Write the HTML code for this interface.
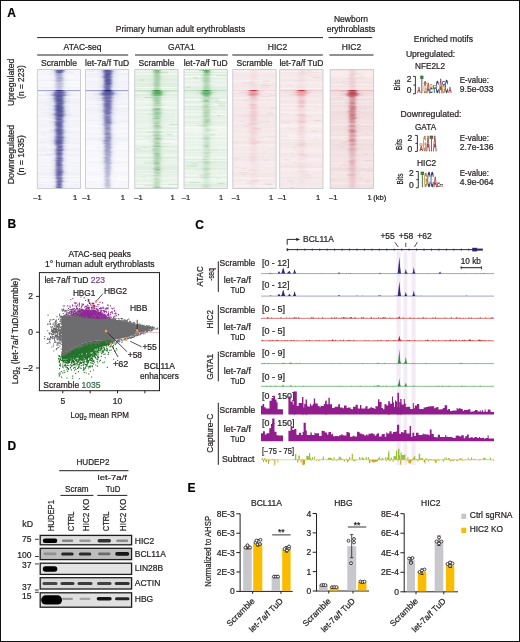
<!DOCTYPE html><html><head><meta charset="utf-8"><style>html,body{margin:0;padding:0;background:#fff;}body{width:520px;height:642px;overflow:hidden;font-family:"Liberation Sans",sans-serif;}svg{display:block;will-change:transform;}text{stroke:#231f20;stroke-width:0.22px;}</style></head><body><svg width="520" height="642" viewBox="0 0 520 642" font-family="Liberation Sans, sans-serif" fill="#231f20"><defs><linearGradient id="a0"><stop offset="0.375" stop-color="rgb(32,32,125)" stop-opacity="0.03"/><stop offset="0.391" stop-color="rgb(32,32,125)" stop-opacity="0.04"/><stop offset="0.406" stop-color="rgb(32,32,125)" stop-opacity="0.06"/><stop offset="0.422" stop-color="rgb(32,32,125)" stop-opacity="0.08"/><stop offset="0.438" stop-color="rgb(32,32,125)" stop-opacity="0.14"/><stop offset="0.453" stop-color="rgb(32,32,125)" stop-opacity="0.36"/><stop offset="0.469" stop-color="rgb(32,32,125)" stop-opacity="0.72"/><stop offset="0.484" stop-color="rgb(32,32,125)" stop-opacity="0.96"/><stop offset="0.500" stop-color="rgb(32,32,125)" stop-opacity="1.00"/><stop offset="0.516" stop-color="rgb(32,32,125)" stop-opacity="0.96"/><stop offset="0.531" stop-color="rgb(32,32,125)" stop-opacity="0.72"/><stop offset="0.547" stop-color="rgb(32,32,125)" stop-opacity="0.36"/><stop offset="0.562" stop-color="rgb(32,32,125)" stop-opacity="0.14"/><stop offset="0.578" stop-color="rgb(32,32,125)" stop-opacity="0.08"/><stop offset="0.594" stop-color="rgb(32,32,125)" stop-opacity="0.06"/><stop offset="0.609" stop-color="rgb(32,32,125)" stop-opacity="0.04"/><stop offset="0.625" stop-color="rgb(32,32,125)" stop-opacity="0.03"/></linearGradient><linearGradient id="a1"><stop offset="0.334" stop-color="rgb(32,32,125)" stop-opacity="0.03"/><stop offset="0.355" stop-color="rgb(32,32,125)" stop-opacity="0.04"/><stop offset="0.375" stop-color="rgb(32,32,125)" stop-opacity="0.06"/><stop offset="0.396" stop-color="rgb(32,32,125)" stop-opacity="0.08"/><stop offset="0.417" stop-color="rgb(32,32,125)" stop-opacity="0.14"/><stop offset="0.438" stop-color="rgb(32,32,125)" stop-opacity="0.36"/><stop offset="0.458" stop-color="rgb(32,32,125)" stop-opacity="0.72"/><stop offset="0.479" stop-color="rgb(32,32,125)" stop-opacity="0.96"/><stop offset="0.500" stop-color="rgb(32,32,125)" stop-opacity="1.00"/><stop offset="0.521" stop-color="rgb(32,32,125)" stop-opacity="0.96"/><stop offset="0.542" stop-color="rgb(32,32,125)" stop-opacity="0.72"/><stop offset="0.562" stop-color="rgb(32,32,125)" stop-opacity="0.36"/><stop offset="0.583" stop-color="rgb(32,32,125)" stop-opacity="0.14"/><stop offset="0.604" stop-color="rgb(32,32,125)" stop-opacity="0.08"/><stop offset="0.625" stop-color="rgb(32,32,125)" stop-opacity="0.06"/><stop offset="0.645" stop-color="rgb(32,32,125)" stop-opacity="0.04"/><stop offset="0.666" stop-color="rgb(32,32,125)" stop-opacity="0.03"/></linearGradient><linearGradient id="a2"><stop offset="0.292" stop-color="rgb(32,32,125)" stop-opacity="0.03"/><stop offset="0.318" stop-color="rgb(32,32,125)" stop-opacity="0.04"/><stop offset="0.344" stop-color="rgb(32,32,125)" stop-opacity="0.06"/><stop offset="0.370" stop-color="rgb(32,32,125)" stop-opacity="0.08"/><stop offset="0.396" stop-color="rgb(32,32,125)" stop-opacity="0.14"/><stop offset="0.422" stop-color="rgb(32,32,125)" stop-opacity="0.36"/><stop offset="0.448" stop-color="rgb(32,32,125)" stop-opacity="0.72"/><stop offset="0.474" stop-color="rgb(32,32,125)" stop-opacity="0.96"/><stop offset="0.500" stop-color="rgb(32,32,125)" stop-opacity="1.00"/><stop offset="0.526" stop-color="rgb(32,32,125)" stop-opacity="0.96"/><stop offset="0.552" stop-color="rgb(32,32,125)" stop-opacity="0.72"/><stop offset="0.578" stop-color="rgb(32,32,125)" stop-opacity="0.36"/><stop offset="0.604" stop-color="rgb(32,32,125)" stop-opacity="0.14"/><stop offset="0.630" stop-color="rgb(32,32,125)" stop-opacity="0.08"/><stop offset="0.656" stop-color="rgb(32,32,125)" stop-opacity="0.06"/><stop offset="0.682" stop-color="rgb(32,32,125)" stop-opacity="0.04"/><stop offset="0.708" stop-color="rgb(32,32,125)" stop-opacity="0.03"/></linearGradient><linearGradient id="a3"><stop offset="0.251" stop-color="rgb(32,32,125)" stop-opacity="0.03"/><stop offset="0.282" stop-color="rgb(32,32,125)" stop-opacity="0.04"/><stop offset="0.313" stop-color="rgb(32,32,125)" stop-opacity="0.06"/><stop offset="0.344" stop-color="rgb(32,32,125)" stop-opacity="0.08"/><stop offset="0.375" stop-color="rgb(32,32,125)" stop-opacity="0.14"/><stop offset="0.406" stop-color="rgb(32,32,125)" stop-opacity="0.36"/><stop offset="0.438" stop-color="rgb(32,32,125)" stop-opacity="0.72"/><stop offset="0.469" stop-color="rgb(32,32,125)" stop-opacity="0.96"/><stop offset="0.500" stop-color="rgb(32,32,125)" stop-opacity="1.00"/><stop offset="0.531" stop-color="rgb(32,32,125)" stop-opacity="0.96"/><stop offset="0.562" stop-color="rgb(32,32,125)" stop-opacity="0.72"/><stop offset="0.594" stop-color="rgb(32,32,125)" stop-opacity="0.36"/><stop offset="0.625" stop-color="rgb(32,32,125)" stop-opacity="0.14"/><stop offset="0.656" stop-color="rgb(32,32,125)" stop-opacity="0.08"/><stop offset="0.687" stop-color="rgb(32,32,125)" stop-opacity="0.06"/><stop offset="0.718" stop-color="rgb(32,32,125)" stop-opacity="0.04"/><stop offset="0.749" stop-color="rgb(32,32,125)" stop-opacity="0.03"/></linearGradient><linearGradient id="a4"><stop offset="0.209" stop-color="rgb(32,32,125)" stop-opacity="0.03"/><stop offset="0.245" stop-color="rgb(32,32,125)" stop-opacity="0.04"/><stop offset="0.282" stop-color="rgb(32,32,125)" stop-opacity="0.06"/><stop offset="0.318" stop-color="rgb(32,32,125)" stop-opacity="0.08"/><stop offset="0.355" stop-color="rgb(32,32,125)" stop-opacity="0.14"/><stop offset="0.391" stop-color="rgb(32,32,125)" stop-opacity="0.36"/><stop offset="0.427" stop-color="rgb(32,32,125)" stop-opacity="0.72"/><stop offset="0.464" stop-color="rgb(32,32,125)" stop-opacity="0.96"/><stop offset="0.500" stop-color="rgb(32,32,125)" stop-opacity="1.00"/><stop offset="0.536" stop-color="rgb(32,32,125)" stop-opacity="0.96"/><stop offset="0.573" stop-color="rgb(32,32,125)" stop-opacity="0.72"/><stop offset="0.609" stop-color="rgb(32,32,125)" stop-opacity="0.36"/><stop offset="0.645" stop-color="rgb(32,32,125)" stop-opacity="0.14"/><stop offset="0.682" stop-color="rgb(32,32,125)" stop-opacity="0.08"/><stop offset="0.718" stop-color="rgb(32,32,125)" stop-opacity="0.06"/><stop offset="0.755" stop-color="rgb(32,32,125)" stop-opacity="0.04"/><stop offset="0.791" stop-color="rgb(32,32,125)" stop-opacity="0.03"/></linearGradient><linearGradient id="a5"><stop offset="0.167" stop-color="rgb(32,32,125)" stop-opacity="0.03"/><stop offset="0.209" stop-color="rgb(32,32,125)" stop-opacity="0.04"/><stop offset="0.251" stop-color="rgb(32,32,125)" stop-opacity="0.06"/><stop offset="0.292" stop-color="rgb(32,32,125)" stop-opacity="0.08"/><stop offset="0.334" stop-color="rgb(32,32,125)" stop-opacity="0.14"/><stop offset="0.375" stop-color="rgb(32,32,125)" stop-opacity="0.36"/><stop offset="0.417" stop-color="rgb(32,32,125)" stop-opacity="0.72"/><stop offset="0.458" stop-color="rgb(32,32,125)" stop-opacity="0.96"/><stop offset="0.500" stop-color="rgb(32,32,125)" stop-opacity="1.00"/><stop offset="0.542" stop-color="rgb(32,32,125)" stop-opacity="0.96"/><stop offset="0.583" stop-color="rgb(32,32,125)" stop-opacity="0.72"/><stop offset="0.625" stop-color="rgb(32,32,125)" stop-opacity="0.36"/><stop offset="0.666" stop-color="rgb(32,32,125)" stop-opacity="0.14"/><stop offset="0.708" stop-color="rgb(32,32,125)" stop-opacity="0.08"/><stop offset="0.749" stop-color="rgb(32,32,125)" stop-opacity="0.06"/><stop offset="0.791" stop-color="rgb(32,32,125)" stop-opacity="0.04"/><stop offset="0.833" stop-color="rgb(32,32,125)" stop-opacity="0.03"/></linearGradient><linearGradient id="a6"><stop offset="0.118" stop-color="rgb(32,32,125)" stop-opacity="0.03"/><stop offset="0.165" stop-color="rgb(32,32,125)" stop-opacity="0.04"/><stop offset="0.213" stop-color="rgb(32,32,125)" stop-opacity="0.06"/><stop offset="0.261" stop-color="rgb(32,32,125)" stop-opacity="0.08"/><stop offset="0.309" stop-color="rgb(32,32,125)" stop-opacity="0.14"/><stop offset="0.357" stop-color="rgb(32,32,125)" stop-opacity="0.36"/><stop offset="0.404" stop-color="rgb(32,32,125)" stop-opacity="0.72"/><stop offset="0.452" stop-color="rgb(32,32,125)" stop-opacity="0.96"/><stop offset="0.500" stop-color="rgb(32,32,125)" stop-opacity="1.00"/><stop offset="0.548" stop-color="rgb(32,32,125)" stop-opacity="0.96"/><stop offset="0.596" stop-color="rgb(32,32,125)" stop-opacity="0.72"/><stop offset="0.643" stop-color="rgb(32,32,125)" stop-opacity="0.36"/><stop offset="0.691" stop-color="rgb(32,32,125)" stop-opacity="0.14"/><stop offset="0.739" stop-color="rgb(32,32,125)" stop-opacity="0.08"/><stop offset="0.787" stop-color="rgb(32,32,125)" stop-opacity="0.06"/><stop offset="0.835" stop-color="rgb(32,32,125)" stop-opacity="0.04"/><stop offset="0.882" stop-color="rgb(32,32,125)" stop-opacity="0.03"/></linearGradient><linearGradient id="a7"><stop offset="0.051" stop-color="rgb(32,32,125)" stop-opacity="0.03"/><stop offset="0.107" stop-color="rgb(32,32,125)" stop-opacity="0.04"/><stop offset="0.163" stop-color="rgb(32,32,125)" stop-opacity="0.06"/><stop offset="0.219" stop-color="rgb(32,32,125)" stop-opacity="0.08"/><stop offset="0.276" stop-color="rgb(32,32,125)" stop-opacity="0.14"/><stop offset="0.332" stop-color="rgb(32,32,125)" stop-opacity="0.36"/><stop offset="0.388" stop-color="rgb(32,32,125)" stop-opacity="0.72"/><stop offset="0.444" stop-color="rgb(32,32,125)" stop-opacity="0.96"/><stop offset="0.500" stop-color="rgb(32,32,125)" stop-opacity="1.00"/><stop offset="0.556" stop-color="rgb(32,32,125)" stop-opacity="0.96"/><stop offset="0.612" stop-color="rgb(32,32,125)" stop-opacity="0.72"/><stop offset="0.668" stop-color="rgb(32,32,125)" stop-opacity="0.36"/><stop offset="0.724" stop-color="rgb(32,32,125)" stop-opacity="0.14"/><stop offset="0.781" stop-color="rgb(32,32,125)" stop-opacity="0.08"/><stop offset="0.837" stop-color="rgb(32,32,125)" stop-opacity="0.06"/><stop offset="0.893" stop-color="rgb(32,32,125)" stop-opacity="0.04"/><stop offset="0.949" stop-color="rgb(32,32,125)" stop-opacity="0.03"/></linearGradient><linearGradient id="a8"><stop offset="0.000" stop-color="rgb(32,32,125)" stop-opacity="0.03"/><stop offset="0.062" stop-color="rgb(32,32,125)" stop-opacity="0.05"/><stop offset="0.125" stop-color="rgb(32,32,125)" stop-opacity="0.06"/><stop offset="0.188" stop-color="rgb(32,32,125)" stop-opacity="0.09"/><stop offset="0.250" stop-color="rgb(32,32,125)" stop-opacity="0.18"/><stop offset="0.312" stop-color="rgb(32,32,125)" stop-opacity="0.44"/><stop offset="0.375" stop-color="rgb(32,32,125)" stop-opacity="0.77"/><stop offset="0.438" stop-color="rgb(32,32,125)" stop-opacity="0.97"/><stop offset="0.500" stop-color="rgb(32,32,125)" stop-opacity="1.00"/><stop offset="0.562" stop-color="rgb(32,32,125)" stop-opacity="0.97"/><stop offset="0.625" stop-color="rgb(32,32,125)" stop-opacity="0.77"/><stop offset="0.688" stop-color="rgb(32,32,125)" stop-opacity="0.44"/><stop offset="0.750" stop-color="rgb(32,32,125)" stop-opacity="0.18"/><stop offset="0.812" stop-color="rgb(32,32,125)" stop-opacity="0.09"/><stop offset="0.875" stop-color="rgb(32,32,125)" stop-opacity="0.06"/><stop offset="0.938" stop-color="rgb(32,32,125)" stop-opacity="0.05"/><stop offset="1.000" stop-color="rgb(32,32,125)" stop-opacity="0.03"/></linearGradient><linearGradient id="g0"><stop offset="0.375" stop-color="rgb(38,140,45)" stop-opacity="0.03"/><stop offset="0.391" stop-color="rgb(38,140,45)" stop-opacity="0.04"/><stop offset="0.406" stop-color="rgb(38,140,45)" stop-opacity="0.06"/><stop offset="0.422" stop-color="rgb(38,140,45)" stop-opacity="0.08"/><stop offset="0.438" stop-color="rgb(38,140,45)" stop-opacity="0.14"/><stop offset="0.453" stop-color="rgb(38,140,45)" stop-opacity="0.36"/><stop offset="0.469" stop-color="rgb(38,140,45)" stop-opacity="0.72"/><stop offset="0.484" stop-color="rgb(38,140,45)" stop-opacity="0.96"/><stop offset="0.500" stop-color="rgb(38,140,45)" stop-opacity="1.00"/><stop offset="0.516" stop-color="rgb(38,140,45)" stop-opacity="0.96"/><stop offset="0.531" stop-color="rgb(38,140,45)" stop-opacity="0.72"/><stop offset="0.547" stop-color="rgb(38,140,45)" stop-opacity="0.36"/><stop offset="0.562" stop-color="rgb(38,140,45)" stop-opacity="0.14"/><stop offset="0.578" stop-color="rgb(38,140,45)" stop-opacity="0.08"/><stop offset="0.594" stop-color="rgb(38,140,45)" stop-opacity="0.06"/><stop offset="0.609" stop-color="rgb(38,140,45)" stop-opacity="0.04"/><stop offset="0.625" stop-color="rgb(38,140,45)" stop-opacity="0.03"/></linearGradient><linearGradient id="g1"><stop offset="0.334" stop-color="rgb(38,140,45)" stop-opacity="0.03"/><stop offset="0.355" stop-color="rgb(38,140,45)" stop-opacity="0.04"/><stop offset="0.375" stop-color="rgb(38,140,45)" stop-opacity="0.06"/><stop offset="0.396" stop-color="rgb(38,140,45)" stop-opacity="0.08"/><stop offset="0.417" stop-color="rgb(38,140,45)" stop-opacity="0.14"/><stop offset="0.438" stop-color="rgb(38,140,45)" stop-opacity="0.36"/><stop offset="0.458" stop-color="rgb(38,140,45)" stop-opacity="0.72"/><stop offset="0.479" stop-color="rgb(38,140,45)" stop-opacity="0.96"/><stop offset="0.500" stop-color="rgb(38,140,45)" stop-opacity="1.00"/><stop offset="0.521" stop-color="rgb(38,140,45)" stop-opacity="0.96"/><stop offset="0.542" stop-color="rgb(38,140,45)" stop-opacity="0.72"/><stop offset="0.562" stop-color="rgb(38,140,45)" stop-opacity="0.36"/><stop offset="0.583" stop-color="rgb(38,140,45)" stop-opacity="0.14"/><stop offset="0.604" stop-color="rgb(38,140,45)" stop-opacity="0.08"/><stop offset="0.625" stop-color="rgb(38,140,45)" stop-opacity="0.06"/><stop offset="0.645" stop-color="rgb(38,140,45)" stop-opacity="0.04"/><stop offset="0.666" stop-color="rgb(38,140,45)" stop-opacity="0.03"/></linearGradient><linearGradient id="g2"><stop offset="0.292" stop-color="rgb(38,140,45)" stop-opacity="0.03"/><stop offset="0.318" stop-color="rgb(38,140,45)" stop-opacity="0.04"/><stop offset="0.344" stop-color="rgb(38,140,45)" stop-opacity="0.06"/><stop offset="0.370" stop-color="rgb(38,140,45)" stop-opacity="0.08"/><stop offset="0.396" stop-color="rgb(38,140,45)" stop-opacity="0.14"/><stop offset="0.422" stop-color="rgb(38,140,45)" stop-opacity="0.36"/><stop offset="0.448" stop-color="rgb(38,140,45)" stop-opacity="0.72"/><stop offset="0.474" stop-color="rgb(38,140,45)" stop-opacity="0.96"/><stop offset="0.500" stop-color="rgb(38,140,45)" stop-opacity="1.00"/><stop offset="0.526" stop-color="rgb(38,140,45)" stop-opacity="0.96"/><stop offset="0.552" stop-color="rgb(38,140,45)" stop-opacity="0.72"/><stop offset="0.578" stop-color="rgb(38,140,45)" stop-opacity="0.36"/><stop offset="0.604" stop-color="rgb(38,140,45)" stop-opacity="0.14"/><stop offset="0.630" stop-color="rgb(38,140,45)" stop-opacity="0.08"/><stop offset="0.656" stop-color="rgb(38,140,45)" stop-opacity="0.06"/><stop offset="0.682" stop-color="rgb(38,140,45)" stop-opacity="0.04"/><stop offset="0.708" stop-color="rgb(38,140,45)" stop-opacity="0.03"/></linearGradient><linearGradient id="g3"><stop offset="0.251" stop-color="rgb(38,140,45)" stop-opacity="0.03"/><stop offset="0.282" stop-color="rgb(38,140,45)" stop-opacity="0.04"/><stop offset="0.313" stop-color="rgb(38,140,45)" stop-opacity="0.06"/><stop offset="0.344" stop-color="rgb(38,140,45)" stop-opacity="0.08"/><stop offset="0.375" stop-color="rgb(38,140,45)" stop-opacity="0.14"/><stop offset="0.406" stop-color="rgb(38,140,45)" stop-opacity="0.36"/><stop offset="0.438" stop-color="rgb(38,140,45)" stop-opacity="0.72"/><stop offset="0.469" stop-color="rgb(38,140,45)" stop-opacity="0.96"/><stop offset="0.500" stop-color="rgb(38,140,45)" stop-opacity="1.00"/><stop offset="0.531" stop-color="rgb(38,140,45)" stop-opacity="0.96"/><stop offset="0.562" stop-color="rgb(38,140,45)" stop-opacity="0.72"/><stop offset="0.594" stop-color="rgb(38,140,45)" stop-opacity="0.36"/><stop offset="0.625" stop-color="rgb(38,140,45)" stop-opacity="0.14"/><stop offset="0.656" stop-color="rgb(38,140,45)" stop-opacity="0.08"/><stop offset="0.687" stop-color="rgb(38,140,45)" stop-opacity="0.06"/><stop offset="0.718" stop-color="rgb(38,140,45)" stop-opacity="0.04"/><stop offset="0.749" stop-color="rgb(38,140,45)" stop-opacity="0.03"/></linearGradient><linearGradient id="g4"><stop offset="0.209" stop-color="rgb(38,140,45)" stop-opacity="0.03"/><stop offset="0.245" stop-color="rgb(38,140,45)" stop-opacity="0.04"/><stop offset="0.282" stop-color="rgb(38,140,45)" stop-opacity="0.06"/><stop offset="0.318" stop-color="rgb(38,140,45)" stop-opacity="0.08"/><stop offset="0.355" stop-color="rgb(38,140,45)" stop-opacity="0.14"/><stop offset="0.391" stop-color="rgb(38,140,45)" stop-opacity="0.36"/><stop offset="0.427" stop-color="rgb(38,140,45)" stop-opacity="0.72"/><stop offset="0.464" stop-color="rgb(38,140,45)" stop-opacity="0.96"/><stop offset="0.500" stop-color="rgb(38,140,45)" stop-opacity="1.00"/><stop offset="0.536" stop-color="rgb(38,140,45)" stop-opacity="0.96"/><stop offset="0.573" stop-color="rgb(38,140,45)" stop-opacity="0.72"/><stop offset="0.609" stop-color="rgb(38,140,45)" stop-opacity="0.36"/><stop offset="0.645" stop-color="rgb(38,140,45)" stop-opacity="0.14"/><stop offset="0.682" stop-color="rgb(38,140,45)" stop-opacity="0.08"/><stop offset="0.718" stop-color="rgb(38,140,45)" stop-opacity="0.06"/><stop offset="0.755" stop-color="rgb(38,140,45)" stop-opacity="0.04"/><stop offset="0.791" stop-color="rgb(38,140,45)" stop-opacity="0.03"/></linearGradient><linearGradient id="g5"><stop offset="0.167" stop-color="rgb(38,140,45)" stop-opacity="0.03"/><stop offset="0.209" stop-color="rgb(38,140,45)" stop-opacity="0.04"/><stop offset="0.251" stop-color="rgb(38,140,45)" stop-opacity="0.06"/><stop offset="0.292" stop-color="rgb(38,140,45)" stop-opacity="0.08"/><stop offset="0.334" stop-color="rgb(38,140,45)" stop-opacity="0.14"/><stop offset="0.375" stop-color="rgb(38,140,45)" stop-opacity="0.36"/><stop offset="0.417" stop-color="rgb(38,140,45)" stop-opacity="0.72"/><stop offset="0.458" stop-color="rgb(38,140,45)" stop-opacity="0.96"/><stop offset="0.500" stop-color="rgb(38,140,45)" stop-opacity="1.00"/><stop offset="0.542" stop-color="rgb(38,140,45)" stop-opacity="0.96"/><stop offset="0.583" stop-color="rgb(38,140,45)" stop-opacity="0.72"/><stop offset="0.625" stop-color="rgb(38,140,45)" stop-opacity="0.36"/><stop offset="0.666" stop-color="rgb(38,140,45)" stop-opacity="0.14"/><stop offset="0.708" stop-color="rgb(38,140,45)" stop-opacity="0.08"/><stop offset="0.749" stop-color="rgb(38,140,45)" stop-opacity="0.06"/><stop offset="0.791" stop-color="rgb(38,140,45)" stop-opacity="0.04"/><stop offset="0.833" stop-color="rgb(38,140,45)" stop-opacity="0.03"/></linearGradient><linearGradient id="g6"><stop offset="0.118" stop-color="rgb(38,140,45)" stop-opacity="0.03"/><stop offset="0.165" stop-color="rgb(38,140,45)" stop-opacity="0.04"/><stop offset="0.213" stop-color="rgb(38,140,45)" stop-opacity="0.06"/><stop offset="0.261" stop-color="rgb(38,140,45)" stop-opacity="0.08"/><stop offset="0.309" stop-color="rgb(38,140,45)" stop-opacity="0.14"/><stop offset="0.357" stop-color="rgb(38,140,45)" stop-opacity="0.36"/><stop offset="0.404" stop-color="rgb(38,140,45)" stop-opacity="0.72"/><stop offset="0.452" stop-color="rgb(38,140,45)" stop-opacity="0.96"/><stop offset="0.500" stop-color="rgb(38,140,45)" stop-opacity="1.00"/><stop offset="0.548" stop-color="rgb(38,140,45)" stop-opacity="0.96"/><stop offset="0.596" stop-color="rgb(38,140,45)" stop-opacity="0.72"/><stop offset="0.643" stop-color="rgb(38,140,45)" stop-opacity="0.36"/><stop offset="0.691" stop-color="rgb(38,140,45)" stop-opacity="0.14"/><stop offset="0.739" stop-color="rgb(38,140,45)" stop-opacity="0.08"/><stop offset="0.787" stop-color="rgb(38,140,45)" stop-opacity="0.06"/><stop offset="0.835" stop-color="rgb(38,140,45)" stop-opacity="0.04"/><stop offset="0.882" stop-color="rgb(38,140,45)" stop-opacity="0.03"/></linearGradient><linearGradient id="g7"><stop offset="0.051" stop-color="rgb(38,140,45)" stop-opacity="0.03"/><stop offset="0.107" stop-color="rgb(38,140,45)" stop-opacity="0.04"/><stop offset="0.163" stop-color="rgb(38,140,45)" stop-opacity="0.06"/><stop offset="0.219" stop-color="rgb(38,140,45)" stop-opacity="0.08"/><stop offset="0.276" stop-color="rgb(38,140,45)" stop-opacity="0.14"/><stop offset="0.332" stop-color="rgb(38,140,45)" stop-opacity="0.36"/><stop offset="0.388" stop-color="rgb(38,140,45)" stop-opacity="0.72"/><stop offset="0.444" stop-color="rgb(38,140,45)" stop-opacity="0.96"/><stop offset="0.500" stop-color="rgb(38,140,45)" stop-opacity="1.00"/><stop offset="0.556" stop-color="rgb(38,140,45)" stop-opacity="0.96"/><stop offset="0.612" stop-color="rgb(38,140,45)" stop-opacity="0.72"/><stop offset="0.668" stop-color="rgb(38,140,45)" stop-opacity="0.36"/><stop offset="0.724" stop-color="rgb(38,140,45)" stop-opacity="0.14"/><stop offset="0.781" stop-color="rgb(38,140,45)" stop-opacity="0.08"/><stop offset="0.837" stop-color="rgb(38,140,45)" stop-opacity="0.06"/><stop offset="0.893" stop-color="rgb(38,140,45)" stop-opacity="0.04"/><stop offset="0.949" stop-color="rgb(38,140,45)" stop-opacity="0.03"/></linearGradient><linearGradient id="g8"><stop offset="0.000" stop-color="rgb(38,140,45)" stop-opacity="0.03"/><stop offset="0.062" stop-color="rgb(38,140,45)" stop-opacity="0.05"/><stop offset="0.125" stop-color="rgb(38,140,45)" stop-opacity="0.06"/><stop offset="0.188" stop-color="rgb(38,140,45)" stop-opacity="0.09"/><stop offset="0.250" stop-color="rgb(38,140,45)" stop-opacity="0.18"/><stop offset="0.312" stop-color="rgb(38,140,45)" stop-opacity="0.44"/><stop offset="0.375" stop-color="rgb(38,140,45)" stop-opacity="0.77"/><stop offset="0.438" stop-color="rgb(38,140,45)" stop-opacity="0.97"/><stop offset="0.500" stop-color="rgb(38,140,45)" stop-opacity="1.00"/><stop offset="0.562" stop-color="rgb(38,140,45)" stop-opacity="0.97"/><stop offset="0.625" stop-color="rgb(38,140,45)" stop-opacity="0.77"/><stop offset="0.688" stop-color="rgb(38,140,45)" stop-opacity="0.44"/><stop offset="0.750" stop-color="rgb(38,140,45)" stop-opacity="0.18"/><stop offset="0.812" stop-color="rgb(38,140,45)" stop-opacity="0.09"/><stop offset="0.875" stop-color="rgb(38,140,45)" stop-opacity="0.06"/><stop offset="0.938" stop-color="rgb(38,140,45)" stop-opacity="0.05"/><stop offset="1.000" stop-color="rgb(38,140,45)" stop-opacity="0.03"/></linearGradient><linearGradient id="h0"><stop offset="0.375" stop-color="rgb(200,35,50)" stop-opacity="0.03"/><stop offset="0.391" stop-color="rgb(200,35,50)" stop-opacity="0.04"/><stop offset="0.406" stop-color="rgb(200,35,50)" stop-opacity="0.06"/><stop offset="0.422" stop-color="rgb(200,35,50)" stop-opacity="0.08"/><stop offset="0.438" stop-color="rgb(200,35,50)" stop-opacity="0.14"/><stop offset="0.453" stop-color="rgb(200,35,50)" stop-opacity="0.36"/><stop offset="0.469" stop-color="rgb(200,35,50)" stop-opacity="0.72"/><stop offset="0.484" stop-color="rgb(200,35,50)" stop-opacity="0.96"/><stop offset="0.500" stop-color="rgb(200,35,50)" stop-opacity="1.00"/><stop offset="0.516" stop-color="rgb(200,35,50)" stop-opacity="0.96"/><stop offset="0.531" stop-color="rgb(200,35,50)" stop-opacity="0.72"/><stop offset="0.547" stop-color="rgb(200,35,50)" stop-opacity="0.36"/><stop offset="0.562" stop-color="rgb(200,35,50)" stop-opacity="0.14"/><stop offset="0.578" stop-color="rgb(200,35,50)" stop-opacity="0.08"/><stop offset="0.594" stop-color="rgb(200,35,50)" stop-opacity="0.06"/><stop offset="0.609" stop-color="rgb(200,35,50)" stop-opacity="0.04"/><stop offset="0.625" stop-color="rgb(200,35,50)" stop-opacity="0.03"/></linearGradient><linearGradient id="h1"><stop offset="0.334" stop-color="rgb(200,35,50)" stop-opacity="0.03"/><stop offset="0.355" stop-color="rgb(200,35,50)" stop-opacity="0.04"/><stop offset="0.375" stop-color="rgb(200,35,50)" stop-opacity="0.06"/><stop offset="0.396" stop-color="rgb(200,35,50)" stop-opacity="0.08"/><stop offset="0.417" stop-color="rgb(200,35,50)" stop-opacity="0.14"/><stop offset="0.438" stop-color="rgb(200,35,50)" stop-opacity="0.36"/><stop offset="0.458" stop-color="rgb(200,35,50)" stop-opacity="0.72"/><stop offset="0.479" stop-color="rgb(200,35,50)" stop-opacity="0.96"/><stop offset="0.500" stop-color="rgb(200,35,50)" stop-opacity="1.00"/><stop offset="0.521" stop-color="rgb(200,35,50)" stop-opacity="0.96"/><stop offset="0.542" stop-color="rgb(200,35,50)" stop-opacity="0.72"/><stop offset="0.562" stop-color="rgb(200,35,50)" stop-opacity="0.36"/><stop offset="0.583" stop-color="rgb(200,35,50)" stop-opacity="0.14"/><stop offset="0.604" stop-color="rgb(200,35,50)" stop-opacity="0.08"/><stop offset="0.625" stop-color="rgb(200,35,50)" stop-opacity="0.06"/><stop offset="0.645" stop-color="rgb(200,35,50)" stop-opacity="0.04"/><stop offset="0.666" stop-color="rgb(200,35,50)" stop-opacity="0.03"/></linearGradient><linearGradient id="h2"><stop offset="0.292" stop-color="rgb(200,35,50)" stop-opacity="0.03"/><stop offset="0.318" stop-color="rgb(200,35,50)" stop-opacity="0.04"/><stop offset="0.344" stop-color="rgb(200,35,50)" stop-opacity="0.06"/><stop offset="0.370" stop-color="rgb(200,35,50)" stop-opacity="0.08"/><stop offset="0.396" stop-color="rgb(200,35,50)" stop-opacity="0.14"/><stop offset="0.422" stop-color="rgb(200,35,50)" stop-opacity="0.36"/><stop offset="0.448" stop-color="rgb(200,35,50)" stop-opacity="0.72"/><stop offset="0.474" stop-color="rgb(200,35,50)" stop-opacity="0.96"/><stop offset="0.500" stop-color="rgb(200,35,50)" stop-opacity="1.00"/><stop offset="0.526" stop-color="rgb(200,35,50)" stop-opacity="0.96"/><stop offset="0.552" stop-color="rgb(200,35,50)" stop-opacity="0.72"/><stop offset="0.578" stop-color="rgb(200,35,50)" stop-opacity="0.36"/><stop offset="0.604" stop-color="rgb(200,35,50)" stop-opacity="0.14"/><stop offset="0.630" stop-color="rgb(200,35,50)" stop-opacity="0.08"/><stop offset="0.656" stop-color="rgb(200,35,50)" stop-opacity="0.06"/><stop offset="0.682" stop-color="rgb(200,35,50)" stop-opacity="0.04"/><stop offset="0.708" stop-color="rgb(200,35,50)" stop-opacity="0.03"/></linearGradient><linearGradient id="h3"><stop offset="0.251" stop-color="rgb(200,35,50)" stop-opacity="0.03"/><stop offset="0.282" stop-color="rgb(200,35,50)" stop-opacity="0.04"/><stop offset="0.313" stop-color="rgb(200,35,50)" stop-opacity="0.06"/><stop offset="0.344" stop-color="rgb(200,35,50)" stop-opacity="0.08"/><stop offset="0.375" stop-color="rgb(200,35,50)" stop-opacity="0.14"/><stop offset="0.406" stop-color="rgb(200,35,50)" stop-opacity="0.36"/><stop offset="0.438" stop-color="rgb(200,35,50)" stop-opacity="0.72"/><stop offset="0.469" stop-color="rgb(200,35,50)" stop-opacity="0.96"/><stop offset="0.500" stop-color="rgb(200,35,50)" stop-opacity="1.00"/><stop offset="0.531" stop-color="rgb(200,35,50)" stop-opacity="0.96"/><stop offset="0.562" stop-color="rgb(200,35,50)" stop-opacity="0.72"/><stop offset="0.594" stop-color="rgb(200,35,50)" stop-opacity="0.36"/><stop offset="0.625" stop-color="rgb(200,35,50)" stop-opacity="0.14"/><stop offset="0.656" stop-color="rgb(200,35,50)" stop-opacity="0.08"/><stop offset="0.687" stop-color="rgb(200,35,50)" stop-opacity="0.06"/><stop offset="0.718" stop-color="rgb(200,35,50)" stop-opacity="0.04"/><stop offset="0.749" stop-color="rgb(200,35,50)" stop-opacity="0.03"/></linearGradient><linearGradient id="h4"><stop offset="0.209" stop-color="rgb(200,35,50)" stop-opacity="0.03"/><stop offset="0.245" stop-color="rgb(200,35,50)" stop-opacity="0.04"/><stop offset="0.282" stop-color="rgb(200,35,50)" stop-opacity="0.06"/><stop offset="0.318" stop-color="rgb(200,35,50)" stop-opacity="0.08"/><stop offset="0.355" stop-color="rgb(200,35,50)" stop-opacity="0.14"/><stop offset="0.391" stop-color="rgb(200,35,50)" stop-opacity="0.36"/><stop offset="0.427" stop-color="rgb(200,35,50)" stop-opacity="0.72"/><stop offset="0.464" stop-color="rgb(200,35,50)" stop-opacity="0.96"/><stop offset="0.500" stop-color="rgb(200,35,50)" stop-opacity="1.00"/><stop offset="0.536" stop-color="rgb(200,35,50)" stop-opacity="0.96"/><stop offset="0.573" stop-color="rgb(200,35,50)" stop-opacity="0.72"/><stop offset="0.609" stop-color="rgb(200,35,50)" stop-opacity="0.36"/><stop offset="0.645" stop-color="rgb(200,35,50)" stop-opacity="0.14"/><stop offset="0.682" stop-color="rgb(200,35,50)" stop-opacity="0.08"/><stop offset="0.718" stop-color="rgb(200,35,50)" stop-opacity="0.06"/><stop offset="0.755" stop-color="rgb(200,35,50)" stop-opacity="0.04"/><stop offset="0.791" stop-color="rgb(200,35,50)" stop-opacity="0.03"/></linearGradient><linearGradient id="h5"><stop offset="0.167" stop-color="rgb(200,35,50)" stop-opacity="0.03"/><stop offset="0.209" stop-color="rgb(200,35,50)" stop-opacity="0.04"/><stop offset="0.251" stop-color="rgb(200,35,50)" stop-opacity="0.06"/><stop offset="0.292" stop-color="rgb(200,35,50)" stop-opacity="0.08"/><stop offset="0.334" stop-color="rgb(200,35,50)" stop-opacity="0.14"/><stop offset="0.375" stop-color="rgb(200,35,50)" stop-opacity="0.36"/><stop offset="0.417" stop-color="rgb(200,35,50)" stop-opacity="0.72"/><stop offset="0.458" stop-color="rgb(200,35,50)" stop-opacity="0.96"/><stop offset="0.500" stop-color="rgb(200,35,50)" stop-opacity="1.00"/><stop offset="0.542" stop-color="rgb(200,35,50)" stop-opacity="0.96"/><stop offset="0.583" stop-color="rgb(200,35,50)" stop-opacity="0.72"/><stop offset="0.625" stop-color="rgb(200,35,50)" stop-opacity="0.36"/><stop offset="0.666" stop-color="rgb(200,35,50)" stop-opacity="0.14"/><stop offset="0.708" stop-color="rgb(200,35,50)" stop-opacity="0.08"/><stop offset="0.749" stop-color="rgb(200,35,50)" stop-opacity="0.06"/><stop offset="0.791" stop-color="rgb(200,35,50)" stop-opacity="0.04"/><stop offset="0.833" stop-color="rgb(200,35,50)" stop-opacity="0.03"/></linearGradient><linearGradient id="h6"><stop offset="0.118" stop-color="rgb(200,35,50)" stop-opacity="0.03"/><stop offset="0.165" stop-color="rgb(200,35,50)" stop-opacity="0.04"/><stop offset="0.213" stop-color="rgb(200,35,50)" stop-opacity="0.06"/><stop offset="0.261" stop-color="rgb(200,35,50)" stop-opacity="0.08"/><stop offset="0.309" stop-color="rgb(200,35,50)" stop-opacity="0.14"/><stop offset="0.357" stop-color="rgb(200,35,50)" stop-opacity="0.36"/><stop offset="0.404" stop-color="rgb(200,35,50)" stop-opacity="0.72"/><stop offset="0.452" stop-color="rgb(200,35,50)" stop-opacity="0.96"/><stop offset="0.500" stop-color="rgb(200,35,50)" stop-opacity="1.00"/><stop offset="0.548" stop-color="rgb(200,35,50)" stop-opacity="0.96"/><stop offset="0.596" stop-color="rgb(200,35,50)" stop-opacity="0.72"/><stop offset="0.643" stop-color="rgb(200,35,50)" stop-opacity="0.36"/><stop offset="0.691" stop-color="rgb(200,35,50)" stop-opacity="0.14"/><stop offset="0.739" stop-color="rgb(200,35,50)" stop-opacity="0.08"/><stop offset="0.787" stop-color="rgb(200,35,50)" stop-opacity="0.06"/><stop offset="0.835" stop-color="rgb(200,35,50)" stop-opacity="0.04"/><stop offset="0.882" stop-color="rgb(200,35,50)" stop-opacity="0.03"/></linearGradient><linearGradient id="h7"><stop offset="0.051" stop-color="rgb(200,35,50)" stop-opacity="0.03"/><stop offset="0.107" stop-color="rgb(200,35,50)" stop-opacity="0.04"/><stop offset="0.163" stop-color="rgb(200,35,50)" stop-opacity="0.06"/><stop offset="0.219" stop-color="rgb(200,35,50)" stop-opacity="0.08"/><stop offset="0.276" stop-color="rgb(200,35,50)" stop-opacity="0.14"/><stop offset="0.332" stop-color="rgb(200,35,50)" stop-opacity="0.36"/><stop offset="0.388" stop-color="rgb(200,35,50)" stop-opacity="0.72"/><stop offset="0.444" stop-color="rgb(200,35,50)" stop-opacity="0.96"/><stop offset="0.500" stop-color="rgb(200,35,50)" stop-opacity="1.00"/><stop offset="0.556" stop-color="rgb(200,35,50)" stop-opacity="0.96"/><stop offset="0.612" stop-color="rgb(200,35,50)" stop-opacity="0.72"/><stop offset="0.668" stop-color="rgb(200,35,50)" stop-opacity="0.36"/><stop offset="0.724" stop-color="rgb(200,35,50)" stop-opacity="0.14"/><stop offset="0.781" stop-color="rgb(200,35,50)" stop-opacity="0.08"/><stop offset="0.837" stop-color="rgb(200,35,50)" stop-opacity="0.06"/><stop offset="0.893" stop-color="rgb(200,35,50)" stop-opacity="0.04"/><stop offset="0.949" stop-color="rgb(200,35,50)" stop-opacity="0.03"/></linearGradient><linearGradient id="h8"><stop offset="0.000" stop-color="rgb(200,35,50)" stop-opacity="0.03"/><stop offset="0.062" stop-color="rgb(200,35,50)" stop-opacity="0.05"/><stop offset="0.125" stop-color="rgb(200,35,50)" stop-opacity="0.06"/><stop offset="0.188" stop-color="rgb(200,35,50)" stop-opacity="0.09"/><stop offset="0.250" stop-color="rgb(200,35,50)" stop-opacity="0.18"/><stop offset="0.312" stop-color="rgb(200,35,50)" stop-opacity="0.44"/><stop offset="0.375" stop-color="rgb(200,35,50)" stop-opacity="0.77"/><stop offset="0.438" stop-color="rgb(200,35,50)" stop-opacity="0.97"/><stop offset="0.500" stop-color="rgb(200,35,50)" stop-opacity="1.00"/><stop offset="0.562" stop-color="rgb(200,35,50)" stop-opacity="0.97"/><stop offset="0.625" stop-color="rgb(200,35,50)" stop-opacity="0.77"/><stop offset="0.688" stop-color="rgb(200,35,50)" stop-opacity="0.44"/><stop offset="0.750" stop-color="rgb(200,35,50)" stop-opacity="0.18"/><stop offset="0.812" stop-color="rgb(200,35,50)" stop-opacity="0.09"/><stop offset="0.875" stop-color="rgb(200,35,50)" stop-opacity="0.06"/><stop offset="0.938" stop-color="rgb(200,35,50)" stop-opacity="0.05"/><stop offset="1.000" stop-color="rgb(200,35,50)" stop-opacity="0.03"/></linearGradient><linearGradient id="n0"><stop offset="0.375" stop-color="rgb(165,25,40)" stop-opacity="0.03"/><stop offset="0.391" stop-color="rgb(165,25,40)" stop-opacity="0.04"/><stop offset="0.406" stop-color="rgb(165,25,40)" stop-opacity="0.06"/><stop offset="0.422" stop-color="rgb(165,25,40)" stop-opacity="0.08"/><stop offset="0.438" stop-color="rgb(165,25,40)" stop-opacity="0.14"/><stop offset="0.453" stop-color="rgb(165,25,40)" stop-opacity="0.36"/><stop offset="0.469" stop-color="rgb(165,25,40)" stop-opacity="0.72"/><stop offset="0.484" stop-color="rgb(165,25,40)" stop-opacity="0.96"/><stop offset="0.500" stop-color="rgb(165,25,40)" stop-opacity="1.00"/><stop offset="0.516" stop-color="rgb(165,25,40)" stop-opacity="0.96"/><stop offset="0.531" stop-color="rgb(165,25,40)" stop-opacity="0.72"/><stop offset="0.547" stop-color="rgb(165,25,40)" stop-opacity="0.36"/><stop offset="0.562" stop-color="rgb(165,25,40)" stop-opacity="0.14"/><stop offset="0.578" stop-color="rgb(165,25,40)" stop-opacity="0.08"/><stop offset="0.594" stop-color="rgb(165,25,40)" stop-opacity="0.06"/><stop offset="0.609" stop-color="rgb(165,25,40)" stop-opacity="0.04"/><stop offset="0.625" stop-color="rgb(165,25,40)" stop-opacity="0.03"/></linearGradient><linearGradient id="n1"><stop offset="0.334" stop-color="rgb(165,25,40)" stop-opacity="0.03"/><stop offset="0.355" stop-color="rgb(165,25,40)" stop-opacity="0.04"/><stop offset="0.375" stop-color="rgb(165,25,40)" stop-opacity="0.06"/><stop offset="0.396" stop-color="rgb(165,25,40)" stop-opacity="0.08"/><stop offset="0.417" stop-color="rgb(165,25,40)" stop-opacity="0.14"/><stop offset="0.438" stop-color="rgb(165,25,40)" stop-opacity="0.36"/><stop offset="0.458" stop-color="rgb(165,25,40)" stop-opacity="0.72"/><stop offset="0.479" stop-color="rgb(165,25,40)" stop-opacity="0.96"/><stop offset="0.500" stop-color="rgb(165,25,40)" stop-opacity="1.00"/><stop offset="0.521" stop-color="rgb(165,25,40)" stop-opacity="0.96"/><stop offset="0.542" stop-color="rgb(165,25,40)" stop-opacity="0.72"/><stop offset="0.562" stop-color="rgb(165,25,40)" stop-opacity="0.36"/><stop offset="0.583" stop-color="rgb(165,25,40)" stop-opacity="0.14"/><stop offset="0.604" stop-color="rgb(165,25,40)" stop-opacity="0.08"/><stop offset="0.625" stop-color="rgb(165,25,40)" stop-opacity="0.06"/><stop offset="0.645" stop-color="rgb(165,25,40)" stop-opacity="0.04"/><stop offset="0.666" stop-color="rgb(165,25,40)" stop-opacity="0.03"/></linearGradient><linearGradient id="n2"><stop offset="0.292" stop-color="rgb(165,25,40)" stop-opacity="0.03"/><stop offset="0.318" stop-color="rgb(165,25,40)" stop-opacity="0.04"/><stop offset="0.344" stop-color="rgb(165,25,40)" stop-opacity="0.06"/><stop offset="0.370" stop-color="rgb(165,25,40)" stop-opacity="0.08"/><stop offset="0.396" stop-color="rgb(165,25,40)" stop-opacity="0.14"/><stop offset="0.422" stop-color="rgb(165,25,40)" stop-opacity="0.36"/><stop offset="0.448" stop-color="rgb(165,25,40)" stop-opacity="0.72"/><stop offset="0.474" stop-color="rgb(165,25,40)" stop-opacity="0.96"/><stop offset="0.500" stop-color="rgb(165,25,40)" stop-opacity="1.00"/><stop offset="0.526" stop-color="rgb(165,25,40)" stop-opacity="0.96"/><stop offset="0.552" stop-color="rgb(165,25,40)" stop-opacity="0.72"/><stop offset="0.578" stop-color="rgb(165,25,40)" stop-opacity="0.36"/><stop offset="0.604" stop-color="rgb(165,25,40)" stop-opacity="0.14"/><stop offset="0.630" stop-color="rgb(165,25,40)" stop-opacity="0.08"/><stop offset="0.656" stop-color="rgb(165,25,40)" stop-opacity="0.06"/><stop offset="0.682" stop-color="rgb(165,25,40)" stop-opacity="0.04"/><stop offset="0.708" stop-color="rgb(165,25,40)" stop-opacity="0.03"/></linearGradient><linearGradient id="n3"><stop offset="0.251" stop-color="rgb(165,25,40)" stop-opacity="0.03"/><stop offset="0.282" stop-color="rgb(165,25,40)" stop-opacity="0.04"/><stop offset="0.313" stop-color="rgb(165,25,40)" stop-opacity="0.06"/><stop offset="0.344" stop-color="rgb(165,25,40)" stop-opacity="0.08"/><stop offset="0.375" stop-color="rgb(165,25,40)" stop-opacity="0.14"/><stop offset="0.406" stop-color="rgb(165,25,40)" stop-opacity="0.36"/><stop offset="0.438" stop-color="rgb(165,25,40)" stop-opacity="0.72"/><stop offset="0.469" stop-color="rgb(165,25,40)" stop-opacity="0.96"/><stop offset="0.500" stop-color="rgb(165,25,40)" stop-opacity="1.00"/><stop offset="0.531" stop-color="rgb(165,25,40)" stop-opacity="0.96"/><stop offset="0.562" stop-color="rgb(165,25,40)" stop-opacity="0.72"/><stop offset="0.594" stop-color="rgb(165,25,40)" stop-opacity="0.36"/><stop offset="0.625" stop-color="rgb(165,25,40)" stop-opacity="0.14"/><stop offset="0.656" stop-color="rgb(165,25,40)" stop-opacity="0.08"/><stop offset="0.687" stop-color="rgb(165,25,40)" stop-opacity="0.06"/><stop offset="0.718" stop-color="rgb(165,25,40)" stop-opacity="0.04"/><stop offset="0.749" stop-color="rgb(165,25,40)" stop-opacity="0.03"/></linearGradient><linearGradient id="n4"><stop offset="0.209" stop-color="rgb(165,25,40)" stop-opacity="0.03"/><stop offset="0.245" stop-color="rgb(165,25,40)" stop-opacity="0.04"/><stop offset="0.282" stop-color="rgb(165,25,40)" stop-opacity="0.06"/><stop offset="0.318" stop-color="rgb(165,25,40)" stop-opacity="0.08"/><stop offset="0.355" stop-color="rgb(165,25,40)" stop-opacity="0.14"/><stop offset="0.391" stop-color="rgb(165,25,40)" stop-opacity="0.36"/><stop offset="0.427" stop-color="rgb(165,25,40)" stop-opacity="0.72"/><stop offset="0.464" stop-color="rgb(165,25,40)" stop-opacity="0.96"/><stop offset="0.500" stop-color="rgb(165,25,40)" stop-opacity="1.00"/><stop offset="0.536" stop-color="rgb(165,25,40)" stop-opacity="0.96"/><stop offset="0.573" stop-color="rgb(165,25,40)" stop-opacity="0.72"/><stop offset="0.609" stop-color="rgb(165,25,40)" stop-opacity="0.36"/><stop offset="0.645" stop-color="rgb(165,25,40)" stop-opacity="0.14"/><stop offset="0.682" stop-color="rgb(165,25,40)" stop-opacity="0.08"/><stop offset="0.718" stop-color="rgb(165,25,40)" stop-opacity="0.06"/><stop offset="0.755" stop-color="rgb(165,25,40)" stop-opacity="0.04"/><stop offset="0.791" stop-color="rgb(165,25,40)" stop-opacity="0.03"/></linearGradient><linearGradient id="n5"><stop offset="0.167" stop-color="rgb(165,25,40)" stop-opacity="0.03"/><stop offset="0.209" stop-color="rgb(165,25,40)" stop-opacity="0.04"/><stop offset="0.251" stop-color="rgb(165,25,40)" stop-opacity="0.06"/><stop offset="0.292" stop-color="rgb(165,25,40)" stop-opacity="0.08"/><stop offset="0.334" stop-color="rgb(165,25,40)" stop-opacity="0.14"/><stop offset="0.375" stop-color="rgb(165,25,40)" stop-opacity="0.36"/><stop offset="0.417" stop-color="rgb(165,25,40)" stop-opacity="0.72"/><stop offset="0.458" stop-color="rgb(165,25,40)" stop-opacity="0.96"/><stop offset="0.500" stop-color="rgb(165,25,40)" stop-opacity="1.00"/><stop offset="0.542" stop-color="rgb(165,25,40)" stop-opacity="0.96"/><stop offset="0.583" stop-color="rgb(165,25,40)" stop-opacity="0.72"/><stop offset="0.625" stop-color="rgb(165,25,40)" stop-opacity="0.36"/><stop offset="0.666" stop-color="rgb(165,25,40)" stop-opacity="0.14"/><stop offset="0.708" stop-color="rgb(165,25,40)" stop-opacity="0.08"/><stop offset="0.749" stop-color="rgb(165,25,40)" stop-opacity="0.06"/><stop offset="0.791" stop-color="rgb(165,25,40)" stop-opacity="0.04"/><stop offset="0.833" stop-color="rgb(165,25,40)" stop-opacity="0.03"/></linearGradient><linearGradient id="n6"><stop offset="0.118" stop-color="rgb(165,25,40)" stop-opacity="0.03"/><stop offset="0.165" stop-color="rgb(165,25,40)" stop-opacity="0.04"/><stop offset="0.213" stop-color="rgb(165,25,40)" stop-opacity="0.06"/><stop offset="0.261" stop-color="rgb(165,25,40)" stop-opacity="0.08"/><stop offset="0.309" stop-color="rgb(165,25,40)" stop-opacity="0.14"/><stop offset="0.357" stop-color="rgb(165,25,40)" stop-opacity="0.36"/><stop offset="0.404" stop-color="rgb(165,25,40)" stop-opacity="0.72"/><stop offset="0.452" stop-color="rgb(165,25,40)" stop-opacity="0.96"/><stop offset="0.500" stop-color="rgb(165,25,40)" stop-opacity="1.00"/><stop offset="0.548" stop-color="rgb(165,25,40)" stop-opacity="0.96"/><stop offset="0.596" stop-color="rgb(165,25,40)" stop-opacity="0.72"/><stop offset="0.643" stop-color="rgb(165,25,40)" stop-opacity="0.36"/><stop offset="0.691" stop-color="rgb(165,25,40)" stop-opacity="0.14"/><stop offset="0.739" stop-color="rgb(165,25,40)" stop-opacity="0.08"/><stop offset="0.787" stop-color="rgb(165,25,40)" stop-opacity="0.06"/><stop offset="0.835" stop-color="rgb(165,25,40)" stop-opacity="0.04"/><stop offset="0.882" stop-color="rgb(165,25,40)" stop-opacity="0.03"/></linearGradient><linearGradient id="n7"><stop offset="0.051" stop-color="rgb(165,25,40)" stop-opacity="0.03"/><stop offset="0.107" stop-color="rgb(165,25,40)" stop-opacity="0.04"/><stop offset="0.163" stop-color="rgb(165,25,40)" stop-opacity="0.06"/><stop offset="0.219" stop-color="rgb(165,25,40)" stop-opacity="0.08"/><stop offset="0.276" stop-color="rgb(165,25,40)" stop-opacity="0.14"/><stop offset="0.332" stop-color="rgb(165,25,40)" stop-opacity="0.36"/><stop offset="0.388" stop-color="rgb(165,25,40)" stop-opacity="0.72"/><stop offset="0.444" stop-color="rgb(165,25,40)" stop-opacity="0.96"/><stop offset="0.500" stop-color="rgb(165,25,40)" stop-opacity="1.00"/><stop offset="0.556" stop-color="rgb(165,25,40)" stop-opacity="0.96"/><stop offset="0.612" stop-color="rgb(165,25,40)" stop-opacity="0.72"/><stop offset="0.668" stop-color="rgb(165,25,40)" stop-opacity="0.36"/><stop offset="0.724" stop-color="rgb(165,25,40)" stop-opacity="0.14"/><stop offset="0.781" stop-color="rgb(165,25,40)" stop-opacity="0.08"/><stop offset="0.837" stop-color="rgb(165,25,40)" stop-opacity="0.06"/><stop offset="0.893" stop-color="rgb(165,25,40)" stop-opacity="0.04"/><stop offset="0.949" stop-color="rgb(165,25,40)" stop-opacity="0.03"/></linearGradient><linearGradient id="n8"><stop offset="0.000" stop-color="rgb(165,25,40)" stop-opacity="0.03"/><stop offset="0.062" stop-color="rgb(165,25,40)" stop-opacity="0.05"/><stop offset="0.125" stop-color="rgb(165,25,40)" stop-opacity="0.06"/><stop offset="0.188" stop-color="rgb(165,25,40)" stop-opacity="0.09"/><stop offset="0.250" stop-color="rgb(165,25,40)" stop-opacity="0.18"/><stop offset="0.312" stop-color="rgb(165,25,40)" stop-opacity="0.44"/><stop offset="0.375" stop-color="rgb(165,25,40)" stop-opacity="0.77"/><stop offset="0.438" stop-color="rgb(165,25,40)" stop-opacity="0.97"/><stop offset="0.500" stop-color="rgb(165,25,40)" stop-opacity="1.00"/><stop offset="0.562" stop-color="rgb(165,25,40)" stop-opacity="0.97"/><stop offset="0.625" stop-color="rgb(165,25,40)" stop-opacity="0.77"/><stop offset="0.688" stop-color="rgb(165,25,40)" stop-opacity="0.44"/><stop offset="0.750" stop-color="rgb(165,25,40)" stop-opacity="0.18"/><stop offset="0.812" stop-color="rgb(165,25,40)" stop-opacity="0.09"/><stop offset="0.875" stop-color="rgb(165,25,40)" stop-opacity="0.06"/><stop offset="0.938" stop-color="rgb(165,25,40)" stop-opacity="0.05"/><stop offset="1.000" stop-color="rgb(165,25,40)" stop-opacity="0.03"/></linearGradient></defs><rect width="520" height="642" fill="#fff"/><text x="7.30" y="16.90" font-size="12.0" fill="#000" font-weight="bold" stroke="#000" stroke-width="0.1">A</text>
<text x="7.60" y="228.30" font-size="12.0" fill="#000" font-weight="bold" stroke="#000" stroke-width="0.1">B</text>
<text x="195.20" y="229.00" font-size="12.0" fill="#000" font-weight="bold" stroke="#000" stroke-width="0.1">C</text>
<text x="7.60" y="449.80" font-size="12.0" fill="#000" font-weight="bold" stroke="#000" stroke-width="0.1">D</text>
<text x="187.60" y="492.10" font-size="12.0" fill="#000" font-weight="bold" stroke="#000" stroke-width="0.1">E</text>
<text x="180.50" y="32.10" font-size="8.5" text-anchor="middle">Primary human adult erythroblasts</text>
<line x1="37.20" y1="37.60" x2="323.00" y2="37.60" stroke="#231f20" stroke-width="1.0"/>
<text x="351.00" y="22.00" font-size="8.5" text-anchor="middle">Newborn</text>
<text x="351.00" y="31.80" font-size="8.5" text-anchor="middle">erythroblasts</text>
<line x1="328.50" y1="37.60" x2="372.20" y2="37.60" stroke="#231f20" stroke-width="1.0"/>
<text x="82.60" y="49.80" font-size="8.5" text-anchor="middle">ATAC-seq</text>
<text x="181.40" y="49.80" font-size="8.5" text-anchor="middle">GATA1</text>
<text x="277.50" y="49.80" font-size="8.5" text-anchor="middle">HIC2</text>
<text x="351.50" y="49.80" font-size="8.5" text-anchor="middle">HIC2</text>
<line x1="37.20" y1="55.00" x2="128.20" y2="55.00" stroke="#231f20" stroke-width="1.0"/>
<line x1="135.00" y1="55.00" x2="227.80" y2="55.00" stroke="#231f20" stroke-width="1.0"/>
<line x1="232.30" y1="55.00" x2="322.90" y2="55.00" stroke="#231f20" stroke-width="1.0"/>
<line x1="329.50" y1="55.00" x2="373.50" y2="55.00" stroke="#231f20" stroke-width="1.0"/>
<text x="58.95" y="65.80" font-size="8.5" text-anchor="middle">Scramble</text>
<text x="107.05" y="65.80" font-size="8.5" text-anchor="middle">let-7a/f TuD</text>
<text x="156.45" y="65.80" font-size="8.5" text-anchor="middle">Scramble</text>
<text x="205.65" y="65.80" font-size="8.5" text-anchor="middle">let-7a/f TuD</text>
<text x="254.45" y="65.80" font-size="8.5" text-anchor="middle">Scramble</text>
<text x="301.35" y="65.80" font-size="8.5" text-anchor="middle">let-7a/f TuD</text>
<g transform="translate(37.30 0)">
<rect x="0.00" y="69.60" width="43.30" height="118.90" fill="rgb(252,252,255)"/>
<rect y="69.6" width="43.3" height="0.7" fill="rgb(32,32,125)" opacity="0.02"/>
<rect y="71.0" width="43.3" height="1.0" fill="rgb(32,32,125)" opacity="0.01"/>
<rect x="30.8" y="72.0" width="5.9" height=".8" fill="rgb(32,32,125)" opacity="0.05"/>
<rect y="72.7" width="43.3" height="0.7" fill="rgb(32,32,125)" opacity="0.02"/>
<rect y="73.4" width="43.3" height="0.7" fill="rgb(32,32,125)" opacity="0.02"/>
<rect x="11.7" y="73.4" width="2.2" height=".8" fill="rgb(32,32,125)" opacity="0.04"/>
<rect y="74.1" width="43.3" height="0.7" fill="rgb(32,32,125)" opacity="0.03"/>
<rect y="74.8" width="43.3" height="0.7" fill="rgb(32,32,125)" opacity="0.03"/>
<rect y="76.8" width="43.3" height="1.0" fill="rgb(32,32,125)" opacity="0.02"/>
<rect y="79.1" width="43.3" height="1.0" fill="rgb(32,32,125)" opacity="0.03"/>
<rect y="80.1" width="43.3" height="1.3" fill="rgb(32,32,125)" opacity="0.03"/>
<rect x="23.2" y="80.1" width="8.5" height=".8" fill="rgb(32,32,125)" opacity="0.02"/>
<rect y="82.7" width="43.3" height="1.3" fill="rgb(32,32,125)" opacity="0.02"/>
<rect y="84.0" width="43.3" height="1.3" fill="rgb(32,32,125)" opacity="0.02"/>
<rect y="86.3" width="43.3" height="1.0" fill="rgb(32,32,125)" opacity="0.03"/>
<rect y="87.3" width="43.3" height="1.3" fill="rgb(32,32,125)" opacity="0.03"/>
<rect y="88.6" width="43.3" height="1.3" fill="rgb(32,32,125)" opacity="0.02"/>
<rect y="90.6" width="43.3" height="1.3" fill="rgb(32,32,125)" opacity="0.02"/>
<rect x="24.4" y="90.6" width="3.0" height=".8" fill="rgb(32,32,125)" opacity="0.01"/>
<rect y="93.9" width="43.3" height="1.3" fill="rgb(32,32,125)" opacity="0.02"/>
<rect x="0.5" y="95.2" width="3.8" height=".8" fill="rgb(32,32,125)" opacity="0.06"/>
<rect y="98.5" width="43.3" height="1.3" fill="rgb(32,32,125)" opacity="0.02"/>
<rect y="100.5" width="43.3" height="1.3" fill="rgb(32,32,125)" opacity="0.02"/>
<rect x="28.6" y="100.5" width="3.8" height=".8" fill="rgb(32,32,125)" opacity="0.06"/>
<rect y="101.8" width="43.3" height="1.0" fill="rgb(32,32,125)" opacity="0.03"/>
<rect y="102.8" width="43.3" height="0.7" fill="rgb(32,32,125)" opacity="0.03"/>
<rect y="103.5" width="43.3" height="1.0" fill="rgb(32,32,125)" opacity="0.01"/>
<rect x="19.9" y="103.5" width="9.1" height=".8" fill="rgb(32,32,125)" opacity="0.02"/>
<rect x="6.5" y="104.5" width="7.3" height=".8" fill="rgb(32,32,125)" opacity="0.05"/>
<rect y="105.8" width="43.3" height="1.3" fill="rgb(32,32,125)" opacity="0.02"/>
<rect x="0.5" y="108.1" width="8.8" height=".8" fill="rgb(32,32,125)" opacity="0.01"/>
<rect y="108.8" width="43.3" height="0.7" fill="rgb(32,32,125)" opacity="0.02"/>
<rect x="10.7" y="108.8" width="3.5" height=".8" fill="rgb(32,32,125)" opacity="0.02"/>
<rect y="109.5" width="43.3" height="0.7" fill="rgb(32,32,125)" opacity="0.02"/>
<rect y="110.2" width="43.3" height="1.0" fill="rgb(32,32,125)" opacity="0.01"/>
<rect y="112.2" width="43.3" height="1.0" fill="rgb(32,32,125)" opacity="0.01"/>
<rect x="4.0" y="112.2" width="10.1" height=".8" fill="rgb(32,32,125)" opacity="0.03"/>
<rect y="113.2" width="43.3" height="0.7" fill="rgb(32,32,125)" opacity="0.03"/>
<rect y="114.6" width="43.3" height="0.7" fill="rgb(32,32,125)" opacity="0.02"/>
<rect x="25.9" y="114.6" width="8.1" height=".8" fill="rgb(32,32,125)" opacity="0.03"/>
<rect y="115.3" width="43.3" height="0.7" fill="rgb(32,32,125)" opacity="0.03"/>
<rect y="116.0" width="43.3" height="1.3" fill="rgb(32,32,125)" opacity="0.02"/>
<rect x="23.9" y="116.0" width="5.6" height=".8" fill="rgb(32,32,125)" opacity="0.03"/>
<rect y="117.3" width="43.3" height="1.0" fill="rgb(32,32,125)" opacity="0.02"/>
<rect y="120.3" width="43.3" height="1.0" fill="rgb(32,32,125)" opacity="0.03"/>
<rect y="121.3" width="43.3" height="0.7" fill="rgb(32,32,125)" opacity="0.01"/>
<rect y="122.0" width="43.3" height="0.7" fill="rgb(32,32,125)" opacity="0.02"/>
<rect y="122.7" width="43.3" height="1.3" fill="rgb(32,32,125)" opacity="0.02"/>
<rect y="124.0" width="43.3" height="1.3" fill="rgb(32,32,125)" opacity="0.01"/>
<rect y="125.3" width="43.3" height="1.3" fill="rgb(32,32,125)" opacity="0.02"/>
<rect x="7.4" y="125.3" width="2.9" height=".8" fill="rgb(32,32,125)" opacity="0.03"/>
<rect y="126.6" width="43.3" height="1.0" fill="rgb(32,32,125)" opacity="0.02"/>
<rect x="12.1" y="129.6" width="10.9" height=".8" fill="rgb(32,32,125)" opacity="0.05"/>
<rect y="130.6" width="43.3" height="1.0" fill="rgb(32,32,125)" opacity="0.01"/>
<rect y="131.6" width="43.3" height="0.7" fill="rgb(32,32,125)" opacity="0.03"/>
<rect y="132.3" width="43.3" height="1.0" fill="rgb(32,32,125)" opacity="0.03"/>
<rect y="133.3" width="43.3" height="1.3" fill="rgb(32,32,125)" opacity="0.01"/>
<rect x="4.9" y="134.6" width="3.5" height=".8" fill="rgb(32,32,125)" opacity="0.03"/>
<rect y="135.3" width="43.3" height="1.0" fill="rgb(32,32,125)" opacity="0.02"/>
<rect y="138.3" width="43.3" height="1.3" fill="rgb(32,32,125)" opacity="0.03"/>
<rect x="20.3" y="138.3" width="2.9" height=".8" fill="rgb(32,32,125)" opacity="0.00"/>
<rect y="140.3" width="43.3" height="0.7" fill="rgb(32,32,125)" opacity="0.02"/>
<rect y="141.0" width="43.3" height="1.3" fill="rgb(32,32,125)" opacity="0.02"/>
<rect y="142.3" width="43.3" height="0.7" fill="rgb(32,32,125)" opacity="0.02"/>
<rect x="3.0" y="142.3" width="4.4" height=".8" fill="rgb(32,32,125)" opacity="0.05"/>
<rect y="143.0" width="43.3" height="1.3" fill="rgb(32,32,125)" opacity="0.02"/>
<rect x="33.0" y="143.0" width="3.0" height=".8" fill="rgb(32,32,125)" opacity="0.00"/>
<rect y="145.3" width="43.3" height="0.7" fill="rgb(32,32,125)" opacity="0.01"/>
<rect y="146.7" width="43.3" height="1.3" fill="rgb(32,32,125)" opacity="0.01"/>
<rect x="6.2" y="146.7" width="4.2" height=".8" fill="rgb(32,32,125)" opacity="0.04"/>
<rect y="148.0" width="43.3" height="0.7" fill="rgb(32,32,125)" opacity="0.01"/>
<rect y="148.7" width="43.3" height="1.3" fill="rgb(32,32,125)" opacity="0.03"/>
<rect y="150.0" width="43.3" height="1.0" fill="rgb(32,32,125)" opacity="0.02"/>
<rect y="151.0" width="43.3" height="0.7" fill="rgb(32,32,125)" opacity="0.02"/>
<rect x="0.4" y="151.0" width="10.8" height=".8" fill="rgb(32,32,125)" opacity="0.02"/>
<rect y="154.0" width="43.3" height="1.3" fill="rgb(32,32,125)" opacity="0.03"/>
<rect x="7.9" y="154.0" width="7.6" height=".8" fill="rgb(32,32,125)" opacity="0.06"/>
<rect y="155.3" width="43.3" height="1.3" fill="rgb(32,32,125)" opacity="0.03"/>
<rect y="159.6" width="43.3" height="0.7" fill="rgb(32,32,125)" opacity="0.02"/>
<rect y="162.0" width="43.3" height="1.3" fill="rgb(32,32,125)" opacity="0.03"/>
<rect x="29.7" y="164.3" width="5.6" height=".8" fill="rgb(32,32,125)" opacity="0.02"/>
<rect y="165.6" width="43.3" height="0.7" fill="rgb(32,32,125)" opacity="0.02"/>
<rect x="0.4" y="165.6" width="8.8" height=".8" fill="rgb(32,32,125)" opacity="0.02"/>
<rect y="166.3" width="43.3" height="1.0" fill="rgb(32,32,125)" opacity="0.03"/>
<rect x="18.5" y="166.3" width="9.2" height=".8" fill="rgb(32,32,125)" opacity="0.00"/>
<rect y="168.6" width="43.3" height="0.7" fill="rgb(32,32,125)" opacity="0.02"/>
<rect y="169.3" width="43.3" height="0.7" fill="rgb(32,32,125)" opacity="0.02"/>
<rect y="171.3" width="43.3" height="0.7" fill="rgb(32,32,125)" opacity="0.02"/>
<rect y="172.0" width="43.3" height="1.0" fill="rgb(32,32,125)" opacity="0.02"/>
<rect y="173.0" width="43.3" height="1.3" fill="rgb(32,32,125)" opacity="0.03"/>
<rect y="174.3" width="43.3" height="1.3" fill="rgb(32,32,125)" opacity="0.03"/>
<rect x="11.0" y="174.3" width="6.8" height=".8" fill="rgb(32,32,125)" opacity="0.00"/>
<rect y="176.9" width="43.3" height="1.3" fill="rgb(32,32,125)" opacity="0.03"/>
<rect y="179.5" width="43.3" height="1.3" fill="rgb(32,32,125)" opacity="0.01"/>
<rect y="181.8" width="43.3" height="1.3" fill="rgb(32,32,125)" opacity="0.03"/>
<rect y="183.8" width="43.3" height="0.7" fill="rgb(32,32,125)" opacity="0.02"/>
<rect x="36.2" y="183.8" width="4.5" height=".8" fill="rgb(32,32,125)" opacity="0.03"/>
<rect y="184.5" width="43.3" height="0.7" fill="rgb(32,32,125)" opacity="0.02"/>
<rect x="0.3" y="184.5" width="6.8" height=".8" fill="rgb(32,32,125)" opacity="0.03"/>
<rect y="185.2" width="43.3" height="1.3" fill="rgb(32,32,125)" opacity="0.03"/>
<rect y="186.5" width="43.3" height="1.3" fill="rgb(32,32,125)" opacity="0.02"/>
<rect x="18.2" y="186.5" width="6.3" height=".8" fill="rgb(32,32,125)" opacity="0.01"/>
<rect x="0.9" y="69.6" width="43.3" height="1.0" fill="url(#a4)" opacity="1.00"/>
<rect x="0.7" y="70.6" width="43.3" height="1.0" fill="url(#a4)" opacity="0.84"/>
<rect x="0.4" y="71.6" width="43.3" height="1.0" fill="url(#a3)" opacity="1.00"/>
<rect x="0.2" y="72.6" width="43.3" height="1.0" fill="url(#a3)" opacity="0.53"/>
<rect x="0.1" y="73.6" width="43.3" height="1.0" fill="url(#a3)" opacity="0.41"/>
<rect y="74.6" width="43.3" height="1.0" fill="url(#a3)" opacity="0.48"/>
<rect x="0.4" y="75.6" width="43.3" height="1.0" fill="url(#a3)" opacity="0.35"/>
<rect x="0.3" y="76.6" width="43.3" height="1.0" fill="url(#a3)" opacity="0.39"/>
<rect x="0.7" y="77.6" width="43.3" height="1.0" fill="url(#a3)" opacity="0.47"/>
<rect x="0.5" y="78.6" width="43.3" height="1.0" fill="url(#a3)" opacity="0.38"/>
<rect x="0.4" y="79.6" width="43.3" height="1.0" fill="url(#a4)" opacity="0.35"/>
<rect y="80.6" width="43.3" height="1.0" fill="url(#a3)" opacity="0.43"/>
<rect x="0.6" y="81.6" width="43.3" height="1.0" fill="url(#a2)" opacity="0.30"/>
<rect x="0.9" y="82.6" width="43.3" height="1.0" fill="url(#a4)" opacity="0.26"/>
<rect x="0.6" y="83.6" width="43.3" height="1.0" fill="url(#a4)" opacity="0.32"/>
<rect x="0.1" y="84.6" width="43.3" height="1.0" fill="url(#a3)" opacity="0.24"/>
<rect x="0.8" y="85.6" width="43.3" height="1.0" fill="url(#a4)" opacity="0.32"/>
<rect x="0.3" y="86.6" width="43.3" height="1.0" fill="url(#a3)" opacity="0.25"/>
<rect x="0.1" y="87.6" width="43.3" height="1.0" fill="url(#a3)" opacity="0.26"/>
<rect x="0.8" y="88.6" width="43.3" height="1.0" fill="url(#a3)" opacity="0.23"/>
<rect x="0.3" y="89.6" width="43.3" height="1.0" fill="url(#a2)" opacity="0.24"/>
<rect x="0.4" y="90.6" width="43.3" height="1.0" fill="url(#a3)" opacity="0.21"/>
<rect x="0.9" y="91.6" width="43.3" height="1.0" fill="url(#a6)" opacity="1.00"/>
<rect x="0.1" y="92.6" width="43.3" height="1.0" fill="url(#a6)" opacity="0.91"/>
<rect x="0.2" y="93.6" width="43.3" height="1.0" fill="url(#a6)" opacity="0.87"/>
<rect x="0.3" y="94.6" width="43.3" height="1.0" fill="url(#a7)" opacity="1.00"/>
<rect x="0.1" y="95.6" width="43.3" height="1.0" fill="url(#a5)" opacity="1.00"/>
<rect y="96.6" width="43.3" height="1.0" fill="url(#a4)" opacity="0.94"/>
<rect x="0.1" y="97.6" width="43.3" height="1.0" fill="url(#a5)" opacity="0.88"/>
<rect x="-0.1" y="98.6" width="43.3" height="1.0" fill="url(#a5)" opacity="1.00"/>
<rect x="0.2" y="99.6" width="43.3" height="1.0" fill="url(#a3)" opacity="1.00"/>
<rect x="0.5" y="100.6" width="43.3" height="1.0" fill="url(#a5)" opacity="1.00"/>
<rect x="0.7" y="101.6" width="43.3" height="1.0" fill="url(#a4)" opacity="0.81"/>
<rect x="0.7" y="102.6" width="43.3" height="1.0" fill="url(#a4)" opacity="0.96"/>
<rect x="0.6" y="103.6" width="43.3" height="1.0" fill="url(#a3)" opacity="0.91"/>
<rect x="0.2" y="104.6" width="43.3" height="1.0" fill="url(#a4)" opacity="0.92"/>
<rect y="105.6" width="43.3" height="1.0" fill="url(#a4)" opacity="1.00"/>
<rect x="0.5" y="106.6" width="43.3" height="1.0" fill="url(#a4)" opacity="1.00"/>
<rect x="0.6" y="107.6" width="43.3" height="1.0" fill="url(#a4)" opacity="1.00"/>
<rect x="0.1" y="108.6" width="43.3" height="1.0" fill="url(#a4)" opacity="1.00"/>
<rect x="0.4" y="109.6" width="43.3" height="1.0" fill="url(#a4)" opacity="1.00"/>
<rect x="0.9" y="110.6" width="43.3" height="1.0" fill="url(#a4)" opacity="1.00"/>
<rect x="0.6" y="111.6" width="43.3" height="1.0" fill="url(#a4)" opacity="1.00"/>
<rect x="0.6" y="112.6" width="43.3" height="1.0" fill="url(#a4)" opacity="0.83"/>
<rect x="0.2" y="113.6" width="43.3" height="1.0" fill="url(#a5)" opacity="0.99"/>
<rect x="0.6" y="114.6" width="43.3" height="1.0" fill="url(#a5)" opacity="1.00"/>
<rect x="0.9" y="115.6" width="43.3" height="1.0" fill="url(#a3)" opacity="1.00"/>
<rect x="0.2" y="116.6" width="43.3" height="1.0" fill="url(#a4)" opacity="0.84"/>
<rect x="0.1" y="117.6" width="43.3" height="1.0" fill="url(#a4)" opacity="0.74"/>
<rect x="0.2" y="118.6" width="43.3" height="1.0" fill="url(#a3)" opacity="1.00"/>
<rect x="0.7" y="119.6" width="43.3" height="1.0" fill="url(#a3)" opacity="0.80"/>
<rect x="0.7" y="120.6" width="43.3" height="1.0" fill="url(#a4)" opacity="0.73"/>
<rect x="0.2" y="121.6" width="43.3" height="1.0" fill="url(#a4)" opacity="0.89"/>
<rect x="0.1" y="122.6" width="43.3" height="1.0" fill="url(#a3)" opacity="0.91"/>
<rect y="123.6" width="43.3" height="1.0" fill="url(#a3)" opacity="0.93"/>
<rect y="124.6" width="43.3" height="1.0" fill="url(#a3)" opacity="0.95"/>
<rect x="0.6" y="125.6" width="43.3" height="1.0" fill="url(#a3)" opacity="0.89"/>
<rect x="0.5" y="126.6" width="43.3" height="1.0" fill="url(#a3)" opacity="0.78"/>
<rect x="0.4" y="127.6" width="43.3" height="1.0" fill="url(#a3)" opacity="0.82"/>
<rect y="128.6" width="43.3" height="1.0" fill="url(#a3)" opacity="0.80"/>
<rect x="0.6" y="129.6" width="43.3" height="1.0" fill="url(#a4)" opacity="0.98"/>
<rect x="-0.1" y="130.6" width="43.3" height="1.0" fill="url(#a3)" opacity="0.89"/>
<rect x="0.9" y="131.6" width="43.3" height="1.0" fill="url(#a4)" opacity="0.82"/>
<rect x="0.6" y="132.6" width="43.3" height="1.0" fill="url(#a3)" opacity="0.92"/>
<rect x="0.4" y="133.6" width="43.3" height="1.0" fill="url(#a3)" opacity="0.85"/>
<rect x="0.6" y="134.6" width="43.3" height="1.0" fill="url(#a3)" opacity="0.79"/>
<rect x="0.1" y="135.6" width="43.3" height="1.0" fill="url(#a3)" opacity="0.79"/>
<rect x="0.8" y="136.6" width="43.3" height="1.0" fill="url(#a4)" opacity="0.94"/>
<rect x="0.8" y="137.6" width="43.3" height="1.0" fill="url(#a4)" opacity="0.84"/>
<rect y="138.6" width="43.3" height="1.0" fill="url(#a3)" opacity="0.78"/>
<rect x="0.5" y="139.6" width="43.3" height="1.0" fill="url(#a4)" opacity="0.96"/>
<rect y="140.6" width="43.3" height="1.0" fill="url(#a4)" opacity="0.90"/>
<rect x="0.1" y="141.6" width="43.3" height="1.0" fill="url(#a3)" opacity="1.00"/>
<rect x="0.3" y="142.6" width="43.3" height="1.0" fill="url(#a4)" opacity="0.97"/>
<rect y="143.6" width="43.3" height="1.0" fill="url(#a3)" opacity="0.79"/>
<rect y="144.6" width="43.3" height="1.0" fill="url(#a3)" opacity="0.75"/>
<rect x="0.8" y="145.6" width="43.3" height="1.0" fill="url(#a3)" opacity="0.75"/>
<rect x="0.7" y="146.6" width="43.3" height="1.0" fill="url(#a2)" opacity="1.00"/>
<rect x="0.6" y="147.6" width="43.3" height="1.0" fill="url(#a3)" opacity="0.67"/>
<rect x="0.6" y="148.6" width="43.3" height="1.0" fill="url(#a3)" opacity="0.84"/>
<rect x="0.6" y="149.6" width="43.3" height="1.0" fill="url(#a3)" opacity="0.98"/>
<rect x="0.1" y="150.6" width="43.3" height="1.0" fill="url(#a3)" opacity="0.75"/>
<rect x="0.3" y="151.6" width="43.3" height="1.0" fill="url(#a2)" opacity="0.73"/>
<rect x="0.1" y="152.6" width="43.3" height="1.0" fill="url(#a3)" opacity="0.92"/>
<rect x="0.3" y="153.6" width="43.3" height="1.0" fill="url(#a3)" opacity="0.75"/>
<rect x="0.4" y="154.6" width="43.3" height="1.0" fill="url(#a2)" opacity="0.81"/>
<rect y="155.6" width="43.3" height="1.0" fill="url(#a2)" opacity="0.68"/>
<rect x="0.4" y="156.6" width="43.3" height="1.0" fill="url(#a2)" opacity="0.64"/>
<rect x="0.2" y="157.6" width="43.3" height="1.0" fill="url(#a3)" opacity="0.95"/>
<rect x="0.7" y="158.6" width="43.3" height="1.0" fill="url(#a2)" opacity="0.70"/>
<rect x="-0.1" y="159.6" width="43.3" height="1.0" fill="url(#a3)" opacity="0.86"/>
<rect x="0.4" y="160.6" width="43.3" height="1.0" fill="url(#a3)" opacity="0.77"/>
<rect y="161.6" width="43.3" height="1.0" fill="url(#a2)" opacity="0.82"/>
<rect x="-0.1" y="162.6" width="43.3" height="1.0" fill="url(#a2)" opacity="0.85"/>
<rect y="163.6" width="43.3" height="1.0" fill="url(#a2)" opacity="0.81"/>
<rect x="0.3" y="164.6" width="43.3" height="1.0" fill="url(#a3)" opacity="0.94"/>
<rect y="165.6" width="43.3" height="1.0" fill="url(#a2)" opacity="0.68"/>
<rect x="0.1" y="166.6" width="43.3" height="1.0" fill="url(#a3)" opacity="0.71"/>
<rect x="0.2" y="167.6" width="43.3" height="1.0" fill="url(#a2)" opacity="0.77"/>
<rect x="0.1" y="168.6" width="43.3" height="1.0" fill="url(#a3)" opacity="0.70"/>
<rect x="0.1" y="169.6" width="43.3" height="1.0" fill="url(#a3)" opacity="0.81"/>
<rect x="0.5" y="170.6" width="43.3" height="1.0" fill="url(#a3)" opacity="0.75"/>
<rect x="0.4" y="171.6" width="43.3" height="1.0" fill="url(#a3)" opacity="0.93"/>
<rect x="0.4" y="172.6" width="43.3" height="1.0" fill="url(#a3)" opacity="0.78"/>
<rect x="0.2" y="173.6" width="43.3" height="1.0" fill="url(#a2)" opacity="0.91"/>
<rect y="174.6" width="43.3" height="1.0" fill="url(#a3)" opacity="0.80"/>
<rect y="175.6" width="43.3" height="1.0" fill="url(#a2)" opacity="0.65"/>
<rect x="-0.1" y="176.6" width="43.3" height="1.0" fill="url(#a2)" opacity="0.66"/>
<rect x="0.4" y="177.6" width="43.3" height="1.0" fill="url(#a3)" opacity="0.80"/>
<rect x="0.2" y="178.6" width="43.3" height="1.0" fill="url(#a2)" opacity="0.75"/>
<rect x="0.6" y="179.6" width="43.3" height="1.0" fill="url(#a1)" opacity="0.62"/>
<rect x="0.8" y="180.6" width="43.3" height="1.0" fill="url(#a3)" opacity="0.87"/>
<rect x="0.2" y="181.6" width="43.3" height="1.0" fill="url(#a2)" opacity="0.72"/>
<rect x="0.2" y="182.6" width="43.3" height="1.0" fill="url(#a2)" opacity="0.66"/>
<rect x="0.2" y="183.6" width="43.3" height="1.0" fill="url(#a1)" opacity="0.85"/>
<rect x="0.3" y="184.6" width="43.3" height="1.0" fill="url(#a2)" opacity="0.81"/>
<rect y="185.6" width="43.3" height="1.0" fill="url(#a2)" opacity="0.60"/>
<rect x="0.1" y="186.6" width="43.3" height="1.0" fill="url(#a2)" opacity="0.83"/>
<rect x="0.3" y="187.6" width="43.3" height="0.9" fill="url(#a2)" opacity="0.85"/>
<rect y="90.10" width="43.3" height="1" fill="rgb(32,32,125)" opacity="0.40"/>
<rect x="11.0" y="90.10" width="22" height="1.2" fill="url(#a8)" opacity="1"/>
<rect y="69.60" width="43.30" height="118.90" fill="none" stroke="#c4c4cc" stroke-width="0.8"/>
</g>
<g transform="translate(85.40 0)">
<rect x="0.00" y="69.60" width="43.30" height="118.90" fill="rgb(252,252,255)"/>
<rect y="70.3" width="43.3" height="0.7" fill="rgb(32,32,125)" opacity="0.02"/>
<rect x="1.3" y="71.0" width="8.1" height=".8" fill="rgb(32,32,125)" opacity="0.06"/>
<rect y="73.3" width="43.3" height="1.3" fill="rgb(32,32,125)" opacity="0.03"/>
<rect y="74.6" width="43.3" height="1.0" fill="rgb(32,32,125)" opacity="0.02"/>
<rect y="76.3" width="43.3" height="1.0" fill="rgb(32,32,125)" opacity="0.01"/>
<rect y="77.3" width="43.3" height="0.7" fill="rgb(32,32,125)" opacity="0.02"/>
<rect x="0.9" y="77.3" width="4.9" height=".8" fill="rgb(32,32,125)" opacity="0.01"/>
<rect y="80.6" width="43.3" height="1.0" fill="rgb(32,32,125)" opacity="0.02"/>
<rect y="81.6" width="43.3" height="1.0" fill="rgb(32,32,125)" opacity="0.02"/>
<rect y="83.6" width="43.3" height="1.3" fill="rgb(32,32,125)" opacity="0.02"/>
<rect y="84.9" width="43.3" height="0.7" fill="rgb(32,32,125)" opacity="0.01"/>
<rect y="85.6" width="43.3" height="1.3" fill="rgb(32,32,125)" opacity="0.02"/>
<rect y="86.9" width="43.3" height="1.3" fill="rgb(32,32,125)" opacity="0.03"/>
<rect y="89.2" width="43.3" height="1.3" fill="rgb(32,32,125)" opacity="0.02"/>
<rect y="90.5" width="43.3" height="0.7" fill="rgb(32,32,125)" opacity="0.03"/>
<rect y="91.2" width="43.3" height="0.7" fill="rgb(32,32,125)" opacity="0.03"/>
<rect y="92.9" width="43.3" height="1.3" fill="rgb(32,32,125)" opacity="0.02"/>
<rect y="94.2" width="43.3" height="1.3" fill="rgb(32,32,125)" opacity="0.02"/>
<rect y="95.5" width="43.3" height="1.0" fill="rgb(32,32,125)" opacity="0.02"/>
<rect y="96.5" width="43.3" height="1.0" fill="rgb(32,32,125)" opacity="0.03"/>
<rect y="97.5" width="43.3" height="0.7" fill="rgb(32,32,125)" opacity="0.02"/>
<rect y="98.2" width="43.3" height="0.7" fill="rgb(32,32,125)" opacity="0.03"/>
<rect x="27.4" y="98.2" width="2.5" height=".8" fill="rgb(32,32,125)" opacity="0.04"/>
<rect y="98.9" width="43.3" height="1.0" fill="rgb(32,32,125)" opacity="0.02"/>
<rect y="99.9" width="43.3" height="0.7" fill="rgb(32,32,125)" opacity="0.02"/>
<rect x="9.8" y="99.9" width="9.4" height=".8" fill="rgb(32,32,125)" opacity="0.06"/>
<rect y="100.6" width="43.3" height="0.7" fill="rgb(32,32,125)" opacity="0.01"/>
<rect y="102.0" width="43.3" height="0.7" fill="rgb(32,32,125)" opacity="0.02"/>
<rect x="35.1" y="102.0" width="2.2" height=".8" fill="rgb(32,32,125)" opacity="0.04"/>
<rect x="34.4" y="102.7" width="8.6" height=".8" fill="rgb(32,32,125)" opacity="0.03"/>
<rect x="36.4" y="103.4" width="3.4" height=".8" fill="rgb(32,32,125)" opacity="0.00"/>
<rect y="104.1" width="43.3" height="1.0" fill="rgb(32,32,125)" opacity="0.03"/>
<rect y="107.1" width="43.3" height="1.3" fill="rgb(32,32,125)" opacity="0.02"/>
<rect y="108.4" width="43.3" height="1.0" fill="rgb(32,32,125)" opacity="0.03"/>
<rect y="109.4" width="43.3" height="1.0" fill="rgb(32,32,125)" opacity="0.03"/>
<rect x="25.3" y="109.4" width="9.5" height=".8" fill="rgb(32,32,125)" opacity="0.00"/>
<rect y="110.4" width="43.3" height="0.7" fill="rgb(32,32,125)" opacity="0.02"/>
<rect y="111.1" width="43.3" height="1.0" fill="rgb(32,32,125)" opacity="0.02"/>
<rect x="35.3" y="111.1" width="4.3" height=".8" fill="rgb(32,32,125)" opacity="0.04"/>
<rect y="112.1" width="43.3" height="1.0" fill="rgb(32,32,125)" opacity="0.02"/>
<rect y="113.1" width="43.3" height="0.7" fill="rgb(32,32,125)" opacity="0.02"/>
<rect x="23.4" y="113.8" width="6.6" height=".8" fill="rgb(32,32,125)" opacity="0.06"/>
<rect y="114.5" width="43.3" height="0.7" fill="rgb(32,32,125)" opacity="0.03"/>
<rect x="16.4" y="114.5" width="4.3" height=".8" fill="rgb(32,32,125)" opacity="0.04"/>
<rect y="115.2" width="43.3" height="1.3" fill="rgb(32,32,125)" opacity="0.02"/>
<rect y="117.5" width="43.3" height="1.3" fill="rgb(32,32,125)" opacity="0.02"/>
<rect x="14.2" y="117.5" width="3.4" height=".8" fill="rgb(32,32,125)" opacity="0.03"/>
<rect x="6.7" y="118.8" width="4.1" height=".8" fill="rgb(32,32,125)" opacity="0.01"/>
<rect y="119.5" width="43.3" height="1.3" fill="rgb(32,32,125)" opacity="0.02"/>
<rect y="120.8" width="43.3" height="1.3" fill="rgb(32,32,125)" opacity="0.02"/>
<rect x="33.4" y="120.8" width="9.9" height=".8" fill="rgb(32,32,125)" opacity="0.04"/>
<rect y="122.1" width="43.3" height="1.0" fill="rgb(32,32,125)" opacity="0.01"/>
<rect x="21.8" y="122.1" width="9.9" height=".8" fill="rgb(32,32,125)" opacity="0.06"/>
<rect x="29.5" y="123.1" width="5.3" height=".8" fill="rgb(32,32,125)" opacity="0.03"/>
<rect y="124.4" width="43.3" height="0.7" fill="rgb(32,32,125)" opacity="0.02"/>
<rect y="127.1" width="43.3" height="1.3" fill="rgb(32,32,125)" opacity="0.02"/>
<rect y="128.4" width="43.3" height="0.7" fill="rgb(32,32,125)" opacity="0.01"/>
<rect y="129.1" width="43.3" height="0.7" fill="rgb(32,32,125)" opacity="0.03"/>
<rect y="132.5" width="43.3" height="1.3" fill="rgb(32,32,125)" opacity="0.01"/>
<rect y="133.8" width="43.3" height="1.0" fill="rgb(32,32,125)" opacity="0.03"/>
<rect x="3.9" y="135.5" width="7.6" height=".8" fill="rgb(32,32,125)" opacity="0.03"/>
<rect y="136.8" width="43.3" height="0.7" fill="rgb(32,32,125)" opacity="0.02"/>
<rect y="137.5" width="43.3" height="1.0" fill="rgb(32,32,125)" opacity="0.03"/>
<rect x="13.8" y="137.5" width="6.4" height=".8" fill="rgb(32,32,125)" opacity="0.05"/>
<rect y="138.5" width="43.3" height="1.3" fill="rgb(32,32,125)" opacity="0.03"/>
<rect y="139.8" width="43.3" height="1.0" fill="rgb(32,32,125)" opacity="0.03"/>
<rect y="141.5" width="43.3" height="1.3" fill="rgb(32,32,125)" opacity="0.01"/>
<rect y="142.8" width="43.3" height="0.7" fill="rgb(32,32,125)" opacity="0.02"/>
<rect x="20.1" y="143.5" width="9.3" height=".8" fill="rgb(32,32,125)" opacity="0.05"/>
<rect y="144.2" width="43.3" height="0.7" fill="rgb(32,32,125)" opacity="0.03"/>
<rect x="10.6" y="147.2" width="3.4" height=".8" fill="rgb(32,32,125)" opacity="0.06"/>
<rect y="149.5" width="43.3" height="1.3" fill="rgb(32,32,125)" opacity="0.02"/>
<rect x="5.8" y="149.5" width="10.5" height=".8" fill="rgb(32,32,125)" opacity="0.01"/>
<rect y="150.8" width="43.3" height="1.0" fill="rgb(32,32,125)" opacity="0.02"/>
<rect y="151.8" width="43.3" height="0.7" fill="rgb(32,32,125)" opacity="0.01"/>
<rect y="153.8" width="43.3" height="1.0" fill="rgb(32,32,125)" opacity="0.02"/>
<rect y="155.8" width="43.3" height="1.0" fill="rgb(32,32,125)" opacity="0.02"/>
<rect y="160.7" width="43.3" height="1.0" fill="rgb(32,32,125)" opacity="0.02"/>
<rect y="161.7" width="43.3" height="1.3" fill="rgb(32,32,125)" opacity="0.03"/>
<rect y="163.0" width="43.3" height="1.3" fill="rgb(32,32,125)" opacity="0.02"/>
<rect x="14.8" y="164.3" width="3.9" height=".8" fill="rgb(32,32,125)" opacity="0.03"/>
<rect y="165.6" width="43.3" height="1.0" fill="rgb(32,32,125)" opacity="0.03"/>
<rect y="171.0" width="43.3" height="1.0" fill="rgb(32,32,125)" opacity="0.02"/>
<rect y="172.7" width="43.3" height="1.3" fill="rgb(32,32,125)" opacity="0.03"/>
<rect y="174.0" width="43.3" height="1.3" fill="rgb(32,32,125)" opacity="0.01"/>
<rect y="175.3" width="43.3" height="1.0" fill="rgb(32,32,125)" opacity="0.01"/>
<rect x="27.7" y="176.3" width="3.6" height=".8" fill="rgb(32,32,125)" opacity="0.05"/>
<rect x="14.0" y="178.3" width="6.2" height=".8" fill="rgb(32,32,125)" opacity="0.02"/>
<rect y="181.0" width="43.3" height="1.0" fill="rgb(32,32,125)" opacity="0.02"/>
<rect x="24.9" y="181.0" width="6.5" height=".8" fill="rgb(32,32,125)" opacity="0.01"/>
<rect y="182.0" width="43.3" height="1.3" fill="rgb(32,32,125)" opacity="0.02"/>
<rect y="184.0" width="43.3" height="1.0" fill="rgb(32,32,125)" opacity="0.02"/>
<rect y="185.0" width="43.3" height="1.3" fill="rgb(32,32,125)" opacity="0.02"/>
<rect y="186.3" width="43.3" height="0.7" fill="rgb(32,32,125)" opacity="0.02"/>
<rect x="21.9" y="186.3" width="9.6" height=".8" fill="rgb(32,32,125)" opacity="0.01"/>
<rect y="187.0" width="43.3" height="1.3" fill="rgb(32,32,125)" opacity="0.02"/>
<rect y="188.3" width="43.3" height="0.7" fill="rgb(32,32,125)" opacity="0.03"/>
<rect x="0.2" y="69.6" width="43.3" height="1.0" fill="url(#a3)" opacity="1.00"/>
<rect x="1.0" y="70.6" width="43.3" height="1.0" fill="url(#a5)" opacity="1.00"/>
<rect x="0.4" y="71.6" width="43.3" height="1.0" fill="url(#a4)" opacity="0.88"/>
<rect x="1.0" y="72.6" width="43.3" height="1.0" fill="url(#a4)" opacity="0.94"/>
<rect x="0.8" y="73.6" width="43.3" height="1.0" fill="url(#a3)" opacity="0.98"/>
<rect x="0.4" y="74.6" width="43.3" height="1.0" fill="url(#a3)" opacity="1.00"/>
<rect x="0.6" y="75.6" width="43.3" height="1.0" fill="url(#a4)" opacity="0.83"/>
<rect x="0.3" y="76.6" width="43.3" height="1.0" fill="url(#a4)" opacity="1.00"/>
<rect x="0.4" y="77.6" width="43.3" height="1.0" fill="url(#a3)" opacity="0.81"/>
<rect x="0.9" y="78.6" width="43.3" height="1.0" fill="url(#a3)" opacity="0.98"/>
<rect x="0.8" y="79.6" width="43.3" height="1.0" fill="url(#a3)" opacity="1.00"/>
<rect x="0.8" y="80.6" width="43.3" height="1.0" fill="url(#a3)" opacity="0.98"/>
<rect x="0.8" y="81.6" width="43.3" height="1.0" fill="url(#a3)" opacity="0.86"/>
<rect x="1.1" y="82.6" width="43.3" height="1.0" fill="url(#a3)" opacity="1.00"/>
<rect x="0.7" y="83.6" width="43.3" height="1.0" fill="url(#a3)" opacity="1.00"/>
<rect x="0.6" y="84.6" width="43.3" height="1.0" fill="url(#a3)" opacity="0.74"/>
<rect x="0.5" y="85.6" width="43.3" height="1.0" fill="url(#a4)" opacity="0.81"/>
<rect x="0.4" y="86.6" width="43.3" height="1.0" fill="url(#a3)" opacity="0.74"/>
<rect x="0.2" y="87.6" width="43.3" height="1.0" fill="url(#a3)" opacity="0.85"/>
<rect x="1.0" y="88.6" width="43.3" height="1.0" fill="url(#a2)" opacity="0.76"/>
<rect x="0.1" y="89.6" width="43.3" height="1.0" fill="url(#a3)" opacity="0.97"/>
<rect x="0.7" y="90.6" width="43.3" height="1.0" fill="url(#a3)" opacity="0.80"/>
<rect x="1.0" y="91.6" width="43.3" height="1.0" fill="url(#a6)" opacity="1.00"/>
<rect x="0.6" y="92.6" width="43.3" height="1.0" fill="url(#a6)" opacity="0.96"/>
<rect x="0.4" y="93.6" width="43.3" height="1.0" fill="url(#a7)" opacity="1.00"/>
<rect x="0.2" y="94.6" width="43.3" height="1.0" fill="url(#a6)" opacity="0.86"/>
<rect x="0.8" y="95.6" width="43.3" height="1.0" fill="url(#a4)" opacity="0.76"/>
<rect x="0.7" y="96.6" width="43.3" height="1.0" fill="url(#a5)" opacity="0.70"/>
<rect x="0.3" y="97.6" width="43.3" height="1.0" fill="url(#a5)" opacity="0.90"/>
<rect x="0.4" y="98.6" width="43.3" height="1.0" fill="url(#a4)" opacity="0.68"/>
<rect x="0.2" y="99.6" width="43.3" height="1.0" fill="url(#a4)" opacity="0.77"/>
<rect x="1.1" y="100.6" width="43.3" height="1.0" fill="url(#a4)" opacity="0.88"/>
<rect x="0.9" y="101.6" width="43.3" height="1.0" fill="url(#a3)" opacity="0.72"/>
<rect x="0.6" y="102.6" width="43.3" height="1.0" fill="url(#a4)" opacity="0.80"/>
<rect x="0.6" y="103.6" width="43.3" height="1.0" fill="url(#a3)" opacity="0.84"/>
<rect x="0.5" y="104.6" width="43.3" height="1.0" fill="url(#a4)" opacity="0.84"/>
<rect x="0.5" y="105.6" width="43.3" height="1.0" fill="url(#a3)" opacity="0.84"/>
<rect x="0.6" y="106.6" width="43.3" height="1.0" fill="url(#a4)" opacity="0.75"/>
<rect x="1.0" y="107.6" width="43.3" height="1.0" fill="url(#a3)" opacity="0.79"/>
<rect x="0.5" y="108.6" width="43.3" height="1.0" fill="url(#a3)" opacity="0.75"/>
<rect x="0.4" y="109.6" width="43.3" height="1.0" fill="url(#a4)" opacity="0.73"/>
<rect x="0.1" y="110.6" width="43.3" height="1.0" fill="url(#a3)" opacity="0.79"/>
<rect x="0.4" y="111.6" width="43.3" height="1.0" fill="url(#a4)" opacity="0.70"/>
<rect x="1.0" y="112.6" width="43.3" height="1.0" fill="url(#a3)" opacity="0.82"/>
<rect x="0.2" y="113.6" width="43.3" height="1.0" fill="url(#a2)" opacity="0.70"/>
<rect x="0.6" y="114.6" width="43.3" height="1.0" fill="url(#a4)" opacity="0.55"/>
<rect x="0.1" y="115.6" width="43.3" height="1.0" fill="url(#a3)" opacity="0.55"/>
<rect x="0.6" y="116.6" width="43.3" height="1.0" fill="url(#a3)" opacity="0.78"/>
<rect x="0.1" y="117.6" width="43.3" height="1.0" fill="url(#a3)" opacity="0.60"/>
<rect x="0.6" y="118.6" width="43.3" height="1.0" fill="url(#a3)" opacity="0.68"/>
<rect x="0.7" y="119.6" width="43.3" height="1.0" fill="url(#a3)" opacity="0.75"/>
<rect x="0.5" y="120.6" width="43.3" height="1.0" fill="url(#a3)" opacity="0.61"/>
<rect x="0.9" y="121.6" width="43.3" height="1.0" fill="url(#a3)" opacity="0.77"/>
<rect x="0.9" y="122.6" width="43.3" height="1.0" fill="url(#a3)" opacity="0.69"/>
<rect x="0.3" y="123.6" width="43.3" height="1.0" fill="url(#a4)" opacity="0.53"/>
<rect x="0.2" y="124.6" width="43.3" height="1.0" fill="url(#a3)" opacity="0.54"/>
<rect x="0.4" y="125.6" width="43.3" height="1.0" fill="url(#a3)" opacity="0.52"/>
<rect x="0.4" y="126.6" width="43.3" height="1.0" fill="url(#a2)" opacity="0.50"/>
<rect x="0.4" y="127.6" width="43.3" height="1.0" fill="url(#a3)" opacity="0.61"/>
<rect x="0.6" y="128.6" width="43.3" height="1.0" fill="url(#a2)" opacity="0.57"/>
<rect x="0.9" y="129.6" width="43.3" height="1.0" fill="url(#a3)" opacity="0.48"/>
<rect x="0.1" y="130.6" width="43.3" height="1.0" fill="url(#a3)" opacity="0.51"/>
<rect x="0.4" y="131.6" width="43.3" height="1.0" fill="url(#a2)" opacity="0.48"/>
<rect x="0.8" y="132.6" width="43.3" height="1.0" fill="url(#a3)" opacity="0.62"/>
<rect x="0.2" y="133.6" width="43.3" height="1.0" fill="url(#a2)" opacity="0.65"/>
<rect x="1.1" y="134.6" width="43.3" height="1.0" fill="url(#a3)" opacity="0.51"/>
<rect x="1.0" y="135.6" width="43.3" height="1.0" fill="url(#a3)" opacity="0.46"/>
<rect x="0.8" y="136.6" width="43.3" height="1.0" fill="url(#a2)" opacity="0.60"/>
<rect x="1.1" y="137.6" width="43.3" height="1.0" fill="url(#a3)" opacity="0.62"/>
<rect x="0.9" y="138.6" width="43.3" height="1.0" fill="url(#a2)" opacity="0.45"/>
<rect x="0.2" y="139.6" width="43.3" height="1.0" fill="url(#a3)" opacity="0.60"/>
<rect x="0.1" y="140.6" width="43.3" height="1.0" fill="url(#a3)" opacity="0.60"/>
<rect x="0.7" y="141.6" width="43.3" height="1.0" fill="url(#a3)" opacity="0.46"/>
<rect x="0.1" y="142.6" width="43.3" height="1.0" fill="url(#a3)" opacity="0.55"/>
<rect x="0.8" y="143.6" width="43.3" height="1.0" fill="url(#a2)" opacity="0.48"/>
<rect x="1.0" y="144.6" width="43.3" height="1.0" fill="url(#a3)" opacity="0.51"/>
<rect x="0.3" y="145.6" width="43.3" height="1.0" fill="url(#a2)" opacity="0.47"/>
<rect x="1.1" y="146.6" width="43.3" height="1.0" fill="url(#a3)" opacity="0.55"/>
<rect x="0.7" y="147.6" width="43.3" height="1.0" fill="url(#a3)" opacity="0.44"/>
<rect x="0.9" y="148.6" width="43.3" height="1.0" fill="url(#a2)" opacity="0.48"/>
<rect x="0.2" y="149.6" width="43.3" height="1.0" fill="url(#a2)" opacity="0.53"/>
<rect x="0.6" y="150.6" width="43.3" height="1.0" fill="url(#a3)" opacity="0.42"/>
<rect x="0.7" y="151.6" width="43.3" height="1.0" fill="url(#a3)" opacity="0.50"/>
<rect x="1.0" y="152.6" width="43.3" height="1.0" fill="url(#a3)" opacity="0.37"/>
<rect x="0.2" y="153.6" width="43.3" height="1.0" fill="url(#a3)" opacity="0.44"/>
<rect x="1.1" y="154.6" width="43.3" height="1.0" fill="url(#a2)" opacity="0.48"/>
<rect x="0.9" y="155.6" width="43.3" height="1.0" fill="url(#a2)" opacity="0.34"/>
<rect x="0.2" y="156.6" width="43.3" height="1.0" fill="url(#a3)" opacity="0.44"/>
<rect x="0.4" y="157.6" width="43.3" height="1.0" fill="url(#a3)" opacity="0.40"/>
<rect x="0.3" y="158.6" width="43.3" height="1.0" fill="url(#a2)" opacity="0.42"/>
<rect x="0.7" y="159.6" width="43.3" height="1.0" fill="url(#a3)" opacity="0.44"/>
<rect x="0.2" y="160.6" width="43.3" height="1.0" fill="url(#a2)" opacity="0.38"/>
<rect x="0.3" y="161.6" width="43.3" height="1.0" fill="url(#a3)" opacity="0.38"/>
<rect x="1.0" y="162.6" width="43.3" height="1.0" fill="url(#a3)" opacity="0.39"/>
<rect x="1.0" y="163.6" width="43.3" height="1.0" fill="url(#a2)" opacity="0.33"/>
<rect x="0.5" y="164.6" width="43.3" height="1.0" fill="url(#a2)" opacity="0.34"/>
<rect x="0.7" y="165.6" width="43.3" height="1.0" fill="url(#a2)" opacity="0.35"/>
<rect x="1.0" y="166.6" width="43.3" height="1.0" fill="url(#a2)" opacity="0.32"/>
<rect x="0.2" y="167.6" width="43.3" height="1.0" fill="url(#a3)" opacity="0.39"/>
<rect x="1.1" y="168.6" width="43.3" height="1.0" fill="url(#a2)" opacity="0.34"/>
<rect x="0.2" y="169.6" width="43.3" height="1.0" fill="url(#a2)" opacity="0.31"/>
<rect x="0.7" y="170.6" width="43.3" height="1.0" fill="url(#a3)" opacity="0.34"/>
<rect x="0.5" y="171.6" width="43.3" height="1.0" fill="url(#a1)" opacity="0.33"/>
<rect x="0.4" y="172.6" width="43.3" height="1.0" fill="url(#a2)" opacity="0.31"/>
<rect x="1.0" y="173.6" width="43.3" height="1.0" fill="url(#a2)" opacity="0.30"/>
<rect x="0.6" y="174.6" width="43.3" height="1.0" fill="url(#a1)" opacity="0.31"/>
<rect x="0.1" y="175.6" width="43.3" height="1.0" fill="url(#a2)" opacity="0.33"/>
<rect x="0.3" y="176.6" width="43.3" height="1.0" fill="url(#a2)" opacity="0.24"/>
<rect x="0.2" y="177.6" width="43.3" height="1.0" fill="url(#a1)" opacity="0.26"/>
<rect x="0.7" y="178.6" width="43.3" height="1.0" fill="url(#a2)" opacity="0.26"/>
<rect x="0.2" y="179.6" width="43.3" height="1.0" fill="url(#a2)" opacity="0.29"/>
<rect x="0.6" y="180.6" width="43.3" height="1.0" fill="url(#a1)" opacity="0.30"/>
<rect x="0.7" y="181.6" width="43.3" height="1.0" fill="url(#a1)" opacity="0.24"/>
<rect x="0.2" y="182.6" width="43.3" height="1.0" fill="url(#a2)" opacity="0.30"/>
<rect x="0.4" y="183.6" width="43.3" height="1.0" fill="url(#a2)" opacity="0.25"/>
<rect x="0.4" y="184.6" width="43.3" height="1.0" fill="url(#a2)" opacity="0.29"/>
<rect x="0.7" y="185.6" width="43.3" height="1.0" fill="url(#a2)" opacity="0.25"/>
<rect x="0.5" y="186.6" width="43.3" height="1.0" fill="url(#a1)" opacity="0.21"/>
<rect x="1.1" y="187.6" width="43.3" height="0.9" fill="url(#a2)" opacity="0.25"/>
<rect y="90.10" width="43.3" height="1" fill="rgb(32,32,125)" opacity="0.40"/>
<rect x="11.2" y="90.10" width="22" height="1.2" fill="url(#a8)" opacity="1"/>
<rect y="69.60" width="43.30" height="118.90" fill="none" stroke="#c4c4cc" stroke-width="0.8"/>
</g>
<g transform="translate(134.80 0)">
<rect x="0.00" y="69.60" width="43.30" height="118.90" fill="rgb(246,250,246)"/>
<rect y="69.6" width="43.3" height="0.7" fill="rgb(38,140,45)" opacity="0.07"/>
<rect x="33.7" y="69.6" width="6.3" height=".8" fill="rgb(38,140,45)" opacity="0.13"/>
<rect y="71.6" width="43.3" height="1.0" fill="rgb(38,140,45)" opacity="0.06"/>
<rect x="26.4" y="71.6" width="6.9" height=".8" fill="rgb(38,140,45)" opacity="0.12"/>
<rect y="72.6" width="43.3" height="1.0" fill="rgb(38,140,45)" opacity="0.07"/>
<rect x="23.4" y="72.6" width="9.8" height=".8" fill="rgb(38,140,45)" opacity="0.12"/>
<rect y="74.9" width="43.3" height="0.7" fill="rgb(38,140,45)" opacity="0.08"/>
<rect y="75.6" width="43.3" height="1.0" fill="rgb(38,140,45)" opacity="0.09"/>
<rect y="76.6" width="43.3" height="1.0" fill="rgb(38,140,45)" opacity="0.05"/>
<rect y="77.6" width="43.3" height="1.0" fill="rgb(38,140,45)" opacity="0.08"/>
<rect y="78.6" width="43.3" height="1.0" fill="rgb(38,140,45)" opacity="0.08"/>
<rect y="79.6" width="43.3" height="0.7" fill="rgb(38,140,45)" opacity="0.10"/>
<rect x="5.0" y="79.6" width="4.0" height=".8" fill="rgb(38,140,45)" opacity="0.21"/>
<rect y="80.3" width="43.3" height="1.0" fill="rgb(38,140,45)" opacity="0.09"/>
<rect y="81.3" width="43.3" height="1.0" fill="rgb(38,140,45)" opacity="0.06"/>
<rect y="82.3" width="43.3" height="1.0" fill="rgb(38,140,45)" opacity="0.06"/>
<rect y="83.3" width="43.3" height="0.7" fill="rgb(38,140,45)" opacity="0.10"/>
<rect y="84.0" width="43.3" height="0.7" fill="rgb(38,140,45)" opacity="0.09"/>
<rect y="84.7" width="43.3" height="1.3" fill="rgb(38,140,45)" opacity="0.08"/>
<rect y="86.0" width="43.3" height="1.0" fill="rgb(38,140,45)" opacity="0.11"/>
<rect y="88.3" width="43.3" height="1.3" fill="rgb(38,140,45)" opacity="0.09"/>
<rect y="89.6" width="43.3" height="1.0" fill="rgb(38,140,45)" opacity="0.01"/>
<rect y="90.6" width="43.3" height="1.3" fill="rgb(38,140,45)" opacity="0.11"/>
<rect x="29.5" y="90.6" width="5.7" height=".8" fill="rgb(38,140,45)" opacity="0.03"/>
<rect y="91.9" width="43.3" height="1.0" fill="rgb(38,140,45)" opacity="0.05"/>
<rect y="93.6" width="43.3" height="0.7" fill="rgb(38,140,45)" opacity="0.04"/>
<rect y="94.3" width="43.3" height="1.3" fill="rgb(38,140,45)" opacity="0.10"/>
<rect y="95.6" width="43.3" height="1.3" fill="rgb(38,140,45)" opacity="0.03"/>
<rect x="0.3" y="95.6" width="3.0" height=".8" fill="rgb(38,140,45)" opacity="0.12"/>
<rect y="96.9" width="43.3" height="0.7" fill="rgb(38,140,45)" opacity="0.11"/>
<rect x="9.7" y="96.9" width="8.2" height=".8" fill="rgb(38,140,45)" opacity="0.22"/>
<rect y="97.6" width="43.3" height="1.0" fill="rgb(38,140,45)" opacity="0.03"/>
<rect y="98.6" width="43.3" height="1.0" fill="rgb(38,140,45)" opacity="0.04"/>
<rect y="99.6" width="43.3" height="1.0" fill="rgb(38,140,45)" opacity="0.07"/>
<rect y="101.9" width="43.3" height="1.3" fill="rgb(38,140,45)" opacity="0.03"/>
<rect y="103.2" width="43.3" height="1.3" fill="rgb(38,140,45)" opacity="0.03"/>
<rect y="104.5" width="43.3" height="1.0" fill="rgb(38,140,45)" opacity="0.06"/>
<rect y="105.5" width="43.3" height="0.7" fill="rgb(38,140,45)" opacity="0.09"/>
<rect y="107.2" width="43.3" height="1.3" fill="rgb(38,140,45)" opacity="0.01"/>
<rect y="108.5" width="43.3" height="1.0" fill="rgb(38,140,45)" opacity="0.05"/>
<rect y="109.5" width="43.3" height="1.0" fill="rgb(38,140,45)" opacity="0.07"/>
<rect x="18.0" y="109.5" width="7.3" height=".8" fill="rgb(38,140,45)" opacity="0.21"/>
<rect y="110.5" width="43.3" height="0.7" fill="rgb(38,140,45)" opacity="0.11"/>
<rect x="16.8" y="110.5" width="7.3" height=".8" fill="rgb(38,140,45)" opacity="0.07"/>
<rect y="111.2" width="43.3" height="1.0" fill="rgb(38,140,45)" opacity="0.02"/>
<rect y="112.2" width="43.3" height="1.3" fill="rgb(38,140,45)" opacity="0.03"/>
<rect y="113.5" width="43.3" height="0.7" fill="rgb(38,140,45)" opacity="0.08"/>
<rect x="21.0" y="113.5" width="8.6" height=".8" fill="rgb(38,140,45)" opacity="0.07"/>
<rect y="114.2" width="43.3" height="0.7" fill="rgb(38,140,45)" opacity="0.07"/>
<rect x="12.1" y="114.2" width="8.1" height=".8" fill="rgb(38,140,45)" opacity="0.14"/>
<rect y="115.6" width="43.3" height="1.0" fill="rgb(38,140,45)" opacity="0.07"/>
<rect x="29.8" y="115.6" width="10.6" height=".8" fill="rgb(38,140,45)" opacity="0.02"/>
<rect y="116.6" width="43.3" height="1.3" fill="rgb(38,140,45)" opacity="0.07"/>
<rect y="117.9" width="43.3" height="1.0" fill="rgb(38,140,45)" opacity="0.03"/>
<rect y="118.9" width="43.3" height="0.7" fill="rgb(38,140,45)" opacity="0.06"/>
<rect x="29.7" y="118.9" width="9.5" height=".8" fill="rgb(38,140,45)" opacity="0.04"/>
<rect y="119.6" width="43.3" height="1.0" fill="rgb(38,140,45)" opacity="0.04"/>
<rect y="120.6" width="43.3" height="0.7" fill="rgb(38,140,45)" opacity="0.09"/>
<rect y="121.3" width="43.3" height="0.7" fill="rgb(38,140,45)" opacity="0.05"/>
<rect y="122.0" width="43.3" height="1.0" fill="rgb(38,140,45)" opacity="0.05"/>
<rect y="123.0" width="43.3" height="1.0" fill="rgb(38,140,45)" opacity="0.05"/>
<rect y="124.0" width="43.3" height="1.0" fill="rgb(38,140,45)" opacity="0.02"/>
<rect x="34.7" y="124.0" width="8.6" height=".8" fill="rgb(38,140,45)" opacity="0.22"/>
<rect y="125.0" width="43.3" height="1.0" fill="rgb(38,140,45)" opacity="0.06"/>
<rect y="126.0" width="43.3" height="1.3" fill="rgb(38,140,45)" opacity="0.02"/>
<rect y="127.3" width="43.3" height="1.3" fill="rgb(38,140,45)" opacity="0.08"/>
<rect y="128.6" width="43.3" height="1.3" fill="rgb(38,140,45)" opacity="0.04"/>
<rect x="2.5" y="128.6" width="7.3" height=".8" fill="rgb(38,140,45)" opacity="0.06"/>
<rect y="130.6" width="43.3" height="1.3" fill="rgb(38,140,45)" opacity="0.06"/>
<rect x="32.5" y="130.6" width="5.9" height=".8" fill="rgb(38,140,45)" opacity="0.01"/>
<rect y="131.9" width="43.3" height="1.0" fill="rgb(38,140,45)" opacity="0.08"/>
<rect x="11.0" y="131.9" width="8.0" height=".8" fill="rgb(38,140,45)" opacity="0.12"/>
<rect y="133.9" width="43.3" height="0.7" fill="rgb(38,140,45)" opacity="0.04"/>
<rect x="31.7" y="133.9" width="6.3" height=".8" fill="rgb(38,140,45)" opacity="0.17"/>
<rect y="134.6" width="43.3" height="1.0" fill="rgb(38,140,45)" opacity="0.02"/>
<rect x="32.7" y="134.6" width="3.1" height=".8" fill="rgb(38,140,45)" opacity="0.05"/>
<rect y="135.6" width="43.3" height="1.0" fill="rgb(38,140,45)" opacity="0.10"/>
<rect y="136.6" width="43.3" height="0.7" fill="rgb(38,140,45)" opacity="0.05"/>
<rect x="9.9" y="137.3" width="6.7" height=".8" fill="rgb(38,140,45)" opacity="0.09"/>
<rect y="138.3" width="43.3" height="1.0" fill="rgb(38,140,45)" opacity="0.04"/>
<rect y="139.3" width="43.3" height="0.7" fill="rgb(38,140,45)" opacity="0.09"/>
<rect x="1.8" y="139.3" width="6.3" height=".8" fill="rgb(38,140,45)" opacity="0.01"/>
<rect y="141.3" width="43.3" height="1.0" fill="rgb(38,140,45)" opacity="0.02"/>
<rect x="14.2" y="141.3" width="5.5" height=".8" fill="rgb(38,140,45)" opacity="0.07"/>
<rect y="142.3" width="43.3" height="1.0" fill="rgb(38,140,45)" opacity="0.02"/>
<rect y="143.3" width="43.3" height="0.7" fill="rgb(38,140,45)" opacity="0.01"/>
<rect x="26.6" y="143.3" width="9.2" height=".8" fill="rgb(38,140,45)" opacity="0.12"/>
<rect y="144.0" width="43.3" height="0.7" fill="rgb(38,140,45)" opacity="0.04"/>
<rect y="144.7" width="43.3" height="1.3" fill="rgb(38,140,45)" opacity="0.04"/>
<rect y="146.0" width="43.3" height="1.3" fill="rgb(38,140,45)" opacity="0.10"/>
<rect x="23.1" y="146.0" width="8.8" height=".8" fill="rgb(38,140,45)" opacity="0.07"/>
<rect y="147.3" width="43.3" height="1.3" fill="rgb(38,140,45)" opacity="0.05"/>
<rect x="8.0" y="147.3" width="4.4" height=".8" fill="rgb(38,140,45)" opacity="0.13"/>
<rect y="148.6" width="43.3" height="1.0" fill="rgb(38,140,45)" opacity="0.02"/>
<rect x="1.0" y="148.6" width="4.9" height=".8" fill="rgb(38,140,45)" opacity="0.21"/>
<rect y="149.6" width="43.3" height="1.3" fill="rgb(38,140,45)" opacity="0.09"/>
<rect x="17.1" y="149.6" width="3.1" height=".8" fill="rgb(38,140,45)" opacity="0.18"/>
<rect y="150.9" width="43.3" height="1.3" fill="rgb(38,140,45)" opacity="0.09"/>
<rect y="152.2" width="43.3" height="1.0" fill="rgb(38,140,45)" opacity="0.07"/>
<rect y="153.2" width="43.3" height="1.3" fill="rgb(38,140,45)" opacity="0.06"/>
<rect x="28.5" y="154.5" width="2.4" height=".8" fill="rgb(38,140,45)" opacity="0.02"/>
<rect y="155.8" width="43.3" height="0.7" fill="rgb(38,140,45)" opacity="0.07"/>
<rect y="156.5" width="43.3" height="0.7" fill="rgb(38,140,45)" opacity="0.04"/>
<rect y="157.2" width="43.3" height="0.7" fill="rgb(38,140,45)" opacity="0.09"/>
<rect y="157.9" width="43.3" height="1.3" fill="rgb(38,140,45)" opacity="0.10"/>
<rect y="159.9" width="43.3" height="1.3" fill="rgb(38,140,45)" opacity="0.06"/>
<rect x="20.4" y="159.9" width="2.9" height=".8" fill="rgb(38,140,45)" opacity="0.12"/>
<rect y="161.2" width="43.3" height="1.3" fill="rgb(38,140,45)" opacity="0.04"/>
<rect y="162.5" width="43.3" height="0.7" fill="rgb(38,140,45)" opacity="0.03"/>
<rect x="9.2" y="162.5" width="7.5" height=".8" fill="rgb(38,140,45)" opacity="0.17"/>
<rect y="163.2" width="43.3" height="1.0" fill="rgb(38,140,45)" opacity="0.03"/>
<rect y="164.2" width="43.3" height="1.0" fill="rgb(38,140,45)" opacity="0.06"/>
<rect y="165.2" width="43.3" height="1.0" fill="rgb(38,140,45)" opacity="0.06"/>
<rect y="166.2" width="43.3" height="1.0" fill="rgb(38,140,45)" opacity="0.09"/>
<rect y="167.2" width="43.3" height="1.0" fill="rgb(38,140,45)" opacity="0.08"/>
<rect y="168.2" width="43.3" height="1.3" fill="rgb(38,140,45)" opacity="0.10"/>
<rect y="169.5" width="43.3" height="0.7" fill="rgb(38,140,45)" opacity="0.07"/>
<rect y="170.2" width="43.3" height="0.7" fill="rgb(38,140,45)" opacity="0.02"/>
<rect y="170.9" width="43.3" height="1.0" fill="rgb(38,140,45)" opacity="0.10"/>
<rect y="171.9" width="43.3" height="1.0" fill="rgb(38,140,45)" opacity="0.06"/>
<rect y="172.9" width="43.3" height="0.7" fill="rgb(38,140,45)" opacity="0.03"/>
<rect x="21.6" y="172.9" width="4.8" height=".8" fill="rgb(38,140,45)" opacity="0.05"/>
<rect y="173.6" width="43.3" height="1.3" fill="rgb(38,140,45)" opacity="0.06"/>
<rect y="174.9" width="43.3" height="1.3" fill="rgb(38,140,45)" opacity="0.08"/>
<rect y="176.2" width="43.3" height="1.3" fill="rgb(38,140,45)" opacity="0.06"/>
<rect x="8.0" y="176.2" width="2.2" height=".8" fill="rgb(38,140,45)" opacity="0.11"/>
<rect y="177.5" width="43.3" height="1.0" fill="rgb(38,140,45)" opacity="0.02"/>
<rect y="178.5" width="43.3" height="0.7" fill="rgb(38,140,45)" opacity="0.04"/>
<rect y="179.2" width="43.3" height="0.7" fill="rgb(38,140,45)" opacity="0.05"/>
<rect y="179.9" width="43.3" height="1.3" fill="rgb(38,140,45)" opacity="0.07"/>
<rect y="181.2" width="43.3" height="1.3" fill="rgb(38,140,45)" opacity="0.06"/>
<rect y="183.8" width="43.3" height="1.3" fill="rgb(38,140,45)" opacity="0.10"/>
<rect x="33.5" y="183.8" width="9.8" height=".8" fill="rgb(38,140,45)" opacity="0.14"/>
<rect x="9.4" y="185.1" width="10.0" height=".8" fill="rgb(38,140,45)" opacity="0.17"/>
<rect y="186.4" width="43.3" height="0.7" fill="rgb(38,140,45)" opacity="0.02"/>
<rect y="187.1" width="43.3" height="0.7" fill="rgb(38,140,45)" opacity="0.10"/>
<rect x="31.8" y="187.1" width="4.8" height=".8" fill="rgb(38,140,45)" opacity="0.09"/>
<rect y="187.8" width="43.3" height="1.3" fill="rgb(38,140,45)" opacity="0.09"/>
<rect x="9.7" y="187.8" width="10.2" height=".8" fill="rgb(38,140,45)" opacity="0.01"/>
<rect x="0.4" y="69.6" width="43.3" height="1.0" fill="url(#g3)" opacity="0.75"/>
<rect x="0.5" y="70.6" width="43.3" height="1.0" fill="url(#g2)" opacity="0.60"/>
<rect x="0.8" y="71.6" width="43.3" height="1.0" fill="url(#g3)" opacity="0.61"/>
<rect x="0.4" y="72.6" width="43.3" height="1.0" fill="url(#g2)" opacity="0.39"/>
<rect x="0.5" y="73.6" width="43.3" height="1.0" fill="url(#g2)" opacity="0.44"/>
<rect x="0.4" y="74.6" width="43.3" height="1.0" fill="url(#g2)" opacity="0.36"/>
<rect x="0.8" y="75.6" width="43.3" height="1.0" fill="url(#g3)" opacity="0.37"/>
<rect x="0.8" y="76.6" width="43.3" height="1.0" fill="url(#g2)" opacity="0.34"/>
<rect x="0.9" y="77.6" width="43.3" height="1.0" fill="url(#g3)" opacity="0.38"/>
<rect x="0.4" y="78.6" width="43.3" height="1.0" fill="url(#g3)" opacity="0.29"/>
<rect x="0.8" y="79.6" width="43.3" height="1.0" fill="url(#g2)" opacity="0.35"/>
<rect x="0.4" y="80.6" width="43.3" height="1.0" fill="url(#g2)" opacity="0.33"/>
<rect x="0.7" y="81.6" width="43.3" height="1.0" fill="url(#g3)" opacity="0.35"/>
<rect x="0.5" y="82.6" width="43.3" height="1.0" fill="url(#g2)" opacity="0.35"/>
<rect x="0.2" y="83.6" width="43.3" height="1.0" fill="url(#g2)" opacity="0.36"/>
<rect x="0.7" y="84.6" width="43.3" height="1.0" fill="url(#g3)" opacity="0.31"/>
<rect x="0.4" y="85.6" width="43.3" height="1.0" fill="url(#g2)" opacity="0.31"/>
<rect x="0.9" y="86.6" width="43.3" height="1.0" fill="url(#g2)" opacity="0.25"/>
<rect x="0.3" y="87.6" width="43.3" height="1.0" fill="url(#g2)" opacity="0.30"/>
<rect x="0.5" y="88.6" width="43.3" height="1.0" fill="url(#g3)" opacity="0.28"/>
<rect x="0.2" y="89.6" width="43.3" height="1.0" fill="url(#g2)" opacity="0.22"/>
<rect x="0.4" y="90.6" width="43.3" height="1.0" fill="url(#g2)" opacity="0.22"/>
<rect x="1.0" y="91.6" width="43.3" height="1.0" fill="url(#g5)" opacity="1.00"/>
<rect x="0.9" y="92.6" width="43.3" height="1.0" fill="url(#g5)" opacity="1.00"/>
<rect x="1.1" y="93.6" width="43.3" height="1.0" fill="url(#g5)" opacity="0.75"/>
<rect x="0.8" y="94.6" width="43.3" height="1.0" fill="url(#g5)" opacity="0.78"/>
<rect x="0.2" y="95.6" width="43.3" height="1.0" fill="url(#g4)" opacity="0.39"/>
<rect x="0.8" y="96.6" width="43.3" height="1.0" fill="url(#g4)" opacity="0.31"/>
<rect x="0.2" y="97.6" width="43.3" height="1.0" fill="url(#g4)" opacity="0.51"/>
<rect x="0.9" y="98.6" width="43.3" height="1.0" fill="url(#g4)" opacity="0.25"/>
<rect x="0.3" y="99.6" width="43.3" height="1.0" fill="url(#g3)" opacity="0.48"/>
<rect x="0.4" y="100.6" width="43.3" height="1.0" fill="url(#g3)" opacity="0.44"/>
<rect x="0.5" y="101.6" width="43.3" height="1.0" fill="url(#g3)" opacity="0.26"/>
<rect x="1.0" y="102.6" width="43.3" height="1.0" fill="url(#g3)" opacity="0.50"/>
<rect x="0.6" y="103.6" width="43.3" height="1.0" fill="url(#g3)" opacity="0.19"/>
<rect x="0.8" y="104.6" width="43.3" height="1.0" fill="url(#g4)" opacity="0.43"/>
<rect x="0.7" y="105.6" width="43.3" height="1.0" fill="url(#g3)" opacity="0.18"/>
<rect x="0.3" y="106.6" width="43.3" height="1.0" fill="url(#g4)" opacity="0.19"/>
<rect x="0.3" y="107.6" width="43.3" height="1.0" fill="url(#g4)" opacity="0.33"/>
<rect x="0.9" y="108.6" width="43.3" height="1.0" fill="url(#g3)" opacity="0.64"/>
<rect x="0.2" y="109.6" width="43.3" height="1.0" fill="url(#g4)" opacity="0.29"/>
<rect x="0.3" y="110.6" width="43.3" height="1.0" fill="url(#g4)" opacity="0.26"/>
<rect x="1.0" y="111.6" width="43.3" height="1.0" fill="url(#g3)" opacity="0.46"/>
<rect x="0.6" y="112.6" width="43.3" height="1.0" fill="url(#g4)" opacity="0.48"/>
<rect x="0.4" y="113.6" width="43.3" height="1.0" fill="url(#g2)" opacity="0.44"/>
<rect x="0.8" y="114.6" width="43.3" height="1.0" fill="url(#g3)" opacity="0.33"/>
<rect x="0.9" y="115.6" width="43.3" height="1.0" fill="url(#g4)" opacity="0.50"/>
<rect x="1.1" y="116.6" width="43.3" height="1.0" fill="url(#g2)" opacity="0.16"/>
<rect x="0.2" y="117.6" width="43.3" height="1.0" fill="url(#g3)" opacity="0.67"/>
<rect x="0.3" y="118.6" width="43.3" height="1.0" fill="url(#g4)" opacity="0.26"/>
<rect x="0.5" y="119.6" width="43.3" height="1.0" fill="url(#g4)" opacity="0.22"/>
<rect x="0.5" y="120.6" width="43.3" height="1.0" fill="url(#g4)" opacity="0.26"/>
<rect x="1.0" y="121.6" width="43.3" height="1.0" fill="url(#g2)" opacity="0.30"/>
<rect x="0.1" y="122.6" width="43.3" height="1.0" fill="url(#g3)" opacity="0.45"/>
<rect x="0.5" y="123.6" width="43.3" height="1.0" fill="url(#g3)" opacity="0.24"/>
<rect x="0.4" y="124.6" width="43.3" height="1.0" fill="url(#g2)" opacity="0.40"/>
<rect x="0.5" y="125.6" width="43.3" height="1.0" fill="url(#g3)" opacity="0.50"/>
<rect x="0.9" y="126.6" width="43.3" height="1.0" fill="url(#g4)" opacity="0.30"/>
<rect x="1.0" y="127.6" width="43.3" height="1.0" fill="url(#g3)" opacity="0.35"/>
<rect x="0.1" y="128.6" width="43.3" height="1.0" fill="url(#g2)" opacity="0.19"/>
<rect x="0.7" y="129.6" width="43.3" height="1.0" fill="url(#g3)" opacity="0.19"/>
<rect x="0.5" y="130.6" width="43.3" height="1.0" fill="url(#g3)" opacity="0.21"/>
<rect x="0.5" y="131.6" width="43.3" height="1.0" fill="url(#g4)" opacity="0.37"/>
<rect x="0.8" y="132.6" width="43.3" height="1.0" fill="url(#g2)" opacity="0.30"/>
<rect x="0.6" y="133.6" width="43.3" height="1.0" fill="url(#g2)" opacity="0.25"/>
<rect x="0.3" y="134.6" width="43.3" height="1.0" fill="url(#g4)" opacity="0.46"/>
<rect x="0.4" y="135.6" width="43.3" height="1.0" fill="url(#g2)" opacity="0.32"/>
<rect x="0.7" y="136.6" width="43.3" height="1.0" fill="url(#g4)" opacity="0.23"/>
<rect x="1.1" y="137.6" width="43.3" height="1.0" fill="url(#g3)" opacity="0.52"/>
<rect x="1.1" y="138.6" width="43.3" height="1.0" fill="url(#g3)" opacity="0.50"/>
<rect x="0.1" y="139.6" width="43.3" height="1.0" fill="url(#g3)" opacity="0.24"/>
<rect x="0.4" y="140.6" width="43.3" height="1.0" fill="url(#g4)" opacity="0.34"/>
<rect x="0.2" y="141.6" width="43.3" height="1.0" fill="url(#g3)" opacity="0.28"/>
<rect x="0.8" y="142.6" width="43.3" height="1.0" fill="url(#g2)" opacity="0.50"/>
<rect x="0.6" y="143.6" width="43.3" height="1.0" fill="url(#g3)" opacity="0.33"/>
<rect x="0.4" y="144.6" width="43.3" height="1.0" fill="url(#g3)" opacity="0.22"/>
<rect x="0.4" y="145.6" width="43.3" height="1.0" fill="url(#g3)" opacity="0.60"/>
<rect x="0.8" y="146.6" width="43.3" height="1.0" fill="url(#g3)" opacity="0.19"/>
<rect x="0.7" y="147.6" width="43.3" height="1.0" fill="url(#g3)" opacity="0.28"/>
<rect x="0.3" y="148.6" width="43.3" height="1.0" fill="url(#g4)" opacity="0.40"/>
<rect x="0.6" y="149.6" width="43.3" height="1.0" fill="url(#g3)" opacity="0.19"/>
<rect x="0.5" y="150.6" width="43.3" height="1.0" fill="url(#g3)" opacity="0.32"/>
<rect x="0.5" y="151.6" width="43.3" height="1.0" fill="url(#g3)" opacity="0.18"/>
<rect x="0.3" y="152.6" width="43.3" height="1.0" fill="url(#g2)" opacity="0.45"/>
<rect x="0.5" y="153.6" width="43.3" height="1.0" fill="url(#g3)" opacity="0.46"/>
<rect x="0.9" y="154.6" width="43.3" height="1.0" fill="url(#g2)" opacity="0.37"/>
<rect x="1.0" y="155.6" width="43.3" height="1.0" fill="url(#g3)" opacity="0.44"/>
<rect x="0.1" y="156.6" width="43.3" height="1.0" fill="url(#g3)" opacity="0.27"/>
<rect x="0.9" y="157.6" width="43.3" height="1.0" fill="url(#g3)" opacity="0.32"/>
<rect x="0.8" y="158.6" width="43.3" height="1.0" fill="url(#g3)" opacity="0.28"/>
<rect x="0.9" y="159.6" width="43.3" height="1.0" fill="url(#g3)" opacity="0.31"/>
<rect x="0.1" y="160.6" width="43.3" height="1.0" fill="url(#g3)" opacity="0.23"/>
<rect x="0.7" y="161.6" width="43.3" height="1.0" fill="url(#g3)" opacity="0.41"/>
<rect x="0.3" y="162.6" width="43.3" height="1.0" fill="url(#g2)" opacity="0.55"/>
<rect x="0.4" y="163.6" width="43.3" height="1.0" fill="url(#g3)" opacity="0.33"/>
<rect x="0.9" y="164.6" width="43.3" height="1.0" fill="url(#g2)" opacity="0.32"/>
<rect x="1.1" y="165.6" width="43.3" height="1.0" fill="url(#g3)" opacity="0.13"/>
<rect x="1.1" y="166.6" width="43.3" height="1.0" fill="url(#g2)" opacity="0.43"/>
<rect x="0.3" y="167.6" width="43.3" height="1.0" fill="url(#g2)" opacity="0.28"/>
<rect x="0.6" y="168.6" width="43.3" height="1.0" fill="url(#g3)" opacity="0.52"/>
<rect x="1.0" y="169.6" width="43.3" height="1.0" fill="url(#g2)" opacity="0.46"/>
<rect x="0.7" y="170.6" width="43.3" height="1.0" fill="url(#g2)" opacity="0.25"/>
<rect x="0.7" y="171.6" width="43.3" height="1.0" fill="url(#g3)" opacity="0.20"/>
<rect x="1.0" y="172.6" width="43.3" height="1.0" fill="url(#g2)" opacity="0.39"/>
<rect x="0.5" y="173.6" width="43.3" height="1.0" fill="url(#g2)" opacity="0.12"/>
<rect x="0.2" y="174.6" width="43.3" height="1.0" fill="url(#g3)" opacity="0.31"/>
<rect x="0.8" y="175.6" width="43.3" height="1.0" fill="url(#g3)" opacity="0.17"/>
<rect x="0.9" y="176.6" width="43.3" height="1.0" fill="url(#g3)" opacity="0.15"/>
<rect x="0.5" y="177.6" width="43.3" height="1.0" fill="url(#g3)" opacity="0.13"/>
<rect x="0.1" y="178.6" width="43.3" height="1.0" fill="url(#g2)" opacity="0.34"/>
<rect x="0.4" y="179.6" width="43.3" height="1.0" fill="url(#g3)" opacity="0.15"/>
<rect x="1.0" y="180.6" width="43.3" height="1.0" fill="url(#g3)" opacity="0.17"/>
<rect x="0.9" y="181.6" width="43.3" height="1.0" fill="url(#g2)" opacity="0.26"/>
<rect x="0.3" y="182.6" width="43.3" height="1.0" fill="url(#g2)" opacity="0.31"/>
<rect x="0.3" y="183.6" width="43.3" height="1.0" fill="url(#g2)" opacity="0.16"/>
<rect x="0.4" y="184.6" width="43.3" height="1.0" fill="url(#g2)" opacity="0.24"/>
<rect x="0.3" y="185.6" width="43.3" height="1.0" fill="url(#g2)" opacity="0.31"/>
<rect x="0.6" y="186.6" width="43.3" height="1.0" fill="url(#g3)" opacity="0.43"/>
<rect x="0.5" y="187.6" width="43.3" height="0.9" fill="url(#g3)" opacity="0.38"/>
<rect y="90.10" width="43.3" height="1" fill="rgb(38,140,45)" opacity="0.20"/>
<rect x="11.2" y="90.10" width="22" height="1.2" fill="url(#g8)" opacity="1"/>
<rect y="69.60" width="43.30" height="118.90" fill="none" stroke="#c4c4cc" stroke-width="0.8"/>
</g>
<g transform="translate(184.00 0)">
<rect x="0.00" y="69.60" width="43.30" height="118.90" fill="rgb(246,250,246)"/>
<rect y="69.6" width="43.3" height="0.7" fill="rgb(38,140,45)" opacity="0.03"/>
<rect y="70.3" width="43.3" height="1.0" fill="rgb(38,140,45)" opacity="0.02"/>
<rect x="14.8" y="70.3" width="10.3" height=".8" fill="rgb(38,140,45)" opacity="0.18"/>
<rect y="71.3" width="43.3" height="0.7" fill="rgb(38,140,45)" opacity="0.02"/>
<rect y="72.0" width="43.3" height="1.0" fill="rgb(38,140,45)" opacity="0.09"/>
<rect y="73.0" width="43.3" height="1.0" fill="rgb(38,140,45)" opacity="0.02"/>
<rect y="74.0" width="43.3" height="1.3" fill="rgb(38,140,45)" opacity="0.09"/>
<rect y="75.3" width="43.3" height="0.7" fill="rgb(38,140,45)" opacity="0.02"/>
<rect x="31.9" y="75.3" width="10.6" height=".8" fill="rgb(38,140,45)" opacity="0.19"/>
<rect y="77.0" width="43.3" height="1.3" fill="rgb(38,140,45)" opacity="0.04"/>
<rect x="9.1" y="77.0" width="4.5" height=".8" fill="rgb(38,140,45)" opacity="0.21"/>
<rect y="78.3" width="43.3" height="1.3" fill="rgb(38,140,45)" opacity="0.09"/>
<rect x="10.7" y="78.3" width="8.3" height=".8" fill="rgb(38,140,45)" opacity="0.07"/>
<rect y="79.6" width="43.3" height="1.3" fill="rgb(38,140,45)" opacity="0.02"/>
<rect y="80.9" width="43.3" height="1.0" fill="rgb(38,140,45)" opacity="0.05"/>
<rect x="11.2" y="80.9" width="9.3" height=".8" fill="rgb(38,140,45)" opacity="0.01"/>
<rect y="81.9" width="43.3" height="0.7" fill="rgb(38,140,45)" opacity="0.05"/>
<rect y="82.6" width="43.3" height="1.3" fill="rgb(38,140,45)" opacity="0.06"/>
<rect y="83.9" width="43.3" height="1.0" fill="rgb(38,140,45)" opacity="0.02"/>
<rect y="84.9" width="43.3" height="0.7" fill="rgb(38,140,45)" opacity="0.05"/>
<rect x="23.3" y="84.9" width="4.5" height=".8" fill="rgb(38,140,45)" opacity="0.08"/>
<rect y="85.6" width="43.3" height="1.3" fill="rgb(38,140,45)" opacity="0.06"/>
<rect y="86.9" width="43.3" height="0.7" fill="rgb(38,140,45)" opacity="0.10"/>
<rect x="2.3" y="86.9" width="4.1" height=".8" fill="rgb(38,140,45)" opacity="0.17"/>
<rect y="87.6" width="43.3" height="1.3" fill="rgb(38,140,45)" opacity="0.09"/>
<rect x="34.4" y="87.6" width="4.6" height=".8" fill="rgb(38,140,45)" opacity="0.01"/>
<rect y="88.9" width="43.3" height="1.0" fill="rgb(38,140,45)" opacity="0.08"/>
<rect y="89.9" width="43.3" height="1.0" fill="rgb(38,140,45)" opacity="0.08"/>
<rect y="90.9" width="43.3" height="0.7" fill="rgb(38,140,45)" opacity="0.04"/>
<rect y="91.6" width="43.3" height="0.7" fill="rgb(38,140,45)" opacity="0.09"/>
<rect y="92.3" width="43.3" height="1.3" fill="rgb(38,140,45)" opacity="0.07"/>
<rect x="22.7" y="92.3" width="10.0" height=".8" fill="rgb(38,140,45)" opacity="0.06"/>
<rect y="93.6" width="43.3" height="1.0" fill="rgb(38,140,45)" opacity="0.04"/>
<rect y="94.6" width="43.3" height="1.0" fill="rgb(38,140,45)" opacity="0.06"/>
<rect y="95.6" width="43.3" height="1.0" fill="rgb(38,140,45)" opacity="0.02"/>
<rect y="96.6" width="43.3" height="1.0" fill="rgb(38,140,45)" opacity="0.11"/>
<rect y="97.6" width="43.3" height="1.0" fill="rgb(38,140,45)" opacity="0.11"/>
<rect y="98.6" width="43.3" height="0.7" fill="rgb(38,140,45)" opacity="0.01"/>
<rect x="27.1" y="98.6" width="7.4" height=".8" fill="rgb(38,140,45)" opacity="0.21"/>
<rect y="100.6" width="43.3" height="0.7" fill="rgb(38,140,45)" opacity="0.04"/>
<rect x="30.7" y="100.6" width="4.6" height=".8" fill="rgb(38,140,45)" opacity="0.22"/>
<rect y="101.3" width="43.3" height="1.3" fill="rgb(38,140,45)" opacity="0.11"/>
<rect y="102.6" width="43.3" height="0.7" fill="rgb(38,140,45)" opacity="0.05"/>
<rect y="103.3" width="43.3" height="0.7" fill="rgb(38,140,45)" opacity="0.05"/>
<rect x="32.7" y="103.3" width="9.5" height=".8" fill="rgb(38,140,45)" opacity="0.11"/>
<rect x="19.3" y="104.0" width="9.0" height=".8" fill="rgb(38,140,45)" opacity="0.09"/>
<rect y="104.7" width="43.3" height="1.0" fill="rgb(38,140,45)" opacity="0.02"/>
<rect x="34.2" y="104.7" width="7.1" height=".8" fill="rgb(38,140,45)" opacity="0.22"/>
<rect y="105.7" width="43.3" height="1.0" fill="rgb(38,140,45)" opacity="0.11"/>
<rect y="106.7" width="43.3" height="1.3" fill="rgb(38,140,45)" opacity="0.08"/>
<rect y="108.0" width="43.3" height="0.7" fill="rgb(38,140,45)" opacity="0.05"/>
<rect y="108.7" width="43.3" height="1.3" fill="rgb(38,140,45)" opacity="0.10"/>
<rect y="110.0" width="43.3" height="1.0" fill="rgb(38,140,45)" opacity="0.03"/>
<rect y="111.0" width="43.3" height="1.3" fill="rgb(38,140,45)" opacity="0.03"/>
<rect y="112.3" width="43.3" height="0.7" fill="rgb(38,140,45)" opacity="0.07"/>
<rect y="113.0" width="43.3" height="1.0" fill="rgb(38,140,45)" opacity="0.04"/>
<rect y="115.0" width="43.3" height="1.3" fill="rgb(38,140,45)" opacity="0.07"/>
<rect x="33.1" y="115.0" width="3.1" height=".8" fill="rgb(38,140,45)" opacity="0.21"/>
<rect y="116.3" width="43.3" height="1.3" fill="rgb(38,140,45)" opacity="0.09"/>
<rect y="117.6" width="43.3" height="1.3" fill="rgb(38,140,45)" opacity="0.07"/>
<rect y="118.9" width="43.3" height="1.3" fill="rgb(38,140,45)" opacity="0.04"/>
<rect y="120.2" width="43.3" height="0.7" fill="rgb(38,140,45)" opacity="0.02"/>
<rect x="22.5" y="120.2" width="4.3" height=".8" fill="rgb(38,140,45)" opacity="0.09"/>
<rect y="120.9" width="43.3" height="1.0" fill="rgb(38,140,45)" opacity="0.10"/>
<rect y="121.9" width="43.3" height="0.7" fill="rgb(38,140,45)" opacity="0.02"/>
<rect y="122.6" width="43.3" height="1.3" fill="rgb(38,140,45)" opacity="0.09"/>
<rect y="123.9" width="43.3" height="1.3" fill="rgb(38,140,45)" opacity="0.05"/>
<rect x="25.6" y="123.9" width="3.0" height=".8" fill="rgb(38,140,45)" opacity="0.12"/>
<rect y="125.2" width="43.3" height="1.0" fill="rgb(38,140,45)" opacity="0.07"/>
<rect x="13.3" y="125.2" width="8.9" height=".8" fill="rgb(38,140,45)" opacity="0.12"/>
<rect y="126.2" width="43.3" height="0.7" fill="rgb(38,140,45)" opacity="0.03"/>
<rect y="127.6" width="43.3" height="1.0" fill="rgb(38,140,45)" opacity="0.02"/>
<rect y="128.6" width="43.3" height="1.0" fill="rgb(38,140,45)" opacity="0.03"/>
<rect x="22.9" y="129.6" width="10.0" height=".8" fill="rgb(38,140,45)" opacity="0.11"/>
<rect y="130.6" width="43.3" height="1.0" fill="rgb(38,140,45)" opacity="0.05"/>
<rect y="132.6" width="43.3" height="0.7" fill="rgb(38,140,45)" opacity="0.07"/>
<rect y="133.3" width="43.3" height="1.0" fill="rgb(38,140,45)" opacity="0.05"/>
<rect y="134.3" width="43.3" height="0.7" fill="rgb(38,140,45)" opacity="0.04"/>
<rect x="26.0" y="134.3" width="4.9" height=".8" fill="rgb(38,140,45)" opacity="0.19"/>
<rect y="135.0" width="43.3" height="1.0" fill="rgb(38,140,45)" opacity="0.06"/>
<rect y="136.0" width="43.3" height="1.3" fill="rgb(38,140,45)" opacity="0.02"/>
<rect y="137.3" width="43.3" height="0.7" fill="rgb(38,140,45)" opacity="0.06"/>
<rect y="138.0" width="43.3" height="1.3" fill="rgb(38,140,45)" opacity="0.07"/>
<rect y="139.3" width="43.3" height="1.3" fill="rgb(38,140,45)" opacity="0.03"/>
<rect y="140.6" width="43.3" height="1.0" fill="rgb(38,140,45)" opacity="0.03"/>
<rect x="31.8" y="140.6" width="2.0" height=".8" fill="rgb(38,140,45)" opacity="0.01"/>
<rect y="141.6" width="43.3" height="1.0" fill="rgb(38,140,45)" opacity="0.06"/>
<rect y="142.6" width="43.3" height="1.3" fill="rgb(38,140,45)" opacity="0.03"/>
<rect y="143.9" width="43.3" height="1.0" fill="rgb(38,140,45)" opacity="0.07"/>
<rect y="144.9" width="43.3" height="0.7" fill="rgb(38,140,45)" opacity="0.03"/>
<rect y="145.6" width="43.3" height="1.3" fill="rgb(38,140,45)" opacity="0.04"/>
<rect y="146.9" width="43.3" height="1.3" fill="rgb(38,140,45)" opacity="0.02"/>
<rect y="148.2" width="43.3" height="0.7" fill="rgb(38,140,45)" opacity="0.03"/>
<rect y="148.9" width="43.3" height="0.7" fill="rgb(38,140,45)" opacity="0.06"/>
<rect y="149.6" width="43.3" height="1.3" fill="rgb(38,140,45)" opacity="0.10"/>
<rect x="23.8" y="149.6" width="10.1" height=".8" fill="rgb(38,140,45)" opacity="0.07"/>
<rect y="150.9" width="43.3" height="1.0" fill="rgb(38,140,45)" opacity="0.04"/>
<rect y="151.9" width="43.3" height="0.7" fill="rgb(38,140,45)" opacity="0.07"/>
<rect y="152.6" width="43.3" height="0.7" fill="rgb(38,140,45)" opacity="0.09"/>
<rect y="153.3" width="43.3" height="0.7" fill="rgb(38,140,45)" opacity="0.02"/>
<rect y="154.0" width="43.3" height="1.0" fill="rgb(38,140,45)" opacity="0.07"/>
<rect y="155.0" width="43.3" height="0.7" fill="rgb(38,140,45)" opacity="0.08"/>
<rect y="155.7" width="43.3" height="0.7" fill="rgb(38,140,45)" opacity="0.02"/>
<rect y="156.4" width="43.3" height="1.3" fill="rgb(38,140,45)" opacity="0.02"/>
<rect y="157.7" width="43.3" height="1.3" fill="rgb(38,140,45)" opacity="0.03"/>
<rect y="159.0" width="43.3" height="1.0" fill="rgb(38,140,45)" opacity="0.10"/>
<rect x="18.0" y="159.0" width="4.0" height=".8" fill="rgb(38,140,45)" opacity="0.08"/>
<rect y="160.0" width="43.3" height="1.3" fill="rgb(38,140,45)" opacity="0.04"/>
<rect y="161.3" width="43.3" height="1.0" fill="rgb(38,140,45)" opacity="0.10"/>
<rect y="162.3" width="43.3" height="1.0" fill="rgb(38,140,45)" opacity="0.11"/>
<rect y="163.3" width="43.3" height="1.0" fill="rgb(38,140,45)" opacity="0.05"/>
<rect x="6.8" y="163.3" width="6.9" height=".8" fill="rgb(38,140,45)" opacity="0.15"/>
<rect y="164.3" width="43.3" height="1.3" fill="rgb(38,140,45)" opacity="0.09"/>
<rect y="165.6" width="43.3" height="1.0" fill="rgb(38,140,45)" opacity="0.07"/>
<rect x="2.5" y="165.6" width="10.8" height=".8" fill="rgb(38,140,45)" opacity="0.22"/>
<rect y="166.6" width="43.3" height="1.0" fill="rgb(38,140,45)" opacity="0.07"/>
<rect y="167.6" width="43.3" height="0.7" fill="rgb(38,140,45)" opacity="0.08"/>
<rect y="168.3" width="43.3" height="1.3" fill="rgb(38,140,45)" opacity="0.10"/>
<rect y="169.6" width="43.3" height="0.7" fill="rgb(38,140,45)" opacity="0.02"/>
<rect x="11.0" y="169.6" width="10.5" height=".8" fill="rgb(38,140,45)" opacity="0.04"/>
<rect y="170.3" width="43.3" height="1.3" fill="rgb(38,140,45)" opacity="0.07"/>
<rect y="171.6" width="43.3" height="1.3" fill="rgb(38,140,45)" opacity="0.03"/>
<rect y="172.9" width="43.3" height="0.7" fill="rgb(38,140,45)" opacity="0.08"/>
<rect x="34.9" y="172.9" width="2.7" height=".8" fill="rgb(38,140,45)" opacity="0.06"/>
<rect y="173.6" width="43.3" height="1.3" fill="rgb(38,140,45)" opacity="0.03"/>
<rect y="174.9" width="43.3" height="1.3" fill="rgb(38,140,45)" opacity="0.02"/>
<rect x="15.3" y="174.9" width="3.2" height=".8" fill="rgb(38,140,45)" opacity="0.16"/>
<rect y="176.2" width="43.3" height="0.7" fill="rgb(38,140,45)" opacity="0.06"/>
<rect y="176.9" width="43.3" height="1.3" fill="rgb(38,140,45)" opacity="0.10"/>
<rect x="15.2" y="176.9" width="3.9" height=".8" fill="rgb(38,140,45)" opacity="0.07"/>
<rect x="32.2" y="178.2" width="4.3" height=".8" fill="rgb(38,140,45)" opacity="0.09"/>
<rect y="179.5" width="43.3" height="1.3" fill="rgb(38,140,45)" opacity="0.03"/>
<rect y="180.8" width="43.3" height="0.7" fill="rgb(38,140,45)" opacity="0.04"/>
<rect y="181.5" width="43.3" height="0.7" fill="rgb(38,140,45)" opacity="0.03"/>
<rect y="182.2" width="43.3" height="1.0" fill="rgb(38,140,45)" opacity="0.11"/>
<rect x="5.8" y="182.2" width="9.6" height=".8" fill="rgb(38,140,45)" opacity="0.18"/>
<rect y="183.2" width="43.3" height="0.7" fill="rgb(38,140,45)" opacity="0.03"/>
<rect x="33.5" y="183.2" width="6.8" height=".8" fill="rgb(38,140,45)" opacity="0.19"/>
<rect y="183.9" width="43.3" height="1.0" fill="rgb(38,140,45)" opacity="0.11"/>
<rect y="184.9" width="43.3" height="1.3" fill="rgb(38,140,45)" opacity="0.10"/>
<rect y="186.2" width="43.3" height="0.7" fill="rgb(38,140,45)" opacity="0.09"/>
<rect y="186.9" width="43.3" height="0.7" fill="rgb(38,140,45)" opacity="0.05"/>
<rect y="187.6" width="43.3" height="1.0" fill="rgb(38,140,45)" opacity="0.03"/>
<rect x="0.3" y="69.6" width="43.3" height="1.0" fill="url(#g3)" opacity="0.90"/>
<rect x="1.2" y="70.6" width="43.3" height="1.0" fill="url(#g2)" opacity="0.81"/>
<rect x="1.2" y="71.6" width="43.3" height="1.0" fill="url(#g2)" opacity="0.81"/>
<rect x="1.1" y="72.6" width="43.3" height="1.0" fill="url(#g2)" opacity="0.41"/>
<rect x="1.2" y="73.6" width="43.3" height="1.0" fill="url(#g3)" opacity="0.45"/>
<rect x="0.9" y="74.6" width="43.3" height="1.0" fill="url(#g3)" opacity="0.40"/>
<rect x="0.7" y="75.6" width="43.3" height="1.0" fill="url(#g3)" opacity="0.37"/>
<rect x="0.8" y="76.6" width="43.3" height="1.0" fill="url(#g3)" opacity="0.29"/>
<rect x="0.5" y="77.6" width="43.3" height="1.0" fill="url(#g3)" opacity="0.36"/>
<rect x="1.1" y="78.6" width="43.3" height="1.0" fill="url(#g2)" opacity="0.30"/>
<rect x="0.4" y="79.6" width="43.3" height="1.0" fill="url(#g3)" opacity="0.40"/>
<rect x="0.8" y="80.6" width="43.3" height="1.0" fill="url(#g3)" opacity="0.40"/>
<rect x="0.9" y="81.6" width="43.3" height="1.0" fill="url(#g3)" opacity="0.25"/>
<rect x="1.0" y="82.6" width="43.3" height="1.0" fill="url(#g2)" opacity="0.33"/>
<rect x="0.4" y="83.6" width="43.3" height="1.0" fill="url(#g2)" opacity="0.25"/>
<rect x="1.0" y="84.6" width="43.3" height="1.0" fill="url(#g3)" opacity="0.28"/>
<rect x="0.7" y="85.6" width="43.3" height="1.0" fill="url(#g2)" opacity="0.33"/>
<rect x="0.7" y="86.6" width="43.3" height="1.0" fill="url(#g2)" opacity="0.30"/>
<rect x="1.2" y="87.6" width="43.3" height="1.0" fill="url(#g3)" opacity="0.34"/>
<rect x="1.1" y="88.6" width="43.3" height="1.0" fill="url(#g3)" opacity="0.25"/>
<rect x="0.5" y="89.6" width="43.3" height="1.0" fill="url(#g2)" opacity="0.29"/>
<rect x="1.2" y="90.6" width="43.3" height="1.0" fill="url(#g3)" opacity="0.20"/>
<rect x="0.7" y="91.6" width="43.3" height="1.0" fill="url(#g5)" opacity="0.74"/>
<rect x="0.6" y="92.6" width="43.3" height="1.0" fill="url(#g5)" opacity="0.87"/>
<rect x="0.8" y="93.6" width="43.3" height="1.0" fill="url(#g4)" opacity="0.86"/>
<rect x="0.6" y="94.6" width="43.3" height="1.0" fill="url(#g4)" opacity="0.65"/>
<rect x="1.1" y="95.6" width="43.3" height="1.0" fill="url(#g2)" opacity="0.57"/>
<rect x="0.5" y="96.6" width="43.3" height="1.0" fill="url(#g4)" opacity="0.21"/>
<rect x="1.2" y="97.6" width="43.3" height="1.0" fill="url(#g3)" opacity="0.25"/>
<rect x="0.8" y="98.6" width="43.3" height="1.0" fill="url(#g4)" opacity="0.30"/>
<rect x="0.8" y="99.6" width="43.3" height="1.0" fill="url(#g3)" opacity="0.39"/>
<rect x="0.5" y="100.6" width="43.3" height="1.0" fill="url(#g2)" opacity="0.59"/>
<rect x="1.3" y="101.6" width="43.3" height="1.0" fill="url(#g2)" opacity="0.22"/>
<rect x="1.0" y="102.6" width="43.3" height="1.0" fill="url(#g3)" opacity="0.18"/>
<rect x="1.1" y="103.6" width="43.3" height="1.0" fill="url(#g2)" opacity="0.26"/>
<rect x="0.3" y="104.6" width="43.3" height="1.0" fill="url(#g3)" opacity="0.19"/>
<rect x="0.5" y="105.6" width="43.3" height="1.0" fill="url(#g2)" opacity="0.33"/>
<rect x="0.6" y="106.6" width="43.3" height="1.0" fill="url(#g3)" opacity="0.26"/>
<rect x="0.7" y="107.6" width="43.3" height="1.0" fill="url(#g3)" opacity="0.27"/>
<rect x="0.5" y="108.6" width="43.3" height="1.0" fill="url(#g2)" opacity="0.16"/>
<rect x="1.0" y="109.6" width="43.3" height="1.0" fill="url(#g4)" opacity="0.32"/>
<rect x="1.2" y="110.6" width="43.3" height="1.0" fill="url(#g2)" opacity="0.30"/>
<rect x="1.1" y="111.6" width="43.3" height="1.0" fill="url(#g3)" opacity="0.33"/>
<rect x="0.4" y="112.6" width="43.3" height="1.0" fill="url(#g2)" opacity="0.35"/>
<rect x="0.8" y="113.6" width="43.3" height="1.0" fill="url(#g3)" opacity="0.34"/>
<rect x="1.1" y="114.6" width="43.3" height="1.0" fill="url(#g3)" opacity="0.26"/>
<rect x="0.5" y="115.6" width="43.3" height="1.0" fill="url(#g2)" opacity="0.34"/>
<rect x="0.9" y="116.6" width="43.3" height="1.0" fill="url(#g2)" opacity="0.28"/>
<rect x="0.6" y="117.6" width="43.3" height="1.0" fill="url(#g3)" opacity="0.12"/>
<rect x="1.2" y="118.6" width="43.3" height="1.0" fill="url(#g3)" opacity="0.36"/>
<rect x="1.3" y="119.6" width="43.3" height="1.0" fill="url(#g3)" opacity="0.30"/>
<rect x="0.5" y="120.6" width="43.3" height="1.0" fill="url(#g2)" opacity="0.32"/>
<rect x="1.2" y="121.6" width="43.3" height="1.0" fill="url(#g3)" opacity="0.39"/>
<rect x="0.6" y="122.6" width="43.3" height="1.0" fill="url(#g2)" opacity="0.22"/>
<rect x="0.4" y="123.6" width="43.3" height="1.0" fill="url(#g3)" opacity="0.25"/>
<rect x="0.7" y="124.6" width="43.3" height="1.0" fill="url(#g3)" opacity="0.13"/>
<rect x="0.3" y="125.6" width="43.3" height="1.0" fill="url(#g2)" opacity="0.28"/>
<rect x="0.7" y="126.6" width="43.3" height="1.0" fill="url(#g3)" opacity="0.14"/>
<rect x="0.9" y="127.6" width="43.3" height="1.0" fill="url(#g2)" opacity="0.11"/>
<rect x="1.3" y="128.6" width="43.3" height="1.0" fill="url(#g3)" opacity="0.19"/>
<rect x="0.9" y="129.6" width="43.3" height="1.0" fill="url(#g2)" opacity="0.15"/>
<rect x="1.0" y="130.6" width="43.3" height="1.0" fill="url(#g3)" opacity="0.20"/>
<rect x="1.1" y="131.6" width="43.3" height="1.0" fill="url(#g3)" opacity="0.09"/>
<rect x="0.5" y="132.6" width="43.3" height="1.0" fill="url(#g2)" opacity="0.09"/>
<rect x="0.6" y="133.6" width="43.3" height="1.0" fill="url(#g3)" opacity="0.13"/>
<rect x="0.6" y="134.6" width="43.3" height="1.0" fill="url(#g2)" opacity="0.13"/>
<rect x="1.3" y="135.6" width="43.3" height="1.0" fill="url(#g3)" opacity="0.21"/>
<rect x="0.6" y="136.6" width="43.3" height="1.0" fill="url(#g2)" opacity="0.13"/>
<rect x="0.7" y="137.6" width="43.3" height="1.0" fill="url(#g3)" opacity="0.32"/>
<rect x="0.8" y="138.6" width="43.3" height="1.0" fill="url(#g2)" opacity="0.29"/>
<rect x="0.9" y="139.6" width="43.3" height="1.0" fill="url(#g3)" opacity="0.11"/>
<rect x="1.0" y="140.6" width="43.3" height="1.0" fill="url(#g2)" opacity="0.19"/>
<rect x="1.1" y="141.6" width="43.3" height="1.0" fill="url(#g2)" opacity="0.18"/>
<rect x="1.2" y="142.6" width="43.3" height="1.0" fill="url(#g2)" opacity="0.21"/>
<rect x="0.8" y="143.6" width="43.3" height="1.0" fill="url(#g3)" opacity="0.14"/>
<rect x="0.8" y="144.6" width="43.3" height="1.0" fill="url(#g2)" opacity="0.26"/>
<rect x="0.8" y="145.6" width="43.3" height="1.0" fill="url(#g2)" opacity="0.37"/>
<rect x="1.3" y="146.6" width="43.3" height="1.0" fill="url(#g3)" opacity="0.18"/>
<rect x="0.7" y="147.6" width="43.3" height="1.0" fill="url(#g2)" opacity="0.23"/>
<rect x="1.2" y="148.6" width="43.3" height="1.0" fill="url(#g3)" opacity="0.08"/>
<rect x="0.7" y="149.6" width="43.3" height="1.0" fill="url(#g2)" opacity="0.13"/>
<rect x="1.2" y="150.6" width="43.3" height="1.0" fill="url(#g2)" opacity="0.13"/>
<rect x="1.3" y="151.6" width="43.3" height="1.0" fill="url(#g3)" opacity="0.13"/>
<rect x="1.2" y="152.6" width="43.3" height="1.0" fill="url(#g2)" opacity="0.30"/>
<rect x="0.3" y="153.6" width="43.3" height="1.0" fill="url(#g3)" opacity="0.14"/>
<rect x="0.8" y="154.6" width="43.3" height="1.0" fill="url(#g2)" opacity="0.07"/>
<rect x="0.9" y="155.6" width="43.3" height="1.0" fill="url(#g2)" opacity="0.27"/>
<rect x="0.8" y="156.6" width="43.3" height="1.0" fill="url(#g3)" opacity="0.20"/>
<rect x="0.4" y="157.6" width="43.3" height="1.0" fill="url(#g3)" opacity="0.11"/>
<rect x="0.4" y="158.6" width="43.3" height="1.0" fill="url(#g2)" opacity="0.18"/>
<rect x="0.6" y="159.6" width="43.3" height="1.0" fill="url(#g2)" opacity="0.09"/>
<rect x="0.4" y="160.6" width="43.3" height="1.0" fill="url(#g3)" opacity="0.16"/>
<rect x="1.3" y="161.6" width="43.3" height="1.0" fill="url(#g2)" opacity="0.28"/>
<rect x="0.8" y="162.6" width="43.3" height="1.0" fill="url(#g3)" opacity="0.21"/>
<rect x="0.7" y="163.6" width="43.3" height="1.0" fill="url(#g2)" opacity="0.20"/>
<rect x="0.8" y="164.6" width="43.3" height="1.0" fill="url(#g2)" opacity="0.14"/>
<rect x="0.5" y="165.6" width="43.3" height="1.0" fill="url(#g3)" opacity="0.13"/>
<rect x="0.8" y="166.6" width="43.3" height="1.0" fill="url(#g3)" opacity="0.10"/>
<rect x="0.5" y="167.6" width="43.3" height="1.0" fill="url(#g3)" opacity="0.22"/>
<rect x="1.0" y="168.6" width="43.3" height="1.0" fill="url(#g3)" opacity="0.20"/>
<rect x="0.6" y="169.6" width="43.3" height="1.0" fill="url(#g2)" opacity="0.25"/>
<rect x="0.6" y="170.6" width="43.3" height="1.0" fill="url(#g2)" opacity="0.12"/>
<rect x="0.8" y="171.6" width="43.3" height="1.0" fill="url(#g2)" opacity="0.10"/>
<rect x="1.0" y="172.6" width="43.3" height="1.0" fill="url(#g2)" opacity="0.19"/>
<rect x="1.1" y="173.6" width="43.3" height="1.0" fill="url(#g3)" opacity="0.22"/>
<rect x="0.5" y="174.6" width="43.3" height="1.0" fill="url(#g3)" opacity="0.20"/>
<rect x="0.3" y="175.6" width="43.3" height="1.0" fill="url(#g3)" opacity="0.17"/>
<rect x="0.3" y="176.6" width="43.3" height="1.0" fill="url(#g3)" opacity="0.16"/>
<rect x="0.5" y="177.6" width="43.3" height="1.0" fill="url(#g2)" opacity="0.20"/>
<rect x="0.7" y="178.6" width="43.3" height="1.0" fill="url(#g3)" opacity="0.09"/>
<rect x="1.0" y="179.6" width="43.3" height="1.0" fill="url(#g2)" opacity="0.13"/>
<rect x="1.1" y="180.6" width="43.3" height="1.0" fill="url(#g2)" opacity="0.11"/>
<rect x="0.3" y="181.6" width="43.3" height="1.0" fill="url(#g2)" opacity="0.05"/>
<rect x="1.0" y="182.6" width="43.3" height="1.0" fill="url(#g2)" opacity="0.08"/>
<rect x="0.6" y="183.6" width="43.3" height="1.0" fill="url(#g3)" opacity="0.11"/>
<rect x="0.3" y="184.6" width="43.3" height="1.0" fill="url(#g3)" opacity="0.09"/>
<rect x="0.9" y="185.6" width="43.3" height="1.0" fill="url(#g3)" opacity="0.15"/>
<rect x="0.7" y="186.6" width="43.3" height="1.0" fill="url(#g3)" opacity="0.20"/>
<rect x="0.4" y="187.6" width="43.3" height="0.9" fill="url(#g2)" opacity="0.14"/>
<rect y="90.10" width="43.3" height="1" fill="rgb(38,140,45)" opacity="0.20"/>
<rect x="11.4" y="90.10" width="22" height="1.2" fill="url(#g8)" opacity="1"/>
<rect y="69.60" width="43.30" height="118.90" fill="none" stroke="#c4c4cc" stroke-width="0.8"/>
</g>
<g transform="translate(232.80 0)">
<rect x="0.00" y="69.60" width="43.30" height="118.90" fill="rgb(249,240,241)"/>
<rect y="69.6" width="43.3" height="1.3" fill="rgb(170,110,118)" opacity="0.02"/>
<rect x="25.4" y="69.6" width="9.6" height=".8" fill="rgb(170,110,118)" opacity="0.10"/>
<rect y="72.2" width="43.3" height="0.7" fill="rgb(170,110,118)" opacity="0.05"/>
<rect y="72.9" width="43.3" height="0.7" fill="rgb(170,110,118)" opacity="0.03"/>
<rect y="73.6" width="43.3" height="1.0" fill="rgb(170,110,118)" opacity="0.04"/>
<rect y="74.6" width="43.3" height="0.7" fill="rgb(170,110,118)" opacity="0.06"/>
<rect y="75.3" width="43.3" height="0.7" fill="rgb(170,110,118)" opacity="0.07"/>
<rect y="76.0" width="43.3" height="0.7" fill="rgb(170,110,118)" opacity="0.06"/>
<rect x="22.7" y="76.0" width="6.0" height=".8" fill="rgb(170,110,118)" opacity="0.02"/>
<rect y="76.7" width="43.3" height="0.7" fill="rgb(170,110,118)" opacity="0.02"/>
<rect x="36.2" y="76.7" width="7.1" height=".8" fill="rgb(170,110,118)" opacity="0.05"/>
<rect y="77.4" width="43.3" height="0.7" fill="rgb(170,110,118)" opacity="0.04"/>
<rect y="78.1" width="43.3" height="0.7" fill="rgb(170,110,118)" opacity="0.01"/>
<rect y="78.8" width="43.3" height="0.7" fill="rgb(170,110,118)" opacity="0.08"/>
<rect y="80.5" width="43.3" height="0.7" fill="rgb(170,110,118)" opacity="0.02"/>
<rect x="30.1" y="80.5" width="7.3" height=".8" fill="rgb(170,110,118)" opacity="0.10"/>
<rect y="81.2" width="43.3" height="1.3" fill="rgb(170,110,118)" opacity="0.03"/>
<rect x="30.1" y="81.2" width="6.3" height=".8" fill="rgb(170,110,118)" opacity="0.05"/>
<rect y="82.5" width="43.3" height="1.0" fill="rgb(170,110,118)" opacity="0.04"/>
<rect x="9.4" y="82.5" width="10.5" height=".8" fill="rgb(170,110,118)" opacity="0.15"/>
<rect y="83.5" width="43.3" height="1.0" fill="rgb(170,110,118)" opacity="0.07"/>
<rect x="29.0" y="83.5" width="5.3" height=".8" fill="rgb(170,110,118)" opacity="0.09"/>
<rect y="84.5" width="43.3" height="0.7" fill="rgb(170,110,118)" opacity="0.04"/>
<rect y="85.2" width="43.3" height="1.3" fill="rgb(170,110,118)" opacity="0.08"/>
<rect x="27.8" y="85.2" width="10.4" height=".8" fill="rgb(170,110,118)" opacity="0.15"/>
<rect y="86.5" width="43.3" height="1.0" fill="rgb(170,110,118)" opacity="0.04"/>
<rect y="87.5" width="43.3" height="1.0" fill="rgb(170,110,118)" opacity="0.06"/>
<rect x="27.5" y="87.5" width="9.2" height=".8" fill="rgb(170,110,118)" opacity="0.14"/>
<rect y="88.5" width="43.3" height="0.7" fill="rgb(170,110,118)" opacity="0.03"/>
<rect y="89.2" width="43.3" height="0.7" fill="rgb(170,110,118)" opacity="0.03"/>
<rect y="89.9" width="43.3" height="0.7" fill="rgb(170,110,118)" opacity="0.03"/>
<rect y="91.9" width="43.3" height="1.0" fill="rgb(170,110,118)" opacity="0.01"/>
<rect x="5.5" y="91.9" width="8.2" height=".8" fill="rgb(170,110,118)" opacity="0.16"/>
<rect y="92.9" width="43.3" height="0.7" fill="rgb(170,110,118)" opacity="0.06"/>
<rect x="22.1" y="92.9" width="10.3" height=".8" fill="rgb(170,110,118)" opacity="0.01"/>
<rect y="93.6" width="43.3" height="1.3" fill="rgb(170,110,118)" opacity="0.05"/>
<rect y="94.9" width="43.3" height="1.0" fill="rgb(170,110,118)" opacity="0.05"/>
<rect x="36.0" y="94.9" width="7.3" height=".8" fill="rgb(170,110,118)" opacity="0.13"/>
<rect y="95.9" width="43.3" height="1.0" fill="rgb(170,110,118)" opacity="0.07"/>
<rect x="26.9" y="95.9" width="10.5" height=".8" fill="rgb(170,110,118)" opacity="0.10"/>
<rect y="98.6" width="43.3" height="0.7" fill="rgb(170,110,118)" opacity="0.04"/>
<rect y="99.3" width="43.3" height="0.7" fill="rgb(170,110,118)" opacity="0.08"/>
<rect y="100.0" width="43.3" height="1.0" fill="rgb(170,110,118)" opacity="0.06"/>
<rect x="10.1" y="100.0" width="6.2" height=".8" fill="rgb(170,110,118)" opacity="0.14"/>
<rect y="101.0" width="43.3" height="0.7" fill="rgb(170,110,118)" opacity="0.03"/>
<rect y="101.7" width="43.3" height="0.7" fill="rgb(170,110,118)" opacity="0.05"/>
<rect y="102.4" width="43.3" height="1.0" fill="rgb(170,110,118)" opacity="0.01"/>
<rect y="103.4" width="43.3" height="1.3" fill="rgb(170,110,118)" opacity="0.06"/>
<rect y="105.7" width="43.3" height="1.0" fill="rgb(170,110,118)" opacity="0.06"/>
<rect y="106.7" width="43.3" height="1.0" fill="rgb(170,110,118)" opacity="0.03"/>
<rect y="107.7" width="43.3" height="1.0" fill="rgb(170,110,118)" opacity="0.07"/>
<rect x="36.1" y="107.7" width="7.2" height=".8" fill="rgb(170,110,118)" opacity="0.15"/>
<rect y="108.7" width="43.3" height="1.0" fill="rgb(170,110,118)" opacity="0.05"/>
<rect y="109.7" width="43.3" height="0.7" fill="rgb(170,110,118)" opacity="0.04"/>
<rect y="110.4" width="43.3" height="1.0" fill="rgb(170,110,118)" opacity="0.05"/>
<rect y="111.4" width="43.3" height="1.3" fill="rgb(170,110,118)" opacity="0.05"/>
<rect y="112.7" width="43.3" height="1.0" fill="rgb(170,110,118)" opacity="0.02"/>
<rect x="34.5" y="112.7" width="5.7" height=".8" fill="rgb(170,110,118)" opacity="0.15"/>
<rect y="113.7" width="43.3" height="0.7" fill="rgb(170,110,118)" opacity="0.07"/>
<rect y="114.4" width="43.3" height="1.0" fill="rgb(170,110,118)" opacity="0.08"/>
<rect y="115.4" width="43.3" height="1.3" fill="rgb(170,110,118)" opacity="0.08"/>
<rect x="13.3" y="115.4" width="9.7" height=".8" fill="rgb(170,110,118)" opacity="0.05"/>
<rect y="116.7" width="43.3" height="0.7" fill="rgb(170,110,118)" opacity="0.06"/>
<rect y="117.4" width="43.3" height="0.7" fill="rgb(170,110,118)" opacity="0.05"/>
<rect y="118.1" width="43.3" height="1.3" fill="rgb(170,110,118)" opacity="0.05"/>
<rect y="119.4" width="43.3" height="1.3" fill="rgb(170,110,118)" opacity="0.04"/>
<rect y="120.7" width="43.3" height="1.0" fill="rgb(170,110,118)" opacity="0.06"/>
<rect x="5.9" y="120.7" width="6.0" height=".8" fill="rgb(170,110,118)" opacity="0.10"/>
<rect y="121.7" width="43.3" height="0.7" fill="rgb(170,110,118)" opacity="0.06"/>
<rect x="26.4" y="121.7" width="10.9" height=".8" fill="rgb(170,110,118)" opacity="0.16"/>
<rect x="11.7" y="122.4" width="3.6" height=".8" fill="rgb(170,110,118)" opacity="0.03"/>
<rect y="123.1" width="43.3" height="0.7" fill="rgb(170,110,118)" opacity="0.03"/>
<rect x="24.4" y="123.1" width="2.6" height=".8" fill="rgb(170,110,118)" opacity="0.03"/>
<rect y="123.8" width="43.3" height="1.3" fill="rgb(170,110,118)" opacity="0.07"/>
<rect x="14.9" y="123.8" width="4.5" height=".8" fill="rgb(170,110,118)" opacity="0.07"/>
<rect y="125.1" width="43.3" height="0.7" fill="rgb(170,110,118)" opacity="0.06"/>
<rect y="125.8" width="43.3" height="0.7" fill="rgb(170,110,118)" opacity="0.04"/>
<rect x="10.9" y="125.8" width="6.6" height=".8" fill="rgb(170,110,118)" opacity="0.15"/>
<rect y="126.5" width="43.3" height="1.0" fill="rgb(170,110,118)" opacity="0.08"/>
<rect y="127.5" width="43.3" height="1.0" fill="rgb(170,110,118)" opacity="0.03"/>
<rect y="128.5" width="43.3" height="1.3" fill="rgb(170,110,118)" opacity="0.03"/>
<rect x="21.9" y="128.5" width="7.1" height=".8" fill="rgb(170,110,118)" opacity="0.15"/>
<rect y="129.8" width="43.3" height="0.7" fill="rgb(170,110,118)" opacity="0.05"/>
<rect x="32.9" y="129.8" width="2.0" height=".8" fill="rgb(170,110,118)" opacity="0.02"/>
<rect y="130.5" width="43.3" height="1.3" fill="rgb(170,110,118)" opacity="0.07"/>
<rect y="131.8" width="43.3" height="1.0" fill="rgb(170,110,118)" opacity="0.05"/>
<rect y="132.8" width="43.3" height="1.0" fill="rgb(170,110,118)" opacity="0.03"/>
<rect y="133.8" width="43.3" height="1.0" fill="rgb(170,110,118)" opacity="0.02"/>
<rect y="134.8" width="43.3" height="1.0" fill="rgb(170,110,118)" opacity="0.03"/>
<rect y="135.8" width="43.3" height="0.7" fill="rgb(170,110,118)" opacity="0.05"/>
<rect x="36.1" y="135.8" width="6.5" height=".8" fill="rgb(170,110,118)" opacity="0.07"/>
<rect y="136.5" width="43.3" height="1.0" fill="rgb(170,110,118)" opacity="0.08"/>
<rect x="34.2" y="136.5" width="3.3" height=".8" fill="rgb(170,110,118)" opacity="0.00"/>
<rect y="137.5" width="43.3" height="1.3" fill="rgb(170,110,118)" opacity="0.05"/>
<rect x="14.4" y="138.8" width="6.3" height=".8" fill="rgb(170,110,118)" opacity="0.09"/>
<rect y="139.8" width="43.3" height="0.7" fill="rgb(170,110,118)" opacity="0.07"/>
<rect y="140.5" width="43.3" height="0.7" fill="rgb(170,110,118)" opacity="0.04"/>
<rect y="141.2" width="43.3" height="1.3" fill="rgb(170,110,118)" opacity="0.08"/>
<rect x="22.4" y="141.2" width="6.3" height=".8" fill="rgb(170,110,118)" opacity="0.10"/>
<rect y="142.5" width="43.3" height="1.3" fill="rgb(170,110,118)" opacity="0.07"/>
<rect y="143.8" width="43.3" height="0.7" fill="rgb(170,110,118)" opacity="0.06"/>
<rect x="19.6" y="143.8" width="5.0" height=".8" fill="rgb(170,110,118)" opacity="0.05"/>
<rect x="25.1" y="144.5" width="9.3" height=".8" fill="rgb(170,110,118)" opacity="0.02"/>
<rect y="145.8" width="43.3" height="0.7" fill="rgb(170,110,118)" opacity="0.02"/>
<rect y="146.5" width="43.3" height="0.7" fill="rgb(170,110,118)" opacity="0.07"/>
<rect y="147.2" width="43.3" height="0.7" fill="rgb(170,110,118)" opacity="0.03"/>
<rect y="147.9" width="43.3" height="1.3" fill="rgb(170,110,118)" opacity="0.05"/>
<rect y="149.2" width="43.3" height="1.3" fill="rgb(170,110,118)" opacity="0.05"/>
<rect y="150.5" width="43.3" height="1.0" fill="rgb(170,110,118)" opacity="0.04"/>
<rect y="151.5" width="43.3" height="1.3" fill="rgb(170,110,118)" opacity="0.02"/>
<rect x="30.5" y="151.5" width="2.6" height=".8" fill="rgb(170,110,118)" opacity="0.13"/>
<rect y="152.8" width="43.3" height="1.3" fill="rgb(170,110,118)" opacity="0.06"/>
<rect y="154.1" width="43.3" height="1.3" fill="rgb(170,110,118)" opacity="0.06"/>
<rect y="155.4" width="43.3" height="0.7" fill="rgb(170,110,118)" opacity="0.01"/>
<rect y="156.1" width="43.3" height="1.0" fill="rgb(170,110,118)" opacity="0.08"/>
<rect y="157.1" width="43.3" height="1.0" fill="rgb(170,110,118)" opacity="0.05"/>
<rect y="158.1" width="43.3" height="0.7" fill="rgb(170,110,118)" opacity="0.06"/>
<rect x="3.1" y="158.1" width="2.6" height=".8" fill="rgb(170,110,118)" opacity="0.15"/>
<rect y="158.8" width="43.3" height="1.0" fill="rgb(170,110,118)" opacity="0.06"/>
<rect y="159.8" width="43.3" height="1.0" fill="rgb(170,110,118)" opacity="0.06"/>
<rect x="31.0" y="159.8" width="4.0" height=".8" fill="rgb(170,110,118)" opacity="0.10"/>
<rect y="160.8" width="43.3" height="0.7" fill="rgb(170,110,118)" opacity="0.06"/>
<rect x="10.8" y="160.8" width="10.3" height=".8" fill="rgb(170,110,118)" opacity="0.02"/>
<rect y="161.5" width="43.3" height="1.3" fill="rgb(170,110,118)" opacity="0.01"/>
<rect y="162.8" width="43.3" height="0.7" fill="rgb(170,110,118)" opacity="0.05"/>
<rect x="4.0" y="162.8" width="5.4" height=".8" fill="rgb(170,110,118)" opacity="0.01"/>
<rect y="163.5" width="43.3" height="0.7" fill="rgb(170,110,118)" opacity="0.05"/>
<rect x="14.7" y="163.5" width="7.6" height=".8" fill="rgb(170,110,118)" opacity="0.00"/>
<rect y="164.2" width="43.3" height="0.7" fill="rgb(170,110,118)" opacity="0.03"/>
<rect y="164.9" width="43.3" height="1.0" fill="rgb(170,110,118)" opacity="0.03"/>
<rect x="20.9" y="165.9" width="8.1" height=".8" fill="rgb(170,110,118)" opacity="0.05"/>
<rect y="166.6" width="43.3" height="1.3" fill="rgb(170,110,118)" opacity="0.04"/>
<rect x="2.3" y="166.6" width="4.1" height=".8" fill="rgb(170,110,118)" opacity="0.13"/>
<rect y="167.9" width="43.3" height="1.0" fill="rgb(170,110,118)" opacity="0.04"/>
<rect x="8.6" y="167.9" width="5.3" height=".8" fill="rgb(170,110,118)" opacity="0.12"/>
<rect x="12.6" y="168.9" width="7.2" height=".8" fill="rgb(170,110,118)" opacity="0.01"/>
<rect y="169.6" width="43.3" height="0.7" fill="rgb(170,110,118)" opacity="0.04"/>
<rect y="170.3" width="43.3" height="1.0" fill="rgb(170,110,118)" opacity="0.07"/>
<rect y="172.3" width="43.3" height="1.3" fill="rgb(170,110,118)" opacity="0.06"/>
<rect x="5.6" y="172.3" width="10.6" height=".8" fill="rgb(170,110,118)" opacity="0.11"/>
<rect y="173.6" width="43.3" height="0.7" fill="rgb(170,110,118)" opacity="0.06"/>
<rect x="33.5" y="173.6" width="6.4" height=".8" fill="rgb(170,110,118)" opacity="0.03"/>
<rect y="174.3" width="43.3" height="1.3" fill="rgb(170,110,118)" opacity="0.05"/>
<rect x="8.6" y="174.3" width="5.0" height=".8" fill="rgb(170,110,118)" opacity="0.10"/>
<rect y="175.6" width="43.3" height="1.0" fill="rgb(170,110,118)" opacity="0.06"/>
<rect x="26.6" y="175.6" width="5.2" height=".8" fill="rgb(170,110,118)" opacity="0.05"/>
<rect y="176.6" width="43.3" height="1.3" fill="rgb(170,110,118)" opacity="0.03"/>
<rect y="179.2" width="43.3" height="0.7" fill="rgb(170,110,118)" opacity="0.06"/>
<rect x="3.6" y="179.2" width="2.3" height=".8" fill="rgb(170,110,118)" opacity="0.03"/>
<rect y="179.9" width="43.3" height="0.7" fill="rgb(170,110,118)" opacity="0.04"/>
<rect y="180.6" width="43.3" height="1.3" fill="rgb(170,110,118)" opacity="0.06"/>
<rect x="17.3" y="180.6" width="10.0" height=".8" fill="rgb(170,110,118)" opacity="0.10"/>
<rect y="181.9" width="43.3" height="1.0" fill="rgb(170,110,118)" opacity="0.03"/>
<rect y="182.9" width="43.3" height="0.7" fill="rgb(170,110,118)" opacity="0.01"/>
<rect x="13.8" y="182.9" width="5.5" height=".8" fill="rgb(170,110,118)" opacity="0.14"/>
<rect y="183.6" width="43.3" height="0.7" fill="rgb(170,110,118)" opacity="0.04"/>
<rect x="30.1" y="183.6" width="8.8" height=".8" fill="rgb(170,110,118)" opacity="0.11"/>
<rect y="184.3" width="43.3" height="0.7" fill="rgb(170,110,118)" opacity="0.04"/>
<rect x="34.0" y="184.3" width="5.3" height=".8" fill="rgb(170,110,118)" opacity="0.15"/>
<rect y="187.0" width="43.3" height="1.0" fill="rgb(170,110,118)" opacity="0.04"/>
<rect x="36.6" y="187.0" width="2.3" height=".8" fill="rgb(170,110,118)" opacity="0.11"/>
<rect y="188.0" width="43.3" height="1.3" fill="rgb(170,110,118)" opacity="0.02"/>
<rect x="14.8" y="188.0" width="10.8" height=".8" fill="rgb(170,110,118)" opacity="0.06"/>
<rect x="-1.2" y="69.6" width="43.3" height="1.0" fill="url(#h2)" opacity="0.05"/>
<rect x="-1.3" y="70.6" width="43.3" height="1.0" fill="url(#h3)" opacity="0.06"/>
<rect x="-0.6" y="71.6" width="43.3" height="1.0" fill="url(#h3)" opacity="0.05"/>
<rect x="-0.5" y="72.6" width="43.3" height="1.0" fill="url(#h2)" opacity="0.05"/>
<rect x="-0.7" y="73.6" width="43.3" height="1.0" fill="url(#h2)" opacity="0.04"/>
<rect x="-1.0" y="74.6" width="43.3" height="1.0" fill="url(#h2)" opacity="0.05"/>
<rect x="-1.1" y="75.6" width="43.3" height="1.0" fill="url(#h2)" opacity="0.06"/>
<rect x="-0.6" y="76.6" width="43.3" height="1.0" fill="url(#h2)" opacity="0.04"/>
<rect x="-1.4" y="77.6" width="43.3" height="1.0" fill="url(#h3)" opacity="0.05"/>
<rect x="-1.1" y="78.6" width="43.3" height="1.0" fill="url(#h2)" opacity="0.05"/>
<rect x="-1.1" y="79.6" width="43.3" height="1.0" fill="url(#h2)" opacity="0.04"/>
<rect x="-1.5" y="80.6" width="43.3" height="1.0" fill="url(#h2)" opacity="0.05"/>
<rect x="-1.0" y="81.6" width="43.3" height="1.0" fill="url(#h2)" opacity="0.06"/>
<rect x="-1.4" y="82.6" width="43.3" height="1.0" fill="url(#h2)" opacity="0.05"/>
<rect x="-1.0" y="83.6" width="43.3" height="1.0" fill="url(#h2)" opacity="0.05"/>
<rect x="-0.6" y="84.6" width="43.3" height="1.0" fill="url(#h3)" opacity="0.06"/>
<rect x="-1.0" y="85.6" width="43.3" height="1.0" fill="url(#h2)" opacity="0.04"/>
<rect x="-1.1" y="86.6" width="43.3" height="1.0" fill="url(#h3)" opacity="0.05"/>
<rect x="-0.6" y="87.6" width="43.3" height="1.0" fill="url(#h3)" opacity="0.05"/>
<rect x="-0.7" y="88.6" width="43.3" height="1.0" fill="url(#h2)" opacity="0.05"/>
<rect x="-1.2" y="89.6" width="43.3" height="1.0" fill="url(#h2)" opacity="0.05"/>
<rect x="-0.7" y="90.6" width="43.3" height="1.0" fill="url(#h3)" opacity="0.04"/>
<rect x="-1.4" y="91.6" width="43.3" height="1.0" fill="url(#h5)" opacity="0.42"/>
<rect x="-1.1" y="92.6" width="43.3" height="1.0" fill="url(#h5)" opacity="0.41"/>
<rect x="-1.4" y="93.6" width="43.3" height="1.0" fill="url(#h5)" opacity="0.48"/>
<rect x="-1.3" y="94.6" width="43.3" height="1.0" fill="url(#h5)" opacity="0.50"/>
<rect x="-1.4" y="95.6" width="43.3" height="1.0" fill="url(#h3)" opacity="0.21"/>
<rect x="-0.7" y="96.6" width="43.3" height="1.0" fill="url(#h3)" opacity="0.23"/>
<rect x="-0.8" y="97.6" width="43.3" height="1.0" fill="url(#h4)" opacity="0.24"/>
<rect x="-1.1" y="98.6" width="43.3" height="1.0" fill="url(#h3)" opacity="0.14"/>
<rect x="-0.5" y="99.6" width="43.3" height="1.0" fill="url(#h3)" opacity="0.11"/>
<rect x="-1.2" y="100.6" width="43.3" height="1.0" fill="url(#h3)" opacity="0.11"/>
<rect x="-1.4" y="101.6" width="43.3" height="1.0" fill="url(#h3)" opacity="0.10"/>
<rect x="-1.2" y="102.6" width="43.3" height="1.0" fill="url(#h2)" opacity="0.07"/>
<rect x="-1.4" y="103.6" width="43.3" height="1.0" fill="url(#h3)" opacity="0.17"/>
<rect x="-1.5" y="104.6" width="43.3" height="1.0" fill="url(#h3)" opacity="0.23"/>
<rect x="-1.1" y="105.6" width="43.3" height="1.0" fill="url(#h2)" opacity="0.15"/>
<rect x="-0.9" y="106.6" width="43.3" height="1.0" fill="url(#h4)" opacity="0.15"/>
<rect x="-1.1" y="107.6" width="43.3" height="1.0" fill="url(#h3)" opacity="0.14"/>
<rect x="-0.9" y="108.6" width="43.3" height="1.0" fill="url(#h2)" opacity="0.16"/>
<rect x="-1.4" y="109.6" width="43.3" height="1.0" fill="url(#h3)" opacity="0.07"/>
<rect x="-0.8" y="110.6" width="43.3" height="1.0" fill="url(#h2)" opacity="0.15"/>
<rect x="-0.7" y="111.6" width="43.3" height="1.0" fill="url(#h4)" opacity="0.18"/>
<rect x="-0.6" y="112.6" width="43.3" height="1.0" fill="url(#h3)" opacity="0.14"/>
<rect x="-1.1" y="113.6" width="43.3" height="1.0" fill="url(#h3)" opacity="0.15"/>
<rect x="-1.0" y="114.6" width="43.3" height="1.0" fill="url(#h4)" opacity="0.13"/>
<rect x="-1.4" y="115.6" width="43.3" height="1.0" fill="url(#h3)" opacity="0.09"/>
<rect x="-1.4" y="116.6" width="43.3" height="1.0" fill="url(#h3)" opacity="0.18"/>
<rect x="-0.9" y="117.6" width="43.3" height="1.0" fill="url(#h2)" opacity="0.11"/>
<rect x="-1.1" y="118.6" width="43.3" height="1.0" fill="url(#h4)" opacity="0.15"/>
<rect x="-1.3" y="119.6" width="43.3" height="1.0" fill="url(#h3)" opacity="0.15"/>
<rect x="-0.7" y="120.6" width="43.3" height="1.0" fill="url(#h3)" opacity="0.10"/>
<rect x="-1.3" y="121.6" width="43.3" height="1.0" fill="url(#h3)" opacity="0.08"/>
<rect x="-0.7" y="122.6" width="43.3" height="1.0" fill="url(#h4)" opacity="0.19"/>
<rect x="-1.4" y="123.6" width="43.3" height="1.0" fill="url(#h3)" opacity="0.14"/>
<rect x="-1.5" y="124.6" width="43.3" height="1.0" fill="url(#h3)" opacity="0.07"/>
<rect x="-0.8" y="125.6" width="43.3" height="1.0" fill="url(#h2)" opacity="0.05"/>
<rect x="-0.7" y="126.6" width="43.3" height="1.0" fill="url(#h2)" opacity="0.07"/>
<rect x="-0.6" y="127.6" width="43.3" height="1.0" fill="url(#h3)" opacity="0.13"/>
<rect x="-1.1" y="128.6" width="43.3" height="1.0" fill="url(#h4)" opacity="0.14"/>
<rect x="-0.9" y="129.6" width="43.3" height="1.0" fill="url(#h3)" opacity="0.04"/>
<rect x="-1.2" y="130.6" width="43.3" height="1.0" fill="url(#h3)" opacity="0.11"/>
<rect x="-1.1" y="131.6" width="43.3" height="1.0" fill="url(#h3)" opacity="0.11"/>
<rect x="-1.1" y="132.6" width="43.3" height="1.0" fill="url(#h3)" opacity="0.10"/>
<rect x="-0.6" y="133.6" width="43.3" height="1.0" fill="url(#h4)" opacity="0.09"/>
<rect x="-1.0" y="134.6" width="43.3" height="1.0" fill="url(#h3)" opacity="0.10"/>
<rect x="-0.9" y="135.6" width="43.3" height="1.0" fill="url(#h3)" opacity="0.05"/>
<rect x="-1.2" y="136.6" width="43.3" height="1.0" fill="url(#h3)" opacity="0.04"/>
<rect x="-1.1" y="137.6" width="43.3" height="1.0" fill="url(#h2)" opacity="0.10"/>
<rect x="-0.8" y="138.6" width="43.3" height="1.0" fill="url(#h3)" opacity="0.10"/>
<rect x="-1.2" y="139.6" width="43.3" height="1.0" fill="url(#h4)" opacity="0.07"/>
<rect x="-0.7" y="140.6" width="43.3" height="1.0" fill="url(#h2)" opacity="0.13"/>
<rect x="-0.6" y="141.6" width="43.3" height="1.0" fill="url(#h4)" opacity="0.07"/>
<rect x="-0.8" y="142.6" width="43.3" height="1.0" fill="url(#h4)" opacity="0.12"/>
<rect x="-1.0" y="143.6" width="43.3" height="1.0" fill="url(#h2)" opacity="0.11"/>
<rect x="-0.5" y="144.6" width="43.3" height="1.0" fill="url(#h3)" opacity="0.05"/>
<rect x="-1.5" y="145.6" width="43.3" height="1.0" fill="url(#h3)" opacity="0.05"/>
<rect x="-0.8" y="146.6" width="43.3" height="1.0" fill="url(#h2)" opacity="0.05"/>
<rect x="-0.9" y="147.6" width="43.3" height="1.0" fill="url(#h4)" opacity="0.05"/>
<rect x="-0.8" y="148.6" width="43.3" height="1.0" fill="url(#h2)" opacity="0.07"/>
<rect x="-1.1" y="149.6" width="43.3" height="1.0" fill="url(#h3)" opacity="0.05"/>
<rect x="-1.2" y="150.6" width="43.3" height="1.0" fill="url(#h2)" opacity="0.07"/>
<rect x="-0.6" y="151.6" width="43.3" height="1.0" fill="url(#h3)" opacity="0.03"/>
<rect x="-0.7" y="152.6" width="43.3" height="1.0" fill="url(#h3)" opacity="0.08"/>
<rect x="-0.9" y="153.6" width="43.3" height="1.0" fill="url(#h2)" opacity="0.04"/>
<rect x="-0.8" y="154.6" width="43.3" height="1.0" fill="url(#h4)" opacity="0.06"/>
<rect x="-1.0" y="155.6" width="43.3" height="1.0" fill="url(#h3)" opacity="0.06"/>
<rect x="-1.2" y="156.6" width="43.3" height="1.0" fill="url(#h3)" opacity="0.10"/>
<rect x="-1.3" y="157.6" width="43.3" height="1.0" fill="url(#h4)" opacity="0.05"/>
<rect x="-0.9" y="158.6" width="43.3" height="1.0" fill="url(#h2)" opacity="0.06"/>
<rect x="-1.3" y="159.6" width="43.3" height="1.0" fill="url(#h2)" opacity="0.05"/>
<rect x="-0.8" y="160.6" width="43.3" height="1.0" fill="url(#h3)" opacity="0.06"/>
<rect x="-1.0" y="161.6" width="43.3" height="1.0" fill="url(#h2)" opacity="0.06"/>
<rect x="-1.2" y="162.6" width="43.3" height="1.0" fill="url(#h4)" opacity="0.02"/>
<rect x="-0.6" y="163.6" width="43.3" height="1.0" fill="url(#h3)" opacity="0.05"/>
<rect x="-0.7" y="164.6" width="43.3" height="1.0" fill="url(#h3)" opacity="0.03"/>
<rect x="-1.3" y="166.6" width="43.3" height="1.0" fill="url(#h2)" opacity="0.05"/>
<rect x="-0.7" y="167.6" width="43.3" height="1.0" fill="url(#h2)" opacity="0.03"/>
<rect x="-0.7" y="168.6" width="43.3" height="1.0" fill="url(#h4)" opacity="0.05"/>
<rect x="-0.5" y="169.6" width="43.3" height="1.0" fill="url(#h4)" opacity="0.06"/>
<rect x="-1.4" y="170.6" width="43.3" height="1.0" fill="url(#h4)" opacity="0.05"/>
<rect x="-1.3" y="171.6" width="43.3" height="1.0" fill="url(#h2)" opacity="0.03"/>
<rect x="-0.8" y="172.6" width="43.3" height="1.0" fill="url(#h3)" opacity="0.04"/>
<rect x="-1.1" y="173.6" width="43.3" height="1.0" fill="url(#h2)" opacity="0.05"/>
<rect x="-1.4" y="174.6" width="43.3" height="1.0" fill="url(#h3)" opacity="0.05"/>
<rect x="-0.8" y="175.6" width="43.3" height="1.0" fill="url(#h3)" opacity="0.02"/>
<rect x="-0.6" y="176.6" width="43.3" height="1.0" fill="url(#h4)" opacity="0.04"/>
<rect x="-0.8" y="177.6" width="43.3" height="1.0" fill="url(#h3)" opacity="0.02"/>
<rect x="-1.0" y="178.6" width="43.3" height="1.0" fill="url(#h2)" opacity="0.02"/>
<rect x="-0.6" y="179.6" width="43.3" height="1.0" fill="url(#h3)" opacity="0.04"/>
<rect x="-1.0" y="180.6" width="43.3" height="1.0" fill="url(#h3)" opacity="0.03"/>
<rect x="-0.9" y="181.6" width="43.3" height="1.0" fill="url(#h4)" opacity="0.04"/>
<rect x="-0.7" y="182.6" width="43.3" height="1.0" fill="url(#h3)" opacity="0.04"/>
<rect x="-1.1" y="183.6" width="43.3" height="1.0" fill="url(#h2)" opacity="0.05"/>
<rect x="-1.4" y="184.6" width="43.3" height="1.0" fill="url(#h3)" opacity="0.03"/>
<rect x="-1.0" y="185.6" width="43.3" height="1.0" fill="url(#h2)" opacity="0.03"/>
<rect x="-1.1" y="186.6" width="43.3" height="1.0" fill="url(#h3)" opacity="0.04"/>
<rect x="-1.1" y="187.6" width="43.3" height="0.9" fill="url(#h2)" opacity="0.04"/>
<rect y="90.10" width="43.3" height="1" fill="rgb(200,35,50)" opacity="0.12"/>
<rect x="9.6" y="90.10" width="22" height="1.2" fill="url(#h8)" opacity="1"/>
<rect y="69.60" width="43.30" height="118.90" fill="none" stroke="#c4c4cc" stroke-width="0.8"/>
</g>
<g transform="translate(279.70 0)">
<rect x="0.00" y="69.60" width="43.30" height="118.90" fill="rgb(249,240,241)"/>
<rect y="69.6" width="43.3" height="1.3" fill="rgb(170,110,118)" opacity="0.07"/>
<rect x="21.6" y="70.9" width="10.7" height=".8" fill="rgb(170,110,118)" opacity="0.12"/>
<rect y="71.9" width="43.3" height="1.0" fill="rgb(170,110,118)" opacity="0.06"/>
<rect x="29.5" y="71.9" width="8.6" height=".8" fill="rgb(170,110,118)" opacity="0.07"/>
<rect y="72.9" width="43.3" height="1.3" fill="rgb(170,110,118)" opacity="0.04"/>
<rect x="20.7" y="72.9" width="8.3" height=".8" fill="rgb(170,110,118)" opacity="0.12"/>
<rect y="74.2" width="43.3" height="1.3" fill="rgb(170,110,118)" opacity="0.06"/>
<rect y="75.5" width="43.3" height="1.0" fill="rgb(170,110,118)" opacity="0.03"/>
<rect x="29.5" y="75.5" width="9.2" height=".8" fill="rgb(170,110,118)" opacity="0.07"/>
<rect y="76.5" width="43.3" height="0.7" fill="rgb(170,110,118)" opacity="0.06"/>
<rect x="33.2" y="77.2" width="9.5" height=".8" fill="rgb(170,110,118)" opacity="0.15"/>
<rect y="78.2" width="43.3" height="1.0" fill="rgb(170,110,118)" opacity="0.07"/>
<rect y="79.2" width="43.3" height="1.3" fill="rgb(170,110,118)" opacity="0.05"/>
<rect y="80.5" width="43.3" height="1.3" fill="rgb(170,110,118)" opacity="0.08"/>
<rect x="13.3" y="80.5" width="7.4" height=".8" fill="rgb(170,110,118)" opacity="0.05"/>
<rect y="83.1" width="43.3" height="1.3" fill="rgb(170,110,118)" opacity="0.04"/>
<rect x="24.4" y="83.1" width="4.8" height=".8" fill="rgb(170,110,118)" opacity="0.03"/>
<rect y="84.4" width="43.3" height="1.0" fill="rgb(170,110,118)" opacity="0.02"/>
<rect y="85.4" width="43.3" height="1.3" fill="rgb(170,110,118)" opacity="0.04"/>
<rect x="6.2" y="85.4" width="7.8" height=".8" fill="rgb(170,110,118)" opacity="0.09"/>
<rect y="86.7" width="43.3" height="1.3" fill="rgb(170,110,118)" opacity="0.05"/>
<rect x="13.9" y="86.7" width="5.5" height=".8" fill="rgb(170,110,118)" opacity="0.02"/>
<rect y="89.0" width="43.3" height="1.3" fill="rgb(170,110,118)" opacity="0.08"/>
<rect x="16.2" y="89.0" width="9.3" height=".8" fill="rgb(170,110,118)" opacity="0.01"/>
<rect y="90.3" width="43.3" height="1.3" fill="rgb(170,110,118)" opacity="0.05"/>
<rect y="91.6" width="43.3" height="1.0" fill="rgb(170,110,118)" opacity="0.06"/>
<rect x="2.8" y="91.6" width="5.8" height=".8" fill="rgb(170,110,118)" opacity="0.05"/>
<rect y="92.6" width="43.3" height="1.0" fill="rgb(170,110,118)" opacity="0.08"/>
<rect x="25.0" y="92.6" width="6.1" height=".8" fill="rgb(170,110,118)" opacity="0.12"/>
<rect y="94.3" width="43.3" height="1.0" fill="rgb(170,110,118)" opacity="0.05"/>
<rect x="9.4" y="94.3" width="6.1" height=".8" fill="rgb(170,110,118)" opacity="0.15"/>
<rect y="95.3" width="43.3" height="1.0" fill="rgb(170,110,118)" opacity="0.08"/>
<rect y="96.3" width="43.3" height="1.0" fill="rgb(170,110,118)" opacity="0.05"/>
<rect x="17.5" y="96.3" width="6.3" height=".8" fill="rgb(170,110,118)" opacity="0.02"/>
<rect y="97.3" width="43.3" height="1.0" fill="rgb(170,110,118)" opacity="0.04"/>
<rect y="98.3" width="43.3" height="1.0" fill="rgb(170,110,118)" opacity="0.03"/>
<rect y="99.3" width="43.3" height="1.3" fill="rgb(170,110,118)" opacity="0.03"/>
<rect y="100.6" width="43.3" height="1.0" fill="rgb(170,110,118)" opacity="0.05"/>
<rect y="101.6" width="43.3" height="1.3" fill="rgb(170,110,118)" opacity="0.06"/>
<rect y="102.9" width="43.3" height="1.0" fill="rgb(170,110,118)" opacity="0.04"/>
<rect y="103.9" width="43.3" height="0.7" fill="rgb(170,110,118)" opacity="0.01"/>
<rect y="105.9" width="43.3" height="1.0" fill="rgb(170,110,118)" opacity="0.08"/>
<rect x="34.9" y="106.9" width="7.5" height=".8" fill="rgb(170,110,118)" opacity="0.07"/>
<rect y="108.2" width="43.3" height="1.3" fill="rgb(170,110,118)" opacity="0.04"/>
<rect y="109.5" width="43.3" height="0.7" fill="rgb(170,110,118)" opacity="0.03"/>
<rect y="110.2" width="43.3" height="1.3" fill="rgb(170,110,118)" opacity="0.05"/>
<rect y="113.5" width="43.3" height="1.0" fill="rgb(170,110,118)" opacity="0.06"/>
<rect x="1.1" y="113.5" width="7.0" height=".8" fill="rgb(170,110,118)" opacity="0.10"/>
<rect y="114.5" width="43.3" height="0.7" fill="rgb(170,110,118)" opacity="0.01"/>
<rect y="115.2" width="43.3" height="1.0" fill="rgb(170,110,118)" opacity="0.07"/>
<rect y="116.2" width="43.3" height="1.0" fill="rgb(170,110,118)" opacity="0.04"/>
<rect x="23.5" y="116.2" width="9.4" height=".8" fill="rgb(170,110,118)" opacity="0.03"/>
<rect y="117.2" width="43.3" height="1.0" fill="rgb(170,110,118)" opacity="0.04"/>
<rect y="118.2" width="43.3" height="1.3" fill="rgb(170,110,118)" opacity="0.02"/>
<rect y="119.5" width="43.3" height="0.7" fill="rgb(170,110,118)" opacity="0.07"/>
<rect x="13.4" y="119.5" width="5.2" height=".8" fill="rgb(170,110,118)" opacity="0.01"/>
<rect y="120.2" width="43.3" height="1.3" fill="rgb(170,110,118)" opacity="0.07"/>
<rect x="35.6" y="120.2" width="5.9" height=".8" fill="rgb(170,110,118)" opacity="0.15"/>
<rect y="121.5" width="43.3" height="0.7" fill="rgb(170,110,118)" opacity="0.06"/>
<rect x="22.3" y="121.5" width="4.1" height=".8" fill="rgb(170,110,118)" opacity="0.12"/>
<rect y="122.2" width="43.3" height="1.3" fill="rgb(170,110,118)" opacity="0.01"/>
<rect x="1.9" y="122.2" width="10.9" height=".8" fill="rgb(170,110,118)" opacity="0.12"/>
<rect y="123.5" width="43.3" height="0.7" fill="rgb(170,110,118)" opacity="0.06"/>
<rect x="2.9" y="123.5" width="8.6" height=".8" fill="rgb(170,110,118)" opacity="0.02"/>
<rect x="19.1" y="125.5" width="2.3" height=".8" fill="rgb(170,110,118)" opacity="0.08"/>
<rect y="126.8" width="43.3" height="0.7" fill="rgb(170,110,118)" opacity="0.01"/>
<rect y="127.5" width="43.3" height="1.3" fill="rgb(170,110,118)" opacity="0.05"/>
<rect x="8.2" y="127.5" width="4.0" height=".8" fill="rgb(170,110,118)" opacity="0.09"/>
<rect y="128.8" width="43.3" height="0.7" fill="rgb(170,110,118)" opacity="0.03"/>
<rect x="11.6" y="128.8" width="4.2" height=".8" fill="rgb(170,110,118)" opacity="0.09"/>
<rect y="129.5" width="43.3" height="1.3" fill="rgb(170,110,118)" opacity="0.03"/>
<rect y="130.8" width="43.3" height="1.0" fill="rgb(170,110,118)" opacity="0.04"/>
<rect x="31.1" y="130.8" width="6.8" height=".8" fill="rgb(170,110,118)" opacity="0.14"/>
<rect y="131.8" width="43.3" height="0.7" fill="rgb(170,110,118)" opacity="0.06"/>
<rect y="132.5" width="43.3" height="1.3" fill="rgb(170,110,118)" opacity="0.03"/>
<rect y="133.8" width="43.3" height="0.7" fill="rgb(170,110,118)" opacity="0.01"/>
<rect x="17.4" y="134.5" width="2.5" height=".8" fill="rgb(170,110,118)" opacity="0.10"/>
<rect x="1.2" y="135.5" width="6.9" height=".8" fill="rgb(170,110,118)" opacity="0.13"/>
<rect y="136.8" width="43.3" height="0.7" fill="rgb(170,110,118)" opacity="0.06"/>
<rect x="21.1" y="137.5" width="2.5" height=".8" fill="rgb(170,110,118)" opacity="0.14"/>
<rect x="36.2" y="138.5" width="2.5" height=".8" fill="rgb(170,110,118)" opacity="0.15"/>
<rect y="139.5" width="43.3" height="1.3" fill="rgb(170,110,118)" opacity="0.08"/>
<rect y="140.8" width="43.3" height="1.3" fill="rgb(170,110,118)" opacity="0.02"/>
<rect y="142.1" width="43.3" height="0.7" fill="rgb(170,110,118)" opacity="0.07"/>
<rect y="142.8" width="43.3" height="1.3" fill="rgb(170,110,118)" opacity="0.06"/>
<rect x="21.8" y="142.8" width="4.3" height=".8" fill="rgb(170,110,118)" opacity="0.13"/>
<rect y="144.1" width="43.3" height="1.3" fill="rgb(170,110,118)" opacity="0.08"/>
<rect y="145.4" width="43.3" height="1.3" fill="rgb(170,110,118)" opacity="0.03"/>
<rect y="146.7" width="43.3" height="1.3" fill="rgb(170,110,118)" opacity="0.05"/>
<rect x="13.5" y="146.7" width="3.1" height=".8" fill="rgb(170,110,118)" opacity="0.15"/>
<rect y="148.0" width="43.3" height="0.7" fill="rgb(170,110,118)" opacity="0.03"/>
<rect y="148.7" width="43.3" height="1.0" fill="rgb(170,110,118)" opacity="0.03"/>
<rect y="149.7" width="43.3" height="0.7" fill="rgb(170,110,118)" opacity="0.03"/>
<rect x="12.4" y="149.7" width="6.4" height=".8" fill="rgb(170,110,118)" opacity="0.07"/>
<rect y="151.4" width="43.3" height="1.0" fill="rgb(170,110,118)" opacity="0.02"/>
<rect x="20.1" y="151.4" width="4.2" height=".8" fill="rgb(170,110,118)" opacity="0.11"/>
<rect y="152.4" width="43.3" height="1.3" fill="rgb(170,110,118)" opacity="0.03"/>
<rect y="153.7" width="43.3" height="1.0" fill="rgb(170,110,118)" opacity="0.07"/>
<rect x="11.0" y="153.7" width="2.3" height=".8" fill="rgb(170,110,118)" opacity="0.12"/>
<rect y="154.7" width="43.3" height="0.7" fill="rgb(170,110,118)" opacity="0.06"/>
<rect y="155.4" width="43.3" height="0.7" fill="rgb(170,110,118)" opacity="0.04"/>
<rect x="21.8" y="155.4" width="6.3" height=".8" fill="rgb(170,110,118)" opacity="0.14"/>
<rect y="156.1" width="43.3" height="1.3" fill="rgb(170,110,118)" opacity="0.06"/>
<rect y="157.4" width="43.3" height="1.0" fill="rgb(170,110,118)" opacity="0.02"/>
<rect y="158.4" width="43.3" height="1.0" fill="rgb(170,110,118)" opacity="0.01"/>
<rect y="159.4" width="43.3" height="0.7" fill="rgb(170,110,118)" opacity="0.03"/>
<rect x="4.9" y="159.4" width="5.3" height=".8" fill="rgb(170,110,118)" opacity="0.14"/>
<rect y="160.1" width="43.3" height="1.0" fill="rgb(170,110,118)" opacity="0.02"/>
<rect y="161.8" width="43.3" height="0.7" fill="rgb(170,110,118)" opacity="0.07"/>
<rect x="14.0" y="161.8" width="3.1" height=".8" fill="rgb(170,110,118)" opacity="0.15"/>
<rect y="162.5" width="43.3" height="0.7" fill="rgb(170,110,118)" opacity="0.04"/>
<rect y="163.2" width="43.3" height="1.3" fill="rgb(170,110,118)" opacity="0.04"/>
<rect y="164.5" width="43.3" height="1.0" fill="rgb(170,110,118)" opacity="0.07"/>
<rect x="26.2" y="164.5" width="5.5" height=".8" fill="rgb(170,110,118)" opacity="0.04"/>
<rect y="165.5" width="43.3" height="1.3" fill="rgb(170,110,118)" opacity="0.06"/>
<rect x="4.8" y="165.5" width="3.0" height=".8" fill="rgb(170,110,118)" opacity="0.10"/>
<rect y="166.8" width="43.3" height="1.3" fill="rgb(170,110,118)" opacity="0.08"/>
<rect y="170.1" width="43.3" height="0.7" fill="rgb(170,110,118)" opacity="0.02"/>
<rect x="35.8" y="170.1" width="7.5" height=".8" fill="rgb(170,110,118)" opacity="0.04"/>
<rect y="170.8" width="43.3" height="0.7" fill="rgb(170,110,118)" opacity="0.02"/>
<rect x="17.6" y="170.8" width="10.3" height=".8" fill="rgb(170,110,118)" opacity="0.10"/>
<rect y="171.5" width="43.3" height="1.3" fill="rgb(170,110,118)" opacity="0.05"/>
<rect y="172.8" width="43.3" height="0.7" fill="rgb(170,110,118)" opacity="0.05"/>
<rect y="173.5" width="43.3" height="1.0" fill="rgb(170,110,118)" opacity="0.05"/>
<rect y="174.5" width="43.3" height="1.0" fill="rgb(170,110,118)" opacity="0.06"/>
<rect x="24.1" y="174.5" width="6.3" height=".8" fill="rgb(170,110,118)" opacity="0.10"/>
<rect x="26.5" y="175.5" width="5.5" height=".8" fill="rgb(170,110,118)" opacity="0.10"/>
<rect y="176.5" width="43.3" height="0.7" fill="rgb(170,110,118)" opacity="0.06"/>
<rect y="177.2" width="43.3" height="0.7" fill="rgb(170,110,118)" opacity="0.07"/>
<rect x="24.6" y="177.2" width="6.2" height=".8" fill="rgb(170,110,118)" opacity="0.06"/>
<rect y="177.9" width="43.3" height="0.7" fill="rgb(170,110,118)" opacity="0.08"/>
<rect y="179.3" width="43.3" height="0.7" fill="rgb(170,110,118)" opacity="0.07"/>
<rect y="180.0" width="43.3" height="0.7" fill="rgb(170,110,118)" opacity="0.05"/>
<rect y="180.7" width="43.3" height="0.7" fill="rgb(170,110,118)" opacity="0.04"/>
<rect x="7.3" y="180.7" width="6.9" height=".8" fill="rgb(170,110,118)" opacity="0.16"/>
<rect y="181.4" width="43.3" height="0.7" fill="rgb(170,110,118)" opacity="0.04"/>
<rect x="19.9" y="181.4" width="5.1" height=".8" fill="rgb(170,110,118)" opacity="0.09"/>
<rect y="182.1" width="43.3" height="1.0" fill="rgb(170,110,118)" opacity="0.04"/>
<rect y="183.1" width="43.3" height="1.3" fill="rgb(170,110,118)" opacity="0.06"/>
<rect y="184.4" width="43.3" height="0.7" fill="rgb(170,110,118)" opacity="0.05"/>
<rect y="185.1" width="43.3" height="0.7" fill="rgb(170,110,118)" opacity="0.04"/>
<rect y="185.8" width="43.3" height="1.3" fill="rgb(170,110,118)" opacity="0.04"/>
<rect x="1.3" y="185.8" width="2.1" height=".8" fill="rgb(170,110,118)" opacity="0.03"/>
<rect y="187.1" width="43.3" height="1.0" fill="rgb(170,110,118)" opacity="0.02"/>
<rect x="10.0" y="187.1" width="4.7" height=".8" fill="rgb(170,110,118)" opacity="0.16"/>
<rect y="188.1" width="43.3" height="1.0" fill="rgb(170,110,118)" opacity="0.02"/>
<rect x="0.6" y="69.6" width="43.3" height="1.0" fill="url(#h2)" opacity="0.05"/>
<rect x="-0.1" y="70.6" width="43.3" height="1.0" fill="url(#h2)" opacity="0.05"/>
<rect x="0.1" y="71.6" width="43.3" height="1.0" fill="url(#h2)" opacity="0.06"/>
<rect x="0.4" y="72.6" width="43.3" height="1.0" fill="url(#h2)" opacity="0.05"/>
<rect x="0.3" y="73.6" width="43.3" height="1.0" fill="url(#h2)" opacity="0.04"/>
<rect y="74.6" width="43.3" height="1.0" fill="url(#h3)" opacity="0.05"/>
<rect x="0.2" y="75.6" width="43.3" height="1.0" fill="url(#h3)" opacity="0.05"/>
<rect y="76.6" width="43.3" height="1.0" fill="url(#h3)" opacity="0.05"/>
<rect y="77.6" width="43.3" height="1.0" fill="url(#h3)" opacity="0.05"/>
<rect x="0.7" y="78.6" width="43.3" height="1.0" fill="url(#h2)" opacity="0.05"/>
<rect x="-0.1" y="79.6" width="43.3" height="1.0" fill="url(#h3)" opacity="0.05"/>
<rect y="80.6" width="43.3" height="1.0" fill="url(#h3)" opacity="0.05"/>
<rect x="-0.2" y="81.6" width="43.3" height="1.0" fill="url(#h2)" opacity="0.05"/>
<rect x="0.2" y="82.6" width="43.3" height="1.0" fill="url(#h2)" opacity="0.04"/>
<rect x="-0.3" y="83.6" width="43.3" height="1.0" fill="url(#h2)" opacity="0.04"/>
<rect x="0.1" y="84.6" width="43.3" height="1.0" fill="url(#h2)" opacity="0.05"/>
<rect x="0.4" y="85.6" width="43.3" height="1.0" fill="url(#h3)" opacity="0.05"/>
<rect x="0.2" y="86.6" width="43.3" height="1.0" fill="url(#h2)" opacity="0.06"/>
<rect x="-0.1" y="87.6" width="43.3" height="1.0" fill="url(#h3)" opacity="0.06"/>
<rect x="0.2" y="88.6" width="43.3" height="1.0" fill="url(#h2)" opacity="0.04"/>
<rect x="0.5" y="89.6" width="43.3" height="1.0" fill="url(#h2)" opacity="0.06"/>
<rect x="0.6" y="90.6" width="43.3" height="1.0" fill="url(#h3)" opacity="0.05"/>
<rect x="-0.2" y="91.6" width="43.3" height="1.0" fill="url(#h7)" opacity="0.38"/>
<rect x="0.2" y="92.6" width="43.3" height="1.0" fill="url(#h6)" opacity="0.38"/>
<rect x="-0.1" y="93.6" width="43.3" height="1.0" fill="url(#h5)" opacity="0.37"/>
<rect x="-0.3" y="94.6" width="43.3" height="1.0" fill="url(#h5)" opacity="0.39"/>
<rect x="0.1" y="95.6" width="43.3" height="1.0" fill="url(#h3)" opacity="0.17"/>
<rect x="0.2" y="96.6" width="43.3" height="1.0" fill="url(#h3)" opacity="0.16"/>
<rect x="-0.1" y="97.6" width="43.3" height="1.0" fill="url(#h3)" opacity="0.14"/>
<rect x="0.4" y="98.6" width="43.3" height="1.0" fill="url(#h2)" opacity="0.12"/>
<rect x="0.1" y="99.6" width="43.3" height="1.0" fill="url(#h3)" opacity="0.19"/>
<rect x="0.3" y="100.6" width="43.3" height="1.0" fill="url(#h3)" opacity="0.18"/>
<rect x="0.6" y="101.6" width="43.3" height="1.0" fill="url(#h2)" opacity="0.22"/>
<rect x="0.1" y="102.6" width="43.3" height="1.0" fill="url(#h3)" opacity="0.24"/>
<rect x="0.3" y="103.6" width="43.3" height="1.0" fill="url(#h2)" opacity="0.10"/>
<rect x="0.2" y="104.6" width="43.3" height="1.0" fill="url(#h3)" opacity="0.17"/>
<rect x="0.1" y="105.6" width="43.3" height="1.0" fill="url(#h4)" opacity="0.18"/>
<rect x="0.1" y="106.6" width="43.3" height="1.0" fill="url(#h3)" opacity="0.18"/>
<rect x="0.3" y="107.6" width="43.3" height="1.0" fill="url(#h3)" opacity="0.09"/>
<rect x="0.2" y="108.6" width="43.3" height="1.0" fill="url(#h3)" opacity="0.06"/>
<rect x="-0.1" y="109.6" width="43.3" height="1.0" fill="url(#h4)" opacity="0.10"/>
<rect x="0.2" y="110.6" width="43.3" height="1.0" fill="url(#h3)" opacity="0.06"/>
<rect x="0.7" y="111.6" width="43.3" height="1.0" fill="url(#h3)" opacity="0.08"/>
<rect x="0.3" y="112.6" width="43.3" height="1.0" fill="url(#h4)" opacity="0.05"/>
<rect x="0.3" y="113.6" width="43.3" height="1.0" fill="url(#h3)" opacity="0.14"/>
<rect x="0.2" y="114.6" width="43.3" height="1.0" fill="url(#h4)" opacity="0.18"/>
<rect x="0.6" y="115.6" width="43.3" height="1.0" fill="url(#h3)" opacity="0.16"/>
<rect x="0.3" y="116.6" width="43.3" height="1.0" fill="url(#h2)" opacity="0.07"/>
<rect x="0.4" y="117.6" width="43.3" height="1.0" fill="url(#h3)" opacity="0.12"/>
<rect x="0.5" y="118.6" width="43.3" height="1.0" fill="url(#h3)" opacity="0.14"/>
<rect x="0.5" y="119.6" width="43.3" height="1.0" fill="url(#h4)" opacity="0.07"/>
<rect x="0.1" y="120.6" width="43.3" height="1.0" fill="url(#h4)" opacity="0.14"/>
<rect x="0.1" y="121.6" width="43.3" height="1.0" fill="url(#h3)" opacity="0.20"/>
<rect x="0.1" y="122.6" width="43.3" height="1.0" fill="url(#h4)" opacity="0.06"/>
<rect x="-0.3" y="123.6" width="43.3" height="1.0" fill="url(#h4)" opacity="0.12"/>
<rect x="0.3" y="124.6" width="43.3" height="1.0" fill="url(#h2)" opacity="0.07"/>
<rect x="0.6" y="125.6" width="43.3" height="1.0" fill="url(#h3)" opacity="0.10"/>
<rect x="0.7" y="126.6" width="43.3" height="1.0" fill="url(#h2)" opacity="0.15"/>
<rect x="-0.1" y="127.6" width="43.3" height="1.0" fill="url(#h2)" opacity="0.11"/>
<rect x="0.1" y="128.6" width="43.3" height="1.0" fill="url(#h3)" opacity="0.07"/>
<rect x="0.5" y="129.6" width="43.3" height="1.0" fill="url(#h3)" opacity="0.08"/>
<rect x="-0.1" y="130.6" width="43.3" height="1.0" fill="url(#h3)" opacity="0.10"/>
<rect x="0.2" y="131.6" width="43.3" height="1.0" fill="url(#h3)" opacity="0.08"/>
<rect x="0.2" y="132.6" width="43.3" height="1.0" fill="url(#h4)" opacity="0.05"/>
<rect x="0.3" y="133.6" width="43.3" height="1.0" fill="url(#h3)" opacity="0.08"/>
<rect x="0.6" y="134.6" width="43.3" height="1.0" fill="url(#h4)" opacity="0.09"/>
<rect x="0.4" y="135.6" width="43.3" height="1.0" fill="url(#h2)" opacity="0.03"/>
<rect x="0.7" y="136.6" width="43.3" height="1.0" fill="url(#h2)" opacity="0.09"/>
<rect x="0.2" y="137.6" width="43.3" height="1.0" fill="url(#h3)" opacity="0.06"/>
<rect x="0.1" y="138.6" width="43.3" height="1.0" fill="url(#h3)" opacity="0.03"/>
<rect x="-0.3" y="139.6" width="43.3" height="1.0" fill="url(#h3)" opacity="0.07"/>
<rect y="140.6" width="43.3" height="1.0" fill="url(#h3)" opacity="0.08"/>
<rect x="-0.2" y="141.6" width="43.3" height="1.0" fill="url(#h2)" opacity="0.08"/>
<rect x="-0.1" y="142.6" width="43.3" height="1.0" fill="url(#h2)" opacity="0.04"/>
<rect x="0.4" y="143.6" width="43.3" height="1.0" fill="url(#h3)" opacity="0.11"/>
<rect x="0.1" y="144.6" width="43.3" height="1.0" fill="url(#h3)" opacity="0.10"/>
<rect x="0.6" y="145.6" width="43.3" height="1.0" fill="url(#h4)" opacity="0.13"/>
<rect x="-0.1" y="146.6" width="43.3" height="1.0" fill="url(#h3)" opacity="0.04"/>
<rect y="147.6" width="43.3" height="1.0" fill="url(#h3)" opacity="0.05"/>
<rect x="0.1" y="148.6" width="43.3" height="1.0" fill="url(#h2)" opacity="0.03"/>
<rect x="0.1" y="149.6" width="43.3" height="1.0" fill="url(#h3)" opacity="0.07"/>
<rect y="150.6" width="43.3" height="1.0" fill="url(#h3)" opacity="0.05"/>
<rect x="0.1" y="151.6" width="43.3" height="1.0" fill="url(#h3)" opacity="0.04"/>
<rect x="-0.1" y="152.6" width="43.3" height="1.0" fill="url(#h3)" opacity="0.05"/>
<rect x="0.4" y="153.6" width="43.3" height="1.0" fill="url(#h3)" opacity="0.11"/>
<rect x="0.3" y="154.6" width="43.3" height="1.0" fill="url(#h3)" opacity="0.08"/>
<rect x="0.2" y="155.6" width="43.3" height="1.0" fill="url(#h2)" opacity="0.03"/>
<rect x="-0.1" y="156.6" width="43.3" height="1.0" fill="url(#h2)" opacity="0.03"/>
<rect x="0.5" y="157.6" width="43.3" height="1.0" fill="url(#h4)" opacity="0.07"/>
<rect x="0.1" y="158.6" width="43.3" height="1.0" fill="url(#h3)" opacity="0.05"/>
<rect x="0.7" y="159.6" width="43.3" height="1.0" fill="url(#h3)" opacity="0.05"/>
<rect x="0.5" y="160.6" width="43.3" height="1.0" fill="url(#h3)" opacity="0.03"/>
<rect x="0.7" y="162.6" width="43.3" height="1.0" fill="url(#h3)" opacity="0.06"/>
<rect x="-0.1" y="163.6" width="43.3" height="1.0" fill="url(#h4)" opacity="0.05"/>
<rect x="-0.2" y="164.6" width="43.3" height="1.0" fill="url(#h2)" opacity="0.02"/>
<rect x="0.1" y="165.6" width="43.3" height="1.0" fill="url(#h2)" opacity="0.08"/>
<rect x="0.6" y="166.6" width="43.3" height="1.0" fill="url(#h2)" opacity="0.05"/>
<rect x="0.3" y="167.6" width="43.3" height="1.0" fill="url(#h3)" opacity="0.07"/>
<rect x="0.4" y="168.6" width="43.3" height="1.0" fill="url(#h2)" opacity="0.02"/>
<rect x="0.2" y="169.6" width="43.3" height="1.0" fill="url(#h3)" opacity="0.07"/>
<rect x="0.5" y="171.6" width="43.3" height="1.0" fill="url(#h3)" opacity="0.05"/>
<rect x="0.5" y="172.6" width="43.3" height="1.0" fill="url(#h2)" opacity="0.03"/>
<rect x="0.5" y="173.6" width="43.3" height="1.0" fill="url(#h2)" opacity="0.03"/>
<rect x="0.1" y="174.6" width="43.3" height="1.0" fill="url(#h3)" opacity="0.03"/>
<rect x="0.6" y="175.6" width="43.3" height="1.0" fill="url(#h3)" opacity="0.06"/>
<rect x="0.3" y="176.6" width="43.3" height="1.0" fill="url(#h3)" opacity="0.03"/>
<rect x="-0.2" y="178.6" width="43.3" height="1.0" fill="url(#h4)" opacity="0.03"/>
<rect x="0.2" y="179.6" width="43.3" height="1.0" fill="url(#h3)" opacity="0.03"/>
<rect x="-0.2" y="181.6" width="43.3" height="1.0" fill="url(#h3)" opacity="0.02"/>
<rect x="0.5" y="183.6" width="43.3" height="1.0" fill="url(#h3)" opacity="0.02"/>
<rect x="0.5" y="186.6" width="43.3" height="1.0" fill="url(#h3)" opacity="0.04"/>
<rect x="-0.1" y="187.6" width="43.3" height="0.9" fill="url(#h2)" opacity="0.02"/>
<rect y="90.10" width="43.3" height="1" fill="rgb(200,35,50)" opacity="0.12"/>
<rect x="10.8" y="90.10" width="22" height="1.2" fill="url(#h8)" opacity="1"/>
<rect y="69.60" width="43.30" height="118.90" fill="none" stroke="#c4c4cc" stroke-width="0.8"/>
</g>
<g transform="translate(330.20 0)">
<rect x="0.00" y="69.60" width="43.30" height="118.90" fill="rgb(248,236,237)"/>
<rect y="69.6" width="43.3" height="1.0" fill="rgb(170,100,108)" opacity="0.09"/>
<rect x="1.8" y="69.6" width="9.4" height=".8" fill="rgb(170,100,108)" opacity="0.02"/>
<rect x="23.1" y="73.3" width="10.5" height=".8" fill="rgb(170,100,108)" opacity="0.10"/>
<rect x="20.5" y="74.6" width="3.2" height=".8" fill="rgb(170,100,108)" opacity="0.08"/>
<rect x="30.0" y="75.6" width="3.6" height=".8" fill="rgb(170,100,108)" opacity="0.10"/>
<rect y="76.9" width="43.3" height="1.3" fill="rgb(170,100,108)" opacity="0.02"/>
<rect x="26.2" y="76.9" width="7.1" height=".8" fill="rgb(170,100,108)" opacity="0.11"/>
<rect y="78.2" width="43.3" height="1.0" fill="rgb(170,100,108)" opacity="0.06"/>
<rect y="79.2" width="43.3" height="1.0" fill="rgb(170,100,108)" opacity="0.04"/>
<rect y="80.2" width="43.3" height="1.0" fill="rgb(170,100,108)" opacity="0.03"/>
<rect y="81.2" width="43.3" height="1.3" fill="rgb(170,100,108)" opacity="0.07"/>
<rect x="11.1" y="81.2" width="6.5" height=".8" fill="rgb(170,100,108)" opacity="0.06"/>
<rect y="82.5" width="43.3" height="1.0" fill="rgb(170,100,108)" opacity="0.03"/>
<rect y="83.5" width="43.3" height="0.7" fill="rgb(170,100,108)" opacity="0.05"/>
<rect x="12.6" y="83.5" width="10.4" height=".8" fill="rgb(170,100,108)" opacity="0.08"/>
<rect y="85.5" width="43.3" height="1.0" fill="rgb(170,100,108)" opacity="0.03"/>
<rect x="18.3" y="85.5" width="9.2" height=".8" fill="rgb(170,100,108)" opacity="0.01"/>
<rect y="86.5" width="43.3" height="0.7" fill="rgb(170,100,108)" opacity="0.09"/>
<rect y="88.5" width="43.3" height="1.0" fill="rgb(170,100,108)" opacity="0.06"/>
<rect y="89.5" width="43.3" height="1.0" fill="rgb(170,100,108)" opacity="0.03"/>
<rect x="24.6" y="89.5" width="2.2" height=".8" fill="rgb(170,100,108)" opacity="0.08"/>
<rect y="90.5" width="43.3" height="0.7" fill="rgb(170,100,108)" opacity="0.05"/>
<rect y="91.2" width="43.3" height="0.7" fill="rgb(170,100,108)" opacity="0.07"/>
<rect x="9.1" y="91.2" width="5.5" height=".8" fill="rgb(170,100,108)" opacity="0.16"/>
<rect y="91.9" width="43.3" height="0.7" fill="rgb(170,100,108)" opacity="0.01"/>
<rect y="92.6" width="43.3" height="1.0" fill="rgb(170,100,108)" opacity="0.08"/>
<rect y="93.6" width="43.3" height="1.3" fill="rgb(170,100,108)" opacity="0.03"/>
<rect y="94.9" width="43.3" height="1.0" fill="rgb(170,100,108)" opacity="0.06"/>
<rect x="8.5" y="94.9" width="2.7" height=".8" fill="rgb(170,100,108)" opacity="0.03"/>
<rect y="95.9" width="43.3" height="1.3" fill="rgb(170,100,108)" opacity="0.02"/>
<rect y="97.2" width="43.3" height="1.3" fill="rgb(170,100,108)" opacity="0.02"/>
<rect x="5.4" y="97.2" width="6.8" height=".8" fill="rgb(170,100,108)" opacity="0.11"/>
<rect y="98.5" width="43.3" height="1.0" fill="rgb(170,100,108)" opacity="0.09"/>
<rect y="99.5" width="43.3" height="1.3" fill="rgb(170,100,108)" opacity="0.09"/>
<rect y="102.1" width="43.3" height="1.3" fill="rgb(170,100,108)" opacity="0.07"/>
<rect x="14.7" y="102.1" width="2.9" height=".8" fill="rgb(170,100,108)" opacity="0.11"/>
<rect y="103.4" width="43.3" height="0.7" fill="rgb(170,100,108)" opacity="0.02"/>
<rect y="104.1" width="43.3" height="1.0" fill="rgb(170,100,108)" opacity="0.01"/>
<rect x="1.9" y="104.1" width="2.0" height=".8" fill="rgb(170,100,108)" opacity="0.03"/>
<rect y="105.1" width="43.3" height="0.7" fill="rgb(170,100,108)" opacity="0.09"/>
<rect y="105.8" width="43.3" height="0.7" fill="rgb(170,100,108)" opacity="0.08"/>
<rect y="106.5" width="43.3" height="0.7" fill="rgb(170,100,108)" opacity="0.06"/>
<rect y="107.2" width="43.3" height="1.3" fill="rgb(170,100,108)" opacity="0.03"/>
<rect x="31.2" y="107.2" width="10.9" height=".8" fill="rgb(170,100,108)" opacity="0.08"/>
<rect y="108.5" width="43.3" height="1.0" fill="rgb(170,100,108)" opacity="0.03"/>
<rect x="27.6" y="108.5" width="8.7" height=".8" fill="rgb(170,100,108)" opacity="0.09"/>
<rect y="109.5" width="43.3" height="1.3" fill="rgb(170,100,108)" opacity="0.01"/>
<rect x="35.0" y="109.5" width="6.8" height=".8" fill="rgb(170,100,108)" opacity="0.03"/>
<rect y="110.8" width="43.3" height="1.3" fill="rgb(170,100,108)" opacity="0.08"/>
<rect y="112.1" width="43.3" height="1.0" fill="rgb(170,100,108)" opacity="0.09"/>
<rect y="113.1" width="43.3" height="1.3" fill="rgb(170,100,108)" opacity="0.08"/>
<rect y="114.4" width="43.3" height="0.7" fill="rgb(170,100,108)" opacity="0.03"/>
<rect x="19.9" y="114.4" width="6.5" height=".8" fill="rgb(170,100,108)" opacity="0.11"/>
<rect y="115.1" width="43.3" height="1.3" fill="rgb(170,100,108)" opacity="0.07"/>
<rect y="116.4" width="43.3" height="0.7" fill="rgb(170,100,108)" opacity="0.07"/>
<rect y="117.1" width="43.3" height="1.3" fill="rgb(170,100,108)" opacity="0.07"/>
<rect x="18.1" y="117.1" width="8.6" height=".8" fill="rgb(170,100,108)" opacity="0.18"/>
<rect y="118.4" width="43.3" height="1.0" fill="rgb(170,100,108)" opacity="0.04"/>
<rect x="22.3" y="118.4" width="5.1" height=".8" fill="rgb(170,100,108)" opacity="0.15"/>
<rect y="119.4" width="43.3" height="1.3" fill="rgb(170,100,108)" opacity="0.09"/>
<rect x="17.3" y="120.7" width="5.0" height=".8" fill="rgb(170,100,108)" opacity="0.09"/>
<rect y="121.7" width="43.3" height="1.3" fill="rgb(170,100,108)" opacity="0.08"/>
<rect y="123.0" width="43.3" height="1.3" fill="rgb(170,100,108)" opacity="0.03"/>
<rect x="26.2" y="124.3" width="3.8" height=".8" fill="rgb(170,100,108)" opacity="0.16"/>
<rect y="125.6" width="43.3" height="1.0" fill="rgb(170,100,108)" opacity="0.07"/>
<rect x="29.5" y="125.6" width="10.7" height=".8" fill="rgb(170,100,108)" opacity="0.07"/>
<rect y="126.6" width="43.3" height="1.0" fill="rgb(170,100,108)" opacity="0.07"/>
<rect x="5.8" y="126.6" width="10.9" height=".8" fill="rgb(170,100,108)" opacity="0.00"/>
<rect y="127.6" width="43.3" height="1.3" fill="rgb(170,100,108)" opacity="0.08"/>
<rect y="128.9" width="43.3" height="0.7" fill="rgb(170,100,108)" opacity="0.06"/>
<rect y="129.6" width="43.3" height="1.0" fill="rgb(170,100,108)" opacity="0.06"/>
<rect x="20.2" y="129.6" width="3.2" height=".8" fill="rgb(170,100,108)" opacity="0.00"/>
<rect y="130.6" width="43.3" height="1.3" fill="rgb(170,100,108)" opacity="0.06"/>
<rect y="131.9" width="43.3" height="0.7" fill="rgb(170,100,108)" opacity="0.04"/>
<rect x="18.4" y="132.6" width="8.9" height=".8" fill="rgb(170,100,108)" opacity="0.06"/>
<rect y="133.3" width="43.3" height="1.3" fill="rgb(170,100,108)" opacity="0.04"/>
<rect x="33.5" y="133.3" width="5.2" height=".8" fill="rgb(170,100,108)" opacity="0.08"/>
<rect y="134.6" width="43.3" height="1.3" fill="rgb(170,100,108)" opacity="0.07"/>
<rect x="18.8" y="135.9" width="9.9" height=".8" fill="rgb(170,100,108)" opacity="0.14"/>
<rect y="138.5" width="43.3" height="0.7" fill="rgb(170,100,108)" opacity="0.01"/>
<rect y="139.2" width="43.3" height="0.7" fill="rgb(170,100,108)" opacity="0.05"/>
<rect x="19.1" y="139.2" width="7.0" height=".8" fill="rgb(170,100,108)" opacity="0.14"/>
<rect y="139.9" width="43.3" height="0.7" fill="rgb(170,100,108)" opacity="0.08"/>
<rect x="7.0" y="139.9" width="2.4" height=".8" fill="rgb(170,100,108)" opacity="0.02"/>
<rect y="140.6" width="43.3" height="1.0" fill="rgb(170,100,108)" opacity="0.05"/>
<rect y="141.6" width="43.3" height="0.7" fill="rgb(170,100,108)" opacity="0.04"/>
<rect y="142.3" width="43.3" height="1.3" fill="rgb(170,100,108)" opacity="0.05"/>
<rect x="10.2" y="142.3" width="6.6" height=".8" fill="rgb(170,100,108)" opacity="0.15"/>
<rect y="143.6" width="43.3" height="1.3" fill="rgb(170,100,108)" opacity="0.08"/>
<rect y="144.9" width="43.3" height="1.0" fill="rgb(170,100,108)" opacity="0.08"/>
<rect y="145.9" width="43.3" height="0.7" fill="rgb(170,100,108)" opacity="0.08"/>
<rect x="4.5" y="145.9" width="6.0" height=".8" fill="rgb(170,100,108)" opacity="0.01"/>
<rect y="146.6" width="43.3" height="0.7" fill="rgb(170,100,108)" opacity="0.04"/>
<rect x="11.1" y="146.6" width="3.1" height=".8" fill="rgb(170,100,108)" opacity="0.14"/>
<rect y="147.3" width="43.3" height="1.3" fill="rgb(170,100,108)" opacity="0.06"/>
<rect x="9.3" y="147.3" width="3.2" height=".8" fill="rgb(170,100,108)" opacity="0.08"/>
<rect y="148.6" width="43.3" height="1.3" fill="rgb(170,100,108)" opacity="0.09"/>
<rect x="17.9" y="148.6" width="10.9" height=".8" fill="rgb(170,100,108)" opacity="0.15"/>
<rect y="149.9" width="43.3" height="0.7" fill="rgb(170,100,108)" opacity="0.06"/>
<rect y="150.6" width="43.3" height="1.0" fill="rgb(170,100,108)" opacity="0.03"/>
<rect x="11.7" y="150.6" width="8.5" height=".8" fill="rgb(170,100,108)" opacity="0.00"/>
<rect y="151.6" width="43.3" height="1.3" fill="rgb(170,100,108)" opacity="0.04"/>
<rect y="152.9" width="43.3" height="1.0" fill="rgb(170,100,108)" opacity="0.03"/>
<rect y="153.9" width="43.3" height="1.3" fill="rgb(170,100,108)" opacity="0.09"/>
<rect x="33.8" y="153.9" width="4.1" height=".8" fill="rgb(170,100,108)" opacity="0.16"/>
<rect y="155.2" width="43.3" height="0.7" fill="rgb(170,100,108)" opacity="0.02"/>
<rect x="28.7" y="155.2" width="4.4" height=".8" fill="rgb(170,100,108)" opacity="0.02"/>
<rect y="155.9" width="43.3" height="1.0" fill="rgb(170,100,108)" opacity="0.08"/>
<rect y="156.9" width="43.3" height="1.0" fill="rgb(170,100,108)" opacity="0.04"/>
<rect y="157.9" width="43.3" height="1.3" fill="rgb(170,100,108)" opacity="0.05"/>
<rect y="159.2" width="43.3" height="0.7" fill="rgb(170,100,108)" opacity="0.03"/>
<rect y="159.9" width="43.3" height="0.7" fill="rgb(170,100,108)" opacity="0.04"/>
<rect x="34.5" y="159.9" width="7.7" height=".8" fill="rgb(170,100,108)" opacity="0.14"/>
<rect y="160.6" width="43.3" height="0.7" fill="rgb(170,100,108)" opacity="0.05"/>
<rect x="9.7" y="160.6" width="3.1" height=".8" fill="rgb(170,100,108)" opacity="0.00"/>
<rect y="161.3" width="43.3" height="1.3" fill="rgb(170,100,108)" opacity="0.04"/>
<rect y="163.9" width="43.3" height="0.7" fill="rgb(170,100,108)" opacity="0.08"/>
<rect x="11.5" y="164.6" width="4.7" height=".8" fill="rgb(170,100,108)" opacity="0.14"/>
<rect y="165.6" width="43.3" height="1.0" fill="rgb(170,100,108)" opacity="0.04"/>
<rect y="166.6" width="43.3" height="1.0" fill="rgb(170,100,108)" opacity="0.03"/>
<rect x="9.2" y="166.6" width="2.1" height=".8" fill="rgb(170,100,108)" opacity="0.13"/>
<rect y="167.6" width="43.3" height="1.3" fill="rgb(170,100,108)" opacity="0.09"/>
<rect y="168.9" width="43.3" height="0.7" fill="rgb(170,100,108)" opacity="0.08"/>
<rect x="30.1" y="168.9" width="5.9" height=".8" fill="rgb(170,100,108)" opacity="0.09"/>
<rect y="169.6" width="43.3" height="1.0" fill="rgb(170,100,108)" opacity="0.09"/>
<rect x="7.9" y="169.6" width="4.1" height=".8" fill="rgb(170,100,108)" opacity="0.04"/>
<rect y="170.6" width="43.3" height="1.3" fill="rgb(170,100,108)" opacity="0.07"/>
<rect x="36.4" y="170.6" width="6.9" height=".8" fill="rgb(170,100,108)" opacity="0.15"/>
<rect y="172.6" width="43.3" height="1.0" fill="rgb(170,100,108)" opacity="0.04"/>
<rect x="24.5" y="172.6" width="5.4" height=".8" fill="rgb(170,100,108)" opacity="0.09"/>
<rect y="173.6" width="43.3" height="1.0" fill="rgb(170,100,108)" opacity="0.05"/>
<rect y="174.6" width="43.3" height="0.7" fill="rgb(170,100,108)" opacity="0.04"/>
<rect x="16.4" y="174.6" width="4.4" height=".8" fill="rgb(170,100,108)" opacity="0.17"/>
<rect y="175.3" width="43.3" height="1.3" fill="rgb(170,100,108)" opacity="0.03"/>
<rect x="32.5" y="175.3" width="4.0" height=".8" fill="rgb(170,100,108)" opacity="0.03"/>
<rect y="176.6" width="43.3" height="1.0" fill="rgb(170,100,108)" opacity="0.03"/>
<rect y="177.6" width="43.3" height="1.3" fill="rgb(170,100,108)" opacity="0.06"/>
<rect x="28.6" y="177.6" width="2.8" height=".8" fill="rgb(170,100,108)" opacity="0.15"/>
<rect y="178.9" width="43.3" height="0.7" fill="rgb(170,100,108)" opacity="0.04"/>
<rect x="0.8" y="178.9" width="4.7" height=".8" fill="rgb(170,100,108)" opacity="0.04"/>
<rect y="179.6" width="43.3" height="1.3" fill="rgb(170,100,108)" opacity="0.09"/>
<rect y="180.9" width="43.3" height="0.7" fill="rgb(170,100,108)" opacity="0.06"/>
<rect y="181.6" width="43.3" height="1.3" fill="rgb(170,100,108)" opacity="0.04"/>
<rect x="36.2" y="181.6" width="3.3" height=".8" fill="rgb(170,100,108)" opacity="0.13"/>
<rect y="182.9" width="43.3" height="1.3" fill="rgb(170,100,108)" opacity="0.01"/>
<rect y="184.2" width="43.3" height="1.3" fill="rgb(170,100,108)" opacity="0.08"/>
<rect y="185.5" width="43.3" height="1.3" fill="rgb(170,100,108)" opacity="0.06"/>
<rect y="186.8" width="43.3" height="1.3" fill="rgb(170,100,108)" opacity="0.07"/>
<rect y="188.1" width="43.3" height="0.7" fill="rgb(170,100,108)" opacity="0.07"/>
<rect x="0.8" y="69.6" width="43.3" height="1.0" fill="url(#n3)" opacity="0.12"/>
<rect x="0.2" y="70.6" width="43.3" height="1.0" fill="url(#n2)" opacity="0.09"/>
<rect x="0.9" y="71.6" width="43.3" height="1.0" fill="url(#n2)" opacity="0.10"/>
<rect x="0.7" y="72.6" width="43.3" height="1.0" fill="url(#n3)" opacity="0.11"/>
<rect x="0.1" y="73.6" width="43.3" height="1.0" fill="url(#n2)" opacity="0.11"/>
<rect x="0.6" y="74.6" width="43.3" height="1.0" fill="url(#n3)" opacity="0.12"/>
<rect x="0.2" y="75.6" width="43.3" height="1.0" fill="url(#n3)" opacity="0.10"/>
<rect x="0.2" y="76.6" width="43.3" height="1.0" fill="url(#n2)" opacity="0.11"/>
<rect x="0.3" y="77.6" width="43.3" height="1.0" fill="url(#n3)" opacity="0.09"/>
<rect x="0.6" y="78.6" width="43.3" height="1.0" fill="url(#n3)" opacity="0.11"/>
<rect x="0.8" y="79.6" width="43.3" height="1.0" fill="url(#n2)" opacity="0.10"/>
<rect x="0.7" y="80.6" width="43.3" height="1.0" fill="url(#n3)" opacity="0.11"/>
<rect x="0.4" y="81.6" width="43.3" height="1.0" fill="url(#n2)" opacity="0.08"/>
<rect x="0.7" y="82.6" width="43.3" height="1.0" fill="url(#n2)" opacity="0.11"/>
<rect x="0.4" y="83.6" width="43.3" height="1.0" fill="url(#n2)" opacity="0.08"/>
<rect x="0.8" y="84.6" width="43.3" height="1.0" fill="url(#n3)" opacity="0.11"/>
<rect x="0.6" y="85.6" width="43.3" height="1.0" fill="url(#n2)" opacity="0.09"/>
<rect x="1.0" y="86.6" width="43.3" height="1.0" fill="url(#n2)" opacity="0.10"/>
<rect x="1.0" y="87.6" width="43.3" height="1.0" fill="url(#n3)" opacity="0.09"/>
<rect x="0.9" y="88.6" width="43.3" height="1.0" fill="url(#n2)" opacity="0.08"/>
<rect x="0.4" y="89.6" width="43.3" height="1.0" fill="url(#n2)" opacity="0.12"/>
<rect x="0.3" y="90.6" width="43.3" height="1.0" fill="url(#n3)" opacity="0.09"/>
<rect x="0.6" y="91.6" width="43.3" height="1.0" fill="url(#n4)" opacity="1.00"/>
<rect x="0.9" y="92.6" width="43.3" height="1.0" fill="url(#n4)" opacity="1.00"/>
<rect x="0.8" y="93.6" width="43.3" height="1.0" fill="url(#n6)" opacity="0.98"/>
<rect x="0.6" y="94.6" width="43.3" height="1.0" fill="url(#n6)" opacity="0.86"/>
<rect x="0.6" y="95.6" width="43.3" height="1.0" fill="url(#n4)" opacity="0.77"/>
<rect x="0.2" y="96.6" width="43.3" height="1.0" fill="url(#n2)" opacity="0.60"/>
<rect x="0.9" y="97.6" width="43.3" height="1.0" fill="url(#n2)" opacity="0.42"/>
<rect x="0.9" y="98.6" width="43.3" height="1.0" fill="url(#n3)" opacity="0.41"/>
<rect x="0.8" y="99.6" width="43.3" height="1.0" fill="url(#n3)" opacity="0.30"/>
<rect x="0.5" y="100.6" width="43.3" height="1.0" fill="url(#n2)" opacity="0.55"/>
<rect x="0.7" y="101.6" width="43.3" height="1.0" fill="url(#n3)" opacity="0.34"/>
<rect x="0.4" y="102.6" width="43.3" height="1.0" fill="url(#n2)" opacity="0.64"/>
<rect x="0.9" y="103.6" width="43.3" height="1.0" fill="url(#n2)" opacity="0.47"/>
<rect x="0.3" y="104.6" width="43.3" height="1.0" fill="url(#n3)" opacity="0.38"/>
<rect x="0.3" y="105.6" width="43.3" height="1.0" fill="url(#n2)" opacity="0.49"/>
<rect x="1.0" y="106.6" width="43.3" height="1.0" fill="url(#n3)" opacity="0.69"/>
<rect x="1.0" y="107.6" width="43.3" height="1.0" fill="url(#n3)" opacity="0.42"/>
<rect x="0.8" y="108.6" width="43.3" height="1.0" fill="url(#n2)" opacity="0.80"/>
<rect x="0.6" y="109.6" width="43.3" height="1.0" fill="url(#n3)" opacity="0.40"/>
<rect x="0.4" y="110.6" width="43.3" height="1.0" fill="url(#n3)" opacity="0.58"/>
<rect x="0.2" y="111.6" width="43.3" height="1.0" fill="url(#n3)" opacity="0.52"/>
<rect x="0.4" y="112.6" width="43.3" height="1.0" fill="url(#n2)" opacity="0.46"/>
<rect x="0.4" y="113.6" width="43.3" height="1.0" fill="url(#n3)" opacity="0.56"/>
<rect x="0.7" y="114.6" width="43.3" height="1.0" fill="url(#n2)" opacity="0.61"/>
<rect x="0.3" y="115.6" width="43.3" height="1.0" fill="url(#n2)" opacity="0.65"/>
<rect x="0.6" y="116.6" width="43.3" height="1.0" fill="url(#n3)" opacity="0.37"/>
<rect x="1.1" y="117.6" width="43.3" height="1.0" fill="url(#n3)" opacity="0.53"/>
<rect x="0.3" y="118.6" width="43.3" height="1.0" fill="url(#n2)" opacity="0.54"/>
<rect x="0.2" y="119.6" width="43.3" height="1.0" fill="url(#n2)" opacity="0.42"/>
<rect x="0.7" y="120.6" width="43.3" height="1.0" fill="url(#n2)" opacity="0.38"/>
<rect x="0.5" y="121.6" width="43.3" height="1.0" fill="url(#n3)" opacity="0.47"/>
<rect x="0.5" y="122.6" width="43.3" height="1.0" fill="url(#n2)" opacity="0.28"/>
<rect x="0.4" y="123.6" width="43.3" height="1.0" fill="url(#n2)" opacity="0.29"/>
<rect x="0.6" y="124.6" width="43.3" height="1.0" fill="url(#n2)" opacity="0.34"/>
<rect x="0.3" y="125.6" width="43.3" height="1.0" fill="url(#n3)" opacity="0.54"/>
<rect x="0.5" y="126.6" width="43.3" height="1.0" fill="url(#n2)" opacity="0.31"/>
<rect x="0.9" y="127.6" width="43.3" height="1.0" fill="url(#n3)" opacity="0.30"/>
<rect x="0.1" y="128.6" width="43.3" height="1.0" fill="url(#n2)" opacity="0.32"/>
<rect x="0.6" y="129.6" width="43.3" height="1.0" fill="url(#n3)" opacity="0.56"/>
<rect x="0.5" y="130.6" width="43.3" height="1.0" fill="url(#n2)" opacity="0.54"/>
<rect x="1.0" y="131.6" width="43.3" height="1.0" fill="url(#n3)" opacity="0.53"/>
<rect x="0.2" y="132.6" width="43.3" height="1.0" fill="url(#n2)" opacity="0.39"/>
<rect x="0.8" y="133.6" width="43.3" height="1.0" fill="url(#n2)" opacity="0.26"/>
<rect x="0.7" y="134.6" width="43.3" height="1.0" fill="url(#n3)" opacity="0.37"/>
<rect x="0.7" y="135.6" width="43.3" height="1.0" fill="url(#n2)" opacity="0.40"/>
<rect x="0.3" y="136.6" width="43.3" height="1.0" fill="url(#n3)" opacity="0.21"/>
<rect x="0.4" y="137.6" width="43.3" height="1.0" fill="url(#n3)" opacity="0.40"/>
<rect x="0.7" y="138.6" width="43.3" height="1.0" fill="url(#n2)" opacity="0.24"/>
<rect x="0.2" y="139.6" width="43.3" height="1.0" fill="url(#n2)" opacity="0.51"/>
<rect x="0.5" y="140.6" width="43.3" height="1.0" fill="url(#n3)" opacity="0.47"/>
<rect x="0.1" y="141.6" width="43.3" height="1.0" fill="url(#n3)" opacity="0.30"/>
<rect x="1.1" y="142.6" width="43.3" height="1.0" fill="url(#n2)" opacity="0.24"/>
<rect x="0.6" y="143.6" width="43.3" height="1.0" fill="url(#n3)" opacity="0.47"/>
<rect x="1.1" y="144.6" width="43.3" height="1.0" fill="url(#n2)" opacity="0.24"/>
<rect x="0.1" y="145.6" width="43.3" height="1.0" fill="url(#n2)" opacity="0.30"/>
<rect x="0.5" y="146.6" width="43.3" height="1.0" fill="url(#n3)" opacity="0.18"/>
<rect x="1.0" y="147.6" width="43.3" height="1.0" fill="url(#n3)" opacity="0.24"/>
<rect x="0.4" y="148.6" width="43.3" height="1.0" fill="url(#n2)" opacity="0.25"/>
<rect x="0.3" y="149.6" width="43.3" height="1.0" fill="url(#n3)" opacity="0.28"/>
<rect x="0.6" y="150.6" width="43.3" height="1.0" fill="url(#n3)" opacity="0.24"/>
<rect x="0.4" y="151.6" width="43.3" height="1.0" fill="url(#n3)" opacity="0.24"/>
<rect x="0.3" y="152.6" width="43.3" height="1.0" fill="url(#n2)" opacity="0.19"/>
<rect x="1.1" y="153.6" width="43.3" height="1.0" fill="url(#n2)" opacity="0.24"/>
<rect x="0.3" y="154.6" width="43.3" height="1.0" fill="url(#n2)" opacity="0.17"/>
<rect x="1.0" y="155.6" width="43.3" height="1.0" fill="url(#n3)" opacity="0.22"/>
<rect x="0.3" y="156.6" width="43.3" height="1.0" fill="url(#n2)" opacity="0.13"/>
<rect x="0.2" y="157.6" width="43.3" height="1.0" fill="url(#n2)" opacity="0.18"/>
<rect x="1.0" y="158.6" width="43.3" height="1.0" fill="url(#n2)" opacity="0.16"/>
<rect x="1.1" y="159.6" width="43.3" height="1.0" fill="url(#n3)" opacity="0.21"/>
<rect x="0.3" y="160.6" width="43.3" height="1.0" fill="url(#n2)" opacity="0.28"/>
<rect x="0.1" y="161.6" width="43.3" height="1.0" fill="url(#n3)" opacity="0.27"/>
<rect x="0.5" y="162.6" width="43.3" height="1.0" fill="url(#n2)" opacity="0.27"/>
<rect x="0.1" y="163.6" width="43.3" height="1.0" fill="url(#n2)" opacity="0.22"/>
<rect x="1.1" y="164.6" width="43.3" height="1.0" fill="url(#n2)" opacity="0.21"/>
<rect x="0.3" y="165.6" width="43.3" height="1.0" fill="url(#n3)" opacity="0.21"/>
<rect x="0.9" y="166.6" width="43.3" height="1.0" fill="url(#n3)" opacity="0.16"/>
<rect x="0.6" y="167.6" width="43.3" height="1.0" fill="url(#n2)" opacity="0.15"/>
<rect x="0.3" y="168.6" width="43.3" height="1.0" fill="url(#n3)" opacity="0.24"/>
<rect x="0.1" y="169.6" width="43.3" height="1.0" fill="url(#n3)" opacity="0.12"/>
<rect x="0.9" y="170.6" width="43.3" height="1.0" fill="url(#n3)" opacity="0.19"/>
<rect x="0.2" y="171.6" width="43.3" height="1.0" fill="url(#n2)" opacity="0.15"/>
<rect x="0.8" y="172.6" width="43.3" height="1.0" fill="url(#n2)" opacity="0.12"/>
<rect x="0.4" y="173.6" width="43.3" height="1.0" fill="url(#n2)" opacity="0.23"/>
<rect x="0.4" y="174.6" width="43.3" height="1.0" fill="url(#n3)" opacity="0.23"/>
<rect x="0.4" y="175.6" width="43.3" height="1.0" fill="url(#n2)" opacity="0.17"/>
<rect x="1.0" y="176.6" width="43.3" height="1.0" fill="url(#n3)" opacity="0.13"/>
<rect x="0.1" y="177.6" width="43.3" height="1.0" fill="url(#n3)" opacity="0.18"/>
<rect x="1.1" y="178.6" width="43.3" height="1.0" fill="url(#n2)" opacity="0.08"/>
<rect x="0.4" y="179.6" width="43.3" height="1.0" fill="url(#n2)" opacity="0.15"/>
<rect x="1.0" y="180.6" width="43.3" height="1.0" fill="url(#n2)" opacity="0.11"/>
<rect x="0.8" y="181.6" width="43.3" height="1.0" fill="url(#n3)" opacity="0.12"/>
<rect x="0.7" y="182.6" width="43.3" height="1.0" fill="url(#n3)" opacity="0.15"/>
<rect x="0.5" y="183.6" width="43.3" height="1.0" fill="url(#n2)" opacity="0.12"/>
<rect x="0.3" y="184.6" width="43.3" height="1.0" fill="url(#n2)" opacity="0.12"/>
<rect x="0.2" y="185.6" width="43.3" height="1.0" fill="url(#n2)" opacity="0.14"/>
<rect x="0.4" y="186.6" width="43.3" height="1.0" fill="url(#n2)" opacity="0.08"/>
<rect x="1.1" y="187.6" width="43.3" height="0.9" fill="url(#n3)" opacity="0.12"/>
<rect y="90.10" width="43.3" height="1" fill="rgb(165,25,40)" opacity="0.20"/>
<rect x="11.2" y="90.10" width="22" height="1.2" fill="url(#n8)" opacity="1"/>
<rect y="69.60" width="43.30" height="118.90" fill="none" stroke="#c4c4cc" stroke-width="0.8"/>
</g>
<text x="37.50" y="199.60" font-size="7.6" text-anchor="middle">–1</text>
<text x="75.00" y="199.60" font-size="7.6" text-anchor="middle">1</text>
<text x="86.40" y="199.60" font-size="7.6" text-anchor="middle">–1</text>
<text x="122.80" y="199.60" font-size="7.6" text-anchor="middle">1</text>
<text x="138.40" y="199.60" font-size="7.6" text-anchor="middle">–1</text>
<text x="172.50" y="199.60" font-size="7.6" text-anchor="middle">1</text>
<text x="186.00" y="199.60" font-size="7.6" text-anchor="middle">–1</text>
<text x="221.00" y="199.60" font-size="7.6" text-anchor="middle">1</text>
<text x="236.00" y="199.60" font-size="7.6" text-anchor="middle">–1</text>
<text x="271.00" y="199.60" font-size="7.6" text-anchor="middle">1</text>
<text x="282.20" y="199.60" font-size="7.6" text-anchor="middle">–1</text>
<text x="318.20" y="199.60" font-size="7.6" text-anchor="middle">1</text>
<text x="333.20" y="199.60" font-size="7.6" text-anchor="middle">–1</text>
<text x="369.60" y="199.60" font-size="7.6" text-anchor="middle">1</text>
<text x="373.20" y="199.70" font-size="7.6">(kb)</text>
<text x="14.20" y="82.30" font-size="8.5" text-anchor="middle" transform="rotate(-90 14.20 82.30)" textLength="47.50" lengthAdjust="spacingAndGlyphs">Upregulated</text>
<text x="24.00" y="82.00" font-size="8.5" text-anchor="middle" transform="rotate(-90 24.00 82.00)" textLength="33.50" lengthAdjust="spacingAndGlyphs">(n = 223)</text>
<text x="14.20" y="154.60" font-size="8.5" text-anchor="middle" transform="rotate(-90 14.20 154.60)" textLength="59.50" lengthAdjust="spacingAndGlyphs">Downregulated</text>
<text x="24.00" y="155.30" font-size="8.5" text-anchor="middle" transform="rotate(-90 24.00 155.30)" textLength="40.50" lengthAdjust="spacingAndGlyphs">(n = 1035)</text>
<text x="413.70" y="41.90" font-size="8.5" textLength="59.40" lengthAdjust="spacingAndGlyphs">Enriched motifs</text>
<text x="405.90" y="57.20" font-size="8.5" textLength="49.20" lengthAdjust="spacingAndGlyphs">Upregulated:</text>
<text x="415.00" y="68.80" font-size="8.5" textLength="30.20" lengthAdjust="spacingAndGlyphs">NFE2L2</text>
<text x="400.60" y="117.30" font-size="8.5" textLength="60.90" lengthAdjust="spacingAndGlyphs">Downregulated:</text>
<text x="415.00" y="129.60" font-size="8.5" textLength="21.10" lengthAdjust="spacingAndGlyphs">GATA</text>
<text x="417.00" y="165.60" font-size="8.5" textLength="19.10" lengthAdjust="spacingAndGlyphs">HIC2</text>
<text x="400.30" y="84.90" font-size="8.5" text-anchor="middle" transform="rotate(-90 400.30 84.90)" textLength="11.00" lengthAdjust="spacingAndGlyphs">Bits</text>
<text x="406.70" y="82.20" font-size="8.5">2</text>
<text x="406.70" y="92.60" font-size="8.5">0</text>
<path d="M413.0 76.4 H415.4 V93.8 H413.0 M413.4 85.1 H415.4" fill="none" stroke="#231f20" stroke-width="0.9"/>
<text x="459.80" y="83.20" font-size="8.5" textLength="29.20" lengthAdjust="spacingAndGlyphs">E-value:</text>
<text x="459.80" y="92.30" font-size="8.5" textLength="33.80" lengthAdjust="spacingAndGlyphs">9.5e-033</text>
<text x="402.30" y="144.40" font-size="8.5" text-anchor="middle" transform="rotate(-90 402.30 144.40)" textLength="11.00" lengthAdjust="spacingAndGlyphs">Bits</text>
<text x="407.50" y="140.90" font-size="8.5">2</text>
<text x="407.50" y="152.40" font-size="8.5">0</text>
<path d="M415.0 135.4 H417.4 V151.4 H415.0 M415.4 143.4 H417.4" fill="none" stroke="#231f20" stroke-width="0.9"/>
<text x="459.80" y="140.60" font-size="8.5" textLength="29.20" lengthAdjust="spacingAndGlyphs">E-value:</text>
<text x="459.80" y="150.10" font-size="8.5" textLength="33.80" lengthAdjust="spacingAndGlyphs">2.7e-136</text>
<text x="403.10" y="179.00" font-size="8.5" text-anchor="middle" transform="rotate(-90 403.10 179.00)" textLength="11.00" lengthAdjust="spacingAndGlyphs">Bits</text>
<text x="409.10" y="176.10" font-size="8.5">2</text>
<text x="409.10" y="187.60" font-size="8.5">0</text>
<path d="M415.9 171.5 H418.3 V187.8 H415.9 M416.3 179.7 H418.3" fill="none" stroke="#231f20" stroke-width="0.9"/>
<text x="459.80" y="175.50" font-size="8.5" textLength="29.20" lengthAdjust="spacingAndGlyphs">E-value:</text>
<text x="459.80" y="184.60" font-size="8.5" textLength="33.80" lengthAdjust="spacingAndGlyphs">4.9e-064</text>
<text x="0" y="0" font-size="10" font-weight="bold" fill="#d83a3f" stroke="none" transform="translate(417.20 93.00) scale(0.466 0.814)">A</text>
<text x="0" y="0" font-size="10" font-weight="bold" fill="#2f8f42" stroke="none" transform="translate(420.30 93.00) scale(0.508 2.326)">T</text>
<text x="0" y="0" font-size="10" font-weight="bold" fill="#f3a62a" stroke="none" transform="translate(423.40 93.00) scale(0.399 1.279)">G</text>
<text x="0" y="0" font-size="10" font-weight="bold" fill="#d83a3f" stroke="none" transform="translate(423.40 84.20) scale(0.466 0.349)">A</text>
<text x="0" y="0" font-size="10" font-weight="bold" fill="#d83a3f" stroke="none" transform="translate(426.50 93.00) scale(0.466 1.395)">A</text>
<text x="0" y="0" font-size="10" font-weight="bold" fill="#1f3e9a" stroke="none" transform="translate(429.60 93.00) scale(0.430 0.698)">C</text>
<text x="0" y="0" font-size="10" font-weight="bold" fill="#f3a62a" stroke="none" transform="translate(429.60 88.20) scale(0.399 0.465)">G</text>
<text x="0" y="0" font-size="10" font-weight="bold" fill="#2f8f42" stroke="none" transform="translate(432.70 93.00) scale(0.508 0.698)">T</text>
<text x="0" y="0" font-size="10" font-weight="bold" fill="#1f3e9a" stroke="none" transform="translate(432.70 88.20) scale(0.430 0.349)">C</text>
<text x="0" y="0" font-size="10" font-weight="bold" fill="#1f3e9a" stroke="none" transform="translate(435.80 93.00) scale(0.430 1.628)">C</text>
<text x="0" y="0" font-size="10" font-weight="bold" fill="#d83a3f" stroke="none" transform="translate(438.90 93.00) scale(0.466 1.977)">A</text>
<text x="0" y="0" font-size="10" font-weight="bold" fill="#f3a62a" stroke="none" transform="translate(442.00 93.00) scale(0.399 1.163)">G</text>
<text x="0" y="0" font-size="10" font-weight="bold" fill="#1f3e9a" stroke="none" transform="translate(442.00 85.00) scale(0.430 0.465)">C</text>
<text x="0" y="0" font-size="10" font-weight="bold" fill="#1f3e9a" stroke="none" transform="translate(445.10 93.00) scale(0.430 1.744)">C</text>
<text x="0" y="0" font-size="10" font-weight="bold" fill="#d83a3f" stroke="none" transform="translate(448.20 93.00) scale(0.466 0.814)">A</text>
<text x="0" y="0" font-size="10" font-weight="bold" fill="#d83a3f" stroke="none" transform="translate(419.60 151.20) scale(0.505 0.698)">A</text>
<text x="0" y="0" font-size="10" font-weight="bold" fill="#f3a62a" stroke="none" transform="translate(419.60 146.40) scale(0.433 0.279)">G</text>
<text x="0" y="0" font-size="10" font-weight="bold" fill="#f3a62a" stroke="none" transform="translate(422.95 151.20) scale(0.433 2.256)">G</text>
<text x="0" y="0" font-size="10" font-weight="bold" fill="#d83a3f" stroke="none" transform="translate(426.30 151.20) scale(0.505 2.256)">A</text>
<text x="0" y="0" font-size="10" font-weight="bold" fill="#2f8f42" stroke="none" transform="translate(429.65 151.20) scale(0.551 2.256)">T</text>
<text x="0" y="0" font-size="10" font-weight="bold" fill="#d83a3f" stroke="none" transform="translate(433.00 151.20) scale(0.505 2.256)">A</text>
<text x="0" y="0" font-size="10" font-weight="bold" fill="#2f8f42" stroke="none" transform="translate(420.80 187.20) scale(0.526 2.256)">T</text>
<text x="0" y="0" font-size="10" font-weight="bold" fill="#f3a62a" stroke="none" transform="translate(424.00 187.20) scale(0.413 2.093)">G</text>
<text x="0" y="0" font-size="10" font-weight="bold" fill="#1f3e9a" stroke="none" transform="translate(427.20 187.20) scale(0.445 2.256)">C</text>
<text x="0" y="0" font-size="10" font-weight="bold" fill="#1f3e9a" stroke="none" transform="translate(430.40 187.20) scale(0.445 2.256)">C</text>
<text x="0" y="0" font-size="10" font-weight="bold" fill="#d83a3f" stroke="none" transform="translate(433.60 187.20) scale(0.481 1.442)">A</text>
<text x="0" y="0" font-size="10" font-weight="bold" fill="#1f3e9a" stroke="none" transform="translate(436.80 187.20) scale(0.445 0.581)">C</text>
<text x="0" y="0" font-size="10" font-weight="bold" fill="#d83a3f" stroke="none" transform="translate(436.80 183.20) scale(0.481 0.186)">A</text>
<text x="0" y="0" font-size="10" font-weight="bold" fill="#f3a62a" stroke="none" transform="translate(440.00 187.20) scale(0.413 0.279)">G</text>
<text x="0" y="0" font-size="10" font-weight="bold" fill="#1f3e9a" stroke="none" transform="translate(440.00 185.28) scale(0.445 0.233)">C</text>
<text x="68.40" y="257.30" font-size="8.5" textLength="62.60" lengthAdjust="spacingAndGlyphs">ATAC-seq peaks</text>
<text x="45.00" y="267.40" font-size="8.5" textLength="109.60" lengthAdjust="spacingAndGlyphs">1° human adult erythroblasts</text>
<clipPath id="bclip"><rect x="39.4" y="272.6" width="120.1" height="118.09999999999997"/></clipPath>
<g clip-path="url(#bclip)">
<path d="M74.0 318.5 L76.0 313.0 L81.0 310.0 L88.0 309.5 L96.0 310.5 L103.0 313.5 L109.0 317.5 L111.0 320.0Z" fill="#8e2696" opacity="0.9"/>
<path d="M97.4 309.6h1.1v1.1h-1.1zM78.9 313.1h1.1v1.1h-1.1zM92.5 306.5h1.1v1.1h-1.1zM93.1 311.1h1.1v1.1h-1.1zM90.4 314.3h1.1v1.1h-1.1zM88.4 317.3h1.1v1.1h-1.1zM99.7 312.2h1.1v1.1h-1.1zM98.5 318.1h1.1v1.1h-1.1zM99.0 317.4h1.1v1.1h-1.1zM100.5 308.1h1.1v1.1h-1.1zM107.5 307.3h1.1v1.1h-1.1zM80.4 312.3h1.1v1.1h-1.1zM89.3 317.6h1.1v1.1h-1.1zM93.8 315.4h1.1v1.1h-1.1zM89.6 314.5h1.1v1.1h-1.1zM112.9 316.4h1.1v1.1h-1.1zM88.6 306.8h1.1v1.1h-1.1zM71.0 313.6h1.1v1.1h-1.1zM97.8 313.6h1.1v1.1h-1.1zM91.7 315.1h1.1v1.1h-1.1zM110.2 312.2h1.1v1.1h-1.1zM78.4 315.7h1.1v1.1h-1.1zM80.5 296.4h1.1v1.1h-1.1zM69.1 315.6h1.1v1.1h-1.1zM90.9 309.4h1.1v1.1h-1.1zM72.3 315.9h1.1v1.1h-1.1zM91.1 315.3h1.1v1.1h-1.1zM72.1 305.5h1.1v1.1h-1.1zM78.8 311.2h1.1v1.1h-1.1zM86.0 316.2h1.1v1.1h-1.1zM108.2 314.0h1.1v1.1h-1.1zM90.0 312.3h1.1v1.1h-1.1zM80.7 309.2h1.1v1.1h-1.1zM112.3 308.3h1.1v1.1h-1.1zM103.6 317.1h1.1v1.1h-1.1zM98.4 313.7h1.1v1.1h-1.1zM81.6 315.5h1.1v1.1h-1.1zM93.1 316.4h1.1v1.1h-1.1zM107.7 313.8h1.1v1.1h-1.1zM90.1 311.0h1.1v1.1h-1.1zM90.0 317.4h1.1v1.1h-1.1zM87.5 313.3h1.1v1.1h-1.1zM81.6 317.3h1.1v1.1h-1.1zM97.9 316.6h1.1v1.1h-1.1zM87.6 310.9h1.1v1.1h-1.1zM87.6 300.6h1.1v1.1h-1.1zM96.2 318.6h1.1v1.1h-1.1zM99.3 308.1h1.1v1.1h-1.1zM100.0 312.6h1.1v1.1h-1.1zM73.8 315.1h1.1v1.1h-1.1zM94.0 314.3h1.1v1.1h-1.1zM76.2 302.4h1.1v1.1h-1.1zM103.9 318.0h1.1v1.1h-1.1zM73.5 308.0h1.1v1.1h-1.1zM80.0 316.6h1.1v1.1h-1.1zM62.9 308.9h1.1v1.1h-1.1zM93.3 317.3h1.1v1.1h-1.1zM92.4 317.6h1.1v1.1h-1.1zM100.9 318.2h1.1v1.1h-1.1zM103.3 307.8h1.1v1.1h-1.1zM84.5 316.3h1.1v1.1h-1.1zM91.9 315.4h1.1v1.1h-1.1zM74.4 311.3h1.1v1.1h-1.1zM82.1 304.7h1.1v1.1h-1.1zM91.2 306.4h1.1v1.1h-1.1zM106.8 314.5h1.1v1.1h-1.1zM96.6 309.0h1.1v1.1h-1.1zM87.7 307.9h1.1v1.1h-1.1zM86.6 317.5h1.1v1.1h-1.1zM80.1 315.4h1.1v1.1h-1.1zM96.1 315.8h1.1v1.1h-1.1zM93.2 318.4h1.1v1.1h-1.1zM76.5 314.2h1.1v1.1h-1.1zM85.0 300.0h1.1v1.1h-1.1zM81.1 308.7h1.1v1.1h-1.1zM108.3 314.1h1.1v1.1h-1.1zM99.1 318.5h1.1v1.1h-1.1zM72.3 297.9h1.1v1.1h-1.1zM91.7 317.6h1.1v1.1h-1.1zM107.7 313.4h1.1v1.1h-1.1zM88.8 311.3h1.1v1.1h-1.1zM80.0 313.1h1.1v1.1h-1.1zM81.0 316.4h1.1v1.1h-1.1zM100.2 317.1h1.1v1.1h-1.1zM88.3 307.8h1.1v1.1h-1.1zM95.9 308.5h1.1v1.1h-1.1zM77.6 313.8h1.1v1.1h-1.1zM67.2 305.3h1.1v1.1h-1.1zM99.8 315.1h1.1v1.1h-1.1zM104.1 311.2h1.1v1.1h-1.1zM73.9 310.5h1.1v1.1h-1.1zM76.3 306.6h1.1v1.1h-1.1zM82.3 308.7h1.1v1.1h-1.1zM88.8 302.8h1.1v1.1h-1.1zM75.5 312.7h1.1v1.1h-1.1zM102.0 302.3h1.1v1.1h-1.1zM84.0 313.5h1.1v1.1h-1.1zM82.8 316.8h1.1v1.1h-1.1zM78.7 302.5h1.1v1.1h-1.1zM87.4 311.2h1.1v1.1h-1.1zM111.3 307.7h1.1v1.1h-1.1zM85.7 314.6h1.1v1.1h-1.1zM79.2 310.3h1.1v1.1h-1.1zM84.1 314.2h1.1v1.1h-1.1zM98.1 317.5h1.1v1.1h-1.1zM87.4 305.0h1.1v1.1h-1.1zM98.3 310.2h1.1v1.1h-1.1zM93.0 309.9h1.1v1.1h-1.1zM86.0 312.3h1.1v1.1h-1.1zM100.5 316.4h1.1v1.1h-1.1zM72.7 315.5h1.1v1.1h-1.1zM86.6 314.9h1.1v1.1h-1.1zM80.8 315.5h1.1v1.1h-1.1zM99.5 301.8h1.1v1.1h-1.1zM109.4 316.6h1.1v1.1h-1.1zM105.2 314.8h1.1v1.1h-1.1zM102.1 318.4h1.1v1.1h-1.1zM103.9 317.0h1.1v1.1h-1.1zM85.3 314.2h1.1v1.1h-1.1zM103.0 319.1h1.1v1.1h-1.1zM96.6 315.9h1.1v1.1h-1.1zM63.6 315.0h1.1v1.1h-1.1zM83.6 316.6h1.1v1.1h-1.1zM93.8 306.0h1.1v1.1h-1.1zM92.7 312.5h1.1v1.1h-1.1zM95.5 305.8h1.1v1.1h-1.1zM110.2 312.5h1.1v1.1h-1.1zM103.8 318.4h1.1v1.1h-1.1zM110.5 311.7h1.1v1.1h-1.1zM87.6 306.8h1.1v1.1h-1.1zM89.6 317.1h1.1v1.1h-1.1zM94.5 310.1h1.1v1.1h-1.1zM78.1 313.7h1.1v1.1h-1.1zM91.4 313.0h1.1v1.1h-1.1zM86.6 312.6h1.1v1.1h-1.1zM83.0 309.4h1.1v1.1h-1.1zM91.6 317.7h1.1v1.1h-1.1zM101.1 315.8h1.1v1.1h-1.1zM84.6 315.1h1.1v1.1h-1.1zM87.5 316.9h1.1v1.1h-1.1zM101.6 317.5h1.1v1.1h-1.1zM80.6 309.6h1.1v1.1h-1.1zM91.1 316.6h1.1v1.1h-1.1zM101.5 315.6h1.1v1.1h-1.1zM72.6 313.2h1.1v1.1h-1.1zM86.0 310.4h1.1v1.1h-1.1zM107.8 312.9h1.1v1.1h-1.1zM88.8 317.4h1.1v1.1h-1.1zM79.1 312.1h1.1v1.1h-1.1zM82.9 316.2h1.1v1.1h-1.1zM84.5 311.0h1.1v1.1h-1.1zM100.3 307.0h1.1v1.1h-1.1zM97.1 304.2h1.1v1.1h-1.1zM84.4 314.8h1.1v1.1h-1.1zM92.5 303.6h1.1v1.1h-1.1zM62.3 316.1h1.1v1.1h-1.1zM99.7 318.1h1.1v1.1h-1.1zM114.3 313.2h1.1v1.1h-1.1zM78.1 311.2h1.1v1.1h-1.1zM72.3 311.6h1.1v1.1h-1.1zM83.7 316.0h1.1v1.1h-1.1zM101.5 315.6h1.1v1.1h-1.1zM94.0 316.0h1.1v1.1h-1.1zM91.2 307.3h1.1v1.1h-1.1zM96.4 314.7h1.1v1.1h-1.1zM98.6 315.7h1.1v1.1h-1.1zM94.5 311.1h1.1v1.1h-1.1zM92.5 313.0h1.1v1.1h-1.1zM89.9 318.2h1.1v1.1h-1.1zM74.0 314.9h1.1v1.1h-1.1zM105.5 317.7h1.1v1.1h-1.1zM89.4 316.0h1.1v1.1h-1.1zM101.1 315.5h1.1v1.1h-1.1zM99.4 314.0h1.1v1.1h-1.1zM94.4 315.6h1.1v1.1h-1.1zM72.7 314.6h1.1v1.1h-1.1zM90.6 307.1h1.1v1.1h-1.1zM82.6 314.8h1.1v1.1h-1.1zM77.4 316.4h1.1v1.1h-1.1zM109.8 316.4h1.1v1.1h-1.1zM69.5 312.5h1.1v1.1h-1.1zM86.4 307.4h1.1v1.1h-1.1zM79.9 311.0h1.1v1.1h-1.1zM90.8 314.4h1.1v1.1h-1.1zM85.8 305.8h1.1v1.1h-1.1zM72.6 309.3h1.1v1.1h-1.1zM75.0 312.7h1.1v1.1h-1.1zM73.0 312.8h1.1v1.1h-1.1zM101.3 310.1h1.1v1.1h-1.1zM81.6 315.5h1.1v1.1h-1.1zM92.2 306.5h1.1v1.1h-1.1zM95.2 317.3h1.1v1.1h-1.1zM102.5 306.6h1.1v1.1h-1.1zM97.1 316.5h1.1v1.1h-1.1zM83.5 316.4h1.1v1.1h-1.1zM92.6 314.4h1.1v1.1h-1.1zM83.9 313.8h1.1v1.1h-1.1zM89.6 314.5h1.1v1.1h-1.1zM91.7 308.3h1.1v1.1h-1.1zM79.1 310.2h1.1v1.1h-1.1zM82.7 315.9h1.1v1.1h-1.1zM90.6 317.5h1.1v1.1h-1.1zM83.9 312.2h1.1v1.1h-1.1zM105.7 308.7h1.1v1.1h-1.1zM85.5 309.5h1.1v1.1h-1.1zM74.7 316.4h1.1v1.1h-1.1zM99.3 317.8h1.1v1.1h-1.1zM76.8 311.5h1.1v1.1h-1.1zM80.6 314.3h1.1v1.1h-1.1zM88.5 308.8h1.1v1.1h-1.1zM91.5 306.4h1.1v1.1h-1.1zM105.1 318.2h1.1v1.1h-1.1zM74.4 314.4h1.1v1.1h-1.1zM99.9 315.0h1.1v1.1h-1.1zM98.9 307.9h1.1v1.1h-1.1zM83.0 313.6h1.1v1.1h-1.1zM88.8 317.2h1.1v1.1h-1.1zM90.7 315.5h1.1v1.1h-1.1zM71.5 309.3h1.1v1.1h-1.1zM89.1 315.9h1.1v1.1h-1.1zM71.2 312.4h1.1v1.1h-1.1zM93.4 308.4h1.1v1.1h-1.1zM88.8 309.4h1.1v1.1h-1.1zM94.7 316.6h1.1v1.1h-1.1zM68.4 313.1h1.1v1.1h-1.1zM77.0 304.4h1.1v1.1h-1.1zM74.8 309.2h1.1v1.1h-1.1zM101.8 317.6h1.1v1.1h-1.1zM104.0 311.4h1.1v1.1h-1.1zM81.3 317.2h1.1v1.1h-1.1zM92.4 318.1h1.1v1.1h-1.1zM108.3 316.6h1.1v1.1h-1.1zM85.2 310.4h1.1v1.1h-1.1zM93.6 313.6h1.1v1.1h-1.1zM79.0 310.1h1.1v1.1h-1.1zM71.4 310.9h1.1v1.1h-1.1zM97.3 317.5h1.1v1.1h-1.1zM97.0 315.9h1.1v1.1h-1.1zM93.4 307.4h1.1v1.1h-1.1zM94.1 314.3h1.1v1.1h-1.1zM101.5 312.3h1.1v1.1h-1.1zM79.9 317.6h1.1v1.1h-1.1zM71.1 308.8h1.1v1.1h-1.1zM71.6 314.3h1.1v1.1h-1.1zM78.6 313.4h1.1v1.1h-1.1zM77.3 317.0h1.1v1.1h-1.1zM92.5 311.2h1.1v1.1h-1.1zM84.4 313.2h1.1v1.1h-1.1zM98.3 304.2h1.1v1.1h-1.1zM80.8 317.2h1.1v1.1h-1.1zM96.2 318.5h1.1v1.1h-1.1zM95.4 314.5h1.1v1.1h-1.1zM83.7 314.8h1.1v1.1h-1.1zM80.3 312.8h1.1v1.1h-1.1zM86.7 310.3h1.1v1.1h-1.1zM81.1 315.2h1.1v1.1h-1.1zM69.2 311.6h1.1v1.1h-1.1zM83.1 311.5h1.1v1.1h-1.1zM76.0 305.6h1.1v1.1h-1.1zM91.8 316.0h1.1v1.1h-1.1zM79.1 307.9h1.1v1.1h-1.1zM74.1 302.2h1.1v1.1h-1.1zM94.5 315.6h1.1v1.1h-1.1zM64.1 305.4h1.1v1.1h-1.1zM94.0 313.0h1.1v1.1h-1.1zM81.3 315.2h1.1v1.1h-1.1zM85.7 306.2h1.1v1.1h-1.1zM72.9 311.5h1.1v1.1h-1.1zM94.0 304.8h1.1v1.1h-1.1zM105.5 310.8h1.1v1.1h-1.1zM102.0 318.3h1.1v1.1h-1.1zM83.7 310.9h1.1v1.1h-1.1zM105.2 317.4h1.1v1.1h-1.1zM71.9 314.8h1.1v1.1h-1.1zM86.2 315.7h1.1v1.1h-1.1zM83.1 316.8h1.1v1.1h-1.1zM68.5 315.9h1.1v1.1h-1.1zM104.3 316.3h1.1v1.1h-1.1zM99.0 313.7h1.1v1.1h-1.1zM84.3 311.7h1.1v1.1h-1.1zM85.1 312.0h1.1v1.1h-1.1zM72.9 311.9h1.1v1.1h-1.1zM96.3 314.9h1.1v1.1h-1.1zM81.2 305.9h1.1v1.1h-1.1zM97.2 318.8h1.1v1.1h-1.1zM80.7 314.9h1.1v1.1h-1.1zM81.1 305.6h1.1v1.1h-1.1zM95.3 314.3h1.1v1.1h-1.1zM98.3 316.8h1.1v1.1h-1.1zM73.0 309.3h1.1v1.1h-1.1zM84.2 306.6h1.1v1.1h-1.1zM93.5 313.5h1.1v1.1h-1.1zM88.6 317.8h1.1v1.1h-1.1zM90.4 315.1h1.1v1.1h-1.1zM74.3 315.3h1.1v1.1h-1.1zM101.6 307.7h1.1v1.1h-1.1zM82.7 316.3h1.1v1.1h-1.1zM88.4 316.1h1.1v1.1h-1.1zM97.3 316.7h1.1v1.1h-1.1zM87.9 314.3h1.1v1.1h-1.1zM71.1 311.4h1.1v1.1h-1.1zM100.2 309.7h1.1v1.1h-1.1zM86.8 313.9h1.1v1.1h-1.1zM83.6 313.7h1.1v1.1h-1.1zM65.7 313.3h1.1v1.1h-1.1zM114.2 315.8h1.1v1.1h-1.1zM89.7 314.8h1.1v1.1h-1.1zM62.7 305.4h1.1v1.1h-1.1zM107.3 308.2h1.1v1.1h-1.1zM104.4 313.5h1.1v1.1h-1.1zM61.8 318.1h1.1v1.1h-1.1zM95.6 311.3h1.1v1.1h-1.1zM103.7 310.2h1.1v1.1h-1.1zM87.5 317.6h1.1v1.1h-1.1zM85.6 315.6h1.1v1.1h-1.1zM76.8 311.5h1.1v1.1h-1.1zM115.2 312.4h1.1v1.1h-1.1zM100.6 317.7h1.1v1.1h-1.1zM77.8 316.3h1.1v1.1h-1.1zM78.5 314.8h1.1v1.1h-1.1zM69.4 315.0h1.1v1.1h-1.1zM91.9 313.7h1.1v1.1h-1.1zM88.7 314.2h1.1v1.1h-1.1zM112.0 312.6h1.1v1.1h-1.1zM94.6 313.0h1.1v1.1h-1.1zM84.4 314.1h1.1v1.1h-1.1zM79.1 312.1h1.1v1.1h-1.1zM99.0 313.3h1.1v1.1h-1.1zM90.6 314.2h1.1v1.1h-1.1zM82.6 314.3h1.1v1.1h-1.1zM97.1 310.1h1.1v1.1h-1.1zM83.9 313.5h1.1v1.1h-1.1zM73.2 311.2h1.1v1.1h-1.1zM69.5 306.8h1.1v1.1h-1.1zM86.4 308.4h1.1v1.1h-1.1zM102.6 318.2h1.1v1.1h-1.1zM92.4 317.6h1.1v1.1h-1.1zM86.4 313.7h1.1v1.1h-1.1zM88.0 311.6h1.1v1.1h-1.1zM86.9 304.5h1.1v1.1h-1.1zM77.5 311.2h1.1v1.1h-1.1zM95.5 315.3h1.1v1.1h-1.1zM95.9 318.5h1.1v1.1h-1.1zM108.6 317.1h1.1v1.1h-1.1zM89.0 311.6h1.1v1.1h-1.1zM72.1 314.0h1.1v1.1h-1.1zM83.8 314.3h1.1v1.1h-1.1zM83.5 312.0h1.1v1.1h-1.1zM82.3 316.0h1.1v1.1h-1.1zM70.1 298.9h1.1v1.1h-1.1zM103.4 315.1h1.1v1.1h-1.1zM96.7 312.7h1.1v1.1h-1.1zM66.3 311.3h1.1v1.1h-1.1zM98.6 316.9h1.1v1.1h-1.1zM80.3 314.6h1.1v1.1h-1.1zM75.0 302.5h1.1v1.1h-1.1zM88.8 314.7h1.1v1.1h-1.1zM77.1 308.0h1.1v1.1h-1.1zM91.0 306.8h1.1v1.1h-1.1zM95.5 310.6h1.1v1.1h-1.1zM84.8 308.5h1.1v1.1h-1.1zM113.9 310.0h1.1v1.1h-1.1zM95.9 312.5h1.1v1.1h-1.1zM98.3 311.6h1.1v1.1h-1.1zM93.9 312.9h1.1v1.1h-1.1zM93.8 311.9h1.1v1.1h-1.1zM95.0 318.3h1.1v1.1h-1.1zM94.2 310.3h1.1v1.1h-1.1zM79.9 313.1h1.1v1.1h-1.1zM62.7 308.6h1.1v1.1h-1.1zM78.1 310.2h1.1v1.1h-1.1zM92.1 310.9h1.1v1.1h-1.1zM90.5 316.2h1.1v1.1h-1.1zM84.9 316.3h1.1v1.1h-1.1zM75.2 312.1h1.1v1.1h-1.1zM67.6 315.4h1.1v1.1h-1.1zM86.3 312.0h1.1v1.1h-1.1zM88.3 299.1h1.1v1.1h-1.1zM79.2 312.6h1.1v1.1h-1.1zM85.7 316.4h1.1v1.1h-1.1zM73.9 313.0h1.1v1.1h-1.1zM96.2 307.9h1.1v1.1h-1.1zM104.1 310.5h1.1v1.1h-1.1zM73.4 313.8h1.1v1.1h-1.1zM108.1 315.1h1.1v1.1h-1.1zM85.5 313.8h1.1v1.1h-1.1zM91.5 311.9h1.1v1.1h-1.1zM93.3 302.8h1.1v1.1h-1.1zM90.0 312.3h1.1v1.1h-1.1zM72.1 304.4h1.1v1.1h-1.1zM94.4 316.8h1.1v1.1h-1.1zM74.3 309.4h1.1v1.1h-1.1zM88.4 313.4h1.1v1.1h-1.1zM96.1 316.3h1.1v1.1h-1.1zM74.6 305.5h1.1v1.1h-1.1zM100.8 316.7h1.1v1.1h-1.1zM96.0 300.1h1.1v1.1h-1.1zM83.9 314.8h1.1v1.1h-1.1zM86.7 306.4h1.1v1.1h-1.1zM97.7 312.2h1.1v1.1h-1.1zM95.3 317.4h1.1v1.1h-1.1zM77.8 312.8h1.1v1.1h-1.1zM102.1 317.6h1.1v1.1h-1.1zM88.1 315.3h1.1v1.1h-1.1zM92.0 312.4h1.1v1.1h-1.1zM89.4 313.5h1.1v1.1h-1.1zM90.0 315.1h1.1v1.1h-1.1zM87.5 317.1h1.1v1.1h-1.1zM74.8 313.6h1.1v1.1h-1.1zM86.6 309.8h1.1v1.1h-1.1zM96.8 316.8h1.1v1.1h-1.1zM101.2 314.0h1.1v1.1h-1.1zM83.7 297.3h1.1v1.1h-1.1zM104.1 314.1h1.1v1.1h-1.1zM92.5 314.6h1.1v1.1h-1.1zM81.5 313.5h1.1v1.1h-1.1zM102.8 318.0h1.1v1.1h-1.1zM109.9 305.3h1.1v1.1h-1.1zM72.8 316.3h1.1v1.1h-1.1zM80.5 308.7h1.1v1.1h-1.1zM81.5 303.6h1.1v1.1h-1.1zM79.7 316.6h1.1v1.1h-1.1zM85.3 317.8h1.1v1.1h-1.1zM87.6 313.1h1.1v1.1h-1.1zM86.8 315.6h1.1v1.1h-1.1zM82.0 316.9h1.1v1.1h-1.1zM97.1 318.2h1.1v1.1h-1.1zM94.9 313.4h1.1v1.1h-1.1zM97.2 318.7h1.1v1.1h-1.1zM80.8 307.2h1.1v1.1h-1.1zM91.0 312.8h1.1v1.1h-1.1zM87.9 310.9h1.1v1.1h-1.1zM72.3 308.6h1.1v1.1h-1.1zM88.7 308.4h1.1v1.1h-1.1zM89.4 315.2h1.1v1.1h-1.1zM69.4 305.4h1.1v1.1h-1.1zM95.6 311.6h1.1v1.1h-1.1zM93.8 317.4h1.1v1.1h-1.1zM87.8 317.4h1.1v1.1h-1.1zM77.1 310.9h1.1v1.1h-1.1zM92.5 302.8h1.1v1.1h-1.1zM82.7 315.7h1.1v1.1h-1.1zM110.0 314.2h1.1v1.1h-1.1zM78.6 305.7h1.1v1.1h-1.1zM95.6 314.4h1.1v1.1h-1.1zM61.9 310.4h1.1v1.1h-1.1zM84.4 312.4h1.1v1.1h-1.1zM93.9 306.1h1.1v1.1h-1.1zM97.4 306.2h1.1v1.1h-1.1zM79.8 311.5h1.1v1.1h-1.1zM94.7 315.4h1.1v1.1h-1.1zM77.2 315.9h1.1v1.1h-1.1zM81.7 314.3h1.1v1.1h-1.1zM75.7 313.5h1.1v1.1h-1.1zM90.1 315.3h1.1v1.1h-1.1zM81.9 312.2h1.1v1.1h-1.1zM83.9 316.1h1.1v1.1h-1.1zM98.1 313.0h1.1v1.1h-1.1zM101.3 317.2h1.1v1.1h-1.1zM79.6 316.9h1.1v1.1h-1.1zM97.0 317.1h1.1v1.1h-1.1zM97.9 316.7h1.1v1.1h-1.1zM86.5 312.7h1.1v1.1h-1.1zM96.5 308.9h1.1v1.1h-1.1zM71.0 315.0h1.1v1.1h-1.1zM95.4 308.4h1.1v1.1h-1.1zM84.6 317.4h1.1v1.1h-1.1zM104.3 310.5h1.1v1.1h-1.1zM90.5 304.7h1.1v1.1h-1.1zM98.2 315.9h1.1v1.1h-1.1zM68.0 313.5h1.1v1.1h-1.1zM75.3 311.5h1.1v1.1h-1.1zM92.7 309.8h1.1v1.1h-1.1zM105.4 318.1h1.1v1.1h-1.1zM103.3 311.1h1.1v1.1h-1.1zM97.4 309.1h1.1v1.1h-1.1zM95.3 317.3h1.1v1.1h-1.1zM78.8 303.5h1.1v1.1h-1.1zM102.9 315.0h1.1v1.1h-1.1zM74.6 313.2h1.1v1.1h-1.1zM110.2 312.0h1.1v1.1h-1.1zM100.2 311.0h1.1v1.1h-1.1zM94.5 316.6h1.1v1.1h-1.1zM92.5 305.2h1.1v1.1h-1.1zM103.5 319.0h1.1v1.1h-1.1zM81.2 314.0h1.1v1.1h-1.1zM90.0 313.2h1.1v1.1h-1.1zM76.0 312.1h1.1v1.1h-1.1zM109.1 318.6h1.1v1.1h-1.1zM94.2 316.8h1.1v1.1h-1.1zM80.5 313.6h1.1v1.1h-1.1zM86.1 313.8h1.1v1.1h-1.1zM75.7 316.5h1.1v1.1h-1.1zM82.1 309.4h1.1v1.1h-1.1zM105.7 307.8h1.1v1.1h-1.1zM79.3 313.2h1.1v1.1h-1.1zM103.3 314.4h1.1v1.1h-1.1zM91.7 312.9h1.1v1.1h-1.1zM84.5 310.5h1.1v1.1h-1.1zM108.0 311.5h1.1v1.1h-1.1zM82.8 311.6h1.1v1.1h-1.1zM89.8 304.2h1.1v1.1h-1.1zM95.0 313.8h1.1v1.1h-1.1zM92.0 316.0h1.1v1.1h-1.1zM75.9 317.0h1.1v1.1h-1.1zM100.8 310.5h1.1v1.1h-1.1zM76.2 308.0h1.1v1.1h-1.1zM80.5 312.9h1.1v1.1h-1.1zM96.9 315.3h1.1v1.1h-1.1zM94.1 307.9h1.1v1.1h-1.1zM106.3 307.4h1.1v1.1h-1.1zM77.5 314.7h1.1v1.1h-1.1zM97.6 313.9h1.1v1.1h-1.1zM99.2 318.5h1.1v1.1h-1.1zM79.0 317.0h1.1v1.1h-1.1zM81.3 315.2h1.1v1.1h-1.1zM90.8 317.2h1.1v1.1h-1.1zM77.3 311.9h1.1v1.1h-1.1zM83.5 312.0h1.1v1.1h-1.1zM89.3 311.6h1.1v1.1h-1.1zM72.9 314.0h1.1v1.1h-1.1zM85.5 310.2h1.1v1.1h-1.1zM93.7 309.7h1.1v1.1h-1.1zM103.1 310.0h1.1v1.1h-1.1zM100.5 317.2h1.1v1.1h-1.1zM79.2 313.4h1.1v1.1h-1.1zM114.2 310.7h1.1v1.1h-1.1zM91.4 313.5h1.1v1.1h-1.1zM93.9 316.1h1.1v1.1h-1.1zM79.2 309.2h1.1v1.1h-1.1zM101.0 317.3h1.1v1.1h-1.1zM106.0 311.6h1.1v1.1h-1.1zM93.6 317.8h1.1v1.1h-1.1zM92.6 306.6h1.1v1.1h-1.1zM77.9 314.5h1.1v1.1h-1.1zM77.7 311.3h1.1v1.1h-1.1zM115.5 313.3h1.1v1.1h-1.1zM89.9 318.2h1.1v1.1h-1.1zM92.3 314.5h1.1v1.1h-1.1zM100.8 318.2h1.1v1.1h-1.1zM93.4 315.7h1.1v1.1h-1.1zM106.2 311.7h1.1v1.1h-1.1zM107.7 304.7h1.1v1.1h-1.1zM74.6 310.8h1.1v1.1h-1.1zM66.2 313.6h1.1v1.1h-1.1zM66.1 314.3h1.1v1.1h-1.1zM69.0 312.0h1.1v1.1h-1.1zM77.3 317.2h1.1v1.1h-1.1zM82.5 315.3h1.1v1.1h-1.1zM70.7 312.6h1.1v1.1h-1.1zM93.0 313.0h1.1v1.1h-1.1zM77.7 315.9h1.1v1.1h-1.1zM112.1 318.7h1.1v1.1h-1.1zM100.1 311.5h1.1v1.1h-1.1zM97.8 318.7h1.1v1.1h-1.1zM86.7 312.8h1.1v1.1h-1.1zM93.5 315.1h1.1v1.1h-1.1zM95.7 315.8h1.1v1.1h-1.1zM78.4 309.1h1.1v1.1h-1.1zM89.5 302.7h1.1v1.1h-1.1zM83.4 311.6h1.1v1.1h-1.1zM99.8 314.1h1.1v1.1h-1.1zM96.2 315.3h1.1v1.1h-1.1zM102.1 317.5h1.1v1.1h-1.1zM88.8 316.8h1.1v1.1h-1.1zM85.2 311.4h1.1v1.1h-1.1zM79.3 316.2h1.1v1.1h-1.1zM109.6 317.9h1.1v1.1h-1.1zM77.5 315.0h1.1v1.1h-1.1zM94.1 317.3h1.1v1.1h-1.1zM99.7 312.1h1.1v1.1h-1.1zM74.5 315.7h1.1v1.1h-1.1zM83.6 317.7h1.1v1.1h-1.1zM88.1 312.5h1.1v1.1h-1.1zM88.9 316.4h1.1v1.1h-1.1zM85.1 311.9h1.1v1.1h-1.1zM87.3 312.0h1.1v1.1h-1.1zM96.4 317.5h1.1v1.1h-1.1zM89.6 315.7h1.1v1.1h-1.1zM81.8 315.7h1.1v1.1h-1.1zM113.6 307.4h1.1v1.1h-1.1zM100.8 317.8h1.1v1.1h-1.1zM100.3 315.2h1.1v1.1h-1.1zM88.4 306.5h1.1v1.1h-1.1zM100.2 312.7h1.1v1.1h-1.1zM91.3 316.7h1.1v1.1h-1.1zM80.1 311.8h1.1v1.1h-1.1zM91.5 302.8h1.1v1.1h-1.1zM109.6 319.0h1.1v1.1h-1.1zM82.9 303.8h1.1v1.1h-1.1zM77.6 314.3h1.1v1.1h-1.1zM93.0 305.1h1.1v1.1h-1.1zM107.1 304.6h1.1v1.1h-1.1zM64.9 310.4h1.1v1.1h-1.1zM102.0 312.7h1.1v1.1h-1.1zM79.4 310.8h1.1v1.1h-1.1zM75.8 308.0h1.1v1.1h-1.1zM65.2 314.6h1.1v1.1h-1.1zM103.7 311.6h1.1v1.1h-1.1zM91.1 313.0h1.1v1.1h-1.1zM97.3 316.0h1.1v1.1h-1.1zM93.6 314.2h1.1v1.1h-1.1zM89.7 315.9h1.1v1.1h-1.1zM111.5 311.1h1.1v1.1h-1.1zM89.2 314.0h1.1v1.1h-1.1zM84.7 311.5h1.1v1.1h-1.1zM67.9 307.9h1.1v1.1h-1.1zM89.1 318.1h1.1v1.1h-1.1zM94.0 316.5h1.1v1.1h-1.1zM101.4 318.2h1.1v1.1h-1.1zM70.4 310.8h1.1v1.1h-1.1zM93.5 312.5h1.1v1.1h-1.1zM67.5 316.2h1.1v1.1h-1.1zM87.6 313.1h1.1v1.1h-1.1zM105.1 308.3h1.1v1.1h-1.1zM93.2 313.4h1.1v1.1h-1.1zM84.9 316.6h1.1v1.1h-1.1zM89.9 317.4h1.1v1.1h-1.1zM89.1 318.0h1.1v1.1h-1.1zM96.3 317.1h1.1v1.1h-1.1zM85.9 307.9h1.1v1.1h-1.1zM83.4 315.9h1.1v1.1h-1.1zM78.8 304.5h1.1v1.1h-1.1zM90.2 317.2h1.1v1.1h-1.1zM64.6 309.9h1.1v1.1h-1.1zM94.1 318.0h1.1v1.1h-1.1zM75.6 309.4h1.1v1.1h-1.1zM91.7 318.4h1.1v1.1h-1.1zM93.2 318.2h1.1v1.1h-1.1zM91.6 312.4h1.1v1.1h-1.1zM92.2 310.2h1.1v1.1h-1.1zM93.1 310.8h1.1v1.1h-1.1zM110.2 319.0h1.1v1.1h-1.1zM101.2 316.3h1.1v1.1h-1.1zM84.0 310.4h1.1v1.1h-1.1zM97.1 314.0h1.1v1.1h-1.1zM88.7 315.2h1.1v1.1h-1.1zM69.8 315.4h1.1v1.1h-1.1zM95.1 314.0h1.1v1.1h-1.1zM96.9 316.1h1.1v1.1h-1.1zM90.9 316.1h1.1v1.1h-1.1zM74.6 303.1h1.1v1.1h-1.1zM79.4 313.9h1.1v1.1h-1.1zM91.7 314.7h1.1v1.1h-1.1zM102.0 314.0h1.1v1.1h-1.1zM90.8 317.5h1.1v1.1h-1.1zM85.1 305.7h1.1v1.1h-1.1zM115.7 315.1h1.1v1.1h-1.1zM93.6 317.5h1.1v1.1h-1.1zM117.9 314.1h1.1v1.1h-1.1z" fill="#8e2696"/>
<path d="M62.0 353.2 L66.0 351.8 L69.0 350.0 L74.6 347.0 L80.0 344.5 L86.0 342.5 L92.0 341.2 L100.0 340.3 L111.0 340.0 L114.0 341.5 L111.0 344.5 L100.0 347.0 L88.0 350.5 L78.0 354.0 L68.0 358.5 L62.0 360.0Z" fill="#23742a"/>
<path d="M86.2 351.7h1.1v1.1h-1.1zM80.5 352.1h1.1v1.1h-1.1zM88.6 349.3h1.1v1.1h-1.1zM70.1 355.0h1.1v1.1h-1.1zM86.4 351.0h1.1v1.1h-1.1zM101.7 352.2h1.1v1.1h-1.1zM68.6 360.0h1.1v1.1h-1.1zM78.8 352.7h1.1v1.1h-1.1zM95.7 348.2h1.1v1.1h-1.1zM79.4 355.5h1.1v1.1h-1.1zM83.4 361.8h1.1v1.1h-1.1zM86.4 349.5h1.1v1.1h-1.1zM103.8 348.1h1.1v1.1h-1.1zM88.1 354.6h1.1v1.1h-1.1zM85.6 356.3h1.1v1.1h-1.1zM91.4 357.4h1.1v1.1h-1.1zM86.2 356.1h1.1v1.1h-1.1zM76.5 352.5h1.1v1.1h-1.1zM59.7 363.2h1.1v1.1h-1.1zM60.8 371.0h1.1v1.1h-1.1zM72.0 358.4h1.1v1.1h-1.1zM87.6 365.9h1.1v1.1h-1.1zM90.2 353.5h1.1v1.1h-1.1zM75.0 351.1h1.1v1.1h-1.1zM75.8 352.3h1.1v1.1h-1.1zM93.4 353.9h1.1v1.1h-1.1zM88.2 373.3h1.1v1.1h-1.1zM87.1 356.2h1.1v1.1h-1.1zM86.6 355.8h1.1v1.1h-1.1zM80.4 351.6h1.1v1.1h-1.1zM64.3 357.8h1.1v1.1h-1.1zM91.3 346.4h1.1v1.1h-1.1zM83.8 352.6h1.1v1.1h-1.1zM72.5 357.4h1.1v1.1h-1.1zM60.0 365.3h1.1v1.1h-1.1zM59.1 365.0h1.1v1.1h-1.1zM89.7 356.1h1.1v1.1h-1.1zM92.1 350.0h1.1v1.1h-1.1zM92.5 347.0h1.1v1.1h-1.1zM74.1 353.1h1.1v1.1h-1.1zM79.6 362.1h1.1v1.1h-1.1zM96.5 351.7h1.1v1.1h-1.1zM101.2 353.1h1.1v1.1h-1.1zM66.5 359.7h1.1v1.1h-1.1zM80.5 359.0h1.1v1.1h-1.1zM88.3 350.2h1.1v1.1h-1.1zM63.2 359.9h1.1v1.1h-1.1zM68.8 356.2h1.1v1.1h-1.1zM108.6 342.2h1.1v1.1h-1.1zM74.0 366.9h1.1v1.1h-1.1zM88.7 350.1h1.1v1.1h-1.1zM78.7 358.4h1.1v1.1h-1.1zM65.1 356.7h1.1v1.1h-1.1zM102.4 350.2h1.1v1.1h-1.1zM68.1 362.0h1.1v1.1h-1.1zM76.4 362.4h1.1v1.1h-1.1zM83.6 357.1h1.1v1.1h-1.1zM83.1 369.0h1.1v1.1h-1.1zM87.2 356.1h1.1v1.1h-1.1zM89.9 347.8h1.1v1.1h-1.1zM112.4 346.2h1.1v1.1h-1.1zM92.8 363.3h1.1v1.1h-1.1zM84.6 356.9h1.1v1.1h-1.1zM79.1 349.4h1.1v1.1h-1.1zM89.6 353.5h1.1v1.1h-1.1zM93.6 347.4h1.1v1.1h-1.1zM73.8 350.6h1.1v1.1h-1.1zM84.6 350.5h1.1v1.1h-1.1zM89.1 359.2h1.1v1.1h-1.1zM89.1 349.4h1.1v1.1h-1.1zM86.7 356.7h1.1v1.1h-1.1zM90.2 347.2h1.1v1.1h-1.1zM79.8 356.4h1.1v1.1h-1.1zM68.6 357.4h1.1v1.1h-1.1zM80.0 353.6h1.1v1.1h-1.1zM78.7 378.2h1.1v1.1h-1.1zM79.7 353.1h1.1v1.1h-1.1zM73.5 365.2h1.1v1.1h-1.1zM62.7 355.8h1.1v1.1h-1.1zM92.3 352.9h1.1v1.1h-1.1zM79.7 353.7h1.1v1.1h-1.1zM91.4 355.4h1.1v1.1h-1.1zM89.1 357.7h1.1v1.1h-1.1zM88.9 354.7h1.1v1.1h-1.1zM73.6 363.1h1.1v1.1h-1.1zM117.7 340.7h1.1v1.1h-1.1zM76.1 359.0h1.1v1.1h-1.1zM76.5 352.7h1.1v1.1h-1.1zM71.0 352.8h1.1v1.1h-1.1zM85.6 372.5h1.1v1.1h-1.1zM67.5 353.3h1.1v1.1h-1.1zM90.6 358.5h1.1v1.1h-1.1zM90.6 347.0h1.1v1.1h-1.1zM91.6 362.8h1.1v1.1h-1.1zM82.7 370.2h1.1v1.1h-1.1zM97.6 348.3h1.1v1.1h-1.1zM86.5 361.7h1.1v1.1h-1.1zM83.1 350.9h1.1v1.1h-1.1zM65.9 362.5h1.1v1.1h-1.1zM72.3 357.2h1.1v1.1h-1.1zM88.1 350.2h1.1v1.1h-1.1zM68.8 357.4h1.1v1.1h-1.1zM59.8 357.5h1.1v1.1h-1.1zM69.5 360.6h1.1v1.1h-1.1zM73.8 356.7h1.1v1.1h-1.1zM94.8 344.5h1.1v1.1h-1.1zM90.7 347.3h1.1v1.1h-1.1zM67.2 360.6h1.1v1.1h-1.1zM84.0 348.7h1.1v1.1h-1.1zM86.5 358.9h1.1v1.1h-1.1zM84.7 352.9h1.1v1.1h-1.1zM73.8 353.6h1.1v1.1h-1.1zM74.8 355.1h1.1v1.1h-1.1zM83.5 355.4h1.1v1.1h-1.1zM86.5 349.9h1.1v1.1h-1.1zM87.9 346.6h1.1v1.1h-1.1zM103.1 344.8h1.1v1.1h-1.1zM81.7 352.3h1.1v1.1h-1.1zM78.0 354.3h1.1v1.1h-1.1zM66.6 352.3h1.1v1.1h-1.1zM87.3 348.8h1.1v1.1h-1.1zM100.5 343.5h1.1v1.1h-1.1zM62.0 355.0h1.1v1.1h-1.1zM93.5 349.3h1.1v1.1h-1.1zM77.7 360.6h1.1v1.1h-1.1zM81.3 349.0h1.1v1.1h-1.1zM110.4 345.6h1.1v1.1h-1.1zM81.2 351.4h1.1v1.1h-1.1zM79.5 354.4h1.1v1.1h-1.1zM77.7 349.7h1.1v1.1h-1.1zM62.4 356.1h1.1v1.1h-1.1zM63.6 355.3h1.1v1.1h-1.1zM82.7 356.6h1.1v1.1h-1.1zM81.9 355.2h1.1v1.1h-1.1zM86.2 351.9h1.1v1.1h-1.1zM86.1 350.5h1.1v1.1h-1.1zM72.4 355.2h1.1v1.1h-1.1zM90.5 345.7h1.1v1.1h-1.1zM68.7 358.5h1.1v1.1h-1.1zM63.6 358.0h1.1v1.1h-1.1zM67.0 354.5h1.1v1.1h-1.1zM102.9 345.0h1.1v1.1h-1.1zM83.8 352.8h1.1v1.1h-1.1zM84.8 353.4h1.1v1.1h-1.1zM86.9 359.4h1.1v1.1h-1.1zM76.2 360.2h1.1v1.1h-1.1zM89.5 354.6h1.1v1.1h-1.1zM93.7 345.9h1.1v1.1h-1.1zM109.4 343.3h1.1v1.1h-1.1zM67.4 359.8h1.1v1.1h-1.1zM77.3 351.2h1.1v1.1h-1.1zM88.0 348.2h1.1v1.1h-1.1zM90.2 349.1h1.1v1.1h-1.1zM93.1 350.9h1.1v1.1h-1.1zM77.8 352.4h1.1v1.1h-1.1zM59.4 372.2h1.1v1.1h-1.1zM86.8 363.2h1.1v1.1h-1.1zM88.9 352.8h1.1v1.1h-1.1zM82.3 356.4h1.1v1.1h-1.1zM117.0 360.0h1.1v1.1h-1.1zM80.4 359.7h1.1v1.1h-1.1zM58.5 358.2h1.1v1.1h-1.1zM84.2 351.3h1.1v1.1h-1.1zM86.6 350.5h1.1v1.1h-1.1zM82.9 349.6h1.1v1.1h-1.1zM73.4 363.9h1.1v1.1h-1.1zM87.9 361.0h1.1v1.1h-1.1zM87.4 354.2h1.1v1.1h-1.1zM75.6 365.4h1.1v1.1h-1.1zM93.8 347.7h1.1v1.1h-1.1zM72.2 361.4h1.1v1.1h-1.1zM91.7 358.7h1.1v1.1h-1.1zM72.2 375.6h1.1v1.1h-1.1zM61.2 357.2h1.1v1.1h-1.1zM88.4 350.4h1.1v1.1h-1.1zM83.4 363.9h1.1v1.1h-1.1zM84.6 348.3h1.1v1.1h-1.1zM107.8 341.6h1.1v1.1h-1.1zM107.8 345.1h1.1v1.1h-1.1zM85.2 358.3h1.1v1.1h-1.1zM87.3 360.1h1.1v1.1h-1.1zM85.0 364.0h1.1v1.1h-1.1zM97.0 356.7h1.1v1.1h-1.1zM99.5 343.4h1.1v1.1h-1.1zM68.4 353.5h1.1v1.1h-1.1zM63.4 360.6h1.1v1.1h-1.1zM73.8 356.1h1.1v1.1h-1.1zM96.0 353.7h1.1v1.1h-1.1zM80.3 353.7h1.1v1.1h-1.1zM81.1 357.8h1.1v1.1h-1.1zM72.5 359.7h1.1v1.1h-1.1zM92.5 349.1h1.1v1.1h-1.1zM97.2 359.2h1.1v1.1h-1.1zM85.1 349.9h1.1v1.1h-1.1zM79.1 363.7h1.1v1.1h-1.1zM59.0 355.9h1.1v1.1h-1.1zM86.7 348.8h1.1v1.1h-1.1zM82.8 355.2h1.1v1.1h-1.1zM93.8 347.8h1.1v1.1h-1.1zM100.3 346.5h1.1v1.1h-1.1zM102.0 345.1h1.1v1.1h-1.1zM78.1 356.9h1.1v1.1h-1.1zM86.1 346.8h1.1v1.1h-1.1zM77.4 356.3h1.1v1.1h-1.1zM68.5 356.3h1.1v1.1h-1.1zM100.8 346.7h1.1v1.1h-1.1zM100.8 355.8h1.1v1.1h-1.1zM97.7 351.2h1.1v1.1h-1.1zM78.6 349.4h1.1v1.1h-1.1zM94.4 351.5h1.1v1.1h-1.1zM75.7 352.8h1.1v1.1h-1.1zM90.2 349.6h1.1v1.1h-1.1zM85.0 351.5h1.1v1.1h-1.1zM82.3 352.1h1.1v1.1h-1.1zM91.8 359.4h1.1v1.1h-1.1zM92.3 351.2h1.1v1.1h-1.1zM96.3 345.5h1.1v1.1h-1.1zM64.1 364.8h1.1v1.1h-1.1zM84.5 349.4h1.1v1.1h-1.1zM78.6 354.8h1.1v1.1h-1.1zM85.1 357.3h1.1v1.1h-1.1zM87.2 352.7h1.1v1.1h-1.1zM83.8 351.1h1.1v1.1h-1.1zM92.8 360.9h1.1v1.1h-1.1zM80.3 357.9h1.1v1.1h-1.1zM97.5 349.1h1.1v1.1h-1.1zM79.3 349.1h1.1v1.1h-1.1zM76.0 354.3h1.1v1.1h-1.1zM62.3 372.3h1.1v1.1h-1.1zM73.5 355.7h1.1v1.1h-1.1zM84.8 350.3h1.1v1.1h-1.1zM83.4 349.9h1.1v1.1h-1.1zM104.9 345.2h1.1v1.1h-1.1zM98.0 344.6h1.1v1.1h-1.1zM74.3 357.4h1.1v1.1h-1.1zM82.1 359.0h1.1v1.1h-1.1zM88.8 352.8h1.1v1.1h-1.1zM77.8 350.3h1.1v1.1h-1.1zM75.0 357.0h1.1v1.1h-1.1zM70.9 352.9h1.1v1.1h-1.1zM71.2 352.6h1.1v1.1h-1.1zM58.6 359.6h1.1v1.1h-1.1zM84.7 367.8h1.1v1.1h-1.1zM92.1 348.1h1.1v1.1h-1.1zM85.9 360.4h1.1v1.1h-1.1zM70.6 358.2h1.1v1.1h-1.1zM97.8 349.2h1.1v1.1h-1.1zM88.1 347.8h1.1v1.1h-1.1zM77.3 352.8h1.1v1.1h-1.1zM79.1 358.3h1.1v1.1h-1.1zM76.6 356.6h1.1v1.1h-1.1zM70.1 351.7h1.1v1.1h-1.1zM62.5 353.4h1.1v1.1h-1.1zM91.8 346.1h1.1v1.1h-1.1zM61.6 355.1h1.1v1.1h-1.1zM63.0 360.8h1.1v1.1h-1.1zM94.5 345.7h1.1v1.1h-1.1zM65.5 366.8h1.1v1.1h-1.1zM71.2 352.0h1.1v1.1h-1.1zM93.2 355.6h1.1v1.1h-1.1zM82.1 357.9h1.1v1.1h-1.1zM87.3 362.1h1.1v1.1h-1.1zM68.3 364.9h1.1v1.1h-1.1zM76.6 351.6h1.1v1.1h-1.1zM85.9 351.7h1.1v1.1h-1.1zM66.4 361.4h1.1v1.1h-1.1zM69.6 358.6h1.1v1.1h-1.1zM80.1 361.5h1.1v1.1h-1.1zM72.2 358.0h1.1v1.1h-1.1zM106.2 345.6h1.1v1.1h-1.1zM93.9 346.6h1.1v1.1h-1.1zM66.9 364.7h1.1v1.1h-1.1zM95.6 351.6h1.1v1.1h-1.1zM62.6 357.4h1.1v1.1h-1.1zM95.3 345.8h1.1v1.1h-1.1zM77.8 349.7h1.1v1.1h-1.1zM77.9 355.7h1.1v1.1h-1.1zM88.3 350.4h1.1v1.1h-1.1zM67.8 361.1h1.1v1.1h-1.1zM89.3 352.2h1.1v1.1h-1.1zM87.0 360.3h1.1v1.1h-1.1zM89.5 349.5h1.1v1.1h-1.1zM87.5 349.8h1.1v1.1h-1.1zM69.0 359.7h1.1v1.1h-1.1zM90.4 360.2h1.1v1.1h-1.1zM85.1 351.4h1.1v1.1h-1.1zM77.0 368.0h1.1v1.1h-1.1zM64.2 372.0h1.1v1.1h-1.1zM95.6 349.3h1.1v1.1h-1.1zM93.6 346.3h1.1v1.1h-1.1zM75.4 355.7h1.1v1.1h-1.1zM71.5 357.3h1.1v1.1h-1.1zM71.2 350.8h1.1v1.1h-1.1zM82.0 351.8h1.1v1.1h-1.1zM90.6 357.8h1.1v1.1h-1.1zM71.0 355.9h1.1v1.1h-1.1zM93.9 345.5h1.1v1.1h-1.1zM104.9 341.9h1.1v1.1h-1.1zM74.6 357.3h1.1v1.1h-1.1zM102.9 351.5h1.1v1.1h-1.1zM64.6 357.7h1.1v1.1h-1.1zM74.2 352.6h1.1v1.1h-1.1zM75.8 363.4h1.1v1.1h-1.1zM65.0 352.6h1.1v1.1h-1.1zM63.5 370.1h1.1v1.1h-1.1zM86.6 349.3h1.1v1.1h-1.1zM83.2 353.7h1.1v1.1h-1.1zM66.9 356.2h1.1v1.1h-1.1zM72.4 361.6h1.1v1.1h-1.1zM66.6 359.1h1.1v1.1h-1.1zM106.6 348.3h1.1v1.1h-1.1zM60.2 357.4h1.1v1.1h-1.1zM74.0 369.7h1.1v1.1h-1.1zM100.1 343.3h1.1v1.1h-1.1zM85.1 366.7h1.1v1.1h-1.1zM65.8 354.8h1.1v1.1h-1.1zM63.6 362.0h1.1v1.1h-1.1zM68.1 360.6h1.1v1.1h-1.1zM81.8 351.5h1.1v1.1h-1.1zM89.8 348.4h1.1v1.1h-1.1zM75.8 352.1h1.1v1.1h-1.1zM86.1 360.2h1.1v1.1h-1.1zM75.4 353.3h1.1v1.1h-1.1zM96.4 351.2h1.1v1.1h-1.1zM63.6 365.4h1.1v1.1h-1.1zM99.6 351.4h1.1v1.1h-1.1zM81.4 358.8h1.1v1.1h-1.1zM69.8 354.2h1.1v1.1h-1.1zM83.8 362.7h1.1v1.1h-1.1zM86.0 357.0h1.1v1.1h-1.1zM88.6 354.1h1.1v1.1h-1.1zM96.4 351.2h1.1v1.1h-1.1zM89.2 348.8h1.1v1.1h-1.1zM100.2 348.4h1.1v1.1h-1.1zM66.8 360.8h1.1v1.1h-1.1zM71.0 354.2h1.1v1.1h-1.1zM61.1 376.6h1.1v1.1h-1.1zM84.4 350.1h1.1v1.1h-1.1zM82.2 350.3h1.1v1.1h-1.1zM58.7 362.0h1.1v1.1h-1.1zM96.1 358.4h1.1v1.1h-1.1zM87.6 353.9h1.1v1.1h-1.1zM59.5 373.6h1.1v1.1h-1.1zM87.1 347.2h1.1v1.1h-1.1zM82.7 354.4h1.1v1.1h-1.1zM88.6 347.1h1.1v1.1h-1.1zM92.0 356.1h1.1v1.1h-1.1zM93.0 360.8h1.1v1.1h-1.1zM61.2 359.6h1.1v1.1h-1.1zM95.1 356.4h1.1v1.1h-1.1zM79.0 349.9h1.1v1.1h-1.1zM67.2 359.4h1.1v1.1h-1.1zM83.5 361.0h1.1v1.1h-1.1zM83.6 358.9h1.1v1.1h-1.1zM78.4 352.9h1.1v1.1h-1.1zM65.1 357.6h1.1v1.1h-1.1zM80.5 355.5h1.1v1.1h-1.1zM76.6 355.3h1.1v1.1h-1.1zM84.5 348.7h1.1v1.1h-1.1zM69.6 353.0h1.1v1.1h-1.1zM109.4 346.4h1.1v1.1h-1.1zM83.0 359.5h1.1v1.1h-1.1zM72.9 351.6h1.1v1.1h-1.1zM89.1 353.9h1.1v1.1h-1.1zM58.6 375.4h1.1v1.1h-1.1zM81.5 348.0h1.1v1.1h-1.1zM76.1 351.6h1.1v1.1h-1.1zM67.4 353.5h1.1v1.1h-1.1zM81.4 358.8h1.1v1.1h-1.1zM83.5 351.8h1.1v1.1h-1.1zM73.2 353.4h1.1v1.1h-1.1zM80.9 362.8h1.1v1.1h-1.1zM59.0 368.1h1.1v1.1h-1.1zM95.9 351.4h1.1v1.1h-1.1zM72.1 360.8h1.1v1.1h-1.1zM88.8 359.6h1.1v1.1h-1.1zM71.5 360.4h1.1v1.1h-1.1zM84.6 352.2h1.1v1.1h-1.1zM97.7 351.9h1.1v1.1h-1.1zM66.7 359.8h1.1v1.1h-1.1zM73.1 367.6h1.1v1.1h-1.1zM79.3 361.7h1.1v1.1h-1.1zM79.7 350.8h1.1v1.1h-1.1zM71.9 355.5h1.1v1.1h-1.1zM73.7 350.6h1.1v1.1h-1.1zM70.1 364.3h1.1v1.1h-1.1zM77.0 360.6h1.1v1.1h-1.1zM78.8 354.8h1.1v1.1h-1.1zM76.5 359.0h1.1v1.1h-1.1zM84.3 350.0h1.1v1.1h-1.1zM97.2 345.4h1.1v1.1h-1.1zM91.2 354.1h1.1v1.1h-1.1zM80.2 348.3h1.1v1.1h-1.1zM74.3 361.6h1.1v1.1h-1.1zM93.2 359.8h1.1v1.1h-1.1zM91.8 355.7h1.1v1.1h-1.1zM84.2 352.4h1.1v1.1h-1.1zM76.3 350.6h1.1v1.1h-1.1zM73.0 354.2h1.1v1.1h-1.1zM87.1 355.2h1.1v1.1h-1.1zM86.1 347.9h1.1v1.1h-1.1zM73.5 351.7h1.1v1.1h-1.1zM94.4 347.9h1.1v1.1h-1.1zM109.8 342.9h1.1v1.1h-1.1zM75.9 359.9h1.1v1.1h-1.1zM96.2 344.8h1.1v1.1h-1.1zM94.0 346.0h1.1v1.1h-1.1zM93.1 351.9h1.1v1.1h-1.1zM88.4 360.2h1.1v1.1h-1.1zM77.7 351.5h1.1v1.1h-1.1zM67.3 354.9h1.1v1.1h-1.1zM80.5 363.0h1.1v1.1h-1.1zM82.2 356.6h1.1v1.1h-1.1zM75.2 372.8h1.1v1.1h-1.1zM63.8 356.5h1.1v1.1h-1.1zM74.5 358.1h1.1v1.1h-1.1zM75.3 359.2h1.1v1.1h-1.1zM79.2 356.3h1.1v1.1h-1.1zM87.9 347.0h1.1v1.1h-1.1zM90.6 351.7h1.1v1.1h-1.1zM92.2 346.7h1.1v1.1h-1.1zM62.6 367.2h1.1v1.1h-1.1zM62.2 357.5h1.1v1.1h-1.1zM84.2 356.0h1.1v1.1h-1.1zM82.6 348.9h1.1v1.1h-1.1zM93.9 353.6h1.1v1.1h-1.1zM89.9 370.7h1.1v1.1h-1.1zM95.0 353.1h1.1v1.1h-1.1zM96.1 351.7h1.1v1.1h-1.1zM75.6 349.9h1.1v1.1h-1.1zM94.8 345.4h1.1v1.1h-1.1zM62.1 366.2h1.1v1.1h-1.1zM113.5 340.9h1.1v1.1h-1.1zM70.0 366.8h1.1v1.1h-1.1zM72.2 356.2h1.1v1.1h-1.1zM78.4 350.0h1.1v1.1h-1.1zM79.7 351.2h1.1v1.1h-1.1zM62.3 360.8h1.1v1.1h-1.1zM100.8 347.7h1.1v1.1h-1.1zM69.1 351.6h1.1v1.1h-1.1zM84.5 354.8h1.1v1.1h-1.1zM87.1 355.1h1.1v1.1h-1.1zM64.8 364.7h1.1v1.1h-1.1zM85.8 355.5h1.1v1.1h-1.1zM84.9 356.9h1.1v1.1h-1.1zM77.8 353.2h1.1v1.1h-1.1zM71.7 359.4h1.1v1.1h-1.1zM91.0 376.4h1.1v1.1h-1.1zM65.9 354.2h1.1v1.1h-1.1zM82.9 357.6h1.1v1.1h-1.1zM81.4 361.9h1.1v1.1h-1.1zM86.9 352.1h1.1v1.1h-1.1zM85.2 349.4h1.1v1.1h-1.1zM87.0 354.6h1.1v1.1h-1.1zM95.3 350.2h1.1v1.1h-1.1zM76.1 354.9h1.1v1.1h-1.1zM64.4 354.7h1.1v1.1h-1.1zM64.9 362.4h1.1v1.1h-1.1zM97.6 355.7h1.1v1.1h-1.1zM77.5 353.0h1.1v1.1h-1.1zM91.3 350.6h1.1v1.1h-1.1zM89.8 351.1h1.1v1.1h-1.1zM94.9 353.3h1.1v1.1h-1.1zM79.0 357.2h1.1v1.1h-1.1zM88.0 361.5h1.1v1.1h-1.1zM84.9 354.8h1.1v1.1h-1.1zM91.9 365.7h1.1v1.1h-1.1zM97.8 348.3h1.1v1.1h-1.1zM72.7 361.8h1.1v1.1h-1.1zM103.6 343.3h1.1v1.1h-1.1zM93.6 345.6h1.1v1.1h-1.1zM69.2 361.9h1.1v1.1h-1.1zM75.5 354.3h1.1v1.1h-1.1zM59.6 363.9h1.1v1.1h-1.1zM79.0 359.6h1.1v1.1h-1.1zM72.1 355.7h1.1v1.1h-1.1zM58.7 361.5h1.1v1.1h-1.1zM101.5 345.5h1.1v1.1h-1.1zM78.6 350.2h1.1v1.1h-1.1zM66.6 361.5h1.1v1.1h-1.1zM95.3 351.4h1.1v1.1h-1.1zM91.5 365.3h1.1v1.1h-1.1zM92.9 353.2h1.1v1.1h-1.1zM70.9 369.3h1.1v1.1h-1.1zM77.5 350.8h1.1v1.1h-1.1zM64.9 360.3h1.1v1.1h-1.1zM88.7 346.6h1.1v1.1h-1.1zM93.7 356.2h1.1v1.1h-1.1zM106.2 343.3h1.1v1.1h-1.1zM71.5 356.2h1.1v1.1h-1.1zM78.2 351.9h1.1v1.1h-1.1zM95.6 354.8h1.1v1.1h-1.1zM74.0 361.2h1.1v1.1h-1.1zM73.5 352.3h1.1v1.1h-1.1zM104.6 357.2h1.1v1.1h-1.1zM78.4 357.8h1.1v1.1h-1.1zM80.9 348.1h1.1v1.1h-1.1zM78.0 354.2h1.1v1.1h-1.1zM107.6 353.8h1.1v1.1h-1.1zM87.3 353.1h1.1v1.1h-1.1zM78.9 364.3h1.1v1.1h-1.1zM95.4 353.8h1.1v1.1h-1.1zM69.2 360.1h1.1v1.1h-1.1zM102.3 345.0h1.1v1.1h-1.1zM109.7 345.9h1.1v1.1h-1.1zM88.2 348.6h1.1v1.1h-1.1zM72.1 377.7h1.1v1.1h-1.1zM82.4 355.1h1.1v1.1h-1.1zM92.3 346.1h1.1v1.1h-1.1zM94.1 355.8h1.1v1.1h-1.1zM73.3 361.3h1.1v1.1h-1.1zM81.8 354.4h1.1v1.1h-1.1zM69.3 356.2h1.1v1.1h-1.1zM73.2 360.1h1.1v1.1h-1.1zM82.5 353.8h1.1v1.1h-1.1zM86.9 348.2h1.1v1.1h-1.1zM79.0 356.4h1.1v1.1h-1.1zM85.5 346.9h1.1v1.1h-1.1zM94.1 354.6h1.1v1.1h-1.1zM87.6 361.8h1.1v1.1h-1.1zM85.7 348.7h1.1v1.1h-1.1zM90.5 357.9h1.1v1.1h-1.1zM83.7 354.3h1.1v1.1h-1.1zM69.4 352.0h1.1v1.1h-1.1zM62.3 364.4h1.1v1.1h-1.1zM64.4 358.3h1.1v1.1h-1.1zM108.0 352.1h1.1v1.1h-1.1zM80.2 350.4h1.1v1.1h-1.1zM109.1 343.0h1.1v1.1h-1.1zM82.5 353.1h1.1v1.1h-1.1zM66.4 353.5h1.1v1.1h-1.1zM64.4 354.2h1.1v1.1h-1.1zM95.3 350.7h1.1v1.1h-1.1zM92.8 349.8h1.1v1.1h-1.1zM81.6 360.0h1.1v1.1h-1.1zM88.3 356.2h1.1v1.1h-1.1zM63.6 356.3h1.1v1.1h-1.1zM83.3 354.9h1.1v1.1h-1.1zM80.5 353.4h1.1v1.1h-1.1zM76.6 353.9h1.1v1.1h-1.1zM63.3 356.1h1.1v1.1h-1.1zM100.1 349.6h1.1v1.1h-1.1zM86.5 347.3h1.1v1.1h-1.1zM78.1 367.0h1.1v1.1h-1.1zM71.1 365.6h1.1v1.1h-1.1zM76.5 352.9h1.1v1.1h-1.1zM71.2 355.0h1.1v1.1h-1.1zM90.4 349.1h1.1v1.1h-1.1zM84.3 353.1h1.1v1.1h-1.1zM85.4 351.2h1.1v1.1h-1.1zM93.9 361.7h1.1v1.1h-1.1zM85.0 353.7h1.1v1.1h-1.1zM93.8 348.0h1.1v1.1h-1.1zM67.6 355.5h1.1v1.1h-1.1zM91.0 349.9h1.1v1.1h-1.1zM99.2 360.6h1.1v1.1h-1.1zM82.8 352.6h1.1v1.1h-1.1zM79.3 361.7h1.1v1.1h-1.1zM92.9 369.4h1.1v1.1h-1.1zM90.5 360.0h1.1v1.1h-1.1zM82.0 358.5h1.1v1.1h-1.1zM101.3 348.7h1.1v1.1h-1.1zM85.5 358.7h1.1v1.1h-1.1zM91.2 357.0h1.1v1.1h-1.1zM66.6 365.0h1.1v1.1h-1.1zM70.2 354.8h1.1v1.1h-1.1zM88.1 354.3h1.1v1.1h-1.1zM73.8 362.9h1.1v1.1h-1.1zM76.4 352.3h1.1v1.1h-1.1zM64.0 355.7h1.1v1.1h-1.1zM97.4 346.0h1.1v1.1h-1.1zM76.2 360.5h1.1v1.1h-1.1zM100.0 343.4h1.1v1.1h-1.1zM84.2 348.9h1.1v1.1h-1.1zM96.7 346.1h1.1v1.1h-1.1zM98.7 344.7h1.1v1.1h-1.1zM96.8 358.7h1.1v1.1h-1.1zM69.0 351.7h1.1v1.1h-1.1zM66.9 367.0h1.1v1.1h-1.1zM73.7 352.2h1.1v1.1h-1.1zM94.7 351.0h1.1v1.1h-1.1zM93.7 349.7h1.1v1.1h-1.1zM101.5 351.3h1.1v1.1h-1.1zM97.4 354.5h1.1v1.1h-1.1zM73.4 358.5h1.1v1.1h-1.1zM88.2 355.4h1.1v1.1h-1.1zM96.3 347.3h1.1v1.1h-1.1zM92.3 352.6h1.1v1.1h-1.1zM73.2 359.9h1.1v1.1h-1.1zM94.3 351.8h1.1v1.1h-1.1zM90.1 354.1h1.1v1.1h-1.1zM71.9 356.5h1.1v1.1h-1.1zM74.9 356.4h1.1v1.1h-1.1zM81.9 349.4h1.1v1.1h-1.1zM91.7 354.4h1.1v1.1h-1.1zM92.5 352.5h1.1v1.1h-1.1zM83.3 359.4h1.1v1.1h-1.1zM89.9 365.6h1.1v1.1h-1.1zM73.4 352.0h1.1v1.1h-1.1zM66.5 355.4h1.1v1.1h-1.1zM83.6 351.4h1.1v1.1h-1.1zM90.0 350.9h1.1v1.1h-1.1zM94.5 353.0h1.1v1.1h-1.1zM112.3 340.3h1.1v1.1h-1.1zM90.8 346.2h1.1v1.1h-1.1zM80.6 350.7h1.1v1.1h-1.1zM88.1 349.3h1.1v1.1h-1.1zM64.8 362.3h1.1v1.1h-1.1zM66.7 362.3h1.1v1.1h-1.1zM115.9 342.5h1.1v1.1h-1.1zM76.5 355.3h1.1v1.1h-1.1zM84.3 353.7h1.1v1.1h-1.1zM91.3 350.8h1.1v1.1h-1.1zM90.2 354.1h1.1v1.1h-1.1zM64.7 353.2h1.1v1.1h-1.1zM88.9 352.5h1.1v1.1h-1.1zM88.6 350.6h1.1v1.1h-1.1zM85.1 355.0h1.1v1.1h-1.1zM81.4 349.4h1.1v1.1h-1.1zM77.8 350.5h1.1v1.1h-1.1zM85.8 364.7h1.1v1.1h-1.1zM76.0 354.5h1.1v1.1h-1.1zM71.3 353.2h1.1v1.1h-1.1zM68.7 358.6h1.1v1.1h-1.1zM80.4 354.5h1.1v1.1h-1.1zM99.5 347.8h1.1v1.1h-1.1zM88.1 347.5h1.1v1.1h-1.1zM85.4 361.4h1.1v1.1h-1.1zM103.9 348.7h1.1v1.1h-1.1zM78.0 359.8h1.1v1.1h-1.1zM85.0 353.9h1.1v1.1h-1.1zM95.8 344.8h1.1v1.1h-1.1zM88.7 347.3h1.1v1.1h-1.1zM94.6 345.1h1.1v1.1h-1.1zM77.7 360.7h1.1v1.1h-1.1zM83.9 350.2h1.1v1.1h-1.1zM75.7 351.0h1.1v1.1h-1.1zM69.5 360.5h1.1v1.1h-1.1zM96.9 350.5h1.1v1.1h-1.1zM81.1 362.1h1.1v1.1h-1.1zM98.0 347.7h1.1v1.1h-1.1zM79.5 352.8h1.1v1.1h-1.1zM78.5 357.5h1.1v1.1h-1.1zM84.7 351.3h1.1v1.1h-1.1zM68.5 360.8h1.1v1.1h-1.1zM65.1 352.6h1.1v1.1h-1.1zM58.8 355.3h1.1v1.1h-1.1zM81.0 356.1h1.1v1.1h-1.1zM88.0 349.2h1.1v1.1h-1.1zM72.9 357.5h1.1v1.1h-1.1zM80.0 352.2h1.1v1.1h-1.1zM87.2 360.9h1.1v1.1h-1.1zM88.5 351.8h1.1v1.1h-1.1zM65.3 356.0h1.1v1.1h-1.1zM81.5 358.5h1.1v1.1h-1.1zM112.9 347.4h1.1v1.1h-1.1zM83.1 367.1h1.1v1.1h-1.1zM93.2 350.7h1.1v1.1h-1.1zM87.7 352.7h1.1v1.1h-1.1zM86.3 348.0h1.1v1.1h-1.1zM81.0 355.1h1.1v1.1h-1.1zM113.1 358.7h1.1v1.1h-1.1zM93.7 345.4h1.1v1.1h-1.1zM80.6 353.2h1.1v1.1h-1.1zM91.9 347.7h1.1v1.1h-1.1zM91.5 349.0h1.1v1.1h-1.1zM110.7 349.4h1.1v1.1h-1.1zM76.3 352.8h1.1v1.1h-1.1zM100.9 344.1h1.1v1.1h-1.1zM84.5 355.6h1.1v1.1h-1.1zM103.8 347.4h1.1v1.1h-1.1zM62.1 364.4h1.1v1.1h-1.1zM90.0 358.3h1.1v1.1h-1.1zM84.7 353.5h1.1v1.1h-1.1zM65.4 365.8h1.1v1.1h-1.1zM78.9 350.5h1.1v1.1h-1.1zM67.9 361.2h1.1v1.1h-1.1zM94.9 357.4h1.1v1.1h-1.1zM100.1 345.0h1.1v1.1h-1.1zM85.5 348.4h1.1v1.1h-1.1zM73.3 361.7h1.1v1.1h-1.1zM90.0 355.7h1.1v1.1h-1.1zM71.6 364.9h1.1v1.1h-1.1zM82.5 349.1h1.1v1.1h-1.1zM79.9 353.5h1.1v1.1h-1.1zM87.0 349.4h1.1v1.1h-1.1zM104.7 353.5h1.1v1.1h-1.1zM59.6 355.9h1.1v1.1h-1.1zM80.3 352.6h1.1v1.1h-1.1zM73.5 354.7h1.1v1.1h-1.1zM103.3 346.9h1.1v1.1h-1.1zM102.5 342.7h1.1v1.1h-1.1zM86.5 353.4h1.1v1.1h-1.1zM67.2 363.0h1.1v1.1h-1.1zM78.4 351.6h1.1v1.1h-1.1zM74.9 359.9h1.1v1.1h-1.1zM96.5 346.5h1.1v1.1h-1.1zM91.7 360.7h1.1v1.1h-1.1zM82.4 354.5h1.1v1.1h-1.1zM97.3 356.4h1.1v1.1h-1.1zM84.8 357.4h1.1v1.1h-1.1zM65.2 358.1h1.1v1.1h-1.1zM91.3 347.5h1.1v1.1h-1.1zM103.7 349.0h1.1v1.1h-1.1zM84.6 358.5h1.1v1.1h-1.1zM78.7 366.5h1.1v1.1h-1.1zM64.6 364.6h1.1v1.1h-1.1zM76.3 354.1h1.1v1.1h-1.1zM77.7 354.0h1.1v1.1h-1.1zM98.5 345.8h1.1v1.1h-1.1zM76.9 352.3h1.1v1.1h-1.1zM85.0 358.3h1.1v1.1h-1.1zM89.1 352.3h1.1v1.1h-1.1zM93.5 349.9h1.1v1.1h-1.1zM102.2 345.2h1.1v1.1h-1.1zM74.8 350.0h1.1v1.1h-1.1zM82.6 353.0h1.1v1.1h-1.1zM93.2 348.1h1.1v1.1h-1.1zM100.0 344.8h1.1v1.1h-1.1zM77.5 364.3h1.1v1.1h-1.1zM86.2 363.9h1.1v1.1h-1.1zM87.5 348.1h1.1v1.1h-1.1zM77.7 355.4h1.1v1.1h-1.1zM62.4 362.4h1.1v1.1h-1.1zM93.0 352.4h1.1v1.1h-1.1zM102.1 343.2h1.1v1.1h-1.1zM79.5 358.1h1.1v1.1h-1.1zM68.4 359.5h1.1v1.1h-1.1zM87.3 356.7h1.1v1.1h-1.1zM76.7 355.6h1.1v1.1h-1.1zM75.1 355.2h1.1v1.1h-1.1zM68.0 358.5h1.1v1.1h-1.1zM81.5 357.8h1.1v1.1h-1.1zM91.8 347.1h1.1v1.1h-1.1zM86.5 351.1h1.1v1.1h-1.1zM109.3 343.4h1.1v1.1h-1.1zM83.3 353.0h1.1v1.1h-1.1zM76.1 360.9h1.1v1.1h-1.1zM68.2 359.1h1.1v1.1h-1.1zM84.0 353.6h1.1v1.1h-1.1zM88.4 351.5h1.1v1.1h-1.1zM93.9 351.3h1.1v1.1h-1.1zM65.7 357.3h1.1v1.1h-1.1zM77.8 371.1h1.1v1.1h-1.1zM97.4 362.4h1.1v1.1h-1.1zM88.0 361.4h1.1v1.1h-1.1zM77.6 349.2h1.1v1.1h-1.1zM86.3 358.0h1.1v1.1h-1.1zM115.8 348.0h1.1v1.1h-1.1zM66.8 367.6h1.1v1.1h-1.1zM96.9 365.6h1.1v1.1h-1.1zM91.1 347.8h1.1v1.1h-1.1zM99.3 350.0h1.1v1.1h-1.1zM71.2 357.2h1.1v1.1h-1.1zM68.4 357.7h1.1v1.1h-1.1zM74.0 361.7h1.1v1.1h-1.1zM58.4 355.1h1.1v1.1h-1.1zM112.1 342.8h1.1v1.1h-1.1zM82.1 355.5h1.1v1.1h-1.1zM79.9 358.7h1.1v1.1h-1.1zM78.2 351.9h1.1v1.1h-1.1zM78.5 358.6h1.1v1.1h-1.1zM76.5 357.7h1.1v1.1h-1.1zM65.4 357.5h1.1v1.1h-1.1zM73.0 355.4h1.1v1.1h-1.1zM90.0 348.1h1.1v1.1h-1.1zM90.3 345.7h1.1v1.1h-1.1zM68.3 353.6h1.1v1.1h-1.1zM89.6 347.6h1.1v1.1h-1.1zM78.6 355.3h1.1v1.1h-1.1zM75.4 350.8h1.1v1.1h-1.1zM80.3 352.8h1.1v1.1h-1.1zM61.0 353.5h1.1v1.1h-1.1zM58.7 356.0h1.1v1.1h-1.1zM97.2 356.1h1.1v1.1h-1.1zM64.2 358.2h1.1v1.1h-1.1zM64.9 360.7h1.1v1.1h-1.1zM85.4 363.9h1.1v1.1h-1.1zM58.0 358.1h1.1v1.1h-1.1zM90.1 362.3h1.1v1.1h-1.1zM91.1 360.4h1.1v1.1h-1.1zM106.8 366.8h1.1v1.1h-1.1zM96.3 344.1h1.1v1.1h-1.1zM75.7 351.5h1.1v1.1h-1.1zM92.6 351.0h1.1v1.1h-1.1zM86.1 352.0h1.1v1.1h-1.1zM96.9 345.1h1.1v1.1h-1.1zM69.3 353.8h1.1v1.1h-1.1zM83.7 372.0h1.1v1.1h-1.1zM85.5 349.0h1.1v1.1h-1.1zM72.3 351.5h1.1v1.1h-1.1zM80.6 350.1h1.1v1.1h-1.1zM81.0 349.2h1.1v1.1h-1.1zM87.0 347.3h1.1v1.1h-1.1zM72.2 357.3h1.1v1.1h-1.1zM90.2 360.0h1.1v1.1h-1.1zM69.0 355.3h1.1v1.1h-1.1zM78.0 361.4h1.1v1.1h-1.1zM90.1 355.6h1.1v1.1h-1.1zM87.7 351.4h1.1v1.1h-1.1zM89.0 365.8h1.1v1.1h-1.1zM63.6 357.3h1.1v1.1h-1.1zM94.7 357.0h1.1v1.1h-1.1zM66.6 358.3h1.1v1.1h-1.1zM101.5 344.0h1.1v1.1h-1.1zM89.2 353.3h1.1v1.1h-1.1zM74.9 367.4h1.1v1.1h-1.1zM75.4 368.9h1.1v1.1h-1.1zM74.1 359.0h1.1v1.1h-1.1zM90.3 346.3h1.1v1.1h-1.1zM83.5 351.8h1.1v1.1h-1.1zM85.4 354.2h1.1v1.1h-1.1zM93.6 353.5h1.1v1.1h-1.1zM101.2 345.2h1.1v1.1h-1.1zM66.4 377.4h1.1v1.1h-1.1zM72.1 360.3h1.1v1.1h-1.1zM82.0 348.3h1.1v1.1h-1.1zM78.3 349.5h1.1v1.1h-1.1zM91.3 347.3h1.1v1.1h-1.1zM81.8 349.6h1.1v1.1h-1.1zM58.3 373.4h1.1v1.1h-1.1zM89.3 354.7h1.1v1.1h-1.1zM83.3 354.9h1.1v1.1h-1.1zM90.5 354.3h1.1v1.1h-1.1zM99.7 345.3h1.1v1.1h-1.1zM76.1 360.3h1.1v1.1h-1.1zM80.0 356.0h1.1v1.1h-1.1zM91.6 354.1h1.1v1.1h-1.1zM79.1 358.3h1.1v1.1h-1.1zM91.8 355.3h1.1v1.1h-1.1zM70.5 359.3h1.1v1.1h-1.1zM80.4 352.0h1.1v1.1h-1.1zM59.0 360.8h1.1v1.1h-1.1zM79.6 361.2h1.1v1.1h-1.1zM77.8 360.2h1.1v1.1h-1.1zM95.0 345.3h1.1v1.1h-1.1zM71.1 355.1h1.1v1.1h-1.1zM102.4 362.1h1.1v1.1h-1.1zM82.9 348.7h1.1v1.1h-1.1zM65.2 359.7h1.1v1.1h-1.1zM78.3 351.3h1.1v1.1h-1.1zM72.4 350.7h1.1v1.1h-1.1zM80.6 368.0h1.1v1.1h-1.1zM89.1 349.6h1.1v1.1h-1.1zM82.2 347.9h1.1v1.1h-1.1zM64.7 363.9h1.1v1.1h-1.1zM103.6 349.8h1.1v1.1h-1.1zM91.7 353.6h1.1v1.1h-1.1zM60.0 357.7h1.1v1.1h-1.1zM66.9 356.5h1.1v1.1h-1.1zM89.2 356.0h1.1v1.1h-1.1zM76.2 356.7h1.1v1.1h-1.1zM83.3 368.0h1.1v1.1h-1.1zM87.9 367.4h1.1v1.1h-1.1zM98.4 346.9h1.1v1.1h-1.1zM116.4 349.4h1.1v1.1h-1.1zM91.3 348.2h1.1v1.1h-1.1zM83.2 350.3h1.1v1.1h-1.1zM87.9 349.4h1.1v1.1h-1.1zM79.4 348.6h1.1v1.1h-1.1zM86.9 364.4h1.1v1.1h-1.1zM91.4 348.9h1.1v1.1h-1.1zM89.7 358.9h1.1v1.1h-1.1zM75.0 350.6h1.1v1.1h-1.1zM71.5 356.4h1.1v1.1h-1.1zM76.5 363.2h1.1v1.1h-1.1zM75.7 353.7h1.1v1.1h-1.1zM112.9 344.8h1.1v1.1h-1.1zM101.3 343.0h1.1v1.1h-1.1zM67.1 370.8h1.1v1.1h-1.1zM59.0 375.3h1.1v1.1h-1.1zM101.6 345.3h1.1v1.1h-1.1zM76.3 349.3h1.1v1.1h-1.1zM79.1 351.4h1.1v1.1h-1.1zM69.2 354.3h1.1v1.1h-1.1zM107.2 350.4h1.1v1.1h-1.1zM74.6 350.9h1.1v1.1h-1.1zM77.7 353.6h1.1v1.1h-1.1zM74.3 363.9h1.1v1.1h-1.1zM84.7 348.0h1.1v1.1h-1.1zM86.0 349.0h1.1v1.1h-1.1zM97.5 349.9h1.1v1.1h-1.1zM103.1 347.2h1.1v1.1h-1.1zM66.5 359.1h1.1v1.1h-1.1zM89.2 353.8h1.1v1.1h-1.1zM82.5 349.1h1.1v1.1h-1.1zM71.4 360.8h1.1v1.1h-1.1zM87.3 350.2h1.1v1.1h-1.1zM84.3 349.5h1.1v1.1h-1.1zM71.3 353.7h1.1v1.1h-1.1zM106.7 349.1h1.1v1.1h-1.1zM66.7 353.6h1.1v1.1h-1.1zM78.3 365.9h1.1v1.1h-1.1zM97.2 345.4h1.1v1.1h-1.1zM70.9 365.5h1.1v1.1h-1.1zM77.5 354.4h1.1v1.1h-1.1zM71.1 351.7h1.1v1.1h-1.1zM77.6 367.6h1.1v1.1h-1.1zM103.4 346.6h1.1v1.1h-1.1zM81.6 348.8h1.1v1.1h-1.1zM93.4 351.6h1.1v1.1h-1.1zM69.8 367.3h1.1v1.1h-1.1zM78.4 354.5h1.1v1.1h-1.1zM94.1 346.6h1.1v1.1h-1.1zM90.0 347.6h1.1v1.1h-1.1zM99.9 359.7h1.1v1.1h-1.1zM79.6 354.1h1.1v1.1h-1.1zM93.0 351.2h1.1v1.1h-1.1zM87.6 349.3h1.1v1.1h-1.1zM68.6 357.1h1.1v1.1h-1.1zM88.4 349.7h1.1v1.1h-1.1zM118.8 365.1h1.1v1.1h-1.1zM87.7 350.7h1.1v1.1h-1.1zM64.3 358.0h1.1v1.1h-1.1zM61.1 353.4h1.1v1.1h-1.1zM87.0 358.1h1.1v1.1h-1.1zM78.6 350.9h1.1v1.1h-1.1zM82.4 350.7h1.1v1.1h-1.1zM97.6 353.2h1.1v1.1h-1.1zM75.7 350.3h1.1v1.1h-1.1zM82.7 349.3h1.1v1.1h-1.1zM89.4 366.8h1.1v1.1h-1.1zM73.4 355.8h1.1v1.1h-1.1zM84.1 351.0h1.1v1.1h-1.1zM82.7 365.2h1.1v1.1h-1.1zM77.5 361.4h1.1v1.1h-1.1zM64.0 360.0h1.1v1.1h-1.1zM84.4 354.8h1.1v1.1h-1.1zM106.2 350.1h1.1v1.1h-1.1zM98.3 348.4h1.1v1.1h-1.1zM86.5 350.1h1.1v1.1h-1.1zM59.1 360.7h1.1v1.1h-1.1zM68.0 362.3h1.1v1.1h-1.1zM91.9 358.2h1.1v1.1h-1.1zM82.1 360.3h1.1v1.1h-1.1zM86.8 350.8h1.1v1.1h-1.1zM88.0 352.4h1.1v1.1h-1.1zM78.0 364.4h1.1v1.1h-1.1zM64.5 360.1h1.1v1.1h-1.1zM97.5 347.5h1.1v1.1h-1.1zM83.3 347.9h1.1v1.1h-1.1zM80.5 357.5h1.1v1.1h-1.1zM84.2 369.4h1.1v1.1h-1.1zM80.1 350.0h1.1v1.1h-1.1zM80.9 355.3h1.1v1.1h-1.1zM84.9 356.6h1.1v1.1h-1.1zM95.9 353.4h1.1v1.1h-1.1zM81.3 357.0h1.1v1.1h-1.1zM98.8 350.0h1.1v1.1h-1.1zM75.9 355.6h1.1v1.1h-1.1zM79.5 362.5h1.1v1.1h-1.1zM101.7 350.3h1.1v1.1h-1.1zM98.8 349.8h1.1v1.1h-1.1zM78.3 355.1h1.1v1.1h-1.1zM70.1 357.1h1.1v1.1h-1.1zM70.9 359.5h1.1v1.1h-1.1zM94.2 352.9h1.1v1.1h-1.1zM68.6 360.9h1.1v1.1h-1.1zM80.0 348.6h1.1v1.1h-1.1zM67.4 353.4h1.1v1.1h-1.1zM105.1 349.5h1.1v1.1h-1.1zM81.2 348.4h1.1v1.1h-1.1zM68.0 357.7h1.1v1.1h-1.1zM77.0 362.0h1.1v1.1h-1.1zM68.0 369.0h1.1v1.1h-1.1zM83.9 356.8h1.1v1.1h-1.1zM68.0 352.2h1.1v1.1h-1.1zM64.9 358.4h1.1v1.1h-1.1zM86.7 354.5h1.1v1.1h-1.1zM84.9 355.6h1.1v1.1h-1.1zM78.7 349.6h1.1v1.1h-1.1zM62.2 360.0h1.1v1.1h-1.1zM88.7 355.9h1.1v1.1h-1.1zM98.2 349.8h1.1v1.1h-1.1zM66.3 352.9h1.1v1.1h-1.1zM74.4 356.2h1.1v1.1h-1.1zM87.8 362.1h1.1v1.1h-1.1zM98.1 357.1h1.1v1.1h-1.1zM67.8 368.0h1.1v1.1h-1.1zM81.2 354.9h1.1v1.1h-1.1zM70.2 359.2h1.1v1.1h-1.1zM71.2 363.1h1.1v1.1h-1.1zM65.3 354.6h1.1v1.1h-1.1zM79.8 355.6h1.1v1.1h-1.1zM96.3 346.4h1.1v1.1h-1.1zM80.6 365.1h1.1v1.1h-1.1zM75.2 356.5h1.1v1.1h-1.1zM106.1 347.6h1.1v1.1h-1.1zM101.2 347.2h1.1v1.1h-1.1zM83.6 349.4h1.1v1.1h-1.1zM93.2 354.7h1.1v1.1h-1.1zM65.6 361.6h1.1v1.1h-1.1zM114.7 343.8h1.1v1.1h-1.1zM106.7 344.0h1.1v1.1h-1.1zM114.4 350.6h1.1v1.1h-1.1zM97.5 347.2h1.1v1.1h-1.1zM83.1 356.7h1.1v1.1h-1.1zM87.5 359.9h1.1v1.1h-1.1zM61.3 354.9h1.1v1.1h-1.1zM84.9 352.3h1.1v1.1h-1.1zM88.5 350.3h1.1v1.1h-1.1zM61.1 355.7h1.1v1.1h-1.1zM81.4 348.7h1.1v1.1h-1.1zM91.7 366.2h1.1v1.1h-1.1zM74.7 352.1h1.1v1.1h-1.1zM95.3 345.0h1.1v1.1h-1.1zM89.3 350.5h1.1v1.1h-1.1zM75.1 350.3h1.1v1.1h-1.1zM66.3 369.2h1.1v1.1h-1.1zM82.9 352.5h1.1v1.1h-1.1zM86.3 356.5h1.1v1.1h-1.1zM107.3 343.8h1.1v1.1h-1.1zM90.4 346.4h1.1v1.1h-1.1zM88.8 347.3h1.1v1.1h-1.1zM74.1 354.4h1.1v1.1h-1.1zM90.1 350.4h1.1v1.1h-1.1zM89.7 353.5h1.1v1.1h-1.1zM79.9 357.4h1.1v1.1h-1.1zM77.7 352.2h1.1v1.1h-1.1zM60.8 359.8h1.1v1.1h-1.1zM82.6 364.6h1.1v1.1h-1.1zM96.8 361.0h1.1v1.1h-1.1zM80.3 349.5h1.1v1.1h-1.1zM109.2 349.8h1.1v1.1h-1.1zM90.8 351.1h1.1v1.1h-1.1zM59.9 359.1h1.1v1.1h-1.1zM90.5 346.1h1.1v1.1h-1.1zM80.7 349.7h1.1v1.1h-1.1zM87.7 357.2h1.1v1.1h-1.1zM73.9 357.4h1.1v1.1h-1.1zM87.1 352.6h1.1v1.1h-1.1zM70.1 357.0h1.1v1.1h-1.1zM82.2 349.2h1.1v1.1h-1.1zM65.8 357.9h1.1v1.1h-1.1zM79.4 362.7h1.1v1.1h-1.1zM77.8 352.9h1.1v1.1h-1.1zM71.0 354.9h1.1v1.1h-1.1zM62.7 354.1h1.1v1.1h-1.1zM85.5 365.8h1.1v1.1h-1.1zM72.8 351.7h1.1v1.1h-1.1zM83.4 362.6h1.1v1.1h-1.1zM97.8 346.8h1.1v1.1h-1.1zM70.4 358.7h1.1v1.1h-1.1zM74.7 357.8h1.1v1.1h-1.1zM84.9 349.7h1.1v1.1h-1.1zM83.7 351.8h1.1v1.1h-1.1zM95.2 364.4h1.1v1.1h-1.1zM97.1 358.5h1.1v1.1h-1.1zM80.2 367.5h1.1v1.1h-1.1zM85.2 352.0h1.1v1.1h-1.1zM102.7 350.6h1.1v1.1h-1.1zM94.3 354.0h1.1v1.1h-1.1zM104.0 361.5h1.1v1.1h-1.1zM101.2 345.9h1.1v1.1h-1.1zM72.6 351.7h1.1v1.1h-1.1zM105.8 344.2h1.1v1.1h-1.1zM91.6 362.5h1.1v1.1h-1.1zM86.4 349.5h1.1v1.1h-1.1zM72.3 356.6h1.1v1.1h-1.1zM81.4 348.5h1.1v1.1h-1.1zM95.4 345.1h1.1v1.1h-1.1zM84.2 349.5h1.1v1.1h-1.1zM110.7 344.1h1.1v1.1h-1.1zM96.3 345.2h1.1v1.1h-1.1zM77.4 364.1h1.1v1.1h-1.1zM73.9 363.9h1.1v1.1h-1.1zM97.6 348.6h1.1v1.1h-1.1zM70.9 361.8h1.1v1.1h-1.1zM72.8 364.1h1.1v1.1h-1.1zM66.7 352.8h1.1v1.1h-1.1zM89.9 350.3h1.1v1.1h-1.1zM83.9 360.5h1.1v1.1h-1.1zM94.5 348.1h1.1v1.1h-1.1zM101.5 347.8h1.1v1.1h-1.1zM82.9 352.0h1.1v1.1h-1.1zM86.9 356.9h1.1v1.1h-1.1zM83.7 352.7h1.1v1.1h-1.1zM114.6 342.4h1.1v1.1h-1.1zM75.4 355.6h1.1v1.1h-1.1zM72.3 351.9h1.1v1.1h-1.1zM72.8 351.6h1.1v1.1h-1.1zM90.2 354.0h1.1v1.1h-1.1zM75.3 363.3h1.1v1.1h-1.1zM98.5 346.8h1.1v1.1h-1.1zM78.2 358.9h1.1v1.1h-1.1zM92.0 347.5h1.1v1.1h-1.1zM89.1 356.9h1.1v1.1h-1.1zM66.0 359.8h1.1v1.1h-1.1zM103.4 353.8h1.1v1.1h-1.1zM103.0 351.6h1.1v1.1h-1.1zM70.9 353.2h1.1v1.1h-1.1zM64.3 356.6h1.1v1.1h-1.1zM89.3 356.2h1.1v1.1h-1.1zM71.5 353.8h1.1v1.1h-1.1zM71.4 356.3h1.1v1.1h-1.1zM82.7 361.8h1.1v1.1h-1.1zM78.7 349.4h1.1v1.1h-1.1zM90.7 348.9h1.1v1.1h-1.1zM70.7 357.5h1.1v1.1h-1.1zM97.5 351.6h1.1v1.1h-1.1z" fill="#23742a"/>
<path d="M62.0 318.5 L64.0 316.8 L70.0 316.2 L80.0 317.6 L95.0 318.7 L110.0 319.4 L120.0 320.2 L128.0 322.0 L136.0 324.4 L146.0 326.3 L153.8 327.8 L150.0 329.6 L143.0 331.2 L138.8 333.0 L132.0 335.5 L126.0 337.5 L118.0 339.2 L111.0 340.0 L100.0 340.3 L92.0 341.2 L86.0 342.5 L80.0 344.5 L74.6 347.0 L69.0 350.0 L66.0 351.8 L62.0 353.2Z" fill="#6d6d6f"/>
<path d="M50.0 323.3h1.1v1.1h-1.1zM51.0 337.1h1.1v1.1h-1.1zM58.9 333.8h1.1v1.1h-1.1zM55.6 325.1h1.1v1.1h-1.1zM57.4 339.5h1.1v1.1h-1.1zM59.5 339.7h1.1v1.1h-1.1zM44.1 338.1h1.1v1.1h-1.1zM56.7 327.0h1.1v1.1h-1.1zM61.1 332.5h1.1v1.1h-1.1zM61.8 335.3h1.1v1.1h-1.1zM61.7 332.1h1.1v1.1h-1.1zM57.0 334.6h1.1v1.1h-1.1zM57.9 327.5h1.1v1.1h-1.1zM53.1 331.8h1.1v1.1h-1.1zM60.9 338.9h1.1v1.1h-1.1zM58.1 342.0h1.1v1.1h-1.1zM55.6 328.7h1.1v1.1h-1.1zM56.4 331.1h1.1v1.1h-1.1zM54.5 324.4h1.1v1.1h-1.1zM60.7 335.1h1.1v1.1h-1.1zM49.4 322.5h1.1v1.1h-1.1zM50.0 336.8h1.1v1.1h-1.1zM52.3 329.7h1.1v1.1h-1.1zM54.9 321.4h1.1v1.1h-1.1zM55.8 331.4h1.1v1.1h-1.1zM54.5 340.7h1.1v1.1h-1.1zM60.8 329.3h1.1v1.1h-1.1zM56.3 327.2h1.1v1.1h-1.1zM55.8 319.4h1.1v1.1h-1.1zM60.8 331.6h1.1v1.1h-1.1zM55.0 336.3h1.1v1.1h-1.1zM58.4 324.9h1.1v1.1h-1.1zM53.7 322.3h1.1v1.1h-1.1zM56.5 341.7h1.1v1.1h-1.1zM56.6 328.9h1.1v1.1h-1.1zM60.5 329.6h1.1v1.1h-1.1zM52.8 330.0h1.1v1.1h-1.1zM61.6 335.4h1.1v1.1h-1.1zM61.3 352.3h1.1v1.1h-1.1zM53.5 318.7h1.1v1.1h-1.1zM55.6 320.6h1.1v1.1h-1.1zM54.9 336.4h1.1v1.1h-1.1zM61.0 331.4h1.1v1.1h-1.1zM53.0 331.1h1.1v1.1h-1.1zM59.1 338.1h1.1v1.1h-1.1zM55.5 323.8h1.1v1.1h-1.1zM59.7 333.9h1.1v1.1h-1.1zM58.5 330.6h1.1v1.1h-1.1zM55.8 327.4h1.1v1.1h-1.1zM61.5 330.9h1.1v1.1h-1.1zM59.2 332.0h1.1v1.1h-1.1zM61.1 334.8h1.1v1.1h-1.1zM59.7 334.3h1.1v1.1h-1.1zM58.8 325.3h1.1v1.1h-1.1zM55.6 329.1h1.1v1.1h-1.1zM55.0 328.8h1.1v1.1h-1.1zM61.5 351.1h1.1v1.1h-1.1zM54.9 320.4h1.1v1.1h-1.1zM60.8 338.5h1.1v1.1h-1.1zM54.5 332.7h1.1v1.1h-1.1zM53.3 350.4h1.1v1.1h-1.1zM54.8 335.1h1.1v1.1h-1.1zM57.7 328.4h1.1v1.1h-1.1zM60.7 326.5h1.1v1.1h-1.1zM61.7 335.4h1.1v1.1h-1.1zM59.2 337.5h1.1v1.1h-1.1zM60.7 323.7h1.1v1.1h-1.1zM56.9 344.5h1.1v1.1h-1.1zM56.8 334.9h1.1v1.1h-1.1zM51.1 328.9h1.1v1.1h-1.1zM61.0 334.8h1.1v1.1h-1.1zM56.5 316.1h1.1v1.1h-1.1zM48.4 342.5h1.1v1.1h-1.1zM55.2 329.6h1.1v1.1h-1.1zM51.8 334.0h1.1v1.1h-1.1zM49.3 339.2h1.1v1.1h-1.1zM54.7 331.8h1.1v1.1h-1.1zM58.6 323.1h1.1v1.1h-1.1zM53.0 343.4h1.1v1.1h-1.1zM50.8 333.1h1.1v1.1h-1.1zM58.5 335.7h1.1v1.1h-1.1zM52.6 332.1h1.1v1.1h-1.1zM54.0 326.2h1.1v1.1h-1.1zM58.9 329.3h1.1v1.1h-1.1zM61.8 325.8h1.1v1.1h-1.1zM51.9 326.1h1.1v1.1h-1.1zM47.1 323.8h1.1v1.1h-1.1zM58.5 324.0h1.1v1.1h-1.1zM48.6 332.3h1.1v1.1h-1.1zM52.1 330.1h1.1v1.1h-1.1zM51.6 337.7h1.1v1.1h-1.1zM56.4 338.0h1.1v1.1h-1.1zM59.5 331.3h1.1v1.1h-1.1zM60.8 335.9h1.1v1.1h-1.1zM57.4 324.6h1.1v1.1h-1.1zM60.3 339.9h1.1v1.1h-1.1zM57.0 332.4h1.1v1.1h-1.1zM52.4 319.1h1.1v1.1h-1.1zM53.2 331.3h1.1v1.1h-1.1zM60.7 339.9h1.1v1.1h-1.1zM55.8 325.1h1.1v1.1h-1.1zM58.2 337.4h1.1v1.1h-1.1zM51.9 330.8h1.1v1.1h-1.1zM56.4 325.7h1.1v1.1h-1.1zM52.6 333.7h1.1v1.1h-1.1zM61.1 322.3h1.1v1.1h-1.1zM59.0 332.2h1.1v1.1h-1.1zM56.3 332.0h1.1v1.1h-1.1zM52.7 333.9h1.1v1.1h-1.1zM60.8 326.3h1.1v1.1h-1.1zM60.1 329.5h1.1v1.1h-1.1zM61.6 332.3h1.1v1.1h-1.1zM51.2 330.0h1.1v1.1h-1.1zM61.1 336.6h1.1v1.1h-1.1zM58.6 337.0h1.1v1.1h-1.1zM60.0 319.3h1.1v1.1h-1.1zM51.6 335.6h1.1v1.1h-1.1zM60.3 321.5h1.1v1.1h-1.1zM57.3 336.6h1.1v1.1h-1.1zM56.1 348.1h1.1v1.1h-1.1zM49.6 324.0h1.1v1.1h-1.1zM59.9 334.8h1.1v1.1h-1.1zM57.8 327.7h1.1v1.1h-1.1zM60.6 332.8h1.1v1.1h-1.1zM60.5 337.6h1.1v1.1h-1.1zM54.7 327.9h1.1v1.1h-1.1zM58.0 330.0h1.1v1.1h-1.1zM59.9 330.0h1.1v1.1h-1.1zM50.3 319.5h1.1v1.1h-1.1zM58.9 338.2h1.1v1.1h-1.1zM44.2 335.9h1.1v1.1h-1.1zM61.2 325.7h1.1v1.1h-1.1zM48.9 333.6h1.1v1.1h-1.1zM53.2 331.3h1.1v1.1h-1.1zM59.5 317.5h1.1v1.1h-1.1zM61.0 320.2h1.1v1.1h-1.1zM53.3 335.9h1.1v1.1h-1.1zM55.0 341.7h1.1v1.1h-1.1zM54.1 341.9h1.1v1.1h-1.1zM56.1 334.6h1.1v1.1h-1.1zM51.1 327.3h1.1v1.1h-1.1zM58.9 337.3h1.1v1.1h-1.1zM54.3 331.8h1.1v1.1h-1.1zM47.5 323.6h1.1v1.1h-1.1zM53.3 329.1h1.1v1.1h-1.1zM58.8 325.2h1.1v1.1h-1.1zM60.0 328.7h1.1v1.1h-1.1zM53.0 327.5h1.1v1.1h-1.1zM61.6 341.7h1.1v1.1h-1.1zM55.8 330.6h1.1v1.1h-1.1zM60.3 316.5h1.1v1.1h-1.1zM51.2 346.4h1.1v1.1h-1.1zM49.9 338.3h1.1v1.1h-1.1zM56.7 338.8h1.1v1.1h-1.1zM49.1 320.8h1.1v1.1h-1.1zM52.7 329.3h1.1v1.1h-1.1zM61.0 328.4h1.1v1.1h-1.1zM60.9 328.6h1.1v1.1h-1.1zM57.0 336.1h1.1v1.1h-1.1zM57.3 333.7h1.1v1.1h-1.1zM55.8 349.2h1.1v1.1h-1.1zM58.6 342.2h1.1v1.1h-1.1zM60.0 332.1h1.1v1.1h-1.1zM57.1 333.2h1.1v1.1h-1.1zM57.3 332.8h1.1v1.1h-1.1zM58.9 323.8h1.1v1.1h-1.1zM56.5 342.5h1.1v1.1h-1.1zM60.7 329.9h1.1v1.1h-1.1zM54.9 322.7h1.1v1.1h-1.1zM56.4 326.7h1.1v1.1h-1.1zM56.3 344.5h1.1v1.1h-1.1zM61.6 323.8h1.1v1.1h-1.1zM60.2 338.8h1.1v1.1h-1.1zM61.7 333.6h1.1v1.1h-1.1zM58.1 318.8h1.1v1.1h-1.1zM57.1 336.2h1.1v1.1h-1.1zM59.0 333.0h1.1v1.1h-1.1zM61.0 318.4h1.1v1.1h-1.1zM60.7 343.8h1.1v1.1h-1.1zM58.8 342.7h1.1v1.1h-1.1zM60.9 327.4h1.1v1.1h-1.1zM59.0 315.1h1.1v1.1h-1.1zM58.7 330.2h1.1v1.1h-1.1zM58.1 342.1h1.1v1.1h-1.1zM60.5 331.2h1.1v1.1h-1.1zM52.7 332.7h1.1v1.1h-1.1zM61.7 317.9h1.1v1.1h-1.1zM58.3 325.6h1.1v1.1h-1.1zM59.2 335.9h1.1v1.1h-1.1zM57.9 336.3h1.1v1.1h-1.1zM51.2 334.0h1.1v1.1h-1.1zM49.9 336.0h1.1v1.1h-1.1zM58.3 323.1h1.1v1.1h-1.1zM46.9 338.8h1.1v1.1h-1.1zM54.0 338.5h1.1v1.1h-1.1zM59.7 330.1h1.1v1.1h-1.1zM51.8 336.5h1.1v1.1h-1.1zM58.1 326.4h1.1v1.1h-1.1zM61.6 341.2h1.1v1.1h-1.1zM60.7 348.6h1.1v1.1h-1.1zM54.8 326.4h1.1v1.1h-1.1zM52.5 323.5h1.1v1.1h-1.1zM54.8 330.7h1.1v1.1h-1.1zM61.2 331.8h1.1v1.1h-1.1zM52.9 328.8h1.1v1.1h-1.1zM57.4 331.5h1.1v1.1h-1.1zM52.8 327.5h1.1v1.1h-1.1zM47.5 314.6h1.1v1.1h-1.1zM57.7 337.7h1.1v1.1h-1.1zM60.5 341.3h1.1v1.1h-1.1zM57.5 339.0h1.1v1.1h-1.1zM59.4 345.6h1.1v1.1h-1.1zM60.2 323.0h1.1v1.1h-1.1zM54.5 328.3h1.1v1.1h-1.1zM60.0 332.0h1.1v1.1h-1.1zM52.0 335.8h1.1v1.1h-1.1zM53.8 328.1h1.1v1.1h-1.1zM56.1 336.6h1.1v1.1h-1.1zM47.1 330.2h1.1v1.1h-1.1zM59.5 326.4h1.1v1.1h-1.1zM55.7 328.4h1.1v1.1h-1.1zM55.4 330.8h1.1v1.1h-1.1zM60.2 322.9h1.1v1.1h-1.1zM49.5 342.2h1.1v1.1h-1.1zM55.9 335.6h1.1v1.1h-1.1zM52.4 337.8h1.1v1.1h-1.1zM57.1 325.9h1.1v1.1h-1.1zM54.4 340.5h1.1v1.1h-1.1zM56.3 329.8h1.1v1.1h-1.1zM57.2 347.5h1.1v1.1h-1.1zM57.7 325.9h1.1v1.1h-1.1zM61.0 332.7h1.1v1.1h-1.1zM57.3 343.0h1.1v1.1h-1.1zM59.6 332.4h1.1v1.1h-1.1zM61.9 329.1h1.1v1.1h-1.1zM60.2 319.4h1.1v1.1h-1.1zM58.1 323.5h1.1v1.1h-1.1zM59.0 339.1h1.1v1.1h-1.1zM62.0 338.4h1.1v1.1h-1.1zM54.1 337.1h1.1v1.1h-1.1zM58.2 330.1h1.1v1.1h-1.1zM59.3 320.7h1.1v1.1h-1.1zM54.2 337.5h1.1v1.1h-1.1zM46.7 342.9h1.1v1.1h-1.1zM59.8 326.8h1.1v1.1h-1.1zM59.1 333.6h1.1v1.1h-1.1zM61.7 334.4h1.1v1.1h-1.1zM53.8 330.8h1.1v1.1h-1.1zM59.0 335.1h1.1v1.1h-1.1zM51.9 332.0h1.1v1.1h-1.1zM61.5 323.8h1.1v1.1h-1.1zM55.2 334.2h1.1v1.1h-1.1zM49.7 319.2h1.1v1.1h-1.1zM52.4 338.1h1.1v1.1h-1.1zM53.9 339.7h1.1v1.1h-1.1zM49.1 341.0h1.1v1.1h-1.1zM49.6 332.7h1.1v1.1h-1.1zM58.4 327.2h1.1v1.1h-1.1zM50.9 330.9h1.1v1.1h-1.1zM52.8 345.3h1.1v1.1h-1.1zM59.3 331.9h1.1v1.1h-1.1zM57.4 330.4h1.1v1.1h-1.1zM55.6 334.8h1.1v1.1h-1.1zM59.7 335.5h1.1v1.1h-1.1zM60.0 334.9h1.1v1.1h-1.1zM51.2 330.4h1.1v1.1h-1.1zM59.9 326.8h1.1v1.1h-1.1zM55.7 323.0h1.1v1.1h-1.1zM57.5 333.3h1.1v1.1h-1.1zM57.0 324.3h1.1v1.1h-1.1zM59.0 330.2h1.1v1.1h-1.1zM59.8 336.8h1.1v1.1h-1.1zM50.2 326.3h1.1v1.1h-1.1zM56.4 338.4h1.1v1.1h-1.1zM57.4 331.3h1.1v1.1h-1.1zM54.9 336.0h1.1v1.1h-1.1zM55.2 332.5h1.1v1.1h-1.1zM58.5 328.3h1.1v1.1h-1.1zM55.6 331.2h1.1v1.1h-1.1zM57.3 328.9h1.1v1.1h-1.1zM58.1 347.0h1.1v1.1h-1.1zM54.1 328.6h1.1v1.1h-1.1zM47.4 337.6h1.1v1.1h-1.1zM60.3 320.8h1.1v1.1h-1.1zM57.6 344.3h1.1v1.1h-1.1zM59.0 313.6h1.1v1.1h-1.1zM54.5 330.7h1.1v1.1h-1.1zM62.0 324.4h1.1v1.1h-1.1zM52.8 324.2h1.1v1.1h-1.1zM58.4 324.1h1.1v1.1h-1.1zM59.1 335.8h1.1v1.1h-1.1zM59.4 338.2h1.1v1.1h-1.1zM54.4 329.6h1.1v1.1h-1.1zM59.6 333.4h1.1v1.1h-1.1zM59.3 336.2h1.1v1.1h-1.1zM52.6 329.6h1.1v1.1h-1.1zM57.0 330.4h1.1v1.1h-1.1zM56.4 344.7h1.1v1.1h-1.1zM60.2 339.3h1.1v1.1h-1.1zM61.9 339.0h1.1v1.1h-1.1zM59.1 325.0h1.1v1.1h-1.1zM56.3 321.7h1.1v1.1h-1.1zM52.7 329.6h1.1v1.1h-1.1zM61.5 321.1h1.1v1.1h-1.1zM53.7 337.1h1.1v1.1h-1.1zM55.0 331.7h1.1v1.1h-1.1zM57.9 324.4h1.1v1.1h-1.1zM59.9 330.1h1.1v1.1h-1.1zM58.9 334.2h1.1v1.1h-1.1zM53.6 333.7h1.1v1.1h-1.1zM59.7 342.8h1.1v1.1h-1.1zM60.8 335.7h1.1v1.1h-1.1zM49.0 338.3h1.1v1.1h-1.1zM48.3 339.1h1.1v1.1h-1.1zM57.4 333.3h1.1v1.1h-1.1zM53.9 324.7h1.1v1.1h-1.1zM55.9 326.0h1.1v1.1h-1.1zM52.9 328.3h1.1v1.1h-1.1zM59.5 332.6h1.1v1.1h-1.1zM58.7 340.7h1.1v1.1h-1.1z" fill="#6d6d6f"/>
<path d="M147.0 326.4h1.1v1.1h-1.1zM141.0 325.3h1.1v1.1h-1.1zM77.0 346.4h1.1v1.1h-1.1zM132.1 335.1h1.1v1.1h-1.1zM140.4 333.0h1.1v1.1h-1.1zM148.8 325.5h1.1v1.1h-1.1zM152.1 329.4h1.1v1.1h-1.1zM148.3 326.3h1.1v1.1h-1.1zM120.4 317.9h1.1v1.1h-1.1zM123.6 338.5h1.1v1.1h-1.1zM86.2 318.6h1.1v1.1h-1.1zM101.0 340.5h1.1v1.1h-1.1zM61.7 316.5h1.1v1.1h-1.1zM121.7 340.3h1.1v1.1h-1.1zM69.9 349.4h1.1v1.1h-1.1zM113.9 339.3h1.1v1.1h-1.1zM111.9 339.3h1.1v1.1h-1.1zM74.4 347.8h1.1v1.1h-1.1zM142.6 325.0h1.1v1.1h-1.1zM149.6 330.4h1.1v1.1h-1.1zM141.3 325.1h1.1v1.1h-1.1zM143.7 331.2h1.1v1.1h-1.1zM116.1 341.1h1.1v1.1h-1.1zM151.3 326.4h1.1v1.1h-1.1zM142.9 330.2h1.1v1.1h-1.1zM132.9 322.0h1.1v1.1h-1.1zM65.6 351.8h1.1v1.1h-1.1zM150.3 330.4h1.1v1.1h-1.1zM78.3 347.3h1.1v1.1h-1.1zM102.1 340.2h1.1v1.1h-1.1zM140.6 333.1h1.1v1.1h-1.1zM133.3 334.6h1.1v1.1h-1.1zM86.4 316.6h1.1v1.1h-1.1zM112.3 340.1h1.1v1.1h-1.1zM126.7 320.0h1.1v1.1h-1.1zM125.1 321.8h1.1v1.1h-1.1zM67.8 316.0h1.1v1.1h-1.1zM97.4 342.0h1.1v1.1h-1.1zM112.1 340.3h1.1v1.1h-1.1zM103.6 340.5h1.1v1.1h-1.1zM67.4 351.1h1.1v1.1h-1.1zM126.8 337.8h1.1v1.1h-1.1zM126.4 337.9h1.1v1.1h-1.1zM68.1 349.9h1.1v1.1h-1.1zM153.1 326.9h1.1v1.1h-1.1zM125.0 338.0h1.1v1.1h-1.1zM131.0 322.4h1.1v1.1h-1.1zM153.2 326.7h1.1v1.1h-1.1zM70.5 349.8h1.1v1.1h-1.1zM89.5 342.5h1.1v1.1h-1.1zM95.6 342.0h1.1v1.1h-1.1zM105.7 342.1h1.1v1.1h-1.1zM70.3 348.8h1.1v1.1h-1.1zM66.9 316.8h1.1v1.1h-1.1zM107.9 317.8h1.1v1.1h-1.1zM132.6 336.8h1.1v1.1h-1.1zM117.6 317.9h1.1v1.1h-1.1zM129.7 337.8h1.1v1.1h-1.1zM149.7 325.9h1.1v1.1h-1.1zM69.3 351.2h1.1v1.1h-1.1zM135.6 334.7h1.1v1.1h-1.1zM118.9 341.4h1.1v1.1h-1.1zM130.1 321.5h1.1v1.1h-1.1zM82.8 344.6h1.1v1.1h-1.1zM117.0 339.7h1.1v1.1h-1.1zM89.4 342.2h1.1v1.1h-1.1zM96.1 341.3h1.1v1.1h-1.1zM144.6 326.4h1.1v1.1h-1.1zM145.5 326.3h1.1v1.1h-1.1zM82.4 344.8h1.1v1.1h-1.1zM91.5 342.3h1.1v1.1h-1.1zM109.5 341.3h1.1v1.1h-1.1zM145.3 329.5h1.1v1.1h-1.1zM106.6 317.9h1.1v1.1h-1.1zM61.2 315.8h1.1v1.1h-1.1zM121.0 339.1h1.1v1.1h-1.1zM123.2 339.4h1.1v1.1h-1.1zM62.7 353.5h1.1v1.1h-1.1zM68.7 351.0h1.1v1.1h-1.1zM126.9 337.7h1.1v1.1h-1.1zM93.4 342.6h1.1v1.1h-1.1zM134.4 323.0h1.1v1.1h-1.1zM141.3 325.7h1.1v1.1h-1.1zM77.0 345.6h1.1v1.1h-1.1zM143.4 331.1h1.1v1.1h-1.1zM65.0 352.4h1.1v1.1h-1.1zM93.9 315.0h1.1v1.1h-1.1zM69.6 350.8h1.1v1.1h-1.1zM62.7 317.0h1.1v1.1h-1.1zM110.8 341.8h1.1v1.1h-1.1zM66.4 316.8h1.1v1.1h-1.1zM94.9 316.3h1.1v1.1h-1.1zM90.8 341.1h1.1v1.1h-1.1zM99.5 319.5h1.1v1.1h-1.1zM151.4 329.1h1.1v1.1h-1.1zM77.3 347.5h1.1v1.1h-1.1zM150.8 327.2h1.1v1.1h-1.1zM67.9 315.5h1.1v1.1h-1.1zM108.7 340.7h1.1v1.1h-1.1zM149.9 326.4h1.1v1.1h-1.1zM73.2 347.8h1.1v1.1h-1.1zM128.6 336.4h1.1v1.1h-1.1zM95.3 344.8h1.1v1.1h-1.1zM143.0 330.6h1.1v1.1h-1.1zM80.6 344.5h1.1v1.1h-1.1zM114.7 319.1h1.1v1.1h-1.1zM150.8 329.1h1.1v1.1h-1.1zM123.8 320.0h1.1v1.1h-1.1zM65.5 315.7h1.1v1.1h-1.1zM140.4 325.6h1.1v1.1h-1.1zM133.6 336.4h1.1v1.1h-1.1zM92.2 341.7h1.1v1.1h-1.1zM154.7 328.4h1.1v1.1h-1.1zM118.7 320.2h1.1v1.1h-1.1zM148.5 329.9h1.1v1.1h-1.1zM72.6 316.5h1.1v1.1h-1.1zM65.8 352.4h1.1v1.1h-1.1zM118.0 339.7h1.1v1.1h-1.1zM137.0 335.0h1.1v1.1h-1.1zM118.6 318.5h1.1v1.1h-1.1zM74.0 316.9h1.1v1.1h-1.1zM65.9 353.2h1.1v1.1h-1.1zM98.1 343.1h1.1v1.1h-1.1zM133.9 335.9h1.1v1.1h-1.1zM121.3 320.4h1.1v1.1h-1.1zM80.8 317.7h1.1v1.1h-1.1zM68.7 316.4h1.1v1.1h-1.1zM121.4 342.0h1.1v1.1h-1.1zM145.4 330.1h1.1v1.1h-1.1zM85.8 343.7h1.1v1.1h-1.1zM67.5 352.2h1.1v1.1h-1.1zM85.3 343.0h1.1v1.1h-1.1zM128.2 318.6h1.1v1.1h-1.1zM87.2 343.3h1.1v1.1h-1.1zM105.5 318.9h1.1v1.1h-1.1zM68.1 350.9h1.1v1.1h-1.1zM64.1 353.6h1.1v1.1h-1.1zM131.5 336.8h1.1v1.1h-1.1zM68.4 316.3h1.1v1.1h-1.1zM101.4 314.8h1.1v1.1h-1.1zM125.5 337.9h1.1v1.1h-1.1zM78.3 316.5h1.1v1.1h-1.1zM128.5 337.1h1.1v1.1h-1.1zM124.8 339.3h1.1v1.1h-1.1zM65.9 352.6h1.1v1.1h-1.1zM62.4 354.2h1.1v1.1h-1.1zM138.4 324.5h1.1v1.1h-1.1zM125.6 320.2h1.1v1.1h-1.1zM97.0 341.9h1.1v1.1h-1.1zM147.6 325.2h1.1v1.1h-1.1zM79.7 344.7h1.1v1.1h-1.1zM80.2 345.0h1.1v1.1h-1.1zM106.1 342.3h1.1v1.1h-1.1zM94.5 316.7h1.1v1.1h-1.1zM113.4 342.1h1.1v1.1h-1.1zM77.6 316.0h1.1v1.1h-1.1zM65.0 353.8h1.1v1.1h-1.1zM62.7 352.6h1.1v1.1h-1.1zM101.3 318.9h1.1v1.1h-1.1zM113.8 319.6h1.1v1.1h-1.1zM128.0 337.9h1.1v1.1h-1.1zM64.9 353.2h1.1v1.1h-1.1zM66.3 316.0h1.1v1.1h-1.1zM63.0 317.4h1.1v1.1h-1.1zM141.5 324.6h1.1v1.1h-1.1zM152.5 327.6h1.1v1.1h-1.1zM136.5 332.7h1.1v1.1h-1.1zM119.7 338.6h1.1v1.1h-1.1zM92.9 315.0h1.1v1.1h-1.1zM95.9 342.4h1.1v1.1h-1.1zM68.5 316.7h1.1v1.1h-1.1zM95.2 316.5h1.1v1.1h-1.1zM90.8 346.3h1.1v1.1h-1.1zM105.5 341.0h1.1v1.1h-1.1zM61.2 354.8h1.1v1.1h-1.1zM79.9 316.2h1.1v1.1h-1.1zM146.6 329.8h1.1v1.1h-1.1zM145.7 331.5h1.1v1.1h-1.1zM80.8 346.0h1.1v1.1h-1.1zM137.9 323.7h1.1v1.1h-1.1zM113.9 318.0h1.1v1.1h-1.1zM130.0 337.4h1.1v1.1h-1.1zM125.4 339.1h1.1v1.1h-1.1zM124.2 320.3h1.1v1.1h-1.1zM75.0 347.5h1.1v1.1h-1.1zM151.2 330.0h1.1v1.1h-1.1zM81.3 344.8h1.1v1.1h-1.1zM75.6 347.0h1.1v1.1h-1.1zM103.4 318.2h1.1v1.1h-1.1zM100.7 341.2h1.1v1.1h-1.1zM115.1 318.4h1.1v1.1h-1.1zM80.3 344.9h1.1v1.1h-1.1zM131.2 336.4h1.1v1.1h-1.1zM142.2 330.8h1.1v1.1h-1.1zM65.8 352.9h1.1v1.1h-1.1zM119.5 340.4h1.1v1.1h-1.1zM80.6 345.0h1.1v1.1h-1.1zM134.3 335.3h1.1v1.1h-1.1zM78.8 344.7h1.1v1.1h-1.1zM85.7 317.2h1.1v1.1h-1.1zM82.9 344.4h1.1v1.1h-1.1zM89.9 342.0h1.1v1.1h-1.1zM68.0 316.4h1.1v1.1h-1.1zM124.8 320.2h1.1v1.1h-1.1zM129.9 337.2h1.1v1.1h-1.1zM146.3 331.1h1.1v1.1h-1.1zM130.0 321.6h1.1v1.1h-1.1zM121.5 317.9h1.1v1.1h-1.1zM143.8 324.7h1.1v1.1h-1.1zM127.0 337.3h1.1v1.1h-1.1zM142.7 331.3h1.1v1.1h-1.1zM129.2 321.8h1.1v1.1h-1.1zM86.3 343.2h1.1v1.1h-1.1zM78.7 317.2h1.1v1.1h-1.1zM98.0 342.7h1.1v1.1h-1.1zM82.0 344.7h1.1v1.1h-1.1zM156.8 327.6h1.1v1.1h-1.1zM113.2 318.5h1.1v1.1h-1.1zM124.2 338.3h1.1v1.1h-1.1zM99.7 341.0h1.1v1.1h-1.1zM80.0 344.4h1.1v1.1h-1.1zM150.9 329.8h1.1v1.1h-1.1zM60.5 315.5h1.1v1.1h-1.1zM89.2 343.2h1.1v1.1h-1.1zM62.8 316.3h1.1v1.1h-1.1zM103.8 318.8h1.1v1.1h-1.1zM128.7 322.6h1.1v1.1h-1.1zM82.7 317.4h1.1v1.1h-1.1zM112.8 340.8h1.1v1.1h-1.1zM61.2 316.7h1.1v1.1h-1.1zM139.9 333.5h1.1v1.1h-1.1zM131.8 336.4h1.1v1.1h-1.1zM87.8 342.8h1.1v1.1h-1.1zM153.3 328.3h1.1v1.1h-1.1zM151.3 329.5h1.1v1.1h-1.1zM68.4 350.3h1.1v1.1h-1.1zM86.7 341.9h1.1v1.1h-1.1zM146.3 330.4h1.1v1.1h-1.1zM145.5 325.8h1.1v1.1h-1.1zM107.8 342.1h1.1v1.1h-1.1zM91.1 316.7h1.1v1.1h-1.1zM113.1 340.6h1.1v1.1h-1.1zM63.8 314.8h1.1v1.1h-1.1zM84.3 317.9h1.1v1.1h-1.1zM80.6 317.0h1.1v1.1h-1.1zM121.9 318.1h1.1v1.1h-1.1zM146.7 326.0h1.1v1.1h-1.1zM116.3 340.6h1.1v1.1h-1.1zM139.7 334.2h1.1v1.1h-1.1zM77.4 316.8h1.1v1.1h-1.1zM152.0 327.4h1.1v1.1h-1.1zM147.4 329.7h1.1v1.1h-1.1zM132.9 323.2h1.1v1.1h-1.1zM125.1 320.3h1.1v1.1h-1.1zM62.7 317.3h1.1v1.1h-1.1zM66.0 316.9h1.1v1.1h-1.1zM152.1 326.3h1.1v1.1h-1.1zM136.9 334.9h1.1v1.1h-1.1zM108.4 319.1h1.1v1.1h-1.1zM86.6 343.8h1.1v1.1h-1.1zM132.7 323.6h1.1v1.1h-1.1zM140.1 331.4h1.1v1.1h-1.1zM74.3 315.9h1.1v1.1h-1.1zM121.1 319.4h1.1v1.1h-1.1zM81.5 346.1h1.1v1.1h-1.1zM128.9 320.8h1.1v1.1h-1.1zM117.0 320.3h1.1v1.1h-1.1zM113.5 339.1h1.1v1.1h-1.1zM151.6 327.0h1.1v1.1h-1.1zM145.5 331.7h1.1v1.1h-1.1zM64.8 352.5h1.1v1.1h-1.1zM95.5 344.4h1.1v1.1h-1.1zM130.6 336.3h1.1v1.1h-1.1zM153.1 326.7h1.1v1.1h-1.1zM137.3 334.7h1.1v1.1h-1.1zM141.1 332.4h1.1v1.1h-1.1zM141.8 332.5h1.1v1.1h-1.1zM152.0 329.1h1.1v1.1h-1.1zM139.6 333.8h1.1v1.1h-1.1zM139.3 323.4h1.1v1.1h-1.1zM138.1 334.1h1.1v1.1h-1.1zM133.8 323.8h1.1v1.1h-1.1zM146.8 326.8h1.1v1.1h-1.1zM64.9 315.9h1.1v1.1h-1.1zM121.3 339.6h1.1v1.1h-1.1zM110.4 341.6h1.1v1.1h-1.1zM149.3 330.2h1.1v1.1h-1.1zM134.2 324.2h1.1v1.1h-1.1zM68.9 315.7h1.1v1.1h-1.1zM118.1 340.1h1.1v1.1h-1.1zM144.9 332.3h1.1v1.1h-1.1zM133.0 322.1h1.1v1.1h-1.1zM65.3 315.2h1.1v1.1h-1.1zM141.5 331.5h1.1v1.1h-1.1zM80.0 346.4h1.1v1.1h-1.1zM89.9 342.6h1.1v1.1h-1.1zM64.6 353.1h1.1v1.1h-1.1zM98.8 342.4h1.1v1.1h-1.1zM62.9 316.2h1.1v1.1h-1.1zM129.7 337.8h1.1v1.1h-1.1zM63.8 352.2h1.1v1.1h-1.1zM61.7 316.1h1.1v1.1h-1.1zM114.6 339.9h1.1v1.1h-1.1zM110.3 319.0h1.1v1.1h-1.1zM90.4 342.7h1.1v1.1h-1.1zM150.8 329.4h1.1v1.1h-1.1zM61.2 354.2h1.1v1.1h-1.1zM73.1 317.0h1.1v1.1h-1.1zM66.9 350.8h1.1v1.1h-1.1zM120.5 320.4h1.1v1.1h-1.1zM131.3 322.5h1.1v1.1h-1.1zM71.0 348.8h1.1v1.1h-1.1zM151.3 328.9h1.1v1.1h-1.1zM113.2 317.4h1.1v1.1h-1.1zM129.6 321.6h1.1v1.1h-1.1zM77.8 346.1h1.1v1.1h-1.1zM66.7 314.3h1.1v1.1h-1.1zM94.9 342.2h1.1v1.1h-1.1zM118.2 319.8h1.1v1.1h-1.1zM81.0 345.1h1.1v1.1h-1.1zM134.4 322.8h1.1v1.1h-1.1zM149.9 330.5h1.1v1.1h-1.1zM140.0 332.0h1.1v1.1h-1.1zM146.1 324.9h1.1v1.1h-1.1zM67.6 351.2h1.1v1.1h-1.1zM86.5 344.2h1.1v1.1h-1.1zM146.7 325.7h1.1v1.1h-1.1zM71.5 348.9h1.1v1.1h-1.1zM148.6 330.0h1.1v1.1h-1.1zM113.3 340.3h1.1v1.1h-1.1zM94.0 342.9h1.1v1.1h-1.1zM120.5 320.0h1.1v1.1h-1.1zM157.1 328.5h1.1v1.1h-1.1zM125.9 337.5h1.1v1.1h-1.1zM118.2 320.1h1.1v1.1h-1.1zM79.8 345.2h1.1v1.1h-1.1zM141.0 332.2h1.1v1.1h-1.1zM145.7 330.0h1.1v1.1h-1.1zM126.7 320.9h1.1v1.1h-1.1zM105.2 340.9h1.1v1.1h-1.1zM106.7 342.0h1.1v1.1h-1.1zM151.9 329.0h1.1v1.1h-1.1zM140.6 332.0h1.1v1.1h-1.1zM100.5 317.1h1.1v1.1h-1.1zM67.5 314.3h1.1v1.1h-1.1zM85.5 343.2h1.1v1.1h-1.1zM101.9 314.7h1.1v1.1h-1.1zM132.9 322.4h1.1v1.1h-1.1zM124.0 338.8h1.1v1.1h-1.1zM135.6 335.3h1.1v1.1h-1.1zM111.4 318.3h1.1v1.1h-1.1zM130.8 337.0h1.1v1.1h-1.1zM83.9 344.4h1.1v1.1h-1.1zM141.7 324.5h1.1v1.1h-1.1zM70.6 349.1h1.1v1.1h-1.1zM70.8 316.2h1.1v1.1h-1.1zM139.6 331.7h1.1v1.1h-1.1zM68.0 350.9h1.1v1.1h-1.1zM156.0 328.5h1.1v1.1h-1.1zM65.1 316.9h1.1v1.1h-1.1zM79.5 346.1h1.1v1.1h-1.1zM131.0 337.4h1.1v1.1h-1.1zM78.7 346.0h1.1v1.1h-1.1zM116.2 342.5h1.1v1.1h-1.1zM117.8 340.8h1.1v1.1h-1.1zM138.0 333.0h1.1v1.1h-1.1zM90.9 342.7h1.1v1.1h-1.1zM69.1 315.7h1.1v1.1h-1.1zM116.4 340.7h1.1v1.1h-1.1zM72.2 315.4h1.1v1.1h-1.1zM81.0 344.5h1.1v1.1h-1.1zM118.5 339.7h1.1v1.1h-1.1zM124.3 318.9h1.1v1.1h-1.1zM140.2 333.4h1.1v1.1h-1.1zM85.4 315.2h1.1v1.1h-1.1zM117.5 340.8h1.1v1.1h-1.1zM140.0 324.5h1.1v1.1h-1.1zM133.7 321.9h1.1v1.1h-1.1zM129.1 322.7h1.1v1.1h-1.1zM78.3 345.5h1.1v1.1h-1.1zM74.2 347.8h1.1v1.1h-1.1zM63.0 353.2h1.1v1.1h-1.1zM126.9 319.2h1.1v1.1h-1.1zM136.2 324.2h1.1v1.1h-1.1zM62.0 317.5h1.1v1.1h-1.1zM68.7 315.8h1.1v1.1h-1.1zM143.4 333.3h1.1v1.1h-1.1zM67.4 315.9h1.1v1.1h-1.1zM82.5 344.9h1.1v1.1h-1.1zM82.9 315.8h1.1v1.1h-1.1zM100.1 316.5h1.1v1.1h-1.1zM77.7 316.1h1.1v1.1h-1.1zM73.8 315.4h1.1v1.1h-1.1zM83.6 344.2h1.1v1.1h-1.1zM62.8 353.3h1.1v1.1h-1.1zM111.6 341.0h1.1v1.1h-1.1zM133.3 335.3h1.1v1.1h-1.1zM112.3 318.4h1.1v1.1h-1.1zM65.2 354.0h1.1v1.1h-1.1zM78.5 343.5h1.1v1.1h-1.1zM138.3 334.3h1.1v1.1h-1.1zM112.7 340.5h1.1v1.1h-1.1zM112.8 319.4h1.1v1.1h-1.1zM72.2 348.1h1.1v1.1h-1.1zM62.4 353.3h1.1v1.1h-1.1zM77.1 346.3h1.1v1.1h-1.1zM133.7 335.2h1.1v1.1h-1.1zM63.7 315.9h1.1v1.1h-1.1zM68.5 350.9h1.1v1.1h-1.1zM140.1 333.1h1.1v1.1h-1.1zM141.6 332.9h1.1v1.1h-1.1zM69.9 351.6h1.1v1.1h-1.1zM90.8 344.0h1.1v1.1h-1.1zM137.4 323.7h1.1v1.1h-1.1zM79.4 316.5h1.1v1.1h-1.1zM106.3 317.5h1.1v1.1h-1.1zM68.0 351.2h1.1v1.1h-1.1zM77.3 347.5h1.1v1.1h-1.1zM63.5 353.0h1.1v1.1h-1.1zM130.7 336.4h1.1v1.1h-1.1zM115.4 317.9h1.1v1.1h-1.1zM122.9 319.7h1.1v1.1h-1.1zM67.9 350.2h1.1v1.1h-1.1zM146.9 331.3h1.1v1.1h-1.1zM69.1 350.2h1.1v1.1h-1.1zM63.7 316.1h1.1v1.1h-1.1zM153.8 326.7h1.1v1.1h-1.1zM135.7 334.3h1.1v1.1h-1.1zM150.8 330.2h1.1v1.1h-1.1zM154.0 328.5h1.1v1.1h-1.1zM141.7 332.1h1.1v1.1h-1.1zM110.9 318.8h1.1v1.1h-1.1zM149.1 326.9h1.1v1.1h-1.1zM128.5 335.9h1.1v1.1h-1.1zM86.0 344.3h1.1v1.1h-1.1zM74.0 347.4h1.1v1.1h-1.1zM129.6 321.0h1.1v1.1h-1.1zM85.7 344.4h1.1v1.1h-1.1zM117.9 339.8h1.1v1.1h-1.1zM121.1 321.4h1.1v1.1h-1.1zM102.0 345.8h1.1v1.1h-1.1zM82.7 345.0h1.1v1.1h-1.1zM66.5 352.7h1.1v1.1h-1.1zM72.2 349.2h1.1v1.1h-1.1zM116.4 320.4h1.1v1.1h-1.1zM68.8 350.2h1.1v1.1h-1.1zM74.0 347.5h1.1v1.1h-1.1zM64.2 315.7h1.1v1.1h-1.1zM74.6 348.4h1.1v1.1h-1.1zM111.0 316.7h1.1v1.1h-1.1zM60.1 316.1h1.1v1.1h-1.1zM148.8 329.7h1.1v1.1h-1.1zM151.2 327.7h1.1v1.1h-1.1zM74.2 316.9h1.1v1.1h-1.1zM107.0 314.8h1.1v1.1h-1.1zM136.6 334.0h1.1v1.1h-1.1zM67.7 351.4h1.1v1.1h-1.1zM82.2 344.7h1.1v1.1h-1.1zM76.6 346.8h1.1v1.1h-1.1zM133.0 322.7h1.1v1.1h-1.1zM99.1 341.0h1.1v1.1h-1.1zM153.5 328.2h1.1v1.1h-1.1zM149.0 326.9h1.1v1.1h-1.1zM118.4 338.6h1.1v1.1h-1.1zM124.9 320.1h1.1v1.1h-1.1zM76.3 316.2h1.1v1.1h-1.1zM73.5 347.3h1.1v1.1h-1.1zM124.6 320.0h1.1v1.1h-1.1zM90.3 341.5h1.1v1.1h-1.1zM113.3 317.0h1.1v1.1h-1.1zM63.4 355.0h1.1v1.1h-1.1zM147.3 330.3h1.1v1.1h-1.1zM74.7 315.9h1.1v1.1h-1.1zM135.2 334.6h1.1v1.1h-1.1zM65.6 315.9h1.1v1.1h-1.1zM149.6 326.7h1.1v1.1h-1.1zM152.6 326.8h1.1v1.1h-1.1zM71.1 349.4h1.1v1.1h-1.1zM67.5 351.2h1.1v1.1h-1.1zM129.1 336.7h1.1v1.1h-1.1zM115.2 319.5h1.1v1.1h-1.1zM73.4 348.6h1.1v1.1h-1.1zM70.3 349.6h1.1v1.1h-1.1zM94.4 342.3h1.1v1.1h-1.1zM77.4 316.9h1.1v1.1h-1.1zM67.6 314.8h1.1v1.1h-1.1zM136.5 334.2h1.1v1.1h-1.1zM66.6 351.8h1.1v1.1h-1.1zM144.0 331.3h1.1v1.1h-1.1zM82.3 345.4h1.1v1.1h-1.1zM62.6 353.9h1.1v1.1h-1.1zM63.3 317.1h1.1v1.1h-1.1zM142.9 332.4h1.1v1.1h-1.1zM125.9 320.7h1.1v1.1h-1.1zM139.3 324.2h1.1v1.1h-1.1zM89.4 318.7h1.1v1.1h-1.1zM139.9 333.2h1.1v1.1h-1.1zM80.2 317.3h1.1v1.1h-1.1zM79.6 346.6h1.1v1.1h-1.1zM132.6 334.7h1.1v1.1h-1.1z" fill="#6d6d6f"/>
<path d="M72.9 316.1h1.1v1.1h-1.1zM77.1 312.0h1.1v1.1h-1.1zM72.9 316.4h1.1v1.1h-1.1zM60.8 309.2h1.1v1.1h-1.1zM67.2 309.5h1.1v1.1h-1.1zM76.9 310.4h1.1v1.1h-1.1zM76.5 312.1h1.1v1.1h-1.1zM60.6 316.2h1.1v1.1h-1.1zM63.0 315.7h1.1v1.1h-1.1zM78.5 309.7h1.1v1.1h-1.1zM70.1 314.2h1.1v1.1h-1.1zM67.1 315.7h1.1v1.1h-1.1zM70.5 313.3h1.1v1.1h-1.1zM75.7 316.0h1.1v1.1h-1.1zM65.2 309.7h1.1v1.1h-1.1zM73.2 311.3h1.1v1.1h-1.1zM74.8 313.7h1.1v1.1h-1.1zM79.0 313.3h1.1v1.1h-1.1zM70.6 309.9h1.1v1.1h-1.1zM79.6 309.1h1.1v1.1h-1.1zM69.7 318.9h1.1v1.1h-1.1zM67.3 315.4h1.1v1.1h-1.1zM75.4 311.2h1.1v1.1h-1.1zM77.2 314.9h1.1v1.1h-1.1zM76.7 309.1h1.1v1.1h-1.1zM62.9 318.7h1.1v1.1h-1.1zM75.9 314.2h1.1v1.1h-1.1zM69.1 309.2h1.1v1.1h-1.1zM65.7 310.1h1.1v1.1h-1.1zM63.3 310.2h1.1v1.1h-1.1zM64.9 315.9h1.1v1.1h-1.1zM77.9 316.6h1.1v1.1h-1.1zM65.8 317.1h1.1v1.1h-1.1zM69.0 311.6h1.1v1.1h-1.1zM78.2 318.8h1.1v1.1h-1.1zM63.3 310.1h1.1v1.1h-1.1zM60.4 316.2h1.1v1.1h-1.1zM68.9 312.8h1.1v1.1h-1.1zM66.5 312.1h1.1v1.1h-1.1zM64.3 311.2h1.1v1.1h-1.1zM68.4 312.8h1.1v1.1h-1.1zM64.8 315.4h1.1v1.1h-1.1zM76.7 316.6h1.1v1.1h-1.1zM77.4 316.6h1.1v1.1h-1.1zM70.8 313.7h1.1v1.1h-1.1zM68.2 312.5h1.1v1.1h-1.1zM78.6 312.6h1.1v1.1h-1.1zM79.9 312.3h1.1v1.1h-1.1zM69.8 309.1h1.1v1.1h-1.1zM63.4 309.3h1.1v1.1h-1.1zM62.7 312.9h1.1v1.1h-1.1zM67.7 310.0h1.1v1.1h-1.1zM64.3 316.0h1.1v1.1h-1.1zM74.4 317.7h1.1v1.1h-1.1zM65.7 310.1h1.1v1.1h-1.1zM60.9 319.0h1.1v1.1h-1.1zM67.6 318.2h1.1v1.1h-1.1zM75.9 316.2h1.1v1.1h-1.1zM73.4 316.6h1.1v1.1h-1.1zM74.7 317.1h1.1v1.1h-1.1zM72.1 314.7h1.1v1.1h-1.1zM73.4 315.5h1.1v1.1h-1.1zM74.2 315.2h1.1v1.1h-1.1zM67.8 312.2h1.1v1.1h-1.1zM60.7 316.4h1.1v1.1h-1.1zM62.0 309.8h1.1v1.1h-1.1zM62.8 318.8h1.1v1.1h-1.1zM77.4 313.2h1.1v1.1h-1.1zM71.1 318.8h1.1v1.1h-1.1zM73.4 310.7h1.1v1.1h-1.1z" fill="#6d6d6f"/>
</g>
<line x1="135.00" y1="332.50" x2="159.50" y2="332.50" stroke="#e0a0b0" stroke-width="0.6"/>
<rect x="39.4" y="272.6" width="120.1" height="118.09999999999997" fill="none" stroke="#231f20" stroke-width="1"/>
<line x1="36.00" y1="296.40" x2="39.40" y2="296.40" stroke="#231f20" stroke-width="1.0"/>
<text x="33.00" y="299.40" font-size="8.5" text-anchor="end">2</text>
<line x1="36.00" y1="332.20" x2="39.40" y2="332.20" stroke="#231f20" stroke-width="1.0"/>
<text x="33.00" y="335.20" font-size="8.5" text-anchor="end">0</text>
<line x1="36.00" y1="368.00" x2="39.40" y2="368.00" stroke="#231f20" stroke-width="1.0"/>
<text x="33.00" y="371.00" font-size="8.5" text-anchor="end">–2</text>
<line x1="62.80" y1="390.70" x2="62.80" y2="393.30" stroke="#231f20" stroke-width="1.0"/>
<line x1="90.15" y1="390.70" x2="90.15" y2="393.30" stroke="#231f20" stroke-width="1.0"/>
<line x1="117.50" y1="390.70" x2="117.50" y2="393.30" stroke="#231f20" stroke-width="1.0"/>
<line x1="144.85" y1="390.70" x2="144.85" y2="393.30" stroke="#231f20" stroke-width="1.0"/>
<text x="62.80" y="404.20" font-size="8.5" text-anchor="middle">5</text>
<text x="117.50" y="404.20" font-size="8.5" text-anchor="middle">10</text>
<text x="70.4" y="417.7" font-size="8.5" textLength="58.6" lengthAdjust="spacingAndGlyphs">Log<tspan font-size="6" dy="1.8">2</tspan><tspan dy="-1.8"> mean RPM</tspan></text>
<text x="0" y="0" font-size="8.5" text-anchor="middle" transform="translate(18.2 331) rotate(-90)">Log<tspan font-size="6" dy="1.8">2</tspan><tspan dy="-1.8"> (let-7a/f TuD/scramble)</tspan></text>
<text x="44.4" y="282.7" font-size="8.5">let-7a/f TuD <tspan fill="#7a3f88" stroke="#7a3f88">223</tspan></text>
<text x="43.3" y="388.0" font-size="8.5">Scramble <tspan fill="#2f6a4a" stroke="#2f6a4a">1035</tspan></text>
<text x="72.90" y="296.00" font-size="8.5" textLength="22.50" lengthAdjust="spacingAndGlyphs">HBG1</text>
<text x="104.00" y="294.20" font-size="8.5" textLength="23.10" lengthAdjust="spacingAndGlyphs">HBG2</text>
<text x="130.00" y="311.00" font-size="8.5" textLength="17.40" lengthAdjust="spacingAndGlyphs">HBB</text>
<text x="142.40" y="349.80" font-size="8.5" textLength="14.40" lengthAdjust="spacingAndGlyphs">+55</text>
<text x="127.70" y="358.00" font-size="8.5" textLength="14.40" lengthAdjust="spacingAndGlyphs">+58</text>
<text x="113.00" y="366.70" font-size="8.5" textLength="15.30" lengthAdjust="spacingAndGlyphs">+62</text>
<circle cx="91.9" cy="305.8" r="1.3" fill="#f0a050"/>
<circle cx="96.0" cy="301.6" r="1.3" fill="#f0a050"/>
<circle cx="137.2" cy="330.6" r="1.3" fill="#f0a050"/>
<circle cx="126.5" cy="339.5" r="1.3" fill="#f0a050"/>
<circle cx="106.0" cy="331.0" r="1.3" fill="#f0a050"/>
<circle cx="111.0" cy="344.0" r="1.3" fill="#f0a050"/>
<line x1="87.90" y1="298.80" x2="89.80" y2="303.60" stroke="#231f20" stroke-width="0.8"/>
<line x1="102.90" y1="293.70" x2="97.00" y2="300.40" stroke="#231f20" stroke-width="0.8"/>
<line x1="137.20" y1="319.80" x2="137.20" y2="329.00" stroke="#231f20" stroke-width="0.8"/>
<line x1="130.30" y1="341.30" x2="141.50" y2="346.80" stroke="#231f20" stroke-width="0.8"/>
<line x1="107.80" y1="333.00" x2="127.20" y2="351.80" stroke="#231f20" stroke-width="0.8"/>
<line x1="112.00" y1="346.00" x2="118.00" y2="357.00" stroke="#231f20" stroke-width="0.8"/>
<text x="144.00" y="369.30" font-size="8.5" textLength="31.00" lengthAdjust="spacingAndGlyphs">BCL11A</text>
<text x="140.00" y="379.30" font-size="8.5" textLength="38.80" lengthAdjust="spacingAndGlyphs">enhancers</text>
<rect x="396.50" y="251.20" width="4.20" height="213.80" fill="#f4ebf5"/>
<rect x="403.50" y="251.20" width="3.90" height="213.80" fill="#f4ebf5"/>
<rect x="411.50" y="251.20" width="4.20" height="213.80" fill="#f4ebf5"/>
<path d="M287.2 244.8 V239.4 H297.0" fill="none" stroke="#231f20" stroke-width="0.95"/>
<path d="M296.3 237.7 L300.0 239.4 L296.3 241.1 Z" fill="#231f20"/>
<text x="303.00" y="242.00" font-size="8.5" textLength="30.85" lengthAdjust="spacingAndGlyphs">BCL11A</text>
<line x1="286.80" y1="249.60" x2="482.50" y2="249.60" stroke="#28286e" stroke-width="1.0"/>
<rect x="472.20" y="247.80" width="4.90" height="3.60" fill="#28286e"/>
<rect x="477.00" y="248.60" width="5.80" height="2.00" fill="#28286e"/>
<rect x="286.60" y="248.40" width="1.60" height="2.50" fill="#28286e"/>
<rect x="296.9" y="248.6" width="1.0" height="2.1" fill="#28286e" opacity="0.8"/>
<rect x="304.3" y="248.6" width="1.0" height="2.1" fill="#28286e" opacity="0.8"/>
<rect x="311.8" y="248.6" width="1.0" height="2.1" fill="#28286e" opacity="0.8"/>
<rect x="319.2" y="248.6" width="1.0" height="2.1" fill="#28286e" opacity="0.8"/>
<rect x="326.7" y="248.6" width="1.0" height="2.1" fill="#28286e" opacity="0.8"/>
<rect x="334.1" y="248.6" width="1.0" height="2.1" fill="#28286e" opacity="0.8"/>
<rect x="341.6" y="248.6" width="1.0" height="2.1" fill="#28286e" opacity="0.8"/>
<rect x="349.0" y="248.6" width="1.0" height="2.1" fill="#28286e" opacity="0.8"/>
<rect x="356.5" y="248.6" width="1.0" height="2.1" fill="#28286e" opacity="0.8"/>
<rect x="363.9" y="248.6" width="1.0" height="2.1" fill="#28286e" opacity="0.8"/>
<rect x="371.4" y="248.6" width="1.0" height="2.1" fill="#28286e" opacity="0.8"/>
<rect x="378.8" y="248.6" width="1.0" height="2.1" fill="#28286e" opacity="0.8"/>
<rect x="386.3" y="248.6" width="1.0" height="2.1" fill="#28286e" opacity="0.8"/>
<rect x="393.7" y="248.6" width="1.0" height="2.1" fill="#28286e" opacity="0.8"/>
<rect x="401.2" y="248.6" width="1.0" height="2.1" fill="#28286e" opacity="0.8"/>
<rect x="408.6" y="248.6" width="1.0" height="2.1" fill="#28286e" opacity="0.8"/>
<rect x="416.1" y="248.6" width="1.0" height="2.1" fill="#28286e" opacity="0.8"/>
<rect x="423.5" y="248.6" width="1.0" height="2.1" fill="#28286e" opacity="0.8"/>
<rect x="431.0" y="248.6" width="1.0" height="2.1" fill="#28286e" opacity="0.8"/>
<rect x="438.4" y="248.6" width="1.0" height="2.1" fill="#28286e" opacity="0.8"/>
<rect x="445.9" y="248.6" width="1.0" height="2.1" fill="#28286e" opacity="0.8"/>
<rect x="453.3" y="248.6" width="1.0" height="2.1" fill="#28286e" opacity="0.8"/>
<rect x="460.8" y="248.6" width="1.0" height="2.1" fill="#28286e" opacity="0.8"/>
<rect x="468.2" y="248.6" width="1.0" height="2.1" fill="#28286e" opacity="0.8"/>
<text x="380.40" y="238.80" font-size="8.5" textLength="14.40" lengthAdjust="spacingAndGlyphs">+55</text>
<text x="398.80" y="238.80" font-size="8.5" textLength="14.50" lengthAdjust="spacingAndGlyphs">+58</text>
<text x="417.30" y="238.80" font-size="8.5" textLength="14.50" lengthAdjust="spacingAndGlyphs">+62</text>
<line x1="394.90" y1="242.30" x2="398.20" y2="246.90" stroke="#231f20" stroke-width="0.8"/>
<line x1="405.80" y1="242.80" x2="405.80" y2="247.00" stroke="#231f20" stroke-width="0.8"/>
<line x1="417.30" y1="242.30" x2="414.50" y2="246.90" stroke="#231f20" stroke-width="0.8"/>
<text x="460.70" y="264.20" font-size="8.5" textLength="20.20" lengthAdjust="spacingAndGlyphs">10 kb</text>
<line x1="460.70" y1="267.70" x2="482.00" y2="267.70" stroke="#231f20" stroke-width="1.0"/>
<line x1="461.20" y1="266.20" x2="461.20" y2="269.20" stroke="#231f20" stroke-width="0.8"/>
<line x1="481.50" y1="266.20" x2="481.50" y2="269.20" stroke="#231f20" stroke-width="0.8"/>
<text x="203.00" y="276.40" font-size="8.5" text-anchor="middle" transform="rotate(-90 203.00 276.40)" textLength="20.20" lengthAdjust="spacingAndGlyphs">ATAC</text>
<text x="214.00" y="274.50" font-size="8.5" text-anchor="middle" transform="rotate(-90 214.00 274.50)" textLength="12.50" lengthAdjust="spacingAndGlyphs">-seq</text>
<line x1="218.30" y1="261.30" x2="218.30" y2="291.90" stroke="#231f20" stroke-width="1.0"/>
<text x="213.30" y="319.30" font-size="8.5" text-anchor="middle" transform="rotate(-90 213.30 319.30)" textLength="18.50" lengthAdjust="spacingAndGlyphs">HIC2</text>
<line x1="218.30" y1="304.90" x2="218.30" y2="334.30" stroke="#231f20" stroke-width="1.0"/>
<text x="213.30" y="366.80" font-size="8.5" text-anchor="middle" transform="rotate(-90 213.30 366.80)" textLength="26.00" lengthAdjust="spacingAndGlyphs">GATA1</text>
<line x1="218.30" y1="351.70" x2="218.30" y2="381.40" stroke="#231f20" stroke-width="1.0"/>
<text x="213.30" y="433.20" font-size="8.5" text-anchor="middle" transform="rotate(-90 213.30 433.20)" textLength="39.00" lengthAdjust="spacingAndGlyphs">Capture-C</text>
<line x1="218.30" y1="402.70" x2="218.30" y2="464.80" stroke="#231f20" stroke-width="1.0"/>
<text x="219.60" y="266.20" font-size="8.5" textLength="35.60" lengthAdjust="spacingAndGlyphs">Scramble</text>
<text x="223.80" y="282.70" font-size="8.5" textLength="27.20" lengthAdjust="spacingAndGlyphs">let-7a/f</text>
<text x="230.60" y="292.90" font-size="8.5" textLength="14.60" lengthAdjust="spacingAndGlyphs">TuD</text>
<text x="219.60" y="312.70" font-size="8.5" textLength="35.60" lengthAdjust="spacingAndGlyphs">Scramble</text>
<text x="223.80" y="329.80" font-size="8.5" textLength="27.20" lengthAdjust="spacingAndGlyphs">let-7a/f</text>
<text x="230.60" y="340.00" font-size="8.5" textLength="14.60" lengthAdjust="spacingAndGlyphs">TuD</text>
<text x="219.60" y="356.60" font-size="8.5" textLength="35.60" lengthAdjust="spacingAndGlyphs">Scramble</text>
<text x="223.80" y="374.00" font-size="8.5" textLength="27.20" lengthAdjust="spacingAndGlyphs">let-7a/f</text>
<text x="230.60" y="384.20" font-size="8.5" textLength="14.60" lengthAdjust="spacingAndGlyphs">TuD</text>
<text x="219.60" y="412.50" font-size="8.5" textLength="35.60" lengthAdjust="spacingAndGlyphs">Scramble</text>
<text x="223.80" y="432.00" font-size="8.5" textLength="27.20" lengthAdjust="spacingAndGlyphs">let-7a/f</text>
<text x="230.60" y="441.80" font-size="8.5" textLength="14.60" lengthAdjust="spacingAndGlyphs">TuD</text>
<text x="222.00" y="462.30" font-size="8.5" textLength="32.40" lengthAdjust="spacingAndGlyphs">Subtract</text>
<text x="262.00" y="265.80" font-size="8.5" textLength="27.50" lengthAdjust="spacingAndGlyphs">[0 - 12]</text>
<text x="262.00" y="287.50" font-size="8.5" textLength="27.50" lengthAdjust="spacingAndGlyphs">[0 - 12]</text>
<text x="262.00" y="311.90" font-size="8.5" textLength="23.00" lengthAdjust="spacingAndGlyphs">[0 - 5]</text>
<text x="262.00" y="333.70" font-size="8.5" textLength="23.00" lengthAdjust="spacingAndGlyphs">[0 - 5]</text>
<text x="262.00" y="356.20" font-size="8.5" textLength="23.00" lengthAdjust="spacingAndGlyphs">[0 - 9]</text>
<text x="262.00" y="379.80" font-size="8.5" textLength="23.00" lengthAdjust="spacingAndGlyphs">[0 - 9]</text>
<line x1="261.00" y1="273.60" x2="494.00" y2="273.60" stroke="#8e8cc0" stroke-width="0.8"/>
<path d="M261.0 273.6 L261.0 273.60 L261.8 273.52 L262.6 273.60 L263.4 273.60 L264.2 273.60 L265.0 273.60 L265.8 273.60 L266.6 273.60 L267.4 273.60 L268.2 273.60 L269.0 273.12 L269.8 273.43 L270.6 272.82 L271.4 273.54 L272.2 273.60 L273.0 273.16 L273.8 273.60 L274.6 273.44 L275.4 273.60 L276.2 273.60 L277.0 273.59 L277.8 273.26 L278.6 271.60 L279.4 271.60 L280.2 273.26 L281.0 273.45 L281.8 272.30 L282.6 269.07 L283.4 267.78 L284.2 270.76 L285.0 273.12 L285.8 273.57 L286.6 273.57 L287.4 272.86 L288.2 271.89 L289.0 271.28 L289.8 270.95 L290.6 273.04 L291.4 273.58 L292.2 273.60 L293.0 273.47 L293.8 271.75 L294.6 269.10 L295.4 271.75 L296.2 273.47 L297.0 273.60 L297.8 273.60 L298.6 273.60 L299.4 273.32 L300.2 273.60 L301.0 273.60 L301.8 273.60 L302.6 273.60 L303.4 273.60 L304.2 273.60 L305.0 273.60 L305.8 273.60 L306.6 273.60 L307.4 273.60 L308.2 273.60 L309.0 273.60 L309.8 273.60 L310.6 273.60 L311.4 273.60 L312.2 273.60 L313.0 273.60 L313.8 273.60 L314.6 273.60 L315.4 273.60 L316.2 273.60 L317.0 273.60 L317.8 273.60 L318.6 273.60 L319.4 273.60 L320.2 273.60 L321.0 273.60 L321.8 273.15 L322.6 273.60 L323.4 273.60 L324.2 273.60 L325.0 273.60 L325.8 273.60 L326.6 273.60 L327.4 273.60 L328.2 273.60 L329.0 273.60 L329.8 273.60 L330.6 273.60 L331.4 273.60 L332.2 273.60 L333.0 273.54 L333.8 273.60 L334.6 273.60 L335.4 273.60 L336.2 273.60 L337.0 273.59 L337.8 273.42 L338.6 272.56 L339.4 272.56 L340.2 273.42 L341.0 273.59 L341.8 273.60 L342.6 273.60 L343.4 273.60 L344.2 273.60 L345.0 273.60 L345.8 273.60 L346.6 273.16 L347.4 273.60 L348.2 273.60 L349.0 273.60 L349.8 273.60 L350.6 273.04 L351.4 273.60 L352.2 273.60 L353.0 273.60 L353.8 273.60 L354.6 273.60 L355.4 273.60 L356.2 273.60 L357.0 273.60 L357.8 273.60 L358.6 273.60 L359.4 273.60 L360.2 273.60 L361.0 273.60 L361.8 273.60 L362.6 273.60 L363.4 273.60 L364.2 273.60 L365.0 273.60 L365.8 273.60 L366.6 273.60 L367.4 273.60 L368.2 273.60 L369.0 273.60 L369.8 273.60 L370.6 273.60 L371.4 273.60 L372.2 273.60 L373.0 273.60 L373.8 273.60 L374.6 273.60 L375.4 273.60 L376.2 273.60 L377.0 273.60 L377.8 273.60 L378.6 273.58 L379.4 272.95 L380.2 272.68 L381.0 273.46 L381.8 273.60 L382.6 273.60 L383.4 273.60 L384.2 273.60 L385.0 273.60 L385.8 273.60 L386.6 273.60 L387.4 273.60 L388.2 273.60 L389.0 273.60 L389.8 273.60 L390.6 273.58 L391.4 273.60 L392.2 273.60 L393.0 273.60 L393.8 273.60 L394.6 273.37 L395.4 273.60 L396.2 273.60 L397.0 273.59 L397.8 272.85 L398.6 264.99 L399.4 256.83 L400.2 268.08 L401.0 273.29 L401.8 273.60 L402.6 273.60 L403.4 273.60 L404.2 273.57 L405.0 272.35 L405.8 269.10 L406.6 272.35 L407.4 273.10 L408.2 273.60 L409.0 273.60 L409.8 273.60 L410.6 273.60 L411.4 273.60 L412.2 273.56 L413.0 271.79 L413.8 267.10 L414.6 271.79 L415.4 273.25 L416.2 273.60 L417.0 273.60 L417.8 273.60 L418.6 273.60 L419.4 273.42 L420.2 273.60 L421.0 273.60 L421.8 273.60 L422.6 273.60 L423.4 273.60 L424.2 273.60 L425.0 273.60 L425.8 273.60 L426.6 273.60 L427.4 273.60 L428.2 273.30 L429.0 273.60 L429.8 273.60 L430.6 273.60 L431.4 273.60 L432.2 273.60 L433.0 273.60 L433.8 273.40 L434.6 273.60 L435.4 273.60 L436.2 273.60 L437.0 273.60 L437.8 273.60 L438.6 273.56 L439.4 272.53 L440.2 271.57 L441.0 273.30 L441.8 273.60 L442.6 273.60 L443.4 273.60 L444.2 273.60 L445.0 273.60 L445.8 273.60 L446.6 273.60 L447.4 273.60 L448.2 273.60 L449.0 273.60 L449.8 273.60 L450.6 273.60 L451.4 273.60 L452.2 273.60 L453.0 273.60 L453.8 273.60 L454.6 273.60 L455.4 273.56 L456.2 273.60 L457.0 273.60 L457.8 273.60 L458.6 273.60 L459.4 273.60 L460.2 273.60 L461.0 273.60 L461.8 273.60 L462.6 273.60 L463.4 273.60 L464.2 273.20 L465.0 273.60 L465.8 273.60 L466.6 273.60 L467.4 273.60 L468.2 273.43 L469.0 273.60 L469.8 273.60 L470.6 273.60 L471.4 273.60 L472.2 273.60 L473.0 273.60 L473.8 273.60 L474.6 273.60 L475.4 273.60 L476.2 273.32 L477.0 273.60 L477.8 273.60 L478.6 273.60 L479.4 273.60 L480.2 273.60 L481.0 273.35 L481.8 273.60 L482.6 273.60 L483.4 273.58 L484.2 273.05 L485.0 273.60 L485.8 273.60 L486.6 273.60 L487.4 273.60 L488.2 273.60 L489.0 273.60 L489.8 273.60 L490.6 273.60 L491.4 273.60 L492.2 273.60 L493.0 273.60 L493.8 273.15 L494.0 273.6 Z" fill="#2b2a7a"/>
<line x1="261.00" y1="296.10" x2="494.00" y2="296.10" stroke="#8e8cc0" stroke-width="0.8"/>
<path d="M261.0 296.1 L261.0 296.10 L261.8 296.10 L262.6 296.10 L263.4 295.96 L264.2 296.10 L265.0 296.10 L265.8 296.10 L266.6 296.10 L267.4 296.10 L268.2 296.10 L269.0 296.10 L269.8 295.93 L270.6 295.32 L271.4 296.04 L272.2 296.10 L273.0 296.10 L273.8 296.10 L274.6 296.10 L275.4 296.10 L276.2 296.10 L277.0 296.09 L277.8 295.76 L278.6 293.98 L279.4 294.10 L280.2 295.76 L281.0 295.92 L281.8 294.69 L282.6 291.19 L283.4 289.80 L284.2 293.12 L285.0 295.58 L285.8 296.07 L286.6 296.10 L287.4 296.09 L288.2 295.86 L289.0 294.33 L289.8 293.89 L290.6 295.63 L291.4 296.08 L292.2 296.10 L293.0 295.96 L293.8 294.04 L294.6 291.10 L295.4 294.04 L296.2 295.96 L297.0 296.10 L297.8 296.10 L298.6 296.10 L299.4 296.10 L300.2 296.10 L301.0 296.10 L301.8 296.10 L302.6 296.10 L303.4 296.10 L304.2 296.10 L305.0 296.10 L305.8 296.10 L306.6 296.10 L307.4 296.10 L308.2 296.10 L309.0 296.10 L309.8 296.10 L310.6 296.10 L311.4 296.10 L312.2 296.10 L313.0 296.10 L313.8 296.10 L314.6 296.10 L315.4 296.10 L316.2 295.92 L317.0 296.10 L317.8 296.10 L318.6 296.10 L319.4 296.10 L320.2 296.10 L321.0 296.10 L321.8 296.10 L322.6 296.10 L323.4 296.10 L324.2 296.10 L325.0 296.10 L325.8 296.10 L326.6 296.10 L327.4 296.10 L328.2 296.10 L329.0 296.10 L329.8 296.10 L330.6 296.10 L331.4 296.10 L332.2 296.10 L333.0 296.10 L333.8 296.10 L334.6 295.90 L335.4 296.10 L336.2 296.10 L337.0 296.10 L337.8 295.96 L338.6 295.30 L339.4 295.30 L340.2 295.90 L341.0 296.10 L341.8 296.10 L342.6 296.10 L343.4 296.10 L344.2 296.10 L345.0 296.10 L345.8 296.10 L346.6 296.10 L347.4 296.10 L348.2 296.10 L349.0 296.10 L349.8 296.10 L350.6 296.10 L351.4 296.10 L352.2 296.10 L353.0 296.10 L353.8 296.10 L354.6 296.10 L355.4 296.10 L356.2 296.10 L357.0 295.56 L357.8 296.10 L358.6 296.10 L359.4 296.10 L360.2 296.10 L361.0 296.10 L361.8 296.10 L362.6 295.77 L363.4 296.10 L364.2 296.10 L365.0 296.10 L365.8 296.10 L366.6 296.10 L367.4 296.10 L368.2 296.10 L369.0 296.10 L369.8 296.10 L370.6 296.10 L371.4 296.10 L372.2 296.10 L373.0 296.10 L373.8 296.10 L374.6 296.10 L375.4 296.10 L376.2 296.10 L377.0 296.10 L377.8 296.10 L378.6 295.53 L379.4 295.66 L380.2 295.27 L381.0 295.98 L381.8 296.10 L382.6 296.10 L383.4 296.10 L384.2 296.10 L385.0 296.10 L385.8 296.10 L386.6 296.10 L387.4 296.10 L388.2 296.10 L389.0 296.10 L389.8 296.10 L390.6 296.10 L391.4 296.10 L392.2 296.10 L393.0 296.10 L393.8 296.10 L394.6 295.76 L395.4 296.10 L396.2 295.60 L397.0 296.09 L397.8 295.44 L398.6 288.50 L399.4 281.31 L400.2 291.23 L401.0 295.83 L401.8 296.10 L402.6 296.10 L403.4 296.10 L404.2 296.08 L405.0 294.99 L405.8 291.73 L406.6 294.99 L407.4 296.08 L408.2 296.10 L409.0 296.10 L409.8 296.10 L410.6 296.10 L411.4 296.10 L412.2 296.07 L413.0 294.57 L413.8 290.60 L414.6 294.57 L415.4 296.07 L416.2 296.10 L417.0 295.72 L417.8 296.10 L418.6 296.10 L419.4 296.10 L420.2 296.10 L421.0 295.80 L421.8 296.10 L422.6 296.10 L423.4 296.10 L424.2 296.10 L425.0 296.10 L425.8 296.10 L426.6 296.10 L427.4 296.10 L428.2 296.10 L429.0 296.10 L429.8 296.10 L430.6 296.10 L431.4 296.10 L432.2 296.10 L433.0 296.10 L433.8 295.89 L434.6 296.10 L435.4 296.10 L436.2 296.10 L437.0 296.10 L437.8 296.10 L438.6 296.10 L439.4 296.10 L440.2 296.10 L441.0 296.10 L441.8 296.10 L442.6 296.10 L443.4 296.10 L444.2 295.99 L445.0 296.10 L445.8 296.10 L446.6 296.10 L447.4 296.10 L448.2 296.10 L449.0 296.10 L449.8 296.10 L450.6 296.10 L451.4 296.10 L452.2 296.10 L453.0 296.10 L453.8 296.10 L454.6 296.10 L455.4 296.10 L456.2 296.10 L457.0 296.10 L457.8 296.10 L458.6 296.10 L459.4 296.10 L460.2 296.10 L461.0 296.10 L461.8 296.10 L462.6 296.10 L463.4 296.10 L464.2 296.10 L465.0 296.10 L465.8 296.10 L466.6 295.61 L467.4 296.10 L468.2 296.10 L469.0 296.10 L469.8 296.10 L470.6 296.10 L471.4 296.10 L472.2 296.08 L473.0 296.10 L473.8 296.10 L474.6 296.10 L475.4 296.10 L476.2 296.10 L477.0 296.10 L477.8 296.10 L478.6 296.10 L479.4 296.10 L480.2 296.10 L481.0 296.10 L481.8 296.10 L482.6 296.10 L483.4 296.10 L484.2 296.10 L485.0 296.10 L485.8 296.10 L486.6 296.10 L487.4 296.10 L488.2 296.10 L489.0 296.10 L489.8 296.10 L490.6 296.10 L491.4 296.10 L492.2 296.10 L493.0 296.10 L493.8 296.10 L494.0 296.1 Z" fill="#2b2a7a"/>
<line x1="261.00" y1="318.30" x2="494.00" y2="318.30" stroke="#d9534f" stroke-width="0.8"/>
<path d="M261.0 318.3 L261.0 318.28 L261.8 318.30 L262.6 318.30 L263.4 318.30 L264.2 318.30 L265.0 318.30 L265.8 318.30 L266.6 318.30 L267.4 317.04 L268.2 317.56 L269.0 318.30 L269.8 318.22 L270.6 318.30 L271.4 317.53 L272.2 318.30 L273.0 318.02 L273.8 318.30 L274.6 318.30 L275.4 318.30 L276.2 318.30 L277.0 317.87 L277.8 318.23 L278.6 318.30 L279.4 318.30 L280.2 318.30 L281.0 317.12 L281.8 318.30 L282.6 318.30 L283.4 318.30 L284.2 318.30 L285.0 318.15 L285.8 318.25 L286.6 317.25 L287.4 318.30 L288.2 318.30 L289.0 318.30 L289.8 317.52 L290.6 318.30 L291.4 318.30 L292.2 318.30 L293.0 317.40 L293.8 318.30 L294.6 317.07 L295.4 317.94 L296.2 317.26 L297.0 318.30 L297.8 318.30 L298.6 317.07 L299.4 317.97 L300.2 318.30 L301.0 318.30 L301.8 318.30 L302.6 318.30 L303.4 318.30 L304.2 318.30 L305.0 318.30 L305.8 318.30 L306.6 318.30 L307.4 318.30 L308.2 318.30 L309.0 318.30 L309.8 318.00 L310.6 318.30 L311.4 317.02 L312.2 318.26 L313.0 317.00 L313.8 318.10 L314.6 318.24 L315.4 318.30 L316.2 318.30 L317.0 318.30 L317.8 318.30 L318.6 317.47 L319.4 318.30 L320.2 318.30 L321.0 318.30 L321.8 318.30 L322.6 317.09 L323.4 318.30 L324.2 318.30 L325.0 318.01 L325.8 318.25 L326.6 318.30 L327.4 318.30 L328.2 318.30 L329.0 318.30 L329.8 318.30 L330.6 318.16 L331.4 317.24 L332.2 317.85 L333.0 318.30 L333.8 317.94 L334.6 317.30 L335.4 318.30 L336.2 316.95 L337.0 318.30 L337.8 318.30 L338.6 318.30 L339.4 317.72 L340.2 318.30 L341.0 318.30 L341.8 317.31 L342.6 318.30 L343.4 317.09 L344.2 317.15 L345.0 318.30 L345.8 317.23 L346.6 318.30 L347.4 317.61 L348.2 318.30 L349.0 318.30 L349.8 317.61 L350.6 317.14 L351.4 316.98 L352.2 318.00 L353.0 318.30 L353.8 318.30 L354.6 317.41 L355.4 317.20 L356.2 318.30 L357.0 318.30 L357.8 318.30 L358.6 318.30 L359.4 318.30 L360.2 318.30 L361.0 318.30 L361.8 317.06 L362.6 318.01 L363.4 317.04 L364.2 318.30 L365.0 318.30 L365.8 318.30 L366.6 317.65 L367.4 318.30 L368.2 318.30 L369.0 318.30 L369.8 318.30 L370.6 317.84 L371.4 317.12 L372.2 318.30 L373.0 318.30 L373.8 317.69 L374.6 318.30 L375.4 318.30 L376.2 317.65 L377.0 318.30 L377.8 318.03 L378.6 317.32 L379.4 318.30 L380.2 318.08 L381.0 317.84 L381.8 318.30 L382.6 317.84 L383.4 316.93 L384.2 318.30 L385.0 316.95 L385.8 317.76 L386.6 318.30 L387.4 318.30 L388.2 318.30 L389.0 318.30 L389.8 317.41 L390.6 318.01 L391.4 318.30 L392.2 317.74 L393.0 318.30 L393.8 318.30 L394.6 318.30 L395.4 318.30 L396.2 318.30 L397.0 317.45 L397.8 318.28 L398.6 317.55 L399.4 316.34 L400.2 317.90 L401.0 318.29 L401.8 318.30 L402.6 318.30 L403.4 317.29 L404.2 318.30 L405.0 318.30 L405.8 318.30 L406.6 318.30 L407.4 318.30 L408.2 318.30 L409.0 318.30 L409.8 317.42 L410.6 317.71 L411.4 318.30 L412.2 318.30 L413.0 318.30 L413.8 317.71 L414.6 318.30 L415.4 318.30 L416.2 318.30 L417.0 318.30 L417.8 318.30 L418.6 317.38 L419.4 318.30 L420.2 318.30 L421.0 318.30 L421.8 318.30 L422.6 317.54 L423.4 317.21 L424.2 318.30 L425.0 318.30 L425.8 317.50 L426.6 318.30 L427.4 318.30 L428.2 318.30 L429.0 318.30 L429.8 318.30 L430.6 318.30 L431.4 318.30 L432.2 318.30 L433.0 317.34 L433.8 318.30 L434.6 318.30 L435.4 316.92 L436.2 318.30 L437.0 317.92 L437.8 318.30 L438.6 317.71 L439.4 318.30 L440.2 318.30 L441.0 318.30 L441.8 317.99 L442.6 318.30 L443.4 318.30 L444.2 318.30 L445.0 317.18 L445.8 318.30 L446.6 318.12 L447.4 318.30 L448.2 318.30 L449.0 318.30 L449.8 318.30 L450.6 318.30 L451.4 316.95 L452.2 318.30 L453.0 318.30 L453.8 318.30 L454.6 318.30 L455.4 318.30 L456.2 317.53 L457.0 317.13 L457.8 318.30 L458.6 318.30 L459.4 317.77 L460.2 317.70 L461.0 318.30 L461.8 318.30 L462.6 317.96 L463.4 317.63 L464.2 318.30 L465.0 318.30 L465.8 318.30 L466.6 318.30 L467.4 318.30 L468.2 318.30 L469.0 317.14 L469.8 318.30 L470.6 318.30 L471.4 317.14 L472.2 318.30 L473.0 318.28 L473.8 318.30 L474.6 318.30 L475.4 318.16 L476.2 317.97 L477.0 318.30 L477.8 318.09 L478.6 318.30 L479.4 318.30 L480.2 317.05 L481.0 318.30 L481.8 318.30 L482.6 318.30 L483.4 318.30 L484.2 318.30 L485.0 318.30 L485.8 317.33 L486.6 318.30 L487.4 318.30 L488.2 318.30 L489.0 318.30 L489.8 318.30 L490.6 317.97 L491.4 317.61 L492.2 317.65 L493.0 317.61 L493.8 318.30 L494.0 318.3 Z" fill="#b01e24"/>
<line x1="261.00" y1="340.80" x2="494.00" y2="340.80" stroke="#d9534f" stroke-width="0.8"/>
<path d="M261.0 340.8 L261.0 340.80 L261.8 340.80 L262.6 339.62 L263.4 340.80 L264.2 340.80 L265.0 340.80 L265.8 340.80 L266.6 340.80 L267.4 340.80 L268.2 340.80 L269.0 339.91 L269.8 340.80 L270.6 339.95 L271.4 340.80 L272.2 340.80 L273.0 339.43 L273.8 340.80 L274.6 340.80 L275.4 340.80 L276.2 339.79 L277.0 340.80 L277.8 339.59 L278.6 340.80 L279.4 340.80 L280.2 340.80 L281.0 340.80 L281.8 340.19 L282.6 340.80 L283.4 340.80 L284.2 340.80 L285.0 339.64 L285.8 340.80 L286.6 340.80 L287.4 340.09 L288.2 340.80 L289.0 340.80 L289.8 340.80 L290.6 340.36 L291.4 339.98 L292.2 340.80 L293.0 340.80 L293.8 339.79 L294.6 340.80 L295.4 340.80 L296.2 340.38 L297.0 340.53 L297.8 340.80 L298.6 340.80 L299.4 340.80 L300.2 340.80 L301.0 340.80 L301.8 340.80 L302.6 340.80 L303.4 340.80 L304.2 340.80 L305.0 340.80 L305.8 340.80 L306.6 339.87 L307.4 340.80 L308.2 340.80 L309.0 340.55 L309.8 339.72 L310.6 340.80 L311.4 340.80 L312.2 340.80 L313.0 340.80 L313.8 340.80 L314.6 340.80 L315.4 340.38 L316.2 340.80 L317.0 340.20 L317.8 340.80 L318.6 340.80 L319.4 340.01 L320.2 340.63 L321.0 340.80 L321.8 340.80 L322.6 340.80 L323.4 340.80 L324.2 340.26 L325.0 340.80 L325.8 340.80 L326.6 340.80 L327.4 340.80 L328.2 340.80 L329.0 339.90 L329.8 340.59 L330.6 340.79 L331.4 340.80 L332.2 339.45 L333.0 339.58 L333.8 340.78 L334.6 340.80 L335.4 339.77 L336.2 340.73 L337.0 340.80 L337.8 340.80 L338.6 340.80 L339.4 340.80 L340.2 339.92 L341.0 340.80 L341.8 340.80 L342.6 340.80 L343.4 339.45 L344.2 340.80 L345.0 340.78 L345.8 340.80 L346.6 340.80 L347.4 340.36 L348.2 340.80 L349.0 339.59 L349.8 340.80 L350.6 340.29 L351.4 340.80 L352.2 340.80 L353.0 340.80 L353.8 339.68 L354.6 340.80 L355.4 340.80 L356.2 340.80 L357.0 340.80 L357.8 340.80 L358.6 340.80 L359.4 340.80 L360.2 340.80 L361.0 340.80 L361.8 340.72 L362.6 340.80 L363.4 340.80 L364.2 340.80 L365.0 339.95 L365.8 340.80 L366.6 340.80 L367.4 340.80 L368.2 340.20 L369.0 340.80 L369.8 340.80 L370.6 340.80 L371.4 340.80 L372.2 340.80 L373.0 340.80 L373.8 340.80 L374.6 340.21 L375.4 340.80 L376.2 340.80 L377.0 340.80 L377.8 339.63 L378.6 340.80 L379.4 340.80 L380.2 340.80 L381.0 339.61 L381.8 340.80 L382.6 340.80 L383.4 340.80 L384.2 340.68 L385.0 340.80 L385.8 340.80 L386.6 339.75 L387.4 340.80 L388.2 339.95 L389.0 340.80 L389.8 340.80 L390.6 340.44 L391.4 340.80 L392.2 340.80 L393.0 340.80 L393.8 339.67 L394.6 340.80 L395.4 339.99 L396.2 340.80 L397.0 340.80 L397.8 340.74 L398.6 338.74 L399.4 335.41 L400.2 339.44 L401.0 339.80 L401.8 340.80 L402.6 340.80 L403.4 340.80 L404.2 340.80 L405.0 340.74 L405.8 340.80 L406.6 340.80 L407.4 339.91 L408.2 340.80 L409.0 339.96 L409.8 340.07 L410.6 340.75 L411.4 340.80 L412.2 340.80 L413.0 340.80 L413.8 340.80 L414.6 339.71 L415.4 340.80 L416.2 340.80 L417.0 340.80 L417.8 340.80 L418.6 340.80 L419.4 340.75 L420.2 340.55 L421.0 340.73 L421.8 340.80 L422.6 340.80 L423.4 340.80 L424.2 340.80 L425.0 340.80 L425.8 339.96 L426.6 340.80 L427.4 339.46 L428.2 340.01 L429.0 340.80 L429.8 340.80 L430.6 340.80 L431.4 340.80 L432.2 340.80 L433.0 339.45 L433.8 340.80 L434.6 340.75 L435.4 340.31 L436.2 340.80 L437.0 340.80 L437.8 340.80 L438.6 339.70 L439.4 340.80 L440.2 340.80 L441.0 340.80 L441.8 340.60 L442.6 340.80 L443.4 340.80 L444.2 340.80 L445.0 339.97 L445.8 340.80 L446.6 340.35 L447.4 340.63 L448.2 340.80 L449.0 340.47 L449.8 339.85 L450.6 339.80 L451.4 340.75 L452.2 340.80 L453.0 339.49 L453.8 340.80 L454.6 340.80 L455.4 340.17 L456.2 339.50 L457.0 340.80 L457.8 340.80 L458.6 340.80 L459.4 339.65 L460.2 340.80 L461.0 340.80 L461.8 340.49 L462.6 339.80 L463.4 340.80 L464.2 339.58 L465.0 340.22 L465.8 340.42 L466.6 340.80 L467.4 340.57 L468.2 340.80 L469.0 339.54 L469.8 339.43 L470.6 339.55 L471.4 340.80 L472.2 340.13 L473.0 340.44 L473.8 340.29 L474.6 340.80 L475.4 340.80 L476.2 340.80 L477.0 340.39 L477.8 340.80 L478.6 339.78 L479.4 339.43 L480.2 339.67 L481.0 340.60 L481.8 339.63 L482.6 340.80 L483.4 340.19 L484.2 340.80 L485.0 340.00 L485.8 340.55 L486.6 340.80 L487.4 340.80 L488.2 340.69 L489.0 339.95 L489.8 340.80 L490.6 340.51 L491.4 340.80 L492.2 340.80 L493.0 340.80 L493.8 340.80 L494.0 340.8 Z" fill="#b01e24"/>
<line x1="261.00" y1="363.60" x2="494.00" y2="363.60" stroke="#66b36e" stroke-width="0.8"/>
<path d="M261.0 363.6 L261.0 363.60 L261.8 362.94 L262.6 363.60 L263.4 363.60 L264.2 362.87 L265.0 363.60 L265.8 363.60 L266.6 363.60 L267.4 363.60 L268.2 362.78 L269.0 363.60 L269.8 363.60 L270.6 363.60 L271.4 363.60 L272.2 363.60 L273.0 363.60 L273.8 363.60 L274.6 363.60 L275.4 363.60 L276.2 363.13 L277.0 363.60 L277.8 363.60 L278.6 363.60 L279.4 363.60 L280.2 363.60 L281.0 363.60 L281.8 363.44 L282.6 362.64 L283.4 362.64 L284.2 363.44 L285.0 362.81 L285.8 363.60 L286.6 363.60 L287.4 363.60 L288.2 363.60 L289.0 363.60 L289.8 362.59 L290.6 362.80 L291.4 362.80 L292.2 363.24 L293.0 363.60 L293.8 363.51 L294.6 363.60 L295.4 363.60 L296.2 363.06 L297.0 363.60 L297.8 363.60 L298.6 363.60 L299.4 362.82 L300.2 363.60 L301.0 363.49 L301.8 363.60 L302.6 363.60 L303.4 363.60 L304.2 363.60 L305.0 363.60 L305.8 363.60 L306.6 363.60 L307.4 363.60 L308.2 363.60 L309.0 363.60 L309.8 363.60 L310.6 363.60 L311.4 363.60 L312.2 363.60 L313.0 363.60 L313.8 363.60 L314.6 363.60 L315.4 363.60 L316.2 363.60 L317.0 363.60 L317.8 363.60 L318.6 363.60 L319.4 363.60 L320.2 363.60 L321.0 363.60 L321.8 363.60 L322.6 363.60 L323.4 363.60 L324.2 363.60 L325.0 363.60 L325.8 363.13 L326.6 363.60 L327.4 363.60 L328.2 363.60 L329.0 363.60 L329.8 363.60 L330.6 363.60 L331.4 363.60 L332.2 363.21 L333.0 363.60 L333.8 363.47 L334.6 363.60 L335.4 363.60 L336.2 363.60 L337.0 363.60 L337.8 363.60 L338.6 363.60 L339.4 363.60 L340.2 363.02 L341.0 363.60 L341.8 363.60 L342.6 363.60 L343.4 363.60 L344.2 363.60 L345.0 363.60 L345.8 363.60 L346.6 363.60 L347.4 363.60 L348.2 363.60 L349.0 363.60 L349.8 363.60 L350.6 363.60 L351.4 363.60 L352.2 363.60 L353.0 363.60 L353.8 363.60 L354.6 363.60 L355.4 363.60 L356.2 363.60 L357.0 363.60 L357.8 363.60 L358.6 363.60 L359.4 363.60 L360.2 363.60 L361.0 363.60 L361.8 363.60 L362.6 363.11 L363.4 363.60 L364.2 363.60 L365.0 363.60 L365.8 363.60 L366.6 363.60 L367.4 363.60 L368.2 363.60 L369.0 363.60 L369.8 363.60 L370.6 363.60 L371.4 363.60 L372.2 363.60 L373.0 363.60 L373.8 363.60 L374.6 363.60 L375.4 363.60 L376.2 363.28 L377.0 363.46 L377.8 362.68 L378.6 363.11 L379.4 363.58 L380.2 363.60 L381.0 363.60 L381.8 363.60 L382.6 363.60 L383.4 363.60 L384.2 362.82 L385.0 363.60 L385.8 363.25 L386.6 363.60 L387.4 363.60 L388.2 363.40 L389.0 363.60 L389.8 363.60 L390.6 363.60 L391.4 363.60 L392.2 363.60 L393.0 363.60 L393.8 363.60 L394.6 363.60 L395.4 363.60 L396.2 363.60 L397.0 363.60 L397.8 363.43 L398.6 357.97 L399.4 348.90 L400.2 360.63 L401.0 363.55 L401.8 363.60 L402.6 363.60 L403.4 363.60 L404.2 362.87 L405.0 361.65 L405.8 356.60 L406.6 361.65 L407.4 363.56 L408.2 363.60 L409.0 363.60 L409.8 363.60 L410.6 363.60 L411.4 363.60 L412.2 363.60 L413.0 363.49 L413.8 362.80 L414.6 363.49 L415.4 363.60 L416.2 363.60 L417.0 363.60 L417.8 363.60 L418.6 363.60 L419.4 363.60 L420.2 363.60 L421.0 363.60 L421.8 363.60 L422.6 363.60 L423.4 363.60 L424.2 363.60 L425.0 363.60 L425.8 362.77 L426.6 363.60 L427.4 363.60 L428.2 363.60 L429.0 363.60 L429.8 363.60 L430.6 363.60 L431.4 363.60 L432.2 363.56 L433.0 363.60 L433.8 363.60 L434.6 363.60 L435.4 363.60 L436.2 363.60 L437.0 363.60 L437.8 363.60 L438.6 363.60 L439.4 363.60 L440.2 363.60 L441.0 363.60 L441.8 363.60 L442.6 363.60 L443.4 363.60 L444.2 363.60 L445.0 363.60 L445.8 363.26 L446.6 363.60 L447.4 363.60 L448.2 363.60 L449.0 363.60 L449.8 363.60 L450.6 363.60 L451.4 363.60 L452.2 363.60 L453.0 363.60 L453.8 363.60 L454.6 363.60 L455.4 363.60 L456.2 363.60 L457.0 363.60 L457.8 363.60 L458.6 363.60 L459.4 363.60 L460.2 362.79 L461.0 363.49 L461.8 362.86 L462.6 363.21 L463.4 363.58 L464.2 363.60 L465.0 363.60 L465.8 363.60 L466.6 363.60 L467.4 363.60 L468.2 363.60 L469.0 363.60 L469.8 363.60 L470.6 363.60 L471.4 363.60 L472.2 363.60 L473.0 363.60 L473.8 363.23 L474.6 363.60 L475.4 363.60 L476.2 363.60 L477.0 363.33 L477.8 363.60 L478.6 363.60 L479.4 363.60 L480.2 363.60 L481.0 363.60 L481.8 363.60 L482.6 363.60 L483.4 363.60 L484.2 363.60 L485.0 363.60 L485.8 363.60 L486.6 363.60 L487.4 363.60 L488.2 363.60 L489.0 363.60 L489.8 363.51 L490.6 363.60 L491.4 363.60 L492.2 363.60 L493.0 363.60 L493.8 363.60 L494.0 363.6 Z" fill="#2e8b3a"/>
<line x1="261.00" y1="386.30" x2="494.00" y2="386.30" stroke="#66b36e" stroke-width="0.8"/>
<path d="M261.0 386.3 L261.0 386.29 L261.8 386.30 L262.6 386.30 L263.4 386.30 L264.2 386.30 L265.0 386.30 L265.8 386.30 L266.6 385.49 L267.4 386.30 L268.2 386.30 L269.0 386.30 L269.8 386.30 L270.6 385.50 L271.4 386.30 L272.2 386.30 L273.0 386.30 L273.8 386.30 L274.6 386.30 L275.4 385.46 L276.2 386.30 L277.0 386.30 L277.8 386.30 L278.6 386.30 L279.4 386.30 L280.2 386.30 L281.0 386.30 L281.8 386.14 L282.6 385.34 L283.4 385.34 L284.2 386.14 L285.0 386.30 L285.8 386.30 L286.6 386.30 L287.4 386.30 L288.2 386.30 L289.0 386.30 L289.8 386.16 L290.6 385.50 L291.4 385.50 L292.2 386.16 L293.0 386.30 L293.8 386.30 L294.6 386.30 L295.4 385.82 L296.2 386.30 L297.0 386.30 L297.8 386.19 L298.6 386.30 L299.4 386.30 L300.2 386.30 L301.0 386.30 L301.8 386.30 L302.6 386.30 L303.4 385.70 L304.2 386.30 L305.0 386.30 L305.8 386.30 L306.6 386.06 L307.4 386.30 L308.2 386.30 L309.0 386.30 L309.8 386.30 L310.6 386.30 L311.4 386.30 L312.2 386.30 L313.0 386.30 L313.8 386.30 L314.6 386.30 L315.4 386.30 L316.2 386.30 L317.0 386.30 L317.8 386.30 L318.6 386.30 L319.4 386.30 L320.2 386.30 L321.0 386.30 L321.8 386.30 L322.6 386.30 L323.4 386.30 L324.2 386.30 L325.0 386.30 L325.8 386.30 L326.6 386.30 L327.4 386.30 L328.2 386.30 L329.0 386.30 L329.8 386.30 L330.6 386.30 L331.4 386.30 L332.2 386.30 L333.0 386.30 L333.8 386.30 L334.6 386.30 L335.4 386.14 L336.2 386.30 L337.0 386.30 L337.8 386.30 L338.6 385.79 L339.4 386.30 L340.2 386.30 L341.0 386.30 L341.8 386.02 L342.6 386.30 L343.4 386.30 L344.2 386.30 L345.0 386.30 L345.8 386.30 L346.6 386.30 L347.4 386.30 L348.2 386.30 L349.0 386.30 L349.8 386.30 L350.6 386.30 L351.4 385.69 L352.2 386.30 L353.0 386.30 L353.8 386.30 L354.6 386.30 L355.4 386.30 L356.2 386.30 L357.0 386.30 L357.8 386.30 L358.6 386.30 L359.4 386.30 L360.2 385.48 L361.0 386.30 L361.8 386.30 L362.6 386.26 L363.4 386.30 L364.2 386.30 L365.0 386.30 L365.8 386.30 L366.6 386.02 L367.4 386.30 L368.2 386.30 L369.0 386.30 L369.8 386.30 L370.6 386.30 L371.4 386.30 L372.2 386.30 L373.0 386.30 L373.8 386.30 L374.6 385.55 L375.4 386.30 L376.2 386.30 L377.0 385.40 L377.8 385.38 L378.6 385.59 L379.4 385.57 L380.2 386.30 L381.0 386.30 L381.8 386.30 L382.6 385.67 L383.4 386.30 L384.2 386.30 L385.0 386.30 L385.8 386.30 L386.6 385.45 L387.4 386.30 L388.2 386.30 L389.0 386.30 L389.8 386.30 L390.6 386.30 L391.4 386.30 L392.2 386.30 L393.0 385.67 L393.8 386.30 L394.6 386.30 L395.4 386.30 L396.2 386.30 L397.0 386.30 L397.8 385.58 L398.6 383.20 L399.4 378.21 L400.2 384.67 L401.0 386.27 L401.8 386.30 L402.6 386.30 L403.4 386.30 L404.2 385.95 L405.0 385.23 L405.8 382.45 L406.6 385.23 L407.4 386.28 L408.2 386.30 L409.0 386.30 L409.8 386.30 L410.6 386.30 L411.4 386.30 L412.2 386.30 L413.0 386.19 L413.8 385.50 L414.6 386.19 L415.4 386.30 L416.2 386.30 L417.0 386.30 L417.8 386.30 L418.6 386.30 L419.4 386.30 L420.2 386.30 L421.0 386.30 L421.8 386.30 L422.6 386.30 L423.4 386.30 L424.2 386.30 L425.0 386.30 L425.8 386.04 L426.6 386.30 L427.4 386.30 L428.2 386.05 L429.0 386.30 L429.8 386.30 L430.6 386.30 L431.4 386.01 L432.2 386.30 L433.0 386.30 L433.8 386.30 L434.6 386.29 L435.4 386.30 L436.2 386.30 L437.0 385.65 L437.8 386.30 L438.6 386.30 L439.4 385.86 L440.2 386.30 L441.0 386.30 L441.8 386.30 L442.6 385.47 L443.4 386.30 L444.2 386.30 L445.0 386.30 L445.8 386.30 L446.6 386.30 L447.4 386.30 L448.2 386.30 L449.0 385.60 L449.8 386.30 L450.6 386.30 L451.4 386.30 L452.2 386.30 L453.0 386.30 L453.8 386.30 L454.6 386.30 L455.4 386.30 L456.2 386.30 L457.0 386.30 L457.8 386.30 L458.6 386.30 L459.4 386.30 L460.2 386.30 L461.0 386.19 L461.8 385.56 L462.6 385.91 L463.4 386.28 L464.2 386.30 L465.0 385.79 L465.8 386.30 L466.6 386.30 L467.4 386.30 L468.2 386.30 L469.0 386.30 L469.8 386.30 L470.6 386.30 L471.4 386.30 L472.2 386.30 L473.0 386.30 L473.8 385.68 L474.6 386.30 L475.4 386.30 L476.2 386.30 L477.0 386.26 L477.8 386.30 L478.6 386.30 L479.4 386.30 L480.2 385.54 L481.0 386.30 L481.8 386.30 L482.6 386.30 L483.4 386.30 L484.2 386.30 L485.0 386.30 L485.8 386.30 L486.6 386.30 L487.4 386.30 L488.2 386.30 L489.0 386.30 L489.8 386.30 L490.6 386.30 L491.4 386.30 L492.2 386.30 L493.0 386.30 L493.8 386.30 L494.0 386.3 Z" fill="#2e8b3a"/>
<text x="262.00" y="399.20" font-size="8.5" textLength="32.50" lengthAdjust="spacingAndGlyphs">[0 - 150]</text>
<text x="262.00" y="426.20" font-size="8.5" textLength="32.50" lengthAdjust="spacingAndGlyphs">[0 - 150]</text>
<path d="M261.0 414.6 V405.8 H262.6 V403.9 H264.2 V407.3 H265.7 V408.6 H269.5 V400.8 H271.5 V398.1 H273.4 V395.8 H275.0 V399.6 H276.5 V402.3 H277.6 V409.3 H283.0 V414.6 H288.4 V396.6 H290.6 V401.5 H292.8 V404.5 H294.2 V391.6 H296.8 V406.0 H298.6 V402.9 H299.6 V402.9 H301.8 V403.3 H303.2 V407.5 H304.2 V403.7 H305.6 V405.0 H307.4 V406.6 H310.0 V403.8 H311.0 V405.6 H312.8 V403.7 H313.8 V398.4 H315.2 V403.5 H317.8 V406.1 H319.6 V407.3 H320.6 V405.7 H321.6 V406.1 H323.8 V403.9 H325.2 V401.6 H326.2 V404.3 H328.4 V397.8 H329.8 V404.3 H332.0 V408.0 H334.6 V406.8 H336.0 V406.8 H338.2 V404.2 H340.0 V407.5 H342.6 V408.2 H344.0 V405.6 H346.6 V408.1 H348.0 V407.5 H350.6 V408.9 H351.6 V409.3 H353.0 V406.8 H355.6 V404.7 H357.8 V408.4 H360.0 V404.9 H361.4 V408.6 H362.8 V408.4 H365.4 V406.2 H367.6 V408.9 H368.6 V408.2 H370.4 V407.2 H372.2 V408.0 H374.4 V408.9 H375.4 V406.3 H378.0 V399.3 H379.4 V402.1 H381.6 V408.1 H383.0 V409.2 H384.4 V404.2 H386.6 V405.5 H389.2 V402.7 H390.2 V403.7 H392.0 V396.4 H393.0 V402.6 H394.0 V407.1 H395.0 V400.6 H396.0 V401.5 H397.4 V407.2 H399.2 V402.0 H400.2 V402.5 H401.2 V404.5 H403.8 V399.0 H404.8 V403.4 H405.8 V407.0 H407.6 V406.8 H410.2 V409.0 H412.8 V403.1 H413.8 V408.3 H414.8 V405.5 H417.0 V404.1 H419.2 V409.1 H421.0 V409.1 H423.6 V407.6 H425.8 V406.9 H428.0 V406.4 H430.2 V406.2 H431.6 V406.2 H434.2 V408.3 H435.6 V407.4 H436.6 V407.0 H438.4 V409.5 H440.6 V409.2 H442.8 V407.9 H444.6 V405.3 H447.2 V409.9 H448.2 V408.9 H450.0 V411.1 H452.6 V410.6 H454.8 V410.5 H456.6 V408.0 H457.6 V409.3 H458.6 V408.2 H460.4 V408.8 H461.8 V409.1 H462.8 V411.1 H463.8 V410.0 H465.6 V409.9 H468.2 V409.3 H470.4 V411.7 H471.8 V411.6 H474.0 V411.0 H475.0 V410.0 H477.6 V411.4 H479.8 V410.5 H480.8 V411.8 H481.8 V410.0 H482.8 V411.8 H484.6 V409.6 H485.6 V411.8 H487.8 V409.4 H489.6 V409.7 H490.6 V412.0 H493.2 V411.9 H494.0 V414.6 Z" fill="#901d8b"/>
<path d="M261.0 441.3 V433.3 H263.0 V431.3 H264.9 V434.4 H266.5 V433.3 H269.2 V428.3 H271.0 V424.0 H272.2 V418.6 H274.5 V431.8 H276.5 V435.3 H278.4 V435.6 H283.0 V441.3 H288.4 V430.8 H290.6 V426.0 H292.4 V430.0 H294.2 V429.0 H296.4 V434.7 H299.0 V432.8 H301.2 V434.9 H302.6 V432.1 H303.6 V422.8 H305.8 V430.5 H306.8 V435.1 H308.2 V435.0 H310.4 V432.6 H311.8 V434.9 H314.4 V432.7 H315.4 V433.6 H316.4 V433.3 H319.0 V435.9 H321.6 V430.7 H323.0 V431.0 H324.8 V432.6 H327.0 V434.5 H328.4 V432.1 H331.0 V434.4 H332.0 V433.8 H333.0 V436.3 H335.2 V436.0 H337.8 V436.2 H339.2 V435.2 H341.4 V434.0 H342.4 V435.2 H344.2 V435.4 H346.4 V432.0 H348.6 V432.8 H350.0 V436.7 H352.6 V435.8 H354.4 V436.5 H357.0 V431.8 H358.8 V432.2 H359.8 V433.6 H361.6 V434.3 H364.2 V435.5 H366.0 V434.6 H367.4 V435.5 H368.4 V433.7 H371.0 V433.3 H372.4 V433.6 H373.4 V434.2 H374.8 V435.7 H376.2 V434.2 H377.2 V433.3 H379.0 V436.5 H381.6 V434.2 H383.0 V434.0 H384.8 V436.8 H386.2 V432.6 H387.2 V433.5 H389.4 V431.3 H391.6 V433.7 H393.0 V432.0 H395.6 V431.4 H397.0 V424.8 H399.2 V433.7 H401.0 V432.0 H402.4 V432.4 H404.2 V430.0 H406.4 V433.5 H408.6 V433.4 H409.6 V426.1 H411.0 V436.8 H412.4 V432.8 H414.2 V435.9 H416.0 V432.8 H418.6 V435.0 H421.2 V435.1 H422.6 V433.6 H423.6 V434.3 H426.2 V434.5 H428.8 V435.2 H429.8 V429.5 H431.6 V434.0 H433.8 V437.1 H435.2 V437.2 H437.8 V434.8 H440.0 V436.9 H442.6 V436.9 H445.2 V435.1 H446.2 V436.7 H448.4 V437.1 H450.2 V437.0 H452.4 V437.8 H453.8 V438.1 H455.6 V435.8 H456.6 V435.5 H458.4 V436.0 H459.8 V436.4 H461.2 V435.3 H463.8 V438.2 H465.2 V436.2 H467.0 V434.6 H468.8 V437.9 H469.8 V437.8 H471.2 V437.0 H472.6 V437.9 H474.4 V437.1 H476.6 V437.5 H477.6 V438.1 H479.0 V437.1 H480.0 V438.1 H482.2 V437.8 H484.0 V438.7 H485.4 V437.9 H487.6 V435.2 H488.6 V438.4 H491.2 V438.6 H492.2 V438.6 H494.0 V441.3 Z" fill="#901d8b"/>
<rect x="397.40" y="392.80" width="1.60" height="21.80" fill="#901d8b"/>
<rect x="400.20" y="399.00" width="1.40" height="15.60" fill="#901d8b"/>
<rect x="388.20" y="401.20" width="1.60" height="13.40" fill="#901d8b"/>
<rect x="293.60" y="391.50" width="1.40" height="23.10" fill="#901d8b"/>
<rect x="302.00" y="397.00" width="1.40" height="17.60" fill="#901d8b"/>
<rect x="305.60" y="399.50" width="1.40" height="15.10" fill="#901d8b"/>
<rect x="325.30" y="400.60" width="1.40" height="14.00" fill="#901d8b"/>
<text x="262.00" y="454.00" font-size="8.5" textLength="32.00" lengthAdjust="spacingAndGlyphs">[−75 - 75]</text>
<line x1="261.00" y1="459.80" x2="494.00" y2="459.80" stroke="#b8c870" stroke-width="0.6"/>
<path d="M261.0 459.8 V459.5 H262.2 V458.1 H263.0 V459.8 H264.0 V458.2 H265.5 V459.8 H267.0 V459.8 H268.0 V459.8 H269.0 V459.8 H269.8 V459.4 H271.3 V459.4 H272.3 V458.8 H273.3 V459.8 H274.3 V459.8 H275.3 V459.8 H276.5 V459.5 H277.5 V459.8 H278.3 V459.8 H279.5 V459.8 H280.3 V459.8 H281.5 V459.8 H282.7 V459.8 H283.9 V459.8 H285.4 V459.8 H286.6 V459.8 H287.6 V459.8 H289.1 V459.8 H290.6 V459.8 H291.6 V459.8 H292.4 V459.8 H293.6 V459.8 H294.4 V458.7 H295.6 V459.4 H297.1 V459.8 H298.3 V455.6 H299.8 V459.8 H300.6 V459.8 H301.6 V458.8 H302.4 V459.8 H303.9 V459.8 H305.1 V459.4 H306.3 V455.7 H307.8 V456.3 H309.0 V453.0 H310.2 V458.1 H311.0 V459.8 H312.0 V457.0 H313.0 V459.7 H314.2 V456.2 H315.0 V459.8 H316.2 V459.8 H317.0 V459.5 H318.0 V459.8 H319.5 V459.3 H320.5 V459.8 H322.0 V459.0 H322.8 V456.6 H324.0 V459.8 H325.5 V459.8 H326.3 V459.8 H327.8 V458.1 H328.8 V457.6 H330.3 V457.9 H331.3 V458.3 H332.1 V459.8 H333.6 V457.1 H334.6 V459.5 H336.1 V459.8 H337.3 V459.0 H338.8 V456.5 H339.8 V456.9 H340.8 V458.4 H342.3 V459.8 H343.8 V459.8 H345.0 V459.4 H346.2 V458.5 H347.0 V459.8 H347.8 V459.8 H349.0 V456.9 H350.2 V459.7 H351.7 V453.8 H352.9 V459.8 H354.1 V459.8 H354.9 V459.8 H356.4 V459.6 H357.6 V459.7 H359.1 V457.0 H360.3 V459.5 H361.5 V457.5 H363.0 V458.2 H364.2 V459.8 H365.7 V457.0 H366.9 V459.8 H367.9 V456.9 H368.9 V459.8 H370.4 V459.8 H371.6 V459.8 H373.1 V459.8 H374.1 V459.8 H375.6 V459.8 H376.8 V459.8 H378.0 V458.3 H378.8 V456.8 H379.8 V459.1 H380.8 V459.8 H381.6 V458.0 H383.1 V459.3 H384.1 V459.7 H384.9 V457.3 H385.9 V459.8 H386.7 V456.9 H387.5 V457.9 H388.5 V450.6 H389.3 V459.8 H390.5 V457.8 H392.0 V459.8 H392.8 V459.8 H393.6 V455.9 H394.8 V456.2 H396.0 V450.7 H397.2 V459.8 H398.7 V455.2 H400.2 V459.8 H401.4 V454.9 H402.9 V454.9 H404.4 V454.5 H405.4 V459.7 H406.6 V459.8 H407.4 V457.0 H408.4 V459.8 H409.6 V459.8 H411.1 V459.8 H412.6 V458.0 H413.8 V456.2 H415.3 V459.4 H416.3 V459.1 H417.5 V459.8 H418.7 V453.7 H420.2 V458.5 H421.4 V458.1 H422.9 V459.6 H423.7 V459.8 H424.5 V459.8 H425.5 V458.2 H426.7 V458.9 H428.2 V459.8 H429.0 V458.9 H430.0 V458.9 H431.5 V459.8 H432.7 V459.5 H433.7 V459.8 H435.2 V459.8 H436.7 V459.6 H437.5 V459.1 H438.3 V459.8 H439.5 V459.4 H440.7 V459.7 H441.9 V459.8 H443.1 V459.8 H444.1 V457.8 H444.9 V459.4 H445.7 V457.2 H446.7 V459.2 H448.2 V457.9 H449.7 V459.8 H451.2 V459.8 H452.7 V459.8 H453.9 V459.2 H455.4 V459.8 H456.2 V459.8 H457.7 V459.8 H459.2 V458.5 H460.4 V458.3 H461.9 V459.8 H463.1 V459.7 H463.9 V459.5 H464.7 V459.8 H465.5 V459.6 H466.3 V459.6 H467.8 V457.4 H468.6 V459.4 H469.4 V458.9 H470.2 V459.8 H471.0 V457.4 H472.0 V459.5 H473.5 V459.1 H474.5 V458.7 H475.5 V459.7 H476.3 V459.7 H477.1 V459.4 H478.6 V459.8 H479.4 V458.9 H480.9 V459.8 H482.4 V459.8 H483.2 V457.8 H484.7 V458.3 H485.9 V459.8 H486.7 V459.6 H487.7 V459.8 H488.9 V459.5 H489.9 V457.8 H491.1 V459.8 H492.3 V459.5 H493.3 V459.8 H494.5 V459.8 Z" fill="#98c232"/>
<path d="M261.0 459.8 V459.8 H262.2 V459.8 H263.0 V462.0 H264.0 V459.8 H265.5 V462.0 H267.0 V459.9 H268.0 V463.9 H269.0 V461.0 H269.8 V459.8 H271.3 V459.8 H272.3 V459.8 H273.3 V460.4 H274.3 V465.3 H275.3 V460.1 H276.5 V459.8 H277.5 V462.6 H278.3 V459.8 H279.5 V459.8 H280.3 V459.8 H281.5 V459.8 H282.7 V459.8 H283.9 V459.8 H285.4 V459.8 H286.6 V459.8 H287.6 V459.8 H289.1 V459.8 H290.6 V459.8 H291.6 V459.8 H292.4 V459.8 H293.6 V459.8 H294.4 V459.8 H295.6 V459.8 H297.1 V462.5 H298.3 V459.8 H299.8 V459.9 H300.6 V462.5 H301.6 V459.8 H302.4 V464.9 H303.9 V464.4 H305.1 V459.8 H306.3 V459.8 H307.8 V459.8 H309.0 V459.8 H310.2 V459.8 H311.0 V460.6 H312.0 V459.8 H313.0 V459.8 H314.2 V459.8 H315.0 V459.8 H316.2 V460.7 H317.0 V459.8 H318.0 V460.8 H319.5 V459.8 H320.5 V460.0 H322.0 V459.8 H322.8 V459.8 H324.0 V459.8 H325.5 V460.1 H326.3 V459.9 H327.8 V459.8 H328.8 V459.8 H330.3 V459.8 H331.3 V459.8 H332.1 V460.5 H333.6 V459.8 H334.6 V459.8 H336.1 V460.8 H337.3 V459.8 H338.8 V459.8 H339.8 V459.8 H340.8 V459.8 H342.3 V460.1 H343.8 V461.6 H345.0 V459.8 H346.2 V459.8 H347.0 V462.4 H347.8 V461.2 H349.0 V459.8 H350.2 V459.8 H351.7 V459.8 H352.9 V460.7 H354.1 V461.2 H354.9 V460.6 H356.4 V459.8 H357.6 V459.8 H359.1 V459.8 H360.3 V459.8 H361.5 V459.8 H363.0 V459.8 H364.2 V459.8 H365.7 V459.8 H366.9 V459.8 H367.9 V459.8 H368.9 V463.1 H370.4 V460.3 H371.6 V462.1 H373.1 V462.5 H374.1 V462.2 H375.6 V461.6 H376.8 V461.5 H378.0 V459.8 H378.8 V459.8 H379.8 V459.8 H380.8 V460.4 H381.6 V459.8 H383.1 V459.8 H384.1 V459.8 H384.9 V459.8 H385.9 V461.4 H386.7 V459.8 H387.5 V459.8 H388.5 V459.8 H389.3 V461.0 H390.5 V459.8 H392.0 V460.2 H392.8 V461.9 H393.6 V459.8 H394.8 V459.8 H396.0 V459.8 H397.2 V460.6 H398.7 V459.8 H400.2 V464.8 H401.4 V459.8 H402.9 V459.8 H404.4 V459.8 H405.4 V459.8 H406.6 V460.9 H407.4 V459.8 H408.4 V463.3 H409.6 V463.6 H411.1 V460.8 H412.6 V459.8 H413.8 V459.8 H415.3 V459.8 H416.3 V459.8 H417.5 V461.1 H418.7 V459.8 H420.2 V459.8 H421.4 V459.8 H422.9 V459.8 H423.7 V461.9 H424.5 V463.4 H425.5 V459.8 H426.7 V459.8 H428.2 V461.7 H429.0 V459.8 H430.0 V459.8 H431.5 V460.6 H432.7 V459.8 H433.7 V460.7 H435.2 V463.0 H436.7 V459.8 H437.5 V459.8 H438.3 V460.8 H439.5 V459.8 H440.7 V459.8 H441.9 V460.4 H443.1 V461.5 H444.1 V459.8 H444.9 V459.8 H445.7 V459.8 H446.7 V459.8 H448.2 V459.8 H449.7 V461.3 H451.2 V460.2 H452.7 V461.3 H453.9 V459.8 H455.4 V459.8 H456.2 V461.0 H457.7 V460.3 H459.2 V459.8 H460.4 V459.8 H461.9 V460.7 H463.1 V459.8 H463.9 V459.8 H464.7 V460.4 H465.5 V459.8 H466.3 V459.8 H467.8 V459.8 H468.6 V459.8 H469.4 V459.8 H470.2 V460.2 H471.0 V459.8 H472.0 V459.8 H473.5 V459.8 H474.5 V459.8 H475.5 V459.8 H476.3 V459.8 H477.1 V459.8 H478.6 V460.4 H479.4 V459.8 H480.9 V459.9 H482.4 V460.1 H483.2 V459.8 H484.7 V459.8 H485.9 V459.9 H486.7 V459.8 H487.7 V460.1 H488.9 V459.8 H489.9 V459.8 H491.1 V460.1 H492.3 V459.8 H493.3 V460.6 H494.5 V459.8 Z" fill="#cfa51e"/>
<rect x="398.00" y="448.80" width="1.40" height="11.00" fill="#98c232"/>
<rect x="388.00" y="452.70" width="1.20" height="7.10" fill="#98c232"/>
<rect x="295.00" y="454.00" width="1.30" height="5.80" fill="#98c232"/>
<rect x="400.60" y="452.50" width="1.20" height="7.30" fill="#98c232"/>
<text x="76.50" y="465.40" font-size="8.5" textLength="32.90" lengthAdjust="spacingAndGlyphs">HUDEP2</text>
<line x1="59.20" y1="470.70" x2="128.50" y2="470.70" stroke="#231f20" stroke-width="1.0"/>
<text x="65.00" y="491.50" font-size="8.5" textLength="23.60" lengthAdjust="spacingAndGlyphs">Scram</text>
<text x="97.60" y="480.30" font-size="7.9" textLength="29.40" lengthAdjust="spacingAndGlyphs">let-7a/f</text>
<text x="105.80" y="491.50" font-size="8.5" textLength="14.50" lengthAdjust="spacingAndGlyphs">TuD</text>
<line x1="60.40" y1="495.40" x2="93.40" y2="495.40" stroke="#231f20" stroke-width="1.0"/>
<line x1="97.30" y1="495.40" x2="127.30" y2="495.40" stroke="#231f20" stroke-width="1.0"/>
<text x="54.30" y="531.20" font-size="8.5" transform="rotate(-90 54.30 531.20)" textLength="31.20" lengthAdjust="spacingAndGlyphs">HUDEP1</text>
<text x="73.60" y="531.20" font-size="8.5" transform="rotate(-90 73.60 531.20)" textLength="19.70" lengthAdjust="spacingAndGlyphs">CTRL</text>
<text x="89.30" y="531.20" font-size="8.5" transform="rotate(-90 89.30 531.20)" textLength="32.40" lengthAdjust="spacingAndGlyphs">HIC2 KO</text>
<text x="108.90" y="531.20" font-size="8.5" transform="rotate(-90 108.90 531.20)" textLength="19.70" lengthAdjust="spacingAndGlyphs">CTRL</text>
<text x="126.30" y="531.20" font-size="8.5" transform="rotate(-90 126.30 531.20)" textLength="32.40" lengthAdjust="spacingAndGlyphs">HIC2 KO</text>
<text x="22.30" y="526.50" font-size="8.5" textLength="10.70" lengthAdjust="spacingAndGlyphs">kD</text>
<filter id="bl" x="-30%" y="-100%" width="160%" height="300%"><feGaussianBlur stdDeviation="0.75"/></filter>
<rect x="40.20" y="535.40" width="91.40" height="9.40" fill="#dedede"/>
<rect x="42.8" y="538.4" width="14.5" height="4.6" rx="2.3" fill="rgb(0,0,0)" filter="url(#bl)"/>
<rect x="61.8" y="539.4" width="11.5" height="2.6" rx="1.3" fill="rgb(133,133,133)" filter="url(#bl)"/>
<rect x="79.2" y="539.5" width="11.5" height="2.4" rx="1.2" fill="rgb(151,151,151)" filter="url(#bl)"/>
<rect x="97.5" y="539.0" width="13.5" height="3.4" rx="1.7" fill="rgb(51,51,51)" filter="url(#bl)"/>
<rect x="116.2" y="539.4" width="12.0" height="2.6" rx="1.3" fill="rgb(138,138,138)" filter="url(#bl)"/>
<rect x="40.20" y="535.40" width="91.40" height="9.40" fill="none" stroke="#1e1e1e" stroke-width="1.3"/>
<rect x="40.20" y="548.30" width="91.40" height="11.30" fill="#bdbdbd"/>
<rect x="43.5" y="552.5" width="13.0" height="2.8" rx="1.4" fill="rgb(144,144,144)" filter="url(#bl)"/>
<rect x="61.2" y="552.4" width="12.5" height="3.0" rx="1.5" fill="rgb(40,40,40)" filter="url(#bl)"/>
<rect x="78.8" y="552.4" width="12.5" height="3.0" rx="1.5" fill="rgb(44,44,44)" filter="url(#bl)"/>
<rect x="98.0" y="552.5" width="12.5" height="2.8" rx="1.4" fill="rgb(107,107,107)" filter="url(#bl)"/>
<rect x="115.2" y="552.1" width="14.0" height="3.6" rx="1.8" fill="rgb(18,18,18)" filter="url(#bl)"/>
<rect x="40.20" y="548.30" width="91.40" height="11.30" fill="none" stroke="#1e1e1e" stroke-width="1.3"/>
<rect x="40.20" y="563.20" width="91.40" height="11.20" fill="#e3e3e3"/>
<rect x="42.8" y="566.3" width="14.5" height="5.4" rx="2.7" fill="rgb(0,0,0)" filter="url(#bl)"/>
<rect x="40.20" y="563.20" width="91.40" height="11.20" fill="none" stroke="#1e1e1e" stroke-width="1.3"/>
<rect x="40.20" y="577.70" width="91.40" height="11.30" fill="#d9d9d9"/>
<rect x="42.5" y="582.1" width="15.0" height="3.0" rx="1.5" fill="rgb(70,70,70)" filter="url(#bl)"/>
<rect x="60.5" y="582.1" width="14.0" height="3.0" rx="1.5" fill="rgb(55,55,55)" filter="url(#bl)"/>
<rect x="77.5" y="582.1" width="15.0" height="3.0" rx="1.5" fill="rgb(59,59,59)" filter="url(#bl)"/>
<rect x="97.0" y="582.1" width="14.5" height="3.0" rx="1.5" fill="rgb(66,66,66)" filter="url(#bl)"/>
<rect x="114.7" y="582.1" width="15.0" height="3.0" rx="1.5" fill="rgb(51,51,51)" filter="url(#bl)"/>
<rect x="40.20" y="577.70" width="91.40" height="11.30" fill="none" stroke="#1e1e1e" stroke-width="1.3"/>
<rect x="40.20" y="592.80" width="91.40" height="14.40" fill="#e0e0e0"/>
<rect x="41.1" y="595.3" width="21.0" height="9.2" rx="4.6" fill="rgb(0,0,0)" filter="url(#bl)"/>
<rect x="62.0" y="597.7" width="11.0" height="2.2" rx="1.1" fill="rgb(155,155,155)" filter="url(#bl)"/>
<rect x="79.5" y="597.7" width="11.0" height="2.2" rx="1.1" fill="rgb(166,166,166)" filter="url(#bl)"/>
<rect x="96.7" y="597.1" width="15.0" height="3.4" rx="1.7" fill="rgb(22,22,22)" filter="url(#bl)"/>
<rect x="115.0" y="597.3" width="14.5" height="3.0" rx="1.5" fill="rgb(40,40,40)" filter="url(#bl)"/>
<rect x="40.20" y="592.80" width="91.40" height="14.40" fill="none" stroke="#1e1e1e" stroke-width="1.3"/>
<text x="134.80" y="543.80" font-size="8.5">HIC2</text>
<text x="134.80" y="557.40" font-size="8.5">BCL11A</text>
<text x="134.80" y="571.20" font-size="8.5">LIN28B</text>
<text x="134.80" y="586.20" font-size="8.5">ACTIN</text>
<text x="134.80" y="602.00" font-size="8.5">HBG</text>
<text x="31.40" y="541.50" font-size="8.5" text-anchor="end">75</text>
<text x="31.40" y="558.40" font-size="8.5" text-anchor="end">100</text>
<text x="31.40" y="568.00" font-size="8.5" text-anchor="end">37</text>
<text x="31.40" y="589.80" font-size="8.5" text-anchor="end">37</text>
<text x="31.40" y="598.80" font-size="8.5" text-anchor="end">15</text>
<line x1="35.00" y1="539.30" x2="38.80" y2="539.30" stroke="#231f20" stroke-width="0.9"/>
<line x1="35.00" y1="556.50" x2="38.80" y2="556.50" stroke="#231f20" stroke-width="0.9"/>
<line x1="35.00" y1="563.90" x2="38.80" y2="563.90" stroke="#231f20" stroke-width="0.9"/>
<line x1="35.00" y1="590.00" x2="38.80" y2="590.00" stroke="#231f20" stroke-width="0.9"/>
<line x1="35.00" y1="592.30" x2="38.80" y2="592.30" stroke="#231f20" stroke-width="0.9"/>
<line x1="240.10" y1="513.80" x2="240.10" y2="591.90" stroke="#231f20" stroke-width="1.0"/>
<line x1="240.10" y1="591.40" x2="292.70" y2="591.40" stroke="#231f20" stroke-width="1.0"/>
<line x1="236.30" y1="591.40" x2="240.10" y2="591.40" stroke="#231f20" stroke-width="1.0"/>
<text x="234.80" y="594.40" font-size="8.5" text-anchor="end">0</text>
<line x1="236.30" y1="572.00" x2="240.10" y2="572.00" stroke="#231f20" stroke-width="1.0"/>
<text x="234.80" y="575.00" font-size="8.5" text-anchor="end">2E-3</text>
<line x1="236.30" y1="552.60" x2="240.10" y2="552.60" stroke="#231f20" stroke-width="1.0"/>
<text x="234.80" y="555.60" font-size="8.5" text-anchor="end">4E-3</text>
<line x1="236.30" y1="533.20" x2="240.10" y2="533.20" stroke="#231f20" stroke-width="1.0"/>
<text x="234.80" y="536.20" font-size="8.5" text-anchor="end">6E-3</text>
<line x1="236.30" y1="513.80" x2="240.10" y2="513.80" stroke="#231f20" stroke-width="1.0"/>
<text x="234.80" y="516.80" font-size="8.5" text-anchor="end">8E-3</text>
<line x1="252.70" y1="591.40" x2="252.70" y2="593.90" stroke="#231f20" stroke-width="1.0"/>
<line x1="281.00" y1="591.40" x2="281.00" y2="593.90" stroke="#231f20" stroke-width="1.0"/>
<text x="266.50" y="505.50" font-size="8.5" text-anchor="middle">BCL11A</text>
<rect x="243.20" y="547.00" width="8.50" height="43.90" fill="#c7c7cc"/>
<rect x="253.20" y="543.40" width="9.10" height="47.50" fill="#f9bc00"/>
<rect x="271.60" y="576.60" width="8.40" height="14.30" fill="#c7c7cc"/>
<rect x="282.20" y="549.70" width="8.40" height="41.20" fill="#f9bc00"/>
<line x1="316.50" y1="513.50" x2="316.50" y2="591.50" stroke="#231f20" stroke-width="1.0"/>
<line x1="316.50" y1="591.00" x2="369.00" y2="591.00" stroke="#231f20" stroke-width="1.0"/>
<line x1="312.70" y1="591.00" x2="316.50" y2="591.00" stroke="#231f20" stroke-width="1.0"/>
<text x="311.20" y="594.00" font-size="8.5" text-anchor="end">0</text>
<line x1="312.70" y1="571.62" x2="316.50" y2="571.62" stroke="#231f20" stroke-width="1.0"/>
<text x="311.20" y="574.62" font-size="8.5" text-anchor="end">1</text>
<line x1="312.70" y1="552.25" x2="316.50" y2="552.25" stroke="#231f20" stroke-width="1.0"/>
<text x="311.20" y="555.25" font-size="8.5" text-anchor="end">2</text>
<line x1="312.70" y1="532.88" x2="316.50" y2="532.88" stroke="#231f20" stroke-width="1.0"/>
<text x="311.20" y="535.88" font-size="8.5" text-anchor="end">3</text>
<line x1="312.70" y1="513.50" x2="316.50" y2="513.50" stroke="#231f20" stroke-width="1.0"/>
<text x="311.20" y="516.50" font-size="8.5" text-anchor="end">4</text>
<line x1="328.80" y1="591.00" x2="328.80" y2="593.50" stroke="#231f20" stroke-width="1.0"/>
<line x1="353.00" y1="591.00" x2="353.00" y2="593.50" stroke="#231f20" stroke-width="1.0"/>
<text x="343.40" y="505.50" font-size="8.5" text-anchor="middle">HBG</text>
<rect x="319.00" y="585.20" width="8.70" height="5.30" fill="#c7c7cc"/>
<rect x="329.60" y="587.10" width="9.20" height="3.40" fill="#f9bc00"/>
<rect x="347.30" y="546.20" width="8.90" height="44.30" fill="#c7c7cc"/>
<rect x="358.00" y="582.00" width="8.50" height="8.50" fill="#f9bc00"/>
<line x1="404.20" y1="513.70" x2="404.20" y2="592.30" stroke="#231f20" stroke-width="1.0"/>
<line x1="404.20" y1="591.80" x2="458.00" y2="591.80" stroke="#231f20" stroke-width="1.0"/>
<line x1="400.40" y1="591.80" x2="404.20" y2="591.80" stroke="#231f20" stroke-width="1.0"/>
<text x="398.90" y="594.80" font-size="8.5" text-anchor="end">0</text>
<line x1="400.40" y1="572.27" x2="404.20" y2="572.27" stroke="#231f20" stroke-width="1.0"/>
<text x="398.90" y="575.27" font-size="8.5" text-anchor="end">2E-4</text>
<line x1="400.40" y1="552.75" x2="404.20" y2="552.75" stroke="#231f20" stroke-width="1.0"/>
<text x="398.90" y="555.75" font-size="8.5" text-anchor="end">4E-4</text>
<line x1="400.40" y1="533.23" x2="404.20" y2="533.23" stroke="#231f20" stroke-width="1.0"/>
<text x="398.90" y="536.23" font-size="8.5" text-anchor="end">6E-4</text>
<line x1="400.40" y1="513.70" x2="404.20" y2="513.70" stroke="#231f20" stroke-width="1.0"/>
<text x="398.90" y="516.70" font-size="8.5" text-anchor="end">8E-4</text>
<line x1="416.00" y1="591.80" x2="416.00" y2="594.30" stroke="#231f20" stroke-width="1.0"/>
<line x1="443.80" y1="591.80" x2="443.80" y2="594.30" stroke="#231f20" stroke-width="1.0"/>
<text x="430.80" y="505.50" font-size="8.5" text-anchor="middle">HIC2</text>
<rect x="407.00" y="560.50" width="8.00" height="30.80" fill="#c7c7cc"/>
<rect x="417.70" y="572.00" width="8.60" height="19.30" fill="#f9bc00"/>
<rect x="434.70" y="541.00" width="8.60" height="50.30" fill="#c7c7cc"/>
<rect x="446.00" y="565.40" width="8.30" height="25.90" fill="#f9bc00"/>
<line x1="247.50" y1="545.00" x2="247.50" y2="549.00" stroke="#231f20" stroke-width="0.8"/>
<line x1="245.90" y1="545.00" x2="249.10" y2="545.00" stroke="#231f20" stroke-width="0.8"/>
<line x1="245.90" y1="549.00" x2="249.10" y2="549.00" stroke="#231f20" stroke-width="0.8"/>
<circle cx="245.5" cy="547.5" r="1.45" fill="#fff" stroke="#231f20" stroke-width="0.85"/>
<circle cx="248.0" cy="546.5" r="1.45" fill="#fff" stroke="#231f20" stroke-width="0.85"/>
<circle cx="250.0" cy="547.5" r="1.45" fill="#fff" stroke="#231f20" stroke-width="0.85"/>
<circle cx="247.5" cy="545.3" r="1.45" fill="#fff" stroke="#231f20" stroke-width="0.85"/>
<line x1="257.80" y1="539.50" x2="257.80" y2="546.00" stroke="#231f20" stroke-width="0.8"/>
<line x1="256.20" y1="539.50" x2="259.40" y2="539.50" stroke="#231f20" stroke-width="0.8"/>
<line x1="256.20" y1="546.00" x2="259.40" y2="546.00" stroke="#231f20" stroke-width="0.8"/>
<circle cx="255.5" cy="542.5" r="1.45" fill="#fff" stroke="#231f20" stroke-width="0.85"/>
<circle cx="257.8" cy="544.5" r="1.45" fill="#fff" stroke="#231f20" stroke-width="0.85"/>
<circle cx="260.0" cy="544.0" r="1.45" fill="#fff" stroke="#231f20" stroke-width="0.85"/>
<circle cx="260.5" cy="539.8" r="1.45" fill="#fff" stroke="#231f20" stroke-width="0.85"/>
<circle cx="256.5" cy="540.5" r="1.45" fill="#fff" stroke="#231f20" stroke-width="0.85"/>
<line x1="275.80" y1="575.80" x2="275.80" y2="577.50" stroke="#231f20" stroke-width="0.8"/>
<line x1="274.20" y1="575.80" x2="277.40" y2="575.80" stroke="#231f20" stroke-width="0.8"/>
<line x1="274.20" y1="577.50" x2="277.40" y2="577.50" stroke="#231f20" stroke-width="0.8"/>
<circle cx="274.0" cy="576.6" r="1.45" fill="#fff" stroke="#231f20" stroke-width="0.85"/>
<circle cx="276.0" cy="576.6" r="1.45" fill="#fff" stroke="#231f20" stroke-width="0.85"/>
<circle cx="278.0" cy="576.6" r="1.45" fill="#fff" stroke="#231f20" stroke-width="0.85"/>
<line x1="286.40" y1="546.50" x2="286.40" y2="552.00" stroke="#231f20" stroke-width="0.8"/>
<line x1="284.80" y1="546.50" x2="288.00" y2="546.50" stroke="#231f20" stroke-width="0.8"/>
<line x1="284.80" y1="552.00" x2="288.00" y2="552.00" stroke="#231f20" stroke-width="0.8"/>
<circle cx="284.5" cy="549.0" r="1.45" fill="#fff" stroke="#231f20" stroke-width="0.85"/>
<circle cx="287.0" cy="550.5" r="1.45" fill="#fff" stroke="#231f20" stroke-width="0.85"/>
<circle cx="289.0" cy="548.5" r="1.45" fill="#fff" stroke="#231f20" stroke-width="0.85"/>
<circle cx="289.0" cy="546.5" r="1.45" fill="#fff" stroke="#231f20" stroke-width="0.85"/>
<line x1="272.20" y1="534.90" x2="290.60" y2="534.90" stroke="#231f20" stroke-width="0.9"/>
<text x="281.30" y="535.30" font-size="8.5" text-anchor="middle">**</text>
<line x1="323.30" y1="584.20" x2="323.30" y2="586.00" stroke="#231f20" stroke-width="0.8"/>
<line x1="321.70" y1="584.20" x2="324.90" y2="584.20" stroke="#231f20" stroke-width="0.8"/>
<line x1="321.70" y1="586.00" x2="324.90" y2="586.00" stroke="#231f20" stroke-width="0.8"/>
<circle cx="321.5" cy="585.2" r="1.45" fill="#fff" stroke="#231f20" stroke-width="0.85"/>
<circle cx="323.5" cy="585.0" r="1.45" fill="#fff" stroke="#231f20" stroke-width="0.85"/>
<circle cx="325.5" cy="585.2" r="1.45" fill="#fff" stroke="#231f20" stroke-width="0.85"/>
<line x1="334.20" y1="586.50" x2="334.20" y2="588.00" stroke="#231f20" stroke-width="0.8"/>
<line x1="332.60" y1="586.50" x2="335.80" y2="586.50" stroke="#231f20" stroke-width="0.8"/>
<line x1="332.60" y1="588.00" x2="335.80" y2="588.00" stroke="#231f20" stroke-width="0.8"/>
<circle cx="332.0" cy="587.2" r="1.45" fill="#fff" stroke="#231f20" stroke-width="0.85"/>
<circle cx="334.2" cy="587.0" r="1.45" fill="#fff" stroke="#231f20" stroke-width="0.85"/>
<circle cx="336.5" cy="587.2" r="1.45" fill="#fff" stroke="#231f20" stroke-width="0.85"/>
<line x1="351.70" y1="534.60" x2="351.70" y2="557.70" stroke="#231f20" stroke-width="0.8"/>
<line x1="350.10" y1="534.60" x2="353.30" y2="534.60" stroke="#231f20" stroke-width="0.8"/>
<line x1="350.10" y1="557.70" x2="353.30" y2="557.70" stroke="#231f20" stroke-width="0.8"/>
<circle cx="348.5" cy="540.8" r="1.45" fill="#fff" stroke="#231f20" stroke-width="0.85"/>
<circle cx="354.0" cy="539.0" r="1.45" fill="#fff" stroke="#231f20" stroke-width="0.85"/>
<circle cx="354.0" cy="542.5" r="1.45" fill="#fff" stroke="#231f20" stroke-width="0.85"/>
<circle cx="351.0" cy="563.2" r="1.45" fill="#fff" stroke="#231f20" stroke-width="0.85"/>
<line x1="362.30" y1="581.20" x2="362.30" y2="583.20" stroke="#231f20" stroke-width="0.8"/>
<line x1="360.70" y1="581.20" x2="363.90" y2="581.20" stroke="#231f20" stroke-width="0.8"/>
<line x1="360.70" y1="583.20" x2="363.90" y2="583.20" stroke="#231f20" stroke-width="0.8"/>
<circle cx="360.5" cy="581.5" r="1.45" fill="#fff" stroke="#231f20" stroke-width="0.85"/>
<circle cx="362.5" cy="582.0" r="1.45" fill="#fff" stroke="#231f20" stroke-width="0.85"/>
<circle cx="364.5" cy="581.6" r="1.45" fill="#fff" stroke="#231f20" stroke-width="0.85"/>
<line x1="347.90" y1="527.00" x2="366.20" y2="527.00" stroke="#231f20" stroke-width="0.9"/>
<text x="357.00" y="527.80" font-size="8.5" text-anchor="middle">**</text>
<line x1="411.00" y1="557.50" x2="411.00" y2="563.00" stroke="#231f20" stroke-width="0.8"/>
<line x1="409.40" y1="557.50" x2="412.60" y2="557.50" stroke="#231f20" stroke-width="0.8"/>
<line x1="409.40" y1="563.00" x2="412.60" y2="563.00" stroke="#231f20" stroke-width="0.8"/>
<circle cx="409.0" cy="558.5" r="1.45" fill="#fff" stroke="#231f20" stroke-width="0.85"/>
<circle cx="411.0" cy="561.5" r="1.45" fill="#fff" stroke="#231f20" stroke-width="0.85"/>
<circle cx="412.5" cy="558.0" r="1.45" fill="#fff" stroke="#231f20" stroke-width="0.85"/>
<circle cx="411.0" cy="563.0" r="1.45" fill="#fff" stroke="#231f20" stroke-width="0.85"/>
<line x1="422.00" y1="569.00" x2="422.00" y2="574.50" stroke="#231f20" stroke-width="0.8"/>
<line x1="420.40" y1="569.00" x2="423.60" y2="569.00" stroke="#231f20" stroke-width="0.8"/>
<line x1="420.40" y1="574.50" x2="423.60" y2="574.50" stroke="#231f20" stroke-width="0.8"/>
<circle cx="419.5" cy="572.0" r="1.45" fill="#fff" stroke="#231f20" stroke-width="0.85"/>
<circle cx="422.0" cy="570.5" r="1.45" fill="#fff" stroke="#231f20" stroke-width="0.85"/>
<circle cx="424.5" cy="569.5" r="1.45" fill="#fff" stroke="#231f20" stroke-width="0.85"/>
<line x1="439.00" y1="536.00" x2="439.00" y2="545.50" stroke="#231f20" stroke-width="0.8"/>
<line x1="437.40" y1="536.00" x2="440.60" y2="536.00" stroke="#231f20" stroke-width="0.8"/>
<line x1="437.40" y1="545.50" x2="440.60" y2="545.50" stroke="#231f20" stroke-width="0.8"/>
<circle cx="436.5" cy="541.5" r="1.45" fill="#fff" stroke="#231f20" stroke-width="0.85"/>
<circle cx="439.0" cy="537.5" r="1.45" fill="#fff" stroke="#231f20" stroke-width="0.85"/>
<circle cx="441.5" cy="541.5" r="1.45" fill="#fff" stroke="#231f20" stroke-width="0.85"/>
<circle cx="439.0" cy="543.5" r="1.45" fill="#fff" stroke="#231f20" stroke-width="0.85"/>
<line x1="450.20" y1="561.50" x2="450.20" y2="567.50" stroke="#231f20" stroke-width="0.8"/>
<line x1="448.60" y1="561.50" x2="451.80" y2="561.50" stroke="#231f20" stroke-width="0.8"/>
<line x1="448.60" y1="567.50" x2="451.80" y2="567.50" stroke="#231f20" stroke-width="0.8"/>
<circle cx="447.5" cy="564.0" r="1.45" fill="#fff" stroke="#231f20" stroke-width="0.85"/>
<circle cx="450.0" cy="566.0" r="1.45" fill="#fff" stroke="#231f20" stroke-width="0.85"/>
<circle cx="452.5" cy="563.5" r="1.45" fill="#fff" stroke="#231f20" stroke-width="0.85"/>
<circle cx="450.0" cy="562.5" r="1.45" fill="#fff" stroke="#231f20" stroke-width="0.85"/>
<rect x="461.30" y="513.70" width="4.90" height="5.30" fill="#c7c7cc"/>
<rect x="461.30" y="527.70" width="4.90" height="5.40" fill="#f9bc00"/>
<text x="469.70" y="518.30" font-size="8.5" textLength="42.90" lengthAdjust="spacingAndGlyphs">Ctrl sgRNA</text>
<text x="469.70" y="532.30" font-size="8.5" textLength="33.40" lengthAdjust="spacingAndGlyphs">HIC2 KO</text>
<text x="210.90" y="551.30" font-size="8.5" text-anchor="middle" transform="rotate(-90 210.90 551.30)" textLength="70.80" lengthAdjust="spacingAndGlyphs">Normalized to AHSP</text>
<text x="255.30" y="601.60" font-size="8.5" text-anchor="end" transform="rotate(-45 255.30 601.60)">Scramble</text>
<text x="283.60" y="601.60" font-size="8.5" text-anchor="end" transform="rotate(-45 283.60 601.60)">let-7a/f TuD</text>
<text x="331.40" y="601.60" font-size="8.5" text-anchor="end" transform="rotate(-45 331.40 601.60)">Scramble</text>
<text x="355.60" y="601.60" font-size="8.5" text-anchor="end" transform="rotate(-45 355.60 601.60)">let-7a/f TuD</text>
<text x="418.60" y="601.60" font-size="8.5" text-anchor="end" transform="rotate(-45 418.60 601.60)">Scramble</text>
<text x="446.40" y="601.60" font-size="8.5" text-anchor="end" transform="rotate(-45 446.40 601.60)">let-7a/f TuD</text>
<rect x="0.5" y="0.5" width="519" height="641" fill="none" stroke="#111" stroke-width="1"/></svg></body></html>
